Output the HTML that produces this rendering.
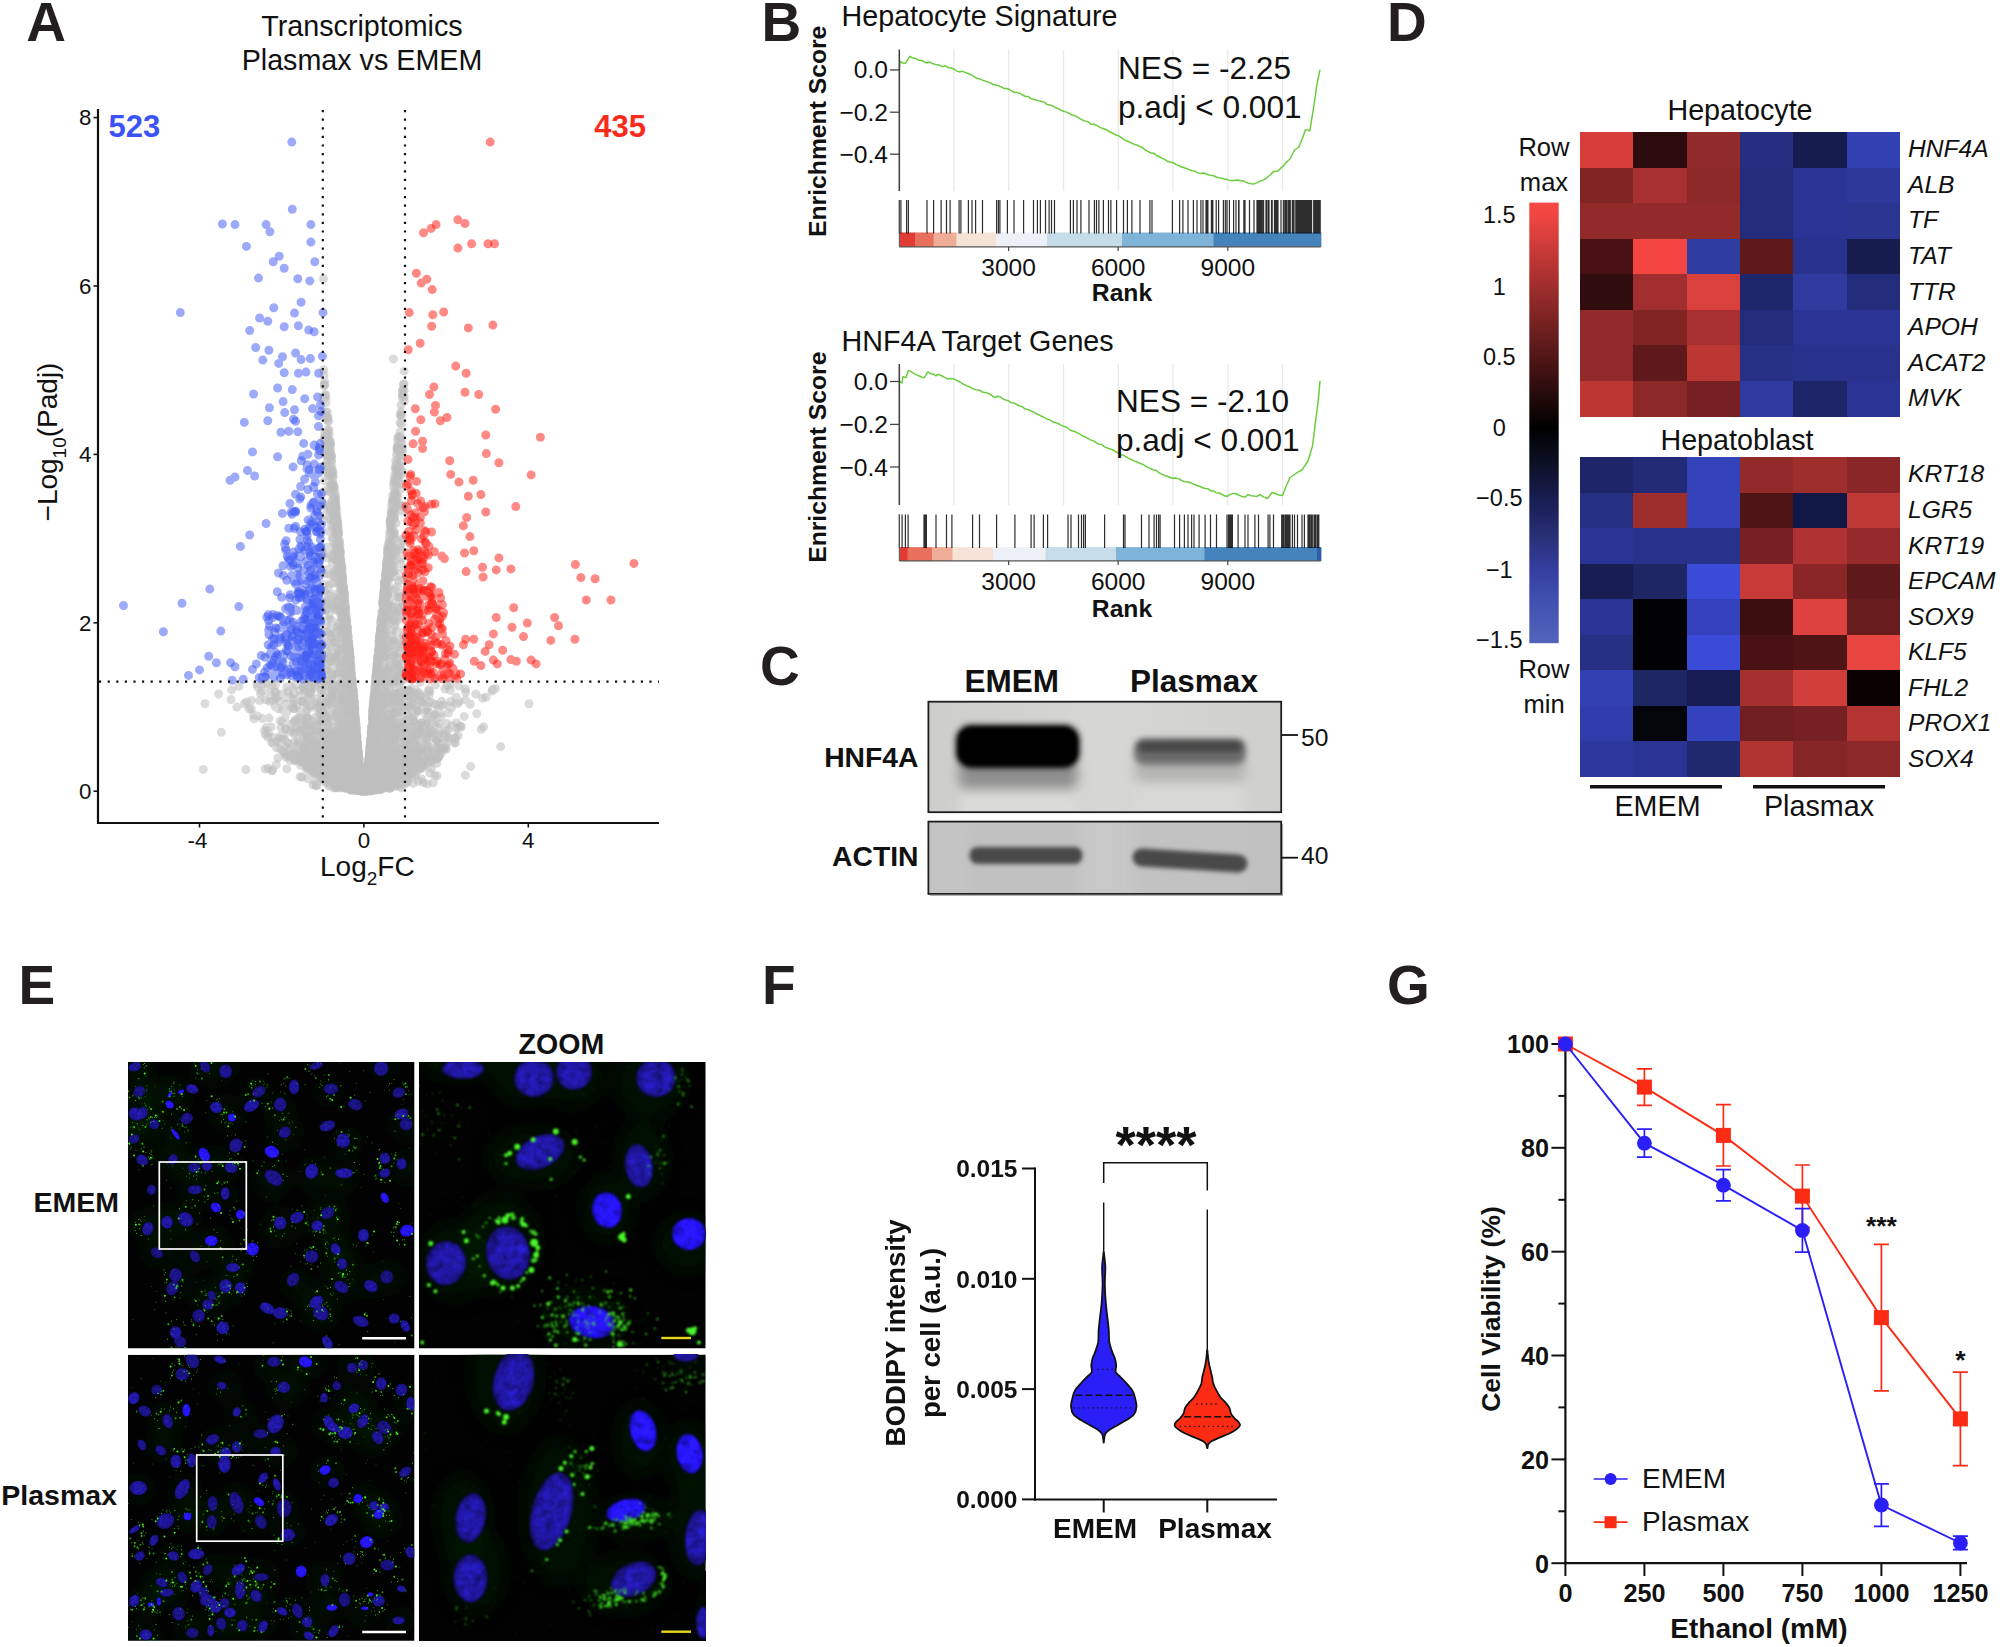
<!DOCTYPE html>
<html lang="en"><head><meta charset="utf-8"><title>Figure</title>
<style>
html,body{margin:0;padding:0;background:#fff;}
body{width:2000px;height:1647px;overflow:hidden;font-family:"Liberation Sans",sans-serif;}
svg{display:block;font-family:"Liberation Sans",sans-serif;}
</style></head><body>
<svg width="2000" height="1647" viewBox="0 0 2000 1647">
<rect width="2000" height="1647" fill="#fff"/>
<text x="26.3" y="41" font-size="55" text-anchor="start" font-weight="bold" font-style="normal" fill="#231f20" >A</text>
<text x="362" y="36" font-size="28.7" text-anchor="middle" font-weight="normal" font-style="normal" fill="#111" >Transcriptomics</text>
<text x="362" y="70" font-size="28.7" text-anchor="middle" font-weight="normal" font-style="normal" fill="#111" >Plasmax vs EMEM</text>
<path d="M361.7 789h0M314.5 731.9h0M362.8 787.9h0M315.9 708h0M342.7 699.3h0M402.6 451.6h0M381.2 785.2h0M330.7 629.9h0M333.7 601.2h0M340.6 779h0M396.9 733.2h0M384.6 781.9h0M431.8 722h0M290.8 731.1h0M348.6 648.6h0M338.9 738.4h0M398.7 580.4h0M394.3 778.3h0M329.8 443.6h0M358.2 751.8h0M417.5 710.7h0M363.7 791.1h0M359.8 788.4h0M392.9 517.7h0M345.7 755.8h0M341.1 783.3h0M329.6 441.9h0M370.4 782.5h0M381.3 625.7h0M347.2 782.9h0M384.1 785h0M332.6 782.4h0M384.5 760.5h0M348.4 785.8h0M353.4 786.5h0M361.4 781.8h0M369.3 788.3h0M333.9 690.4h0M387.8 713.5h0M392.3 753.4h0M357 747.5h0M347.9 772.5h0M361.9 790.8h0M360.1 772.9h0M375.4 683.2h0M349.9 721.5h0M383.1 766.9h0M347.9 654h0M441.6 701.3h0M334.1 696.1h0M323.1 774.2h0M360.4 782.7h0M359.6 788.9h0M361.6 788.6h0M362.3 789h0M359 787.5h0M385 644.2h0M366.3 783h0M349.4 782.9h0M382.7 778.1h0M417.6 698.2h0M337.9 534.7h0M322.7 767.8h0M371.4 758.9h0M315.2 744.4h0M374.2 783h0M333.8 652.9h0M352.1 749.7h0M331.3 620.3h0M337.1 774.9h0M402.7 398.6h0M423.1 695.2h0M382.4 722.8h0M357.6 749.1h0M369.5 788.5h0M312 743.3h0M365.5 786.1h0M336.1 518.5h0M325.5 775.5h0M394.8 779.2h0M340.7 783.9h0M342.4 619.9h0M382.7 604.4h0M324.7 381.9h0M371.8 786.7h0M391.3 645.7h0M353.4 694.5h0M367.3 776.1h0M357.7 769.6h0M381 783.9h0M347.4 760.1h0M364.6 788.1h0M349.3 708.8h0M385.1 751.3h0M231.6 689.9h0M380.1 789.2h0M362.6 786.5h0M332.4 706.6h0M346.4 657.9h0M331.4 460.9h0M367.4 789.1h0M331.2 700.2h0M345.9 631.3h0M342.8 783.9h0M352.2 777.9h0M343.8 787.7h0M360.4 786.1h0M339.8 783.2h0M369.4 788.3h0M330.9 740.4h0M358.9 777.5h0M350.9 779.1h0M351.6 754.8h0M369.6 782.3h0M350.5 779.4h0M346.2 615.2h0M365.4 789.6h0M363 787.1h0M341.1 569.3h0M342.8 784.8h0M341.3 769.9h0M375.7 765.6h0M352.5 688h0M401.7 748.6h0M374.7 699h0M387 764.3h0M362.4 789.8h0M325.2 685.6h0M359.2 790.4h0M364.4 789.3h0M310.3 756.7h0M458.8 685.8h0M369.8 788.5h0M329.1 761.6h0M363.9 789.1h0M348.3 782.4h0M354.1 789.5h0M377.2 667.5h0M364.8 786.4h0M371.9 726.7h0M354.1 701.2h0M366.2 788.9h0M366.1 787.1h0M339.6 554.5h0M374.5 732h0M378.3 781.6h0M358.1 788.4h0M370.8 789.1h0M431.6 702.3h0M367.8 788.4h0M368.1 770.9h0M362.8 788.8h0M379.7 651.7h0M338 782.4h0M315.9 731.9h0M455.5 737.4h0M382.1 624.5h0M305.2 748h0M367.7 789.3h0M350 658.7h0M347.8 650.9h0M386.2 591.6h0M361.8 789.6h0M345.9 619.3h0M394.3 767.8h0M392 536.1h0M369.2 789.4h0M398.8 735.3h0M341.3 782.3h0M352.6 687h0M381.4 783.9h0M360.1 788.3h0M351.9 786.4h0M371.9 754.3h0M384.8 706.4h0M349.4 787.9h0M266.5 727.6h0M360.3 789.4h0M379.3 651.2h0M390.6 778.7h0M398.3 759.3h0M409.3 765.5h0M370.6 783.3h0M359.9 788.7h0M324.9 714.1h0M366.8 780.1h0M365.9 782.5h0M370 754.1h0M356.1 788.9h0M337.9 563.6h0M393.4 359h0M391.4 546h0M354 788.9h0M350.9 773.6h0M438 711h0M387.9 773h0M268.2 768.2h0M364.4 791h0M351.8 788.7h0M303.2 735.3h0M376.2 684h0M365.4 786.2h0M379.8 657.2h0M372.7 788.2h0M318.5 731.1h0M378.4 783h0M377.7 682.1h0M402.2 749.4h0M330 471.4h0M374.3 765.6h0M354 781.2h0M383.4 780h0M361.7 789.6h0M323.5 750.3h0M359.2 758.8h0M363.9 790.3h0M383.7 766.4h0M371.3 788.8h0M393.9 753.2h0M359.3 766.3h0M296.9 754.4h0M368.4 770.3h0M376.2 779.5h0M338.2 782h0M366.4 787.7h0M353.8 702.8h0M336.6 530.6h0M351.7 754.1h0M357.1 788h0M392.7 778.6h0M353.7 786.1h0M335.7 781.1h0M387.3 580.4h0M361.7 790h0M333.5 622.3h0M377.2 663.9h0M357.5 743.9h0M363.5 789.9h0M364.7 789.3h0M386.5 602.3h0M377.7 671.7h0M331.5 780.3h0M355.3 769.7h0M366.7 789h0M279.6 736.5h0M345.3 612.7h0M362 786.2h0M354.5 782.4h0M429.4 725.3h0M353.6 786.1h0M368.3 769.4h0M358.4 790.2h0M326.1 609.6h0M381.9 772h0M357.8 746.1h0M351.3 787.9h0M396.4 662.2h0M331.7 461.4h0M314.4 771.7h0M362.1 785.2h0M421.1 702.1h0M440.1 713h0M386.8 758.6h0M380.4 686.9h0M369.8 789.2h0M361.6 780.4h0M368.7 789.1h0M366.8 788.9h0M430.3 761.1h0M372.6 789.2h0M365.7 789.6h0M384.9 774.8h0M340.7 594.3h0M336.6 782.8h0M369.6 786.6h0M339.2 609.6h0M343.9 687.7h0M357 787.8h0M368.1 767.1h0M358.1 787.9h0M360.4 789.9h0M363.9 789.4h0M359.5 766.2h0M412.2 693.6h0M353 761h0M419.2 692.7h0M398.8 658.2h0M372.9 709h0M349.7 756.9h0M356.2 728h0M372.2 786.6h0M382.7 786.1h0M372.4 717.4h0M371.6 786.4h0M323.9 659h0M354.9 788.9h0M330.1 440.6h0M384.1 595.6h0M358.3 759.4h0M368.6 789.2h0M348 768.5h0M369 784.2h0M356.2 788.4h0M383.5 780.8h0M350 769.6h0M355.4 762.4h0M362.8 788.3h0M398.6 668.1h0M382.8 730.3h0M362.6 788.2h0M377.8 670.8h0M362 789.1h0M338.5 781h0M365.8 789.4h0M348.5 786.8h0M371.6 785.3h0M391.5 773.3h0M361.4 783.1h0M320.3 732.3h0M440.6 748.6h0M366.4 789.3h0M299.9 696.1h0M355.3 758.8h0M356.5 781.5h0M356.4 780.4h0M307.2 765.3h0M356 788h0M436.3 704.5h0M394.5 616.4h0M400.7 780.4h0M326.7 768h0M347.9 709.6h0M399.4 597.6h0M351.2 674h0M373.8 789h0M373.3 789.5h0M362.3 788.9h0M316.3 756.4h0M381.1 754h0M363.9 790.7h0M271.1 726.9h0M337.6 686.7h0M329.9 760.7h0M377.4 663.7h0M337.2 777h0M349.6 778.2h0M363 786.4h0M344 596.1h0M373.5 788.2h0M404.5 748.8h0M386.6 779.3h0M340.6 735.3h0M387.6 593h0M354.2 785.2h0M372.2 784.1h0M390.4 524h0M381.5 688.4h0M361 789h0M350.3 718.8h0M394.5 477h0M318.9 753.5h0M351.9 782.1h0M395.7 779.6h0M342.8 784.4h0M387.2 722.7h0M374.9 783.7h0M372.7 788.5h0M379.1 786.1h0M374.8 785.2h0M354.5 707.2h0M359.2 786.5h0M404.4 401h0M389.5 578.1h0M343.9 739.2h0M328.3 718.9h0M374.2 778h0M397.6 737.1h0M381.9 734.7h0M341.2 778.1h0M353.1 786.7h0M363.7 790.5h0M351.3 770.7h0M358.3 753.2h0M350.6 787.3h0M368.5 786.7h0M369.9 769.5h0M349.3 651.9h0M354.2 781.4h0M380.4 775.9h0M365.9 791h0M337.8 783.2h0M345.8 786.2h0M388.2 675.7h0M322.3 750.5h0M354.5 786.8h0M360 788.9h0M371 739.6h0M338.8 777.8h0M387.8 763.9h0M368 787.9h0M340 683.5h0M361.6 781.8h0M338.8 783h0M389.6 695.7h0M374 786.9h0M384.3 589.7h0M377.2 784.2h0M375.2 787.8h0M327.5 417.7h0M408.3 768.8h0M375 782.2h0M358.8 782.1h0M371.9 725.9h0M371.2 786.6h0M397.1 778.3h0M348.4 759.8h0M340.5 777.9h0M435.5 684.7h0M318.7 772.6h0M236.9 707.1h0M356.8 736.1h0M374.3 779.1h0M328.8 769.5h0M378.3 677.7h0M422.1 722.6h0M365.5 788.1h0M368.9 764.3h0M373.1 787.3h0M383.6 609.2h0M367.1 785h0M381.5 787.6h0M330.3 465.2h0M374.9 765.4h0M370.5 744.4h0M451.5 707.7h0M360.8 786.4h0M353.4 698.7h0M393.2 713.4h0M374.6 694.1h0M420.4 768.7h0M363.4 790.3h0M359.9 790.4h0M341.9 605.3h0M336.1 787.8h0M357.2 784.7h0M351.8 776.3h0M350.6 754.8h0M329.9 632.8h0M379.5 636.8h0M390.7 518.3h0M361 787.4h0M352.9 688.8h0M378.6 657.1h0M344.6 613.3h0M371.9 786.5h0M392.8 780.5h0M368.6 764.2h0M369.5 785.3h0M336.4 535.3h0M343 741.4h0M419.6 748.6h0M355.8 780.6h0M387.4 569.4h0M355.8 726.9h0M386.1 765.2h0M358.1 772.6h0M364 789.6h0M376.3 787.8h0M360.3 772.1h0M356.4 789.3h0M375.5 739.8h0M380.4 787.4h0M370.1 788.8h0M371.1 747.8h0M353.6 700.1h0M321.9 778h0M348.6 770.6h0M366.1 789.9h0M326.4 606.8h0M340.5 775h0M358.6 764.2h0M362.7 787.2h0M389.1 623h0M385.3 778.9h0M356.9 743.7h0M361.3 787.4h0M391.5 552.1h0M316 757.2h0M330.2 455.8h0M327.3 776.9h0M418.7 735.6h0M335.8 529.9h0M334.8 771h0M369 759.7h0M316.6 768.3h0M325.7 394.7h0M350.8 664.8h0M367.4 790.6h0M358.9 788.2h0M348.4 663.4h0M317.9 767.9h0M399.6 728.2h0M377.9 777.8h0M325.3 778.9h0M339.1 542.8h0M393.4 561.2h0M352.1 776.6h0M351 782.8h0M348.3 663h0M344.6 784.6h0M347.2 784.9h0M334.6 778.2h0M358 751.6h0M361.1 787.2h0M398.2 436.7h0M373.9 783.5h0M347.6 775.4h0M354.3 782.3h0M422.6 752h0M333.6 694h0M368.9 788.8h0M341.6 781.8h0M427.1 745.6h0M383.8 785.8h0M350 781h0M328.8 779.2h0M425.2 695.9h0M375.7 766.4h0M354.8 787.9h0M386.1 671.5h0M369.9 750.7h0M397.4 697.1h0M307.7 727.9h0M385.9 608h0M394.4 738h0M372.5 724.4h0M400 563.8h0M323.6 554.8h0M399.6 779.6h0M320.8 776.6h0M365 788.8h0M363.9 787.9h0M368.6 781.6h0M378.1 738.3h0M331.4 624.6h0M412.5 716.9h0M330.6 661.8h0M387.4 775.5h0M376 784.3h0M301.4 761.8h0M384.8 753.8h0M335.6 778.8h0M395.5 693.6h0M307.1 683.5h0M361.8 786.4h0M353.4 789.1h0M387.1 646.9h0M361.1 778.5h0M368.1 788.6h0M372.9 715.2h0M344.1 777.7h0M380.3 674.7h0M387.3 671.7h0M407.7 762.4h0M352.7 692.5h0M293.5 698.3h0M337.8 552.7h0M379.2 784.5h0M347.8 634.5h0M370.9 775.6h0M362.9 790.4h0M350.6 785.7h0M423.4 760.7h0M320.2 775.6h0M393.5 517.6h0M341.3 780.1h0M358.6 789.9h0M368.9 762.1h0M367.2 775.8h0M355.9 725.6h0M338.6 533.8h0M387 784.2h0M326.2 740.1h0M373.4 778.6h0M336.1 777.6h0M349.2 785.1h0M368.1 786.5h0M376.4 671.7h0M346.8 748.5h0M388.1 780.8h0M381.3 782.8h0M421.9 738.7h0M374.3 708.6h0M330.6 717.7h0M385 758.1h0M352.3 766.3h0M420.2 748.1h0M403.6 748.8h0M381.6 711.8h0M375.9 712.6h0M374.3 786.4h0M358.1 756.7h0M349.8 763h0M361.9 789h0M385.8 691h0M416.6 741h0M362.2 790.5h0M322.1 707.6h0M390 771.5h0M363.4 789.4h0M335.8 755.9h0M358 780.2h0M387.2 780.6h0M355.9 751.6h0M357.9 788.9h0M381.7 786.4h0M328.7 449h0M376 780.2h0M333.6 507.2h0M393.5 501.3h0M361.2 790h0M357.9 759.4h0M391.2 570.9h0M366.8 789.3h0M367.9 769.7h0M431.4 768.5h0M345.2 784.9h0M327.4 489.8h0M339 552.8h0M382.5 625.5h0M273.2 743.5h0M362.1 787.9h0M414.6 767.4h0M411.5 692h0M362.8 789.8h0M305.9 744.1h0M346.8 784.3h0M381.5 715.4h0M352.6 754.4h0M365.8 785.9h0M305.5 727.5h0M389.9 770.8h0M360 789.3h0M343.5 588h0M351.5 787.3h0M347.5 779.8h0M353 697.8h0M367 788.5h0M348.5 769.5h0M357.7 789.8h0M350 658.2h0M362.1 788.5h0M387.6 768.9h0M394.1 770.4h0M269.6 701.3h0M394.3 773.6h0M368.2 767.4h0M355.5 788.9h0M371.2 745h0M358 760.8h0M374.4 696.3h0M401.7 606.6h0M326 658.4h0M379.6 763.6h0M369.8 786.4h0M323.7 412.1h0M345.2 779.5h0M366.4 789.6h0M349.4 738.4h0M349 783.9h0M356.4 759.1h0M382.3 785.1h0M377 779.6h0M366.2 790.9h0M358.9 765.3h0M394.5 476.5h0M362.2 785.3h0M333.2 714h0M362 788.7h0M351.9 782.6h0M374 695.8h0M347 636.4h0M390.3 757.5h0M365.5 789.8h0M380.5 631.7h0M347.9 704.3h0M354.2 763.8h0M288.2 756.2h0M379 787.2h0M382.6 783.7h0M359.9 771.5h0M303.5 751.8h0M365.1 790.6h0M331.7 779.6h0M370.1 784.7h0M376 788.9h0M358.8 788.3h0M334 753.4h0M383.5 609.6h0M346.4 784.7h0M342.1 774.9h0M386.8 641.2h0M383 708.8h0M361 776.3h0M373.6 787.6h0M343.7 725.5h0M348.9 737.3h0M382.8 771h0M381 758.1h0M374.3 770.8h0M335.3 533.4h0M290.6 748.2h0M269 718.1h0M373.5 789.9h0M388.5 776h0M380.2 782.5h0M486.1 697.3h0M383.9 773.6h0M386.3 582.2h0M339.2 765.5h0M415.5 765.7h0M353.6 702.5h0M331.9 648.5h0M352.9 733.3h0M399.8 448.6h0M372.8 714.1h0M351.7 681.7h0M383.5 786.1h0M370.4 742.7h0M364.2 790.2h0M362.1 785.4h0M394.8 480.2h0M371.7 741.7h0M376 781.5h0M360.4 788.2h0M378.9 649.6h0M364.1 789.2h0M370.2 763h0M350 785.7h0M343.2 593.7h0M339.7 548.6h0M395.7 768.9h0M362.9 790.7h0M347 628.2h0M348.4 712.5h0M361.6 788.6h0M361 789.7h0M332.4 472.8h0M389.9 775h0M404 383.7h0M350 705.2h0M370.6 745.2h0M344.5 783.7h0M342.8 580h0M365.7 784.9h0M358.5 787.2h0M367.3 787.9h0M340.6 637.5h0M398.9 464.7h0M355 788.8h0M335.9 511.9h0M378.6 781.1h0M338.1 598.9h0M408.6 763.5h0M395.8 759.5h0M351.1 788.8h0M376.7 692.2h0M333.1 776.5h0M294.5 742.2h0M331 458.9h0M368.1 768h0M387.4 557.4h0M359.9 768.8h0M352.3 784.3h0M338.3 755.8h0M352.6 774.7h0M377.9 655.2h0M362.9 788.2h0M364.7 789.1h0M256.9 684.1h0M377.8 678.3h0M362.4 789h0M339.7 667.2h0M361.1 788.9h0M388.9 768.7h0M346 676.1h0M368.5 784.3h0M365.6 790h0M460.7 726.1h0M423.8 741.8h0M367.7 773h0M356.5 786h0M382.8 767.6h0M368.9 788h0M349.7 732.3h0M389.3 547.7h0M358.4 788.7h0M369.5 786.7h0M395 493.6h0M385.1 611.9h0M369.7 789.7h0M378.7 650.9h0M426.9 701h0M350.2 787.9h0M362.5 790.4h0M331.8 773.7h0M373.7 704.4h0M366.5 790.7h0M370.4 744.3h0M327.6 599.9h0M346.5 767.6h0M331.9 779.6h0M356.2 738.1h0M311.5 731.1h0M356.9 787.2h0M368.4 770.3h0M325.4 774.9h0M356 786.8h0M376 710.4h0M379.2 787.1h0M355.3 788.7h0M355.2 767.7h0M366.2 782.2h0M368 768.5h0M349.1 788h0M392.5 545.8h0M353.1 741h0M390.4 545.1h0M340.4 729.6h0M354.7 723.9h0M284.1 735.5h0M395 473.7h0M387.5 693.6h0M390.8 781.2h0M365.8 787.8h0M369.4 788.4h0M292.6 750.7h0M379.4 746.6h0M355.9 785h0M369.9 784.9h0M355 785.6h0M362.7 789.5h0M350.8 666.8h0M380.7 780.2h0M306.3 717.4h0M384.7 586.5h0M326.7 656.1h0M401.3 415.9h0M356.5 788.1h0M351.3 684.5h0M341.3 667.3h0M356.8 788.9h0M340.1 590.5h0M378.9 762.3h0M337.3 542.3h0M388.4 573.5h0M448.6 705.9h0M354.8 707.8h0M334.3 571.6h0M336.2 507.2h0M392.2 736.5h0M366.4 778.3h0M400.4 778.2h0M384.7 785.5h0M398.4 657.8h0M366.2 790.1h0M344.7 781.7h0M354.5 779h0M368.1 768.4h0M396 523.2h0M362.6 790.6h0M348.4 733.1h0M343.8 599.9h0M276.6 747.7h0M361.2 787.9h0M345.5 611.2h0M373.9 741.9h0M383.3 596.4h0M365.6 790.1h0M351 765.3h0M383.7 783.1h0M363 790h0M380.9 780.9h0M321.4 721.4h0M378.4 788h0M346.3 784.5h0M343.2 756.3h0M404.4 762.2h0M332.6 528h0M337.1 530.9h0M377.2 783.8h0M434.5 714.7h0M371.8 728.8h0M361.6 789.2h0M372.6 785.5h0M370.8 787.9h0M355.2 786.8h0M398.6 502.8h0M344.2 763.8h0M388 605.4h0M340.5 781.9h0M354.6 778.4h0M381.1 671h0M455.5 742.7h0M353 783.4h0M366.3 790.3h0M348.9 700.2h0M361.2 788.9h0M369 758.3h0M394.1 511h0M381 621.2h0M409.4 750.7h0M356.5 788.2h0M373.5 711.1h0M352.4 787.2h0M398.4 581.1h0M343.7 774.3h0M316.3 764.6h0M351.7 783.9h0M399.2 672.6h0M346 627.1h0M375.8 776.6h0M354.8 714.8h0M378.2 784.8h0M352.1 701.7h0M364.2 789.2h0M337.7 545.4h0M432.2 702.9h0M356 786.7h0M334.6 719.9h0M349.7 765.8h0M428.7 751.5h0M356 787.5h0M371.4 745.7h0M411.2 773h0M329 773h0M379.2 785.6h0M408.8 740.2h0M372.1 786.7h0M402.7 390.1h0M398.1 609.8h0M374.6 787.4h0M383.9 753.4h0M379 650.9h0M366 782.3h0M378.8 651.5h0M357.9 781.7h0M333.9 774h0M353.2 692.2h0M342.5 780.7h0M352.4 788.3h0M346.4 674.8h0M398.8 696.6h0M348.6 783.8h0M370.3 787.3h0M417.3 754.2h0M366.3 782.6h0M328 429.7h0M341.1 627.2h0M356 787.2h0M366.8 774.7h0M394.5 510.7h0M341.3 738.3h0M331.4 778.4h0M350.3 659.8h0M384.9 586.8h0M356.3 781.6h0M358.8 762.3h0M368.5 762.7h0M393.5 748.3h0M328.4 745.4h0M334.9 504.4h0M435.9 740.2h0M429.1 691h0M387.3 782.6h0M353.6 731.9h0M327.7 778h0M329.3 434.8h0M352.7 692.6h0M330 757.5h0M377.3 695h0M386.2 745.3h0M428 757.8h0M372 766.4h0M385.8 700.4h0M362.4 789.7h0M357.3 788.9h0M346.4 616.8h0M351 676.1h0M358 750.9h0M378.5 722h0M385.8 729.9h0M340.8 581.8h0M332.3 780.1h0M378.1 755.4h0M353.7 778.1h0M396.7 781.4h0M326.2 776.4h0M354.8 786.2h0M327.3 412h0M393.3 640.5h0M362.7 790.4h0M391.7 776.8h0M368.7 759.9h0M359.6 770.4h0M358.1 785.6h0M304.2 694.5h0M374.3 696.5h0M363 788.2h0M397.2 752.9h0M366.7 788.6h0M377.2 764.6h0M350.2 657h0M389.5 566.5h0M349.5 658.4h0M363.9 788.7h0M377.3 787.4h0M308.1 767.3h0M310.5 741.4h0M394.2 726.5h0M351.3 755.5h0M370.5 788.5h0M396.1 468.6h0M373.5 712.3h0M353.7 757.2h0M360.6 778.8h0M317.5 738.9h0M381.5 747.6h0M353.3 773.8h0M333.9 642.5h0M370 765.9h0M331.2 487.7h0M319.7 758.9h0M327.1 671.1h0M376.5 783.1h0M414.1 752.2h0M364.5 789.7h0M397.7 477.1h0M390.3 701.3h0M359.9 788.4h0M348.4 765.4h0M317.7 769.9h0M324.6 433.2h0M392.1 777.9h0M365.5 786.8h0M366.2 785.4h0M365.6 785.2h0M348.8 655.7h0M402.4 395.6h0M392.4 780.6h0M400.3 483.7h0M377.8 768h0M304.9 689.2h0M357.8 789h0M432 755h0M344 783.9h0M358.2 784.6h0M383.2 655.4h0M293.5 708.5h0M350 778.9h0M377 771.4h0M357.4 743.5h0M364.9 788.4h0M384 772.5h0M354.3 769.9h0M338.9 543.1h0M356.6 787.3h0M372.4 789.5h0M418.3 728.6h0M361.5 789.9h0M385.9 595.5h0M371.8 788.6h0M380.8 729.6h0M390.2 526.1h0M350.3 663.7h0M358.5 762.7h0M346.7 754h0M361.7 790.4h0M422.9 762.2h0M395.7 772h0M366.1 789.5h0M394.5 740.8h0M367.4 774.3h0M335.5 693.4h0M350 660.1h0M384.9 767h0M317.6 773.1h0M318.6 773h0M355.8 740.2h0M348.7 771.3h0M342.1 776.9h0M345.1 625.8h0M369.1 785.9h0M382.8 766.5h0M367.4 786.9h0M370.8 777h0M359.8 770.9h0M313.8 763.4h0M400 751.3h0M382.3 689.6h0M399.2 759.6h0M364.3 791h0M369.7 788.1h0M387.9 697.3h0M354.7 789.3h0M368.4 779.8h0M364.9 788.8h0M337.9 776.7h0M354.8 771.5h0M356.9 751.1h0M314.9 769.5h0M376.9 701.6h0M376.8 786.2h0M351.7 784.3h0M373.6 712.9h0M369.7 789.6h0M368.7 787.8h0M331.6 678.8h0M326 445.5h0M360.8 776.3h0M377.5 750.7h0M354.6 707.4h0M340.1 740.6h0M383.5 716.5h0M398.8 775.4h0M386.1 573.6h0M347 626.9h0M347.6 636.4h0M402.3 750.1h0M370.2 789.5h0M342.8 780.8h0M382.3 624.1h0M367.2 788.9h0M388 785.3h0M366 783.8h0M389.9 775.8h0M361.4 784.8h0M341 776.5h0M333.5 522.1h0M319.8 769.3h0M364 789.5h0M356.4 786.9h0M352.1 720.7h0M318.5 764.1h0M343.8 618.5h0M323.3 468.7h0M386 784.9h0M425.3 745.7h0M344 703.2h0M351 763.3h0M365.2 786h0M336.9 522h0M375.7 789.1h0M352.6 774.9h0M380.3 635.9h0M354.3 786.6h0M431.4 720.1h0M384.1 781.9h0M367.7 769.4h0M348.8 646h0M324 375.2h0M357.7 782.5h0M359.4 785.1h0M402.2 769h0M394.6 675.8h0M346.9 785.8h0M441.8 748.7h0M359.1 760.1h0M362.3 789.7h0M368.3 790.2h0M340.4 785h0M395.1 771.5h0M391.5 514.2h0M373.9 699.5h0M400.3 770.4h0M342.6 576.3h0M347.4 752h0M352.6 753.1h0M355.4 789.2h0M373.6 757h0M427.2 783.9h0M279.2 701.2h0M357.2 780.2h0M371.5 786.7h0M344.2 594.9h0M385.8 724.7h0M262.6 684.2h0M378.7 788.4h0M339.7 555.5h0M334.3 498h0M345.9 770.1h0M379.8 772.9h0M339.1 671.7h0M358.9 773.5h0M357.6 786.6h0M262.5 718.6h0M361.6 781.4h0M356.5 771.3h0M356.7 788.1h0M343.1 773.1h0M334.9 760.6h0M367.7 784.5h0M341.6 634.5h0M355.7 789.2h0M305.9 737.6h0M353.6 786.7h0M365.7 790.3h0M334.3 715.1h0M340.1 780h0M385.9 681.8h0M385.4 592.4h0M383.5 772.6h0M330.2 509.8h0M383.4 747.4h0M375.5 771.2h0M369.6 760h0M378.8 787.9h0M372 789.6h0M416.4 735.9h0M370.6 787.3h0M346.6 620.4h0M321.5 690.2h0M351.5 781.3h0M274.8 692.7h0M341.7 730.6h0M349.8 762.3h0M357.3 780.4h0M324.2 733h0M405.4 777.5h0M343.9 638.2h0M343.9 600.4h0M387.7 778.7h0M336.7 518.2h0M371.2 777.4h0M350.2 782.4h0M333.3 692.7h0M383.6 596.1h0M347.9 775.1h0M375.5 785.6h0M388.3 783.8h0M370.5 785h0M318.8 763.5h0M410.9 765h0M367.2 789.8h0M361.8 788.2h0M397.3 768.4h0M371.4 734.3h0M379 754.8h0M368.3 788.5h0M371.6 790.1h0M383.8 771.7h0M310.2 688h0M366.5 784.8h0M363.6 789.2h0M338.2 753.4h0M335 779.8h0M343 782.3h0M328 436.3h0M360.8 789.4h0M335.8 744h0M325.8 455.3h0M355.8 787.7h0M367.4 773.5h0M354.5 733.3h0M400.5 563h0M367.2 789.1h0M434 755.8h0M435.2 753.4h0" fill="none" stroke="#bebebe" stroke-width="9.0" stroke-linecap="round" stroke-opacity="0.55"/>
<path d="M360 784.7h0M354 789.6h0M372.8 783.6h0M371.8 785.7h0M354.4 761.5h0M340.9 784.9h0M396 778.2h0M390.1 728.4h0M334.3 503.1h0M382.6 648.1h0M376.8 769.7h0M308.4 694.3h0M419.9 730.6h0M346.6 787.1h0M257.5 687.1h0M353.9 699.9h0M389.8 560.9h0M378.4 717.9h0M401.4 711.2h0M387.4 765.2h0M366.8 778.8h0M395 468h0M361.8 785h0M357 787.8h0M367.6 785.7h0M379.5 784.1h0M380.8 783.8h0M385.8 619.5h0M347.9 785h0M399.6 619.1h0M370.8 785.2h0M360.2 783h0M391.8 556h0M361 788.3h0M339.3 767.5h0M393.9 513.5h0M399.9 757.2h0M380.9 785.2h0M368.9 763.8h0M384.2 586h0M371.7 726.5h0M329.2 547.2h0M338 785h0M353.7 789.5h0M364 789.5h0M366.8 776.4h0M322.2 730.4h0M374.7 789.6h0M348.8 779h0M385.5 721.5h0M354 704h0M372.7 720.4h0M343.7 603.6h0M338.7 762.1h0M313.1 747.3h0M356.4 774.1h0M301.4 761.6h0M330.7 690.3h0M323.7 439.6h0M373 769h0M391.7 512.7h0M316.5 770h0M335.6 750.2h0M346.7 643.6h0M332 754.9h0M353 739.3h0M405.3 733.6h0M383 730.8h0M379.2 776.2h0M382 784h0M332.8 745.3h0M354.3 785.1h0M360.8 784.9h0M346.1 785.8h0M384.9 582.5h0M366.6 782.9h0M429.3 712.8h0M356.6 766.3h0M381.4 783.5h0M300.1 724.5h0M365 786.7h0M369.1 789.4h0M370.5 752.6h0M374.9 782.5h0M405.8 776.1h0M350.1 788.1h0M345.7 606.7h0M349.9 786.9h0M360.4 771h0M337.5 774.5h0M359.7 788.3h0M394.8 746.6h0M330.6 451h0M351.7 685.3h0M350.3 783h0M409.9 778h0M450.3 690.3h0M371.5 730.3h0M395.8 460.2h0M367.1 778.2h0M375 690.7h0M394.2 484h0M344 592.4h0M341.1 567.8h0M345.5 713.1h0M391.1 525.7h0M358.3 789.3h0M296.5 755.3h0M362.6 790h0M363.4 790.5h0M341.1 669.2h0M388.2 780.9h0M380.9 785.3h0M348.1 787.7h0M352.2 784.7h0M375 767.3h0M359.1 787.1h0M359.7 780.3h0M378.2 779.9h0M334.3 497h0M388.2 739.8h0M432.9 750.3h0M391.1 672h0M359.3 783.2h0M349.4 781.3h0M379.4 747.2h0M385.8 760h0M239 686.3h0M388.6 771.6h0M325.1 717.4h0M370.6 738.8h0M377.9 784.8h0M355 716.1h0M364.6 788.2h0M367.2 790h0M380 633.5h0M375.4 685.5h0M360 790.6h0M303.3 729.6h0M365.5 785.1h0M343.2 783.6h0M380.7 786.9h0M367.1 787.4h0M375.5 787.1h0M388.6 778.1h0M367.6 789.4h0M316 730.2h0M333.5 765.8h0M355.2 786.1h0M351.3 752h0M371.4 751.6h0M446.1 749.4h0M345 767.2h0M383.9 782h0M340.4 576.2h0M361.4 780h0M364.9 789.1h0M362 784.8h0M374.7 689.4h0M316.7 739.2h0M383.6 624.2h0M390.6 781.5h0M388.7 779.7h0M387.3 785.1h0M301.7 718.1h0M371.4 781.6h0M360 782h0M386.5 754.1h0M451.4 726.1h0M327.6 684.3h0M359.5 771.9h0M342.8 739.8h0M363.5 789.1h0M368.7 767.5h0M387.1 560.5h0M372.3 785.7h0M364.2 791h0M378.5 782.6h0M351.6 729.8h0M339.6 560.8h0M333.2 473h0M365.2 789.3h0M354.4 702h0M345.5 640.6h0M356.9 788.1h0M378.3 788.5h0M357.5 776.5h0M330.2 485h0M311.3 754.9h0M376.1 782.8h0M351.6 779.9h0M366.6 789.7h0M397.3 473.4h0M364.7 787.9h0M316.9 725.3h0M380 782.9h0M352 770.1h0M333.8 776h0M380.4 770.9h0M344 762.6h0M368.4 789.5h0M328.2 740.2h0M398.2 643.7h0M373.3 710.3h0M330.5 778.7h0M356.5 785.2h0M392.8 728.9h0M358.3 788.6h0M338.4 548.2h0M361.5 780.5h0M355.6 723.2h0M387.7 558.2h0M384 601.2h0M386.7 718.4h0M378.1 785.8h0M391.2 619.4h0M355 712.3h0M351.2 768.6h0M330.2 445.3h0M353.7 717.1h0M377.7 764.3h0M351.8 788.8h0M360.4 781.6h0M354.3 782.5h0M357 775h0M382 789.1h0M349.7 778.9h0M400.6 615.9h0M386.7 786.7h0M355.8 789.1h0M364.1 790.6h0M353.9 786.6h0M333.6 608.5h0M396.4 462.4h0M362.5 785.1h0M349.9 685.2h0M364.5 789.2h0M328.1 684.6h0M357.4 788h0M323.4 771.4h0M357.2 742.9h0M332 773.8h0M364.4 788.8h0M309.4 700.4h0M355.4 728.8h0M380.2 777.7h0M369.8 788.4h0M385.6 579.9h0M380.4 783.4h0M370.6 777.3h0M374.6 699.5h0M355.7 721.5h0M481.2 729.3h0M364 790.8h0M346.5 624.7h0M361.4 782.2h0M315.7 751.3h0M400.3 546.9h0M364.2 790.8h0M400.2 778.9h0M383.7 592.7h0M368.3 765h0M403.5 384.4h0M375.1 787.4h0M376.9 678.6h0M338.9 735.4h0M365.4 785.4h0M374.8 782.7h0M376.4 783.5h0M394.7 518.1h0M307.1 740h0M376.8 763.2h0M334.7 780.8h0M405.3 770.9h0M372 789.6h0M378.9 644.8h0M417.3 735.6h0M353.3 701.6h0M357.5 745.5h0M349.7 786.3h0M364.4 789.4h0M383.1 677.6h0M407.2 763h0M375.9 759.5h0M352.2 689.7h0M352 678.6h0M348.7 649.3h0M368.3 787.4h0M366.7 777.6h0M272 770.7h0M366.2 790.5h0M381.4 759.6h0M337.7 780.9h0M353.9 701.2h0M403 741.2h0M410.9 693.1h0M337.3 753.8h0M357.1 744.2h0M387.3 647.9h0M361.7 789.2h0M320.4 774.1h0M381.5 784.3h0M333.4 488h0M383.9 783h0M396.4 779.7h0M384.1 701.4h0M383.7 780.3h0M348 785.5h0M364.3 789.9h0M345.1 602.9h0M366.1 788.3h0M394.5 533.5h0M327.1 547.5h0M387.7 770.6h0M369.4 788.1h0M346.7 776.6h0M348.3 635.6h0M356.9 743.7h0M349 773.1h0M392.9 776.7h0M354.4 732.8h0M452.7 726.1h0M390.4 642.3h0M327.5 765.7h0M331.7 762.4h0M368.3 788.6h0M376 677.5h0M415.1 759h0M347 641.4h0M345.1 607.3h0M348.8 647.4h0M355.7 789.2h0M404.1 371.1h0M400.6 771.3h0M370 754.7h0M394.7 776.8h0M402.4 394h0M390.6 544.7h0M414.1 698.7h0M363.3 788.5h0M359.5 775.7h0M359.8 788.3h0M366.2 783.1h0M375.7 777.1h0M428.8 712.5h0M415.1 772.7h0M365.4 785.7h0M288.2 692h0M332.5 674.6h0M428.6 761.8h0M294.2 759.5h0M348.8 787.3h0M375.8 786.7h0M367.9 773.9h0M379.8 650.8h0M358.4 790h0M373.1 787.4h0M344.1 779.2h0M359.2 783.2h0M357.4 779.8h0M398.8 703.3h0M346.8 769h0M361.8 788.8h0M391.9 530.8h0M349.8 664.1h0M366.9 774.6h0M435.8 747.6h0M386.2 581.1h0M364.1 790.6h0M335.8 752.6h0M362.9 788.6h0M358.3 788.1h0M346.8 759.1h0M336.8 774.9h0M373.5 704.9h0M370.7 744.2h0M384.2 782.3h0M396.3 694.3h0M361 786.3h0M376.8 784.2h0M342.7 687.7h0M344.9 785.5h0M359.3 787.1h0M390.1 787.9h0M373.1 787.4h0M387 756.5h0M358 786.2h0M375.3 773.9h0M364.1 788.9h0M326.9 718.8h0M355.2 722.9h0M364 789.2h0M342.8 784.3h0M328.1 458h0M329.2 743.5h0M285.1 754.1h0M384.1 781h0M401.8 671.8h0M338.8 769.4h0M371.1 739.6h0M393.5 783.5h0M387.5 765.4h0M353.3 787h0M335.7 786.6h0M361.4 789.5h0M332.5 766.4h0M340 737.4h0M400.1 759.9h0M382.5 781.1h0M345.8 779.7h0M429.2 694.7h0M348.3 725.8h0M379.1 641.3h0M338.4 552.7h0M376.3 789h0M356.9 739.7h0M355.6 786h0M334.7 756.8h0M375.4 786.3h0M398.9 439.1h0M335.6 765.9h0M345.7 786h0M329.7 697.8h0M384.9 612.3h0M397.9 496h0M356.2 789.4h0M373.5 788.8h0M436.6 750.5h0M369.2 790.4h0M381.6 779.2h0M374.3 749.3h0M371.6 788.4h0M379 785h0M334.6 780.5h0M379.8 768.2h0M365.3 787.4h0M358.4 759.6h0M338 550.6h0M352.4 774.5h0M349.4 655.5h0M374.3 705.4h0M347.5 768.9h0M336.3 717.2h0M365.3 789.1h0M359.2 787.7h0M352.2 770.4h0M347.9 786.6h0M381.5 748.5h0M384.6 585.5h0M385.6 617.6h0M321.9 779.8h0M349.4 786h0M370.8 743.6h0M336.3 528.5h0M366.9 788.3h0M359 760.1h0M338.1 773.4h0M420.8 767.7h0M368.1 789.7h0M419 765.7h0M360.2 790.9h0M373.4 752h0M341.4 571.2h0M392.5 782.7h0M344.1 761.8h0M346.1 624h0M377.1 778h0M348.7 784.8h0M369.9 748.7h0M276.2 692.3h0M379.2 783.6h0M337.9 781.3h0M385.9 576.6h0M365.6 783.3h0M403.5 763.8h0M403.8 579.7h0M358.4 786.1h0M338.9 695.1h0M392.6 499.7h0M348.9 737.6h0M347.2 637.4h0M393.7 765.8h0M330.7 575.2h0M385.5 686h0M365.1 790.1h0M391.2 776.8h0M347.5 630.2h0M359.7 788h0M395.5 741.7h0M413.3 734.1h0M361.8 781.5h0M279 738.6h0M399.8 490.4h0M344.7 785.8h0M356.2 781h0M366.2 784.3h0M331.1 769.7h0M369.2 789.7h0M370.8 783.3h0M378.6 649.4h0M369.3 787.5h0M348.1 752.9h0M394 570h0M369.6 767.6h0M364.7 789.3h0M346.9 777.6h0M366.7 777.1h0M358 789.8h0M374.3 786.8h0M374.4 695h0M401.1 771.8h0M394 562.6h0M391.8 778.6h0M221.3 732.2h0M286.7 712.1h0M380.7 752.9h0M378.9 782h0M341 785.2h0M345.6 722.5h0M354.3 751.6h0M374.1 782.3h0M400.9 559.1h0M380.9 777.4h0M343.6 784.6h0M399 773.5h0M396.3 778.9h0M441.1 753.7h0M379.3 715.5h0M323.6 761.1h0M358.4 788.6h0M367.7 790.4h0M386.2 588.7h0M335.3 528.7h0M357.2 789.7h0M331.1 684.2h0M394.8 777.2h0M372.9 783.8h0M366.1 781.8h0M347.3 756.7h0M342.1 742.2h0M357.8 787.8h0M358.6 758.4h0M340.9 779.1h0M350.8 786.4h0M378.4 762.7h0M405.5 776.4h0M359.5 785.9h0M340.6 741.9h0M364.7 790.9h0M376.4 780.5h0M362.8 787.7h0M373.6 763.9h0M327 417h0M362.6 785.8h0M319.9 728h0M360.8 776.6h0M340.4 698.3h0M332.5 778.4h0M358.2 790.5h0M367.6 772.1h0M387.8 552.8h0M334.3 558.4h0M369.8 760.3h0M353.6 698.1h0M367.6 788.3h0M409.4 765.5h0M375.9 787.4h0M280.3 749h0M372.7 789h0M416.8 746.1h0M307.2 761.6h0M342.5 786.1h0M321.7 756.6h0M374.6 785h0M337.9 783h0M359 763.4h0M370.6 741h0M295.6 759h0M333.5 735h0M363.3 790.3h0M374.1 737.6h0M371.9 775.4h0M396.9 773.9h0M410.2 759.6h0M384.2 747.5h0M386.3 604.3h0M354 787.1h0M380.3 749.2h0M342.2 782h0M435.4 714.4h0M365.4 789.1h0M329.8 765.9h0M361.4 786.4h0M378 774.6h0M399.9 723.4h0M361 788.6h0M373 787.4h0M353.2 782.4h0M349.8 656.2h0M361 788.2h0M371.7 784.8h0M320.6 746.9h0M349.2 778.6h0M400.9 414.1h0M343.2 697.9h0M366.7 790.9h0M416.3 765.1h0M360.5 789.6h0M381 641.8h0M385.3 785.5h0M348 636.9h0M286 704.3h0M378.5 784.6h0M411.8 688.4h0M349.7 739.3h0M364.3 788.8h0M357.3 784.6h0M382.1 781.6h0M398.5 663.7h0M345.4 786.5h0M350 787.6h0M381.7 771.5h0M357.2 779.3h0M376.3 782.5h0M350.8 788h0M381.4 785h0M337.7 778.1h0M359.9 790.5h0M384.2 592.5h0M326.3 763.7h0M276.2 764.7h0M362.5 789.2h0M364.9 789.3h0M348.2 780.1h0M397.2 658.1h0M363.3 790.2h0M329.9 451.7h0M369 761.6h0M346.9 641h0M450.5 701.6h0M352.9 783.9h0M361.2 781.5h0M355.2 786.4h0M358.7 774h0M376.1 774.8h0M378.6 742.4h0M365.5 786.7h0M359.2 769.1h0M329.6 454.1h0M386.9 645.2h0M359.9 786.4h0M326.2 768.2h0M337.4 654.9h0M405.6 720.6h0M401 440.8h0M361.9 789.7h0M387.1 617.5h0M355.7 779.8h0M385.4 574.7h0M337.8 551.7h0M361.8 790.6h0M353.8 785h0M382.4 729.3h0M370.3 786.4h0M383.9 783.9h0M344 782.9h0M382.6 787.1h0M409.2 748.4h0M337.2 777.9h0M364.5 789.2h0M357.2 753.7h0M356.7 788.3h0M417.6 751.8h0M338.5 745.6h0M365.9 788.8h0M365.7 783.2h0M332.2 548.4h0M355.4 719.1h0M444.7 731h0M364.7 789.2h0M439.6 705.6h0M393.8 740.7h0M362.1 784.6h0M358.9 786.7h0M357.5 746.2h0M351.3 774.1h0M419.4 762.4h0M372.3 772.7h0M356.3 785.9h0M373.6 785.3h0M338.3 784.4h0M360.9 789.5h0M394.4 651.3h0M367.3 787.8h0M399.7 694.9h0M326.8 685.8h0M341.7 784.1h0M403.6 776.8h0M369.5 785.4h0M376.7 786.5h0M346 784.6h0M396.9 768.1h0M380 778.6h0M365.8 790h0M389.6 778.5h0M342.2 782.9h0M364.5 789.1h0M370.2 788.7h0M400.5 775.5h0M377.8 786.5h0M328 778.4h0M351.4 699.8h0M355.5 787.3h0M355.1 719.1h0M374 788.3h0M356.1 788h0M364 789.9h0M384.7 774.4h0M402.4 672.1h0M344 777.8h0M372.8 711.8h0M375 725h0M293.8 722.2h0M362.3 789.5h0M395.3 751.9h0M376.7 788.5h0M359.9 770.7h0M456.3 728.6h0M366 789.1h0M470.6 766.4h0M412.1 706.1h0M361.9 783.8h0M350 747.7h0M402.7 777.4h0M369.8 789.4h0M331.1 777.9h0M321.7 722.4h0M324.3 384.7h0M372.8 785.1h0M369.5 760.9h0M413.7 773h0M367.1 788.6h0M394.9 760.8h0M379.7 665.6h0M376.6 674.7h0M375.6 708.8h0M359.8 768.6h0M346.2 637.6h0M380 695h0M385.5 782h0M352.8 742.9h0M370.5 786.5h0M331.4 688.4h0M407 690.9h0M368.2 787.8h0M328.3 746.8h0M356.9 777.8h0M354.5 784.4h0M351.1 784.9h0M437.4 746.8h0M293.8 734h0M348.3 781.7h0M382.8 785.7h0M353.6 778.5h0M352.8 788.7h0M333.6 775.8h0M345.8 785.8h0M335 751.1h0M298.7 719.2h0M343.8 615.5h0M358.2 784.5h0M338.3 548.2h0M335.7 767h0M354.8 756.5h0M354.6 786.8h0M359.5 789.6h0M341.3 564.8h0M352.1 786.3h0M375.8 765.7h0M368 785.6h0M401.8 774.5h0M339.8 550.5h0M407.5 695.9h0M348.7 641.4h0M342.2 778.5h0M373.2 712.7h0M374.7 786.9h0M439.1 723.6h0M339.3 582.5h0M336.5 712.7h0M358.1 789.7h0M345.9 780.6h0M360.4 790.5h0M393.7 740.3h0M357.5 790h0M365.6 784.3h0M369.9 781.2h0M332.7 781.6h0M282.4 709.5h0M370.9 748.3h0M361.6 786.8h0M383.2 612h0M339.5 787.4h0M352.1 785.1h0M362.4 787.7h0M352.5 768.1h0M308.9 757.8h0M373.4 712.6h0M330.2 745.8h0M305.8 763.3h0M388.4 780.4h0M337.1 782.6h0M358.4 789.4h0M326.8 764.6h0M385 767.4h0M379.4 645.1h0M383.4 596.9h0M373 786h0M319.3 682h0M345.7 786.4h0M380.3 785.4h0M342.9 610.1h0M327.9 466.2h0M316.3 785.8h0M351.9 769.3h0M382.8 603h0M346.4 671.2h0M376.6 787.2h0M384 717.1h0M394.5 620.1h0M331.8 779.5h0M394.7 730.5h0M372.8 775.6h0M339.1 743.2h0M361 789.4h0M341.2 638.7h0M371.4 789h0M348 782.8h0M342.8 759.5h0M395.2 765.5h0M354.4 773.2h0M384.4 780.7h0M397.1 778.2h0M354.4 785.5h0M327.9 505.5h0M373.2 786.3h0M355.5 720.3h0M326.7 778.7h0M327.4 732.1h0M323.8 452.6h0M368.8 790.1h0M389.7 771.1h0M314 687.7h0M402 471.4h0M314.4 773.2h0M349.2 777.3h0M376.1 784.4h0M380.9 634.9h0M360.7 773.9h0M368.3 766h0M349.9 786.2h0M378.6 781.4h0M336.3 529.7h0M344.7 784.9h0M355.8 786h0M393.8 483.5h0M370.9 738.1h0M352.9 691.1h0M374.3 751.5h0M374.8 695.6h0M348.8 771h0M421.1 751.5h0M347.2 702.5h0M358.7 790h0M365.8 788.6h0M350.4 787.3h0M363.5 787.3h0M265.6 699.7h0M373.9 704.2h0M349.2 650.8h0M317.5 683.1h0M353.6 788.8h0M377.1 784.4h0M358.3 780.8h0M305.1 746.9h0M350.9 789.1h0M382.7 695.8h0M369.4 754.7h0M407.3 721.1h0M284.8 717.4h0M351.8 781.8h0M408.9 775.6h0M386.6 575.2h0M352.5 702.9h0M272.5 737.5h0M363 786.5h0M376.3 681.2h0M340.1 752.4h0M392.4 700.7h0M384.3 635.4h0M318.3 738.9h0M418.7 765.3h0M374.4 712.9h0M346.5 755.1h0M370.8 789.1h0M368.4 784.3h0M372.4 784.6h0M429.9 758.2h0M328.8 553.7h0M383.7 600.8h0M361.8 783.5h0M389.9 780.4h0M373.8 715.9h0M350.4 751.7h0M361.4 790.5h0M344.1 771.3h0M341.9 783.7h0M345.7 763.4h0M360.6 790.3h0M377.4 663.4h0M332 762.4h0M346.1 658.1h0M299.3 758.8h0M349.9 679.7h0M287.9 743.3h0M424.1 765.7h0M385.8 581.4h0M381.5 619.4h0M391.6 573.4h0M368.9 786h0M342.6 747.5h0M332.4 547.4h0M348.1 784h0M365.6 790.5h0M348.7 785.3h0M367 789.8h0M383.6 759.6h0M359.5 789.5h0M346.6 775.5h0M323.9 781.1h0M397.8 440.6h0M376.9 675.8h0M367.3 774.7h0M383.3 607.6h0M380.5 786h0M350.5 666.6h0M374.4 786.9h0M385.4 769.9h0M342.3 610.3h0M387 586.7h0M354.6 711.4h0M386.8 724.6h0M369.3 790h0M365.7 788.2h0M329.5 757.5h0M397.2 765.6h0M351.9 683h0M386.4 575.4h0M350.3 775.1h0M322.2 734.9h0M354 788.3h0M303.1 687.5h0M349.2 656h0M341.2 722.8h0M362.9 788.8h0M353.7 787.2h0M376 685.3h0M354.1 717.8h0M376.1 781h0M377.1 768.8h0M373.1 788.2h0M339.7 773.2h0M365.6 788.4h0M327.2 742.6h0M358.4 757.9h0M378.5 658.3h0M343.6 781.2h0M376.2 680.9h0M360.5 778.5h0M392.1 769.4h0M332.6 505.7h0M482.6 698.3h0M280.1 720.9h0M376.9 669.2h0M371.5 733.2h0M383.1 717.6h0M375.7 681.5h0M372.8 783.8h0M386.4 781.2h0M328.2 779.1h0M417.8 710.3h0M394.9 712.9h0M384.7 592.5h0M387.9 612h0M358.3 778.4h0M344.9 767.6h0M333.5 780.5h0M348.5 727.5h0M379.7 638.3h0M370.7 789.6h0M368.1 787.9h0M393.6 783.9h0M385 771.1h0M382.1 644.4h0M358.5 759.6h0M361.9 789.3h0M320.7 769.8h0M340.6 738.5h0M349.8 678.3h0M350.2 663.3h0M312.6 771.2h0M411.9 777.1h0M363.5 790.2h0M352.4 786.9h0M391.7 766.1h0M388.3 548.6h0M340 777.2h0M358.2 751.9h0M360.3 788.5h0M346.5 638.2h0M361.6 788.8h0M367.7 789.3h0M373.8 781.8h0M366 787.3h0M401.5 787.9h0M305.6 745.7h0M332.2 771.6h0M387.9 782.8h0M372.6 728.1h0M391.4 524.3h0M367.8 787.5h0M398 697h0M350.7 668.5h0M352.7 735.4h0M376.7 707.8h0M333.2 476.5h0M368.7 779h0M368.9 759.1h0M352.5 688.7h0M362.3 786.3h0M339.1 781.6h0M363.6 788.6h0M347.5 784.5h0M342 771.7h0M338.5 566.4h0M438.5 738.9h0M356.7 746h0M376.6 672.1h0M324.9 591h0M399.2 675.4h0M342.4 646.3h0M378.8 659.2h0M341.4 719h0M423.4 782.6h0M348.6 743.6h0M376.4 787.8h0M427.5 718.7h0M366.4 790.5h0M253.5 715.1h0M397.7 452.5h0M406.5 767.3h0M356.3 746.4h0M304.2 747.8h0M335.4 552.6h0M353.8 698.1h0M334.1 555.2h0M378.5 671.6h0M352.2 742h0M328.7 750.6h0M341.7 606.4h0M389.8 760.7h0M421.5 701.7h0M381 765.9h0M384.2 597h0M352.5 770.1h0M360.3 789.5h0M359.4 766.4h0M376.4 786.1h0M415.7 689.8h0M366.5 782.5h0M366.8 788.2h0M363.6 789.4h0M359.8 767.9h0M341.9 755.1h0M385.6 575.4h0M377.9 786.3h0M375.5 688.6h0M331.6 735.5h0M429.9 735.1h0M392.3 526.5h0M361.5 789.8h0M325.8 770.5h0M311.9 730.6h0M359 774.5h0M380.5 772.3h0M305.5 736.1h0M364.6 790.9h0M340.7 724.9h0M398.9 447h0M363.5 790.7h0M328.7 772.9h0M396.6 614.4h0M352.5 750.4h0M355.1 788.3h0M395.4 490.2h0M401.4 596.4h0M384.5 774.1h0M383.9 769.6h0M319.9 766.4h0M390.5 771.3h0M356.7 787.5h0M400.7 414.6h0M385.6 786.2h0M386 570.1h0M394.5 697.1h0M378.5 757.7h0M387.9 698.6h0M378.3 784.6h0M395.9 602.4h0M357.9 785.9h0M404.9 775.2h0M401.3 441.1h0M346.4 670.1h0M375.4 781.3h0M372.9 710.2h0M361.2 781.5h0M351.3 788.7h0M396.5 454.6h0M360.9 779.4h0M351.7 727.7h0M400.3 775h0M353.2 699.3h0M369.2 788.2h0M358.8 788.7h0M381.1 725.4h0M368.7 768.7h0M346.2 748.8h0M365.7 788.3h0M356.5 734.1h0M387.8 547.8h0M354 771.3h0M382.5 631.3h0M359.2 777.5h0M332.7 470.7h0M365.6 784.8h0M332.5 770.5h0M338.8 782.4h0M334.9 696.5h0M418.2 763.3h0M349.5 658.3h0M364.8 789.7h0M394.4 775h0M374.8 725.8h0M251.6 700.4h0M376.2 674.3h0M323.4 659.4h0M385.5 583.5h0M371.2 739.6h0M378.7 784.1h0M409.5 760.2h0M365.9 790.5h0M350.1 673.8h0M376.1 788.2h0M376.4 784.9h0M356.3 788.8h0M382 668.3h0M351.8 780h0M351.4 689.8h0M396.5 733.1h0M407.5 745.3h0M356.4 751.6h0M339.9 554.6h0M373.9 787.7h0M363.3 789.2h0M288.6 691.8h0M331.1 583.8h0M356.2 779.9h0M356.8 748.2h0M438.9 735.7h0M385.6 667.4h0M386.3 563.7h0M400.8 773.5h0M335.3 498.5h0M392.1 771.4h0M360 789.6h0M332.7 771.6h0M375.1 783.4h0M362.6 789.1h0M364.8 789h0M382.2 759.3h0M354.8 788.5h0M364.8 789.6h0M343.8 781.6h0M342.3 783.6h0M292.9 704.5h0M406.3 769.2h0M311.8 769.2h0M343.1 623.4h0M386.1 778h0M335.1 506.3h0M436.8 759h0M337 686.3h0M342.4 675.2h0M377.8 675.5h0M357.5 746.2h0M337.4 786.1h0M351.4 683.1h0M361.3 790.7h0M367.8 788.4h0M257.3 715.9h0M354.7 778.4h0M309.4 761h0M341.2 769.3h0M380.4 787.9h0M376.9 786.3h0M405.7 776h0M357.3 790.1h0M350.7 782.1h0M372.5 716.1h0M345.6 786.7h0M395.8 461.7h0M367.1 788.9h0M356.7 735.1h0M403.6 773.9h0M384.8 782.7h0M374.9 732.9h0M355.5 785.5h0M354.8 722.4h0M401.2 769.2h0M395.4 680.4h0M354 738.5h0M337.6 767.1h0M369.1 789.2h0M369.7 790.2h0M371.4 788.2h0M393.1 718.6h0M377.6 785.4h0M386.5 697.8h0M368.9 762.7h0M382.8 679.8h0M360.5 774.7h0M363.7 790.9h0M374.7 787.9h0M344 785.7h0M384.2 755.7h0M363.4 790.4h0M386.7 776.5h0M357.1 786h0M374.2 786.3h0M354.9 737.6h0M369.9 788.6h0M366.6 789.8h0M355.2 763.4h0M337.2 627h0M340.6 564.2h0M382.5 781.8h0M413.6 721.3h0M380.1 784.3h0M336.8 579.8h0M380.1 785.7h0M371.5 731.1h0M328.5 774.8h0M358.3 789.1h0M368.9 789.8h0M362.9 788.5h0M331.1 778.9h0M391.6 770.2h0M418.6 767.6h0" fill="none" stroke="#bebebe" stroke-width="9.0" stroke-linecap="round" stroke-opacity="0.55"/>
<path d="M353.7 764.1h0M359.7 789.8h0M342.3 781h0M353.2 788.8h0M375 686.4h0M367.3 790.1h0M365.9 789.9h0M407.7 765.7h0M371.9 790.1h0M352.4 766.1h0M362.5 790.1h0M349.3 764h0M329.2 786.1h0M366.7 788.5h0M345.1 777.7h0M356.3 787.3h0M356.8 776.9h0M370.4 755.4h0M371.8 772.1h0M387.4 775.1h0M387.1 582.7h0M354.4 719.6h0M343.9 713.7h0M329.1 773.9h0M372.6 732.7h0M330.5 774.2h0M390.1 774.5h0M399.5 727.1h0M325.2 674.8h0M383.1 764h0M340 781.5h0M353.4 785.8h0M265.7 733.9h0M359.7 788.7h0M378.1 678.5h0M344.5 782.7h0M364.1 790.1h0M352.6 694.9h0M386 783.3h0M326.2 610h0M359.6 772.2h0M397.9 458.1h0M400.8 692.4h0M377.7 657.5h0M391.6 608h0M341 786.4h0M387.8 758.4h0M389.6 531.7h0M357.8 789h0M389.9 780.3h0M369.3 787.1h0M352 773.5h0M332.2 687.7h0M348.9 645.7h0M395.6 622.3h0M344.5 778.6h0M340.1 575.3h0M364.7 789.2h0M344.5 771.8h0M387.8 657.5h0M356.1 787.1h0M330.8 656.8h0M369.2 775.6h0M325.5 441.6h0M385.2 760.9h0M427.7 733.2h0M388.7 773.3h0M387.6 553.1h0M376.8 786.8h0M353.4 785h0M347.3 633.1h0M293.9 753.1h0M379.5 731.6h0M306.5 749.3h0M378.8 779.1h0M282.3 739.1h0M390.3 556.4h0M369.7 786.3h0M375.9 731.1h0M389.3 564.2h0M339.9 611.8h0M324.7 436.7h0M397.3 764.9h0M369.3 787.2h0M286.8 768.9h0M313.8 758.3h0M352.9 777.4h0M377.3 663.7h0M365.7 790.1h0M349.2 776.8h0M401.4 715.7h0M300.1 711.4h0M399.5 544h0M307.3 737.1h0M414.3 715.6h0M351.4 782.1h0M345 762h0M309.6 765h0M369.2 763.5h0M370.4 777.9h0M344.3 782.4h0M367.8 789.2h0M362 790.4h0M375.2 692.9h0M365.4 789.4h0M344.7 780.4h0M355 783.3h0M349.2 665.4h0M364.7 788h0M388 735.6h0M341.7 565.9h0M353.8 786.3h0M358.2 753h0M313.3 730.5h0M370.1 746.7h0M352.1 680.6h0M351.5 769.8h0M386.2 777.2h0M384.9 760.6h0M374.3 786h0M363 789.7h0M391.9 762.6h0M402 750.8h0M377.9 783.8h0M363.5 788.9h0M376.7 787.3h0M331.3 484.6h0M385.9 752.4h0M353.7 788.2h0M370.6 788.7h0M323.6 396.8h0M370.7 740h0M364.9 790.1h0M441.2 717h0M380.3 785.4h0M397.8 698.3h0M395.1 777h0M393.7 774.1h0M361.8 787.8h0M367.5 788.6h0M368.6 789.7h0M421.4 764.1h0M368 790.1h0M345.8 781.9h0M392.9 753.1h0M367.6 789.7h0M358.1 785.4h0M344.2 607.7h0M346.3 657.7h0M380.4 785.1h0M384.4 760.7h0M401.4 777.9h0M371.8 727.9h0M366.3 781.3h0M338.7 780.7h0M356.2 787.4h0M370.1 789.5h0M387.8 696.7h0M364.8 786.2h0M367.5 781.9h0M380.8 775.3h0M350.2 730.9h0M388.1 744.9h0M302.7 702.1h0M375.2 770.4h0M383 615.5h0M344.6 625.4h0M366 785.3h0M366.4 784.8h0M378.5 774.8h0M331.2 768h0M342.3 783.5h0M372.3 784.2h0M374.3 748.3h0M366.8 788.4h0M367.9 785.9h0M344 622.5h0M366.1 787.1h0M329.8 779.3h0M326.5 668.6h0M369.5 757.3h0M401.4 767.6h0M332.5 741.4h0M330.7 765.5h0M354.2 702.4h0M386.4 778.7h0M377.5 658.3h0M327.6 507.6h0M317.3 751.6h0M363.2 789h0M373.6 703.7h0M363.5 790.8h0M364.8 789.3h0M353.2 772.4h0M360.3 785.5h0M259.6 700.6h0M249 708.9h0M340.6 552.8h0M370.2 780.5h0M363.4 790.6h0M422.8 767.5h0M331.1 775.3h0M353.8 787.3h0M373.8 785.2h0M357.6 788.6h0M392.7 572.6h0M381.1 731.8h0M366.2 790h0M352 781.4h0M368.3 790h0M396.1 780.9h0M284.8 745.6h0M352.7 786.5h0M369.3 781.6h0M380.3 777.2h0M388.2 562.3h0M367.6 790.1h0M380.9 622.7h0M332.4 780.9h0M380.8 783.7h0M381.4 653.8h0M381.5 618.7h0M373.1 728.9h0M393.6 711h0M352.5 781.3h0M399.5 776.9h0M377 785.7h0M372.1 780.4h0M393.5 781.4h0M371.2 784h0M330.5 693.4h0M305.1 751.5h0M375.7 788.3h0M364.1 789.2h0M389.7 735.2h0M335.2 509.5h0M360.7 776.2h0M383.6 748.4h0M371.4 767h0M356.2 748.3h0M402.9 605.4h0M394.9 712.6h0M380 786.4h0M383.5 598.4h0M331.8 466.6h0M417 765.1h0M343.2 585.3h0M336.9 525.6h0M353 750.9h0M341.4 765.9h0M347.8 778.8h0M348 659.4h0M340 550.8h0M332.8 782.1h0M349.7 658.1h0M369.2 788.9h0M335.4 515.5h0M375.8 790.3h0M371 789.7h0M381.4 785.7h0M352.3 773.8h0M333.2 598.4h0M344.2 593.6h0M397.4 449.8h0M367.8 789.7h0M361.9 790.5h0M341.7 777.5h0M369 765.2h0M391 658.5h0M393.5 548.6h0M338.2 571h0M421.6 749h0M391.6 777.8h0M403.1 773h0M339.1 541.4h0M353.5 710.7h0M378.1 659.4h0M332.7 476.4h0M373.8 709.7h0M381.7 754.2h0M357.8 789.8h0M349.4 737.6h0M338.2 751.5h0M372.7 787.8h0M375.7 786.2h0M351.2 783.1h0M360.6 789.6h0M349.1 660.9h0M400.6 437.1h0M373.2 721.6h0M349.1 652.3h0M383 614.9h0M370.2 744.1h0M363.5 790.1h0M464.2 716.4h0M363.7 789.9h0M346.3 778.7h0M337.5 521.7h0M373 746h0M354.5 706.6h0M346.7 657.6h0M375.7 762.6h0M356.2 789.4h0M356.9 789.7h0M376.8 729.2h0M353.6 701.5h0M367.4 786.7h0M336.2 526.5h0M353.8 787.2h0M371.4 782.5h0M389.5 788.1h0M427.4 708.1h0M375.3 786.1h0M358.6 764.7h0M360.5 790.4h0M351.1 783.7h0M304.7 758.4h0M379.8 750.5h0M397 779.4h0M328.1 703.3h0M345.6 612.5h0M317.1 698.8h0M320.7 731.8h0M398.5 505.8h0M369.3 787.6h0M434.3 715.3h0M412 702.1h0M379.1 760.7h0M343.3 710.9h0M397.7 511.6h0M366.6 789.6h0M320.8 752.9h0M355.5 721.8h0M358.5 756h0M411.1 762.2h0M389.5 707.6h0M377.3 787.8h0M391.1 720.7h0M355.7 736.5h0M347.6 780.7h0M353 783.1h0M339.3 718.5h0M366.4 790.2h0M396.2 545.7h0M333.7 769.6h0M414.5 762.3h0M321 706h0M373.3 745.4h0M357.3 750.3h0M357.9 788.2h0M410.6 715.2h0M404.3 396.7h0M357.8 789.6h0M437.9 748.5h0M388.1 547.6h0M337.5 548.1h0M340.6 635h0M400.4 692.8h0M371.5 788.1h0M387.9 780.2h0M369.6 770.8h0M327.3 569.4h0M351.4 787.4h0M386 584.3h0M370.6 788.9h0M362.2 784.5h0M351.1 778.7h0M345.5 764.9h0M329.2 666.9h0M355.4 732.6h0M330.2 492.2h0M355.5 788.4h0M310.4 757.4h0M352.2 765.8h0M350 767.8h0M409.9 690.9h0M327.3 767.5h0M371.2 766.3h0M401.9 690.7h0M345.7 787h0M310.1 757.8h0M417.6 738.4h0M350.4 784h0M389.7 747.1h0M391.9 756.6h0M363.9 789.5h0M377.1 665.6h0M368.4 764.4h0M369.5 786.5h0M367 776.9h0M326.3 744.5h0M328.4 773.3h0M336.6 648.4h0M355.8 789.6h0M294.9 760.9h0M401.3 696.1h0M377.3 787.9h0M360.4 773.2h0M366.8 779.1h0M397.1 708h0M330 506.6h0M350.1 717.1h0M343 607.6h0M391.2 767.3h0M385.5 769.6h0M361.6 780.6h0M345.1 619.6h0M343.3 655.1h0M328.4 727.4h0M387.1 565.3h0M377 671.3h0M355.1 787.7h0M357.6 784.1h0M413.3 770.3h0M402.1 771.3h0M363.8 789.2h0M365.4 787.9h0M344 784.4h0M362.6 789.1h0M368.1 789.3h0M352.2 782.5h0M378.9 786.8h0M306.8 767.7h0M383.9 779.3h0M403.6 754.8h0M354.2 788.1h0M364.9 789.7h0M429.8 747.3h0M368.4 766.2h0M383.7 783.7h0M364.5 789.4h0M332.7 778.3h0M350.7 781.6h0M387 781.5h0M381.8 786.5h0M360.9 788h0M361.2 787.3h0M354.4 790h0M382.5 696.3h0M363.7 790.7h0M370 790.7h0M339.1 770h0M373.9 788.9h0M360.6 790.4h0M382.4 785.7h0M358.7 789.3h0M401.7 470.8h0M351.8 784.9h0M366.8 787.7h0M311.7 739.9h0M406.1 727.8h0M382.6 772.7h0M361.7 789.1h0M422.7 742.6h0M379.8 638.8h0M360.5 789.7h0M335.1 775.9h0M337.7 772.9h0M346.3 783.2h0M362.3 785.8h0M345 698.5h0M357.5 788.9h0M356.2 787.5h0M358.8 788.5h0M389.1 614.8h0M383.1 775.2h0M351.2 699.1h0M399.5 771.1h0M400.3 774.4h0M406.7 763.8h0M291.4 756.7h0M327.1 470.1h0M336.1 733.8h0M403.2 646.3h0M298.5 744.2h0M333 765.3h0M363.8 789.6h0M347.8 702.8h0M397.1 447.9h0M275.1 706.5h0M388.7 783.9h0M356.1 787.5h0M400.2 415.2h0M360.4 783.6h0M360.3 790.7h0M326.1 741.9h0M349.7 775.4h0M345.3 619.2h0M378.5 673.3h0M356 784.7h0M359.5 786.5h0M396 759.6h0M382.7 782.9h0M378.8 779h0M306.1 724.2h0M391.5 534.7h0M332.9 481.1h0M365.6 790h0M413.8 692.9h0M380 776.4h0M394.8 775h0M323.7 515.6h0M343.3 596.9h0M320.2 753.5h0M448.5 738.1h0M418.8 765.3h0M350.9 786.6h0M358.9 787.1h0M346.3 738.8h0M372.3 786.5h0M352.4 788.1h0M424.1 734.8h0M386.3 769.2h0M328.5 761h0M304.6 761.8h0M327.2 717.3h0M352.4 780.1h0M406 757.3h0M372.8 788.6h0M392.3 774.5h0M351.1 695.8h0M338.5 782.4h0M377.8 783.5h0M355.9 788.6h0M379.2 641.9h0M323.5 631.9h0M377.1 788.1h0M391.3 780.7h0M387.8 549.1h0M344.9 770.2h0M373.8 784.6h0M379.8 785.6h0M367.6 776.2h0M359.4 781.5h0M381.9 781.6h0M365.7 788h0M342.2 700.6h0M349.7 687.7h0M363.4 789.4h0M349.1 648.4h0M360.5 775.2h0M382.9 782.3h0M363.1 790.5h0M337.4 772.4h0M350.4 682h0M363.3 791.1h0M409.5 757h0M367.6 778.2h0M353.4 776h0M338.1 763h0M331.2 758.3h0M349.8 779.3h0M389.3 772.6h0M358.9 765.1h0M368.5 763.9h0M373.1 749h0M334.8 738.8h0M401.6 728.9h0M298 739.6h0M398.6 705.6h0M385.9 598.1h0M313 760.5h0M344 779.4h0M359.6 782.8h0M327.9 473.4h0M339.3 753.8h0M335.3 663.9h0M290.2 686.7h0M346.5 620.6h0M358.4 759.3h0M369.1 790.3h0M356.2 728.1h0M333.1 760.6h0M378.8 784.6h0M401 404.9h0M401.1 543.2h0M421.8 760.3h0M384.3 590.8h0M385.4 652.9h0M363.6 791.1h0M345.1 782.4h0M355.1 723.6h0M366.1 789.5h0M345.5 782.7h0M356.9 783.1h0M500.7 746.6h0M361 789.6h0M379.5 636.5h0M335.3 502.1h0M343.6 779.7h0M382.5 737.6h0M365.7 786.9h0M341.1 767.6h0M355.7 786.8h0M406.3 760.9h0M293.1 693.8h0M336.1 517.9h0M337.1 548.8h0M344.8 750.1h0M346.6 786.2h0M354.5 706.2h0M372.2 725.7h0M354.9 788.2h0M360.5 773.9h0M333.7 779.6h0M395.7 775.7h0M373.9 771.1h0M311 757.9h0M394.1 655.3h0M347.5 785.1h0M410.1 751.4h0M345.7 786.6h0M353.2 788.2h0M371.9 789.3h0M278.3 708.8h0M358.9 759.5h0M372.4 725.3h0M349.7 676.6h0M402.5 773.7h0M351.6 780.1h0M370.7 741h0M376.5 677.5h0M385.9 754.7h0M332.3 785h0M344.7 637.5h0M390.9 780.9h0M373.4 787.5h0M346.2 786.6h0M378.7 783h0M492 691h0M386.4 569.2h0M406.6 708.6h0M349.2 756.2h0M388.4 782.4h0M349.9 785.4h0M322.9 718.4h0M371.8 781.2h0M382.3 726.3h0M328.9 756.9h0M356.9 771.1h0M381.9 617.8h0M322.9 753.6h0M334.3 780.9h0M360.6 789.5h0M355.2 784.8h0M371.9 739.4h0M350.5 780.2h0M401.4 474.2h0M413.9 759.8h0M376.2 789.6h0M362.3 784.2h0M399.3 774.5h0M353.9 707.8h0M353.5 702.5h0M380 636.7h0M366.7 787.5h0M400.3 645.9h0M375.4 744.5h0M358.2 758.6h0M373.6 704.6h0M357.6 788.8h0M347.1 741h0M373.2 715h0M348.9 767.6h0M365.7 788.9h0M356.1 786.3h0M369 785.6h0M391.3 761.1h0M357.5 789.9h0M372 786.7h0M377.8 679.8h0M353.1 690h0M357.8 789.5h0M355.5 788.2h0M329.6 647.6h0M359.1 789h0M379.8 765.9h0M333.4 773.4h0M320.5 709.7h0M357 788.1h0M358.9 763.9h0M353 789.2h0M388.8 778.4h0M348 771.2h0M306.7 709.2h0M368.6 762.7h0M357 787h0M389.8 777h0M391.2 776.5h0M341.4 659.7h0M343.5 786.1h0M349 788.8h0M381.6 779h0M311.1 770.3h0M396.2 758.3h0M360.9 777.7h0M386.4 583.3h0M367.2 780.7h0M381 786.1h0M371 789.3h0M338.9 775.5h0M340.9 584.8h0M368.8 782.1h0M392.9 630.4h0M363.3 788.6h0M465.4 775.2h0M364.2 788.8h0M352.6 757.9h0M390.9 783.9h0M335.9 768.6h0M294 693.4h0M299.7 751.6h0M330 634.9h0M403.2 511.5h0M377.6 707.8h0M364.1 790.5h0M381.7 781.4h0M379.7 638.2h0M408.6 766.1h0M400.9 775.2h0M360.4 787.1h0M320.8 775.9h0M382.8 780h0M368.3 769.5h0M372.9 786.8h0M368.6 777.9h0M391 656.2h0M366.9 789.2h0M376.1 682h0M358.3 755.3h0M369.3 785.1h0M352.1 786h0M379.3 788.6h0M360.5 790.1h0M337.1 762.8h0M357.8 790.3h0M370.9 776.1h0M369.2 775.4h0M356.5 787.7h0M495.4 688.7h0M332.6 768.9h0M338.1 779.4h0M380.9 782.9h0M349.1 660.8h0M363.5 790.9h0M367.8 771h0M351.3 707.8h0M370.1 789h0M371.6 789.9h0M358.9 789.8h0M349.7 778.8h0M371.2 786.1h0M352.3 786.1h0M284.1 752.1h0M375.9 771.1h0M389.5 781.5h0M380.5 770.9h0M381.2 783.2h0M384.2 591.9h0M339 756h0M357.3 742.4h0M363.3 786.9h0M409 716.4h0M376.6 788.9h0M331.3 731.6h0M351.3 784.3h0M363.1 789.5h0M393.2 781.5h0M359.7 790h0M361.2 784.1h0M367.5 773.1h0M356.9 736.3h0M350.8 784.8h0M404.2 776.1h0M365.3 789.7h0M376.2 778h0M354 753.6h0M372.3 787.2h0M358.5 789.1h0M352.6 776.9h0M357.8 748.1h0M443.2 705.1h0M328 417.1h0M363.4 788.3h0M378.8 784.5h0M330 773.7h0M348.4 749.5h0M365 788.5h0M373.4 709.2h0M380.6 765.7h0M394.5 748.8h0M348 704.5h0M371 771.5h0M347.5 663.7h0M348.5 751.6h0M336.2 608.8h0M408.5 774.4h0M394.7 710.1h0M378.3 788.1h0M343.6 587.5h0M372.1 784.1h0M377.7 784.8h0M387.6 782.1h0M361 776.7h0M455.8 703.2h0M354.5 785.4h0M350 657.9h0M389.1 586.3h0M363.2 789.9h0M362.9 789.2h0M323.7 369.7h0M358.1 789.5h0M340.2 555.2h0M384.8 785.7h0M377.8 737.2h0M371.5 786.9h0M356.1 731.6h0M378.7 787.3h0M370.9 781.8h0M353.1 789.2h0M412.1 765.4h0M364.9 788.2h0M360.7 789h0M342 738.7h0M377.1 779.5h0M361.9 788.3h0M385.7 659.7h0M308.5 760.1h0M390 784h0M342.6 607.6h0M364.9 790.7h0M378 784h0M335.6 507.5h0M370.3 746.7h0M408.8 736.9h0M348.3 644.6h0M409.6 768.8h0M319.6 773.1h0M361.2 788h0M372.7 777.7h0M344.1 746.1h0M373.8 781.4h0M410.7 726.7h0M386.3 769.3h0M401.5 444h0M356.1 778h0M362.8 788.1h0M366.3 780.6h0M286.8 687h0M316.3 745.4h0M351 786.8h0M365.5 790.7h0M347 636.8h0M373.8 777.7h0M291.7 687.5h0M404.1 390.4h0M336.6 519.9h0M343.8 782.8h0M342.7 593.9h0M340.5 768.4h0M321.9 771.8h0M384.8 581.5h0M324.3 774.8h0M382.7 773.1h0M382.3 734.3h0M383.2 782.9h0M366.7 778h0M410 766.4h0M322.9 712.1h0M356.3 774.5h0M352.2 788.5h0M363.6 790.8h0M369.2 790.4h0M361.8 786.7h0M379.3 645.9h0M372.3 788.7h0M375.4 786.7h0M363.9 789.2h0M379.8 641h0M345.7 780.7h0M337.1 774.9h0M355 721.7h0M364.3 790.7h0M360.9 779.2h0M359 786.5h0M379.8 783.3h0M308.4 727.5h0M389.1 546.3h0M300.8 758.4h0M363.3 789.9h0M391 740h0M319.4 777.6h0M404.2 783.7h0M387.9 595.3h0M378.5 784.9h0M362.2 787.4h0M369.8 753h0M286 729h0M375.9 686.6h0M327.8 594.4h0M334.7 779.8h0M387.7 672.8h0M380.6 755.4h0M372 789.7h0M361.5 788.1h0M351.2 787h0M360.6 773.4h0M393.4 782.5h0M387.4 784.9h0M375.4 782.7h0M369.3 757.1h0M338.6 595.3h0M361.2 791h0M354.6 788h0M410 753h0M345.5 618.8h0M366.7 777.4h0M346.6 677.6h0M382.4 787.7h0M329 430.1h0M341.7 768.5h0M360 780.2h0M356 776.4h0M349 769.4h0M388.8 753.3h0M345.2 783.1h0M378 663.5h0M378.2 683.1h0M371.4 789.6h0M386.8 783.1h0M371.1 786.2h0M380.5 706.7h0M384.4 601h0M329.5 468.2h0M354.4 723.6h0M340.1 747.7h0M414 750.2h0M391.7 781h0M378.7 657.4h0M377.3 721.3h0M380.4 644.5h0M384.8 781.1h0M425.8 725h0M335.8 501.9h0M384.5 780.9h0M383 776.3h0M329.8 759.3h0M361.5 790.9h0M348.1 733h0M391.4 753h0M390.1 606h0M231 699.6h0M357.2 757h0M374.7 706h0M355.9 787.2h0M397.9 784.6h0M318.4 722.1h0M376.5 787h0M383.2 783.5h0M364.5 789.4h0M342.1 683.5h0M475.8 694h0M381.4 622.9h0M386.6 630.7h0M337.7 546.2h0M336.1 779.7h0M426.5 736.6h0M352.9 690.1h0M398.3 712.9h0M362 784.2h0M366.9 777.8h0M347.6 781h0M346.5 653.8h0M357.6 789.5h0M372.8 785.8h0M349.2 751h0M365.2 788.4h0M360.3 786.7h0M412.1 694.2h0M385 786.8h0M394.6 773.4h0M353.3 787.5h0M361.4 788.7h0M375 769h0M389.2 537.8h0M423.8 760.2h0M369.7 781.3h0M401.2 755.4h0M401 703.5h0M276.1 698.4h0M359.4 776.9h0M394.4 740.7h0M409 696.7h0M375.4 699.6h0M364.5 789.6h0M371.2 787.8h0M371.6 783.5h0M345.3 620h0M333.2 759h0M403.2 774.6h0M408.6 743.3h0M327.1 739.1h0M371.4 788.3h0M368.6 788h0M391 782.2h0M367 789.2h0M332.7 775.6h0M369.9 788.6h0M353.2 747.7h0M374.6 697.4h0M348.3 734.3h0M359.7 784h0M343 779.5h0M356.8 737.8h0M376.4 704.6h0M335.9 502.7h0M405.3 771.3h0M365.1 788.1h0M314.6 765.6h0M312.3 720.9h0M364.5 790.1h0M321.8 760.7h0M385.7 694.6h0M351.5 776.9h0M388.5 553h0M354.2 701.9h0M371.4 754.6h0M394.7 607h0M354.8 766.9h0M341.9 780.3h0M321.7 759.2h0M310 693.4h0M363.7 789.4h0M339.4 591.7h0M397.3 507.5h0M355.1 783h0M348.6 787.4h0M360.7 776.3h0M354.7 720.6h0M355.9 789.7h0M395.8 554.7h0M366.2 790h0M360.6 789.5h0M334.6 753.1h0M378.5 784.6h0M395.6 774.7h0M396.8 775.3h0M367.3 788.4h0M375.9 694.2h0M369.2 789.9h0M393.6 514.2h0M362 786.1h0M349.2 652.5h0M349.9 786h0M324.3 584.2h0M341.7 617.8h0M329.7 664.9h0M383.5 617.4h0M369.2 756.9h0M376.4 675.7h0M346.5 748.3h0M365 788.5h0M380.6 789.3h0M413.1 715.7h0M371.8 788.9h0M364.3 789.2h0M331.1 751.4h0M359.3 788.3h0M347.6 645.1h0M370.1 746h0M354.7 720h0M323.2 717.9h0M377.6 775.1h0M394.1 726.8h0M408.4 758.5h0M349.9 661.1h0M404 777.7h0M372.7 783.4h0M372.6 783h0M353 781.1h0M387.2 751h0M427.2 707.3h0M351.8 788.3h0M343.9 695.8h0M400.3 451.5h0M348.6 744.7h0M354.8 774.5h0M322.3 721.5h0M374.5 785.3h0M339.8 781.1h0M354.1 701.1h0M348.4 776.4h0M374.4 780.6h0M347.3 651.1h0M339.9 779.5h0M332.8 778.7h0M365.8 789.4h0M388.1 784h0M368.8 789.9h0M377.4 784.6h0M378.9 787.3h0M364.1 789.2h0M377.5 660h0M386.4 567.5h0M356.2 753.9h0M365.1 789.1h0M374.9 778.8h0M356.4 779.4h0M369.9 764h0M325.2 775.1h0M327 508.8h0M370.9 788.3h0M365.8 788.7h0M402.8 767.3h0M365 789.9h0M359 784.6h0M369.6 790.3h0M347.1 779.2h0M383.6 779.6h0M390.2 524.1h0M368.4 771.8h0M366.9 776.5h0M326.5 773.2h0M342.7 579.5h0M370.5 779.4h0M310.7 692.5h0M345.8 637.2h0M384 778.4h0M373.4 785.3h0M359.9 788.7h0M372.6 790.1h0M370.8 781.1h0M358.7 780.8h0M351.3 676.3h0M338.5 532.6h0M374.6 781.3h0M400.3 456.1h0M423.4 732.8h0M372.8 788.7h0M372.8 713h0M366 790.1h0M383.1 601.1h0M364.8 788.8h0M356.8 788.3h0M349.1 657.2h0M329.6 515h0M405.7 771.8h0M389.8 774.3h0M357.2 787.7h0M386.5 632.9h0M345.4 782.9h0M360.4 789.6h0M340.3 732.4h0M355.1 719.3h0M363.7 789.4h0M370.5 744.6h0M375.1 783.9h0M414.4 706.7h0M295 732.8h0M361.1 780.9h0M359.1 789h0M389.5 579h0M352.7 689.8h0M265.3 734.6h0M422.5 725.6h0M373.5 788.9h0M291.6 707.2h0M392.6 682.5h0M327.8 416.7h0M360.5 790.1h0M343.9 627.5h0M364.8 790.5h0M371.5 788.9h0M385.8 582h0M393.3 780.8h0M354.2 739.1h0M363.5 789.9h0M332.1 637.6h0M415.8 706.7h0M372.7 742.1h0M324.2 691.6h0M391.7 752h0M360.2 787.2h0M371.3 787h0M379.6 677.2h0M404.2 770h0M360.4 787.4h0M395.2 757h0M375.4 695.9h0M359 789.5h0M347.8 636.7h0M357.8 753.7h0M278 757.9h0M346.2 771.1h0M355.6 750.5h0M359.5 766.7h0M355.3 760.8h0M393.4 682.5h0M331.5 456.1h0M375.8 688.6h0M403.8 607.3h0M358.6 788.4h0M354.3 782.2h0M359.3 787h0M401.6 648.9h0M371.2 786.9h0M341.4 579.3h0M342.4 785.5h0M346 786.3h0M392.9 777.8h0M386 778.5h0M378.3 698.1h0M358.8 787.8h0M338.2 767.7h0M394.4 776.5h0M372.9 719.4h0M402.6 734.9h0M351.5 786.5h0M392.9 747.9h0M358.4 788.9h0M349.3 788.3h0M371.4 777.3h0M389.3 759.8h0M343.8 777.2h0M335.5 760.8h0M381.1 621.7h0M391.8 779.6h0M384.9 783.6h0M308.5 761.5h0M333.4 511.3h0M349.3 675h0M275.3 685.3h0M404.5 767h0M358.1 787.8h0M324.6 397.6h0M368.3 766.4h0M359.5 779.3h0M327.6 437.1h0M383 600.3h0M370.2 767.4h0M387.4 578.3h0M384.4 763.2h0M401.1 539.5h0M368.8 788.5h0M369.1 766h0M338.8 766.2h0M331.2 596.3h0M357.1 768h0M399 753.6h0M400.5 707h0M338.7 552.6h0M341.4 574.9h0M326.9 573.6h0M350.3 720.2h0M413.8 722.5h0M361.3 780.2h0M353.5 702.1h0M365.5 790.3h0M333.1 761.5h0M457.7 703.5h0M380.5 630h0M371.9 771.4h0M345 740h0M376.2 675.7h0M397.9 596.9h0M323.5 278.7h0M399.7 696.8h0M352.2 681.6h0" fill="none" stroke="#bebebe" stroke-width="9.0" stroke-linecap="round" stroke-opacity="0.55"/>
<path d="M338.4 625.2h0M373 762.5h0M359.8 790.5h0M320.5 683h0M246.5 701.9h0M383.5 704.4h0M333.1 782.3h0M297 727.6h0M376.2 685.7h0M335 704.7h0M356.4 788.3h0M349.5 653.2h0M344.1 782.8h0M353.9 787.7h0M359.3 786.7h0M366.6 787.2h0M333.8 697.5h0M398.6 773.1h0M384.8 632.4h0M370.2 785.9h0M331.2 524.6h0M308.8 765.1h0M426.4 732h0M343.7 766.2h0M387.3 578.5h0M378.9 702.9h0M359.1 779.8h0M349.9 786.3h0M369.8 788.7h0M334.2 776.6h0M381.7 729.1h0M346.1 783.2h0M364.4 788.4h0M341.7 590.9h0M334.1 781.5h0M377 671.6h0M361.2 788.7h0M374.8 709h0M380.2 771.5h0M399.2 728.4h0M355.7 779.5h0M342.1 577.5h0M380.5 782h0M342.6 576.6h0M391.1 775h0M343.4 785h0M363.1 788.8h0M390.4 784.1h0M374.5 783.4h0M266.7 683.7h0M394.7 770.4h0M366.4 782h0M361.5 785.9h0M381.7 632.2h0M353.3 728.4h0M334.7 732.2h0M322.8 682.4h0M374.3 695.7h0M403.4 570.4h0M359 789.4h0M365.8 790.2h0M355.2 736.6h0M371.7 756.6h0M374.9 774.4h0M389.1 784h0M337.2 559.1h0M347.4 774.9h0M378.3 733.7h0M362.2 788.5h0M354.5 785.3h0M361.4 785.7h0M342.7 576.4h0M339.3 552.6h0M380.8 627.4h0M356.6 786.5h0M372.4 760.2h0M357.3 743.7h0M366.4 783.4h0M349.3 786.8h0M364.5 789.7h0M350.7 756.6h0M336.3 525.1h0M400.8 549.5h0M381.1 696.6h0M392.4 501.6h0M365.2 789.9h0M379.8 777.4h0M348 638.3h0M382.9 599.4h0M332.9 779.6h0M362.9 789.1h0M371.6 784.5h0M376.2 786.7h0M342.9 784.8h0M382.3 718h0M378.1 657.3h0M367.3 785.7h0M368.3 788.2h0M388.6 620h0M323.6 573.3h0M400.3 770.1h0M369.7 755.7h0M349 782.4h0M391 513.6h0M350.4 686.5h0M347.3 626.6h0M414.9 758.1h0M347.5 650.8h0M391.2 777.9h0M379.1 785h0M338.7 779.8h0M341.7 780.2h0M360.8 788.8h0M356.7 790h0M372.1 784.4h0M352.1 688.1h0M360.2 789.1h0M352.4 787.3h0M390.6 520.2h0M373.6 709.4h0M358.7 785.6h0M344.1 786.3h0M342.4 784.4h0M364.3 789.3h0M400.1 432h0M367.3 776.3h0M357.6 787.5h0M363.1 790.1h0M408.1 776.6h0M350 780.6h0M382.1 784.6h0M367.9 790.4h0M355 768.6h0M355.6 783h0M378.8 676.7h0M388.8 775.5h0M365.5 790.7h0M379.9 633.4h0M377.4 783.7h0M377.2 665.6h0M381 718h0M362 789.8h0M347 726.2h0M322.6 705.6h0M370.8 778h0M367.4 786.4h0M360.3 790.5h0M350.7 786.9h0M392.3 782.8h0M387.8 750.5h0M327.4 747h0M372.6 717.7h0M347.5 785.5h0M330.9 473.7h0M341.8 571.1h0M375.8 682h0M371.1 783.6h0M310.7 754.6h0M403.3 754.4h0M396.2 669h0M358.5 789.7h0M401 664h0M343.9 774.6h0M375.5 789.4h0M327.4 780.3h0M310.4 686.6h0M404.8 770.9h0M357 787.9h0M384.7 765.5h0M352.4 785.8h0M306.2 761.6h0M394.8 778h0M377.4 788.2h0M358.4 787.5h0M368.1 789.1h0M345.8 646.9h0M336.7 515.7h0M360.9 785h0M386.1 573.4h0M428 753.4h0M352.4 787.5h0M367.9 787h0M361.7 790.6h0M396.4 463.7h0M349.1 787h0M401.7 607.1h0M362.6 790.3h0M368.2 787.5h0M333.7 658.6h0M374.4 789h0M374.6 785.5h0M361.9 789.6h0M356.9 746.7h0M382.2 761.9h0M315.1 770.4h0M381.1 783.3h0M374.1 700.5h0M362.2 790h0M309.1 737.2h0M369.1 781.9h0M355.1 784.4h0M396.8 677.9h0M377.8 784.8h0M356 788.1h0M370.7 762.2h0M345 779.9h0M359.7 789.3h0M367 788.2h0M323.8 519.9h0M383.1 600.9h0M371.6 774.7h0M377.4 690h0M389 775.7h0M333.2 782.5h0M402.8 395.2h0M397.5 471.4h0M363.5 790.5h0M379.7 768h0M390.7 714.3h0M392.8 507.7h0M339.2 575.5h0M370.3 786h0M363.9 790.1h0M384.8 582.3h0M361.4 780.3h0M378.3 659.7h0M317 772.7h0M387.4 733.8h0M328.3 739.4h0M371.3 733.2h0M382.5 632h0M384.1 764.4h0M361.4 781.7h0M367.4 786.2h0M388.7 544h0M438.8 757.3h0M431 732.3h0M335.4 570.5h0M375.5 785.8h0M349.6 669.8h0M338.6 534.5h0M359.4 789.6h0M367.2 789.5h0M347 784.7h0M365.7 790.9h0M334 491.5h0M362 787.7h0M338.6 766.1h0M405.1 732.9h0M355.5 785.4h0M364.6 790.4h0M350.9 787.8h0M362 789.2h0M387.4 774.7h0M356.7 782.9h0M372.5 766.5h0M341.2 565.9h0M309.1 748.7h0M329.4 777h0M362 784.4h0M379.8 772.2h0M374.4 785.3h0M399.6 780.1h0M374.2 713.7h0M436.8 763.2h0M336.7 762.7h0M470.3 704.3h0M409.6 764.3h0M390.4 620.3h0M378 786.6h0M389.7 786.3h0M375.5 788.8h0M357.1 787.1h0M341.6 585.2h0M380.4 690.3h0M337.8 780.2h0M349 762.9h0M381.1 788.9h0M332.1 773.4h0M372.9 788.7h0M366.1 787h0M402.4 669.1h0M367.6 789.8h0M371.4 788.4h0M339.8 726.2h0M360 788.8h0M359.3 764.8h0M354.8 789.5h0M373.7 699.9h0M363.7 789.9h0M364.5 785.3h0M387.4 552.6h0M436.5 739.8h0M350.9 766.8h0M435.6 704.6h0M394.7 678.5h0M373.3 787.6h0M350.6 731.2h0M369.6 786h0M340.9 694.7h0M341.3 757.8h0M335.8 782.7h0M369.4 760h0M382.5 775.4h0M368.5 788h0M371.5 787.7h0M400 422.8h0M328.8 723.6h0M335.2 499h0M387.4 566.4h0M369 785.6h0M369.8 777.6h0M434.5 733.6h0M375.8 765.6h0M376.1 770.2h0M351.7 787.7h0M342.5 717.1h0M396.5 473.1h0M429.8 756.9h0M381.3 775.5h0M343.3 772.9h0M340.7 620.6h0M324.1 750.4h0M358.6 790.1h0M391.2 530.1h0M385.8 735.8h0M340.9 576.4h0M368.8 759.7h0M353.9 778.2h0M360.9 790.5h0M365.5 790.3h0M390.4 723.5h0M403.6 671.5h0M358.2 782.9h0M366.2 781.5h0M356.5 744.9h0M352.2 776.7h0M385.8 786.2h0M361.6 790.4h0M328.3 783.3h0M334.8 712.7h0M395.9 763.8h0M387.2 568.6h0M357.3 743.5h0M351.7 689.6h0M357.3 788.2h0M326.7 765.8h0M353 775.8h0M369.2 757.4h0M341.1 784h0M370.9 761.8h0M385.6 656.9h0M401.6 666.7h0M358.3 787.5h0M349.6 654.6h0M384.4 774.4h0M356.3 789.2h0M365.9 788.5h0M390.4 726h0M363.3 789.7h0M372.7 720.1h0M328.1 456.5h0M367.1 777.9h0M398.3 772.8h0M360.1 772.2h0M365.8 790h0M345.7 783.1h0M328.5 475.8h0M365.9 788.1h0M367.3 777.6h0M389.4 775.2h0M345.6 783.9h0M375.1 784.7h0M335.2 495.4h0M380.7 627.9h0M340 738.9h0M384 746.8h0M357 790h0M345.5 784.9h0M401.1 437.7h0M348.4 786.3h0M385.6 762.3h0M370.1 752h0M330.3 443h0M376.8 668.6h0M399.4 481.6h0M350.1 665.9h0M379.5 783.2h0M315.5 768.8h0M346.9 786.4h0M397.3 611.7h0M358.5 756.4h0M336.4 775.5h0M389.5 605.1h0M370 786.1h0M287.4 742.5h0M341.3 568.5h0M390.9 682h0M326.6 764.9h0M354.2 784.3h0M334 780h0M395.2 786h0M341 767.5h0M380.9 780.2h0M378.2 777.6h0M395 610.9h0M342.1 626.3h0M360.8 785.5h0M343.2 783.5h0M367.6 790.6h0M315.5 744.8h0M331.5 761.2h0M338.6 717.4h0M360.7 775.8h0M358 752.8h0M374 778.7h0M353.2 708.1h0M361.5 789.6h0M371.7 731.3h0M376.2 786.8h0M382.6 786.1h0M444.9 689h0M383.9 784.9h0M325.5 715h0M392.5 509.1h0M368.9 790.4h0M339.6 776.4h0M353.7 696.3h0M356.6 740.1h0M365.3 786.2h0M321.3 753.9h0M377.7 785.1h0M365.4 786h0M354.6 787.8h0M284.8 739.8h0M353.2 786.7h0M401.1 748.5h0M332.4 740.7h0M368.1 787.6h0M339.9 745h0M374.3 786.6h0M389.9 702.2h0M413.8 734.4h0M318.1 772h0M347.6 782h0M343.1 591.2h0M380.9 654.9h0M369.5 776.8h0M383.5 599.2h0M286.1 757.3h0M285.4 729.1h0M367.1 787.6h0M344.3 629.3h0M331 777.9h0M347.4 640.3h0M341.7 748.5h0M418.2 747.7h0M254.1 718.7h0M371.7 789.4h0M330 453.9h0M348.5 782.2h0M368.9 766.1h0M368 768.3h0M348.9 662.2h0M389.8 666.8h0M383.2 777.3h0M357.2 789.8h0M363.7 791.1h0M376.6 755.3h0M329.9 447.6h0M334.5 777h0M340.3 781h0M396 465.6h0M423 703.4h0M330.2 774.2h0M338.1 696.9h0M356.7 783.5h0M350.9 712.8h0M397.3 749.6h0M348.1 775.6h0M341.8 713.3h0M379 783.3h0M380.6 765.5h0M421.5 778.9h0M339.9 775.7h0M368 786.6h0M438.3 735.3h0M443.8 748.3h0M314.3 768.7h0M319.3 754.6h0M367.2 779h0M399.8 776h0M383.1 615.5h0M371.9 779h0M359.5 789.8h0M363 790.2h0M277 742.1h0M335.5 506.6h0M333.4 782.6h0M393 735.6h0M334.2 487.6h0M341.1 582.2h0M370.1 775.6h0M350.2 663.6h0M345.9 787.2h0M362.7 790.8h0M379 753.8h0M333.5 774.6h0M372.8 728.8h0M339.4 698.1h0M381.2 620.2h0M315.7 752.5h0M387.3 595.5h0M360.2 789.7h0M310.7 744.6h0M343.9 779.4h0M387.8 700.3h0M328.5 778.1h0M341 777.3h0M386 781h0M368 770.4h0M347.2 756h0M337.8 765.1h0M327.6 759.9h0M375.4 787.2h0M383.8 635.1h0M370.2 766.3h0M374.8 692.3h0M335.5 529h0M387.2 778.2h0M338.3 653h0M384.8 765.6h0M378.6 755.7h0M267.7 737h0M326.7 701h0M379.6 740h0M293.2 754h0M372.4 785h0M374.5 693.7h0M343 683.5h0M337.4 693.2h0M340.4 780.3h0M361.8 790.2h0M349.7 652.6h0M333.7 772.5h0M402.6 771.7h0M350 687.1h0M345.3 608.1h0M352.1 787h0M369.8 750.4h0M366.5 784.9h0M362.7 787.1h0M388 689.4h0M353.4 765.7h0M392.3 539.8h0M383.6 785.2h0M374.6 695.7h0M339.2 548.8h0M353.2 785.7h0M374.5 780.8h0M409.9 764.8h0M343.3 616.7h0M450.5 684.4h0M340.9 663.2h0M373.7 787.6h0M357.9 788.8h0M338.9 778h0M381.9 620.5h0M399.9 774.3h0M384 596.8h0M356.8 787.8h0M365.9 784.5h0M363.8 790.6h0M351.2 787.2h0M385.3 682.8h0M372.9 787.8h0M333.3 484.8h0M397.5 448.3h0M384.9 676.2h0M372.5 786.9h0M317.5 769.3h0M383.5 787.2h0M378.3 781.1h0M369.1 786.5h0M383.6 747.9h0M402.6 727.2h0M353.9 696.2h0M376 762.5h0M373.8 777.8h0M465.3 688.9h0M353.3 697h0M390.7 678.3h0M382 705h0M335.4 780.7h0M371.3 788h0M437.1 775.7h0M465.5 699.9h0M316 756.3h0M218.6 694h0M382.9 777.9h0M337.6 785.7h0M321 772h0M372.8 721.4h0M383.9 780.9h0M351.5 673.2h0M343 786.5h0M354.7 782.4h0M380.9 745.5h0M353.1 784.9h0M366.9 789.3h0M371.9 789.8h0M380.5 683.9h0M350.9 781.6h0M371.5 778.5h0M379.3 641.3h0M328.3 774h0M345.4 785.1h0M366.9 775.6h0M364.1 789.3h0M383.5 606.9h0M362.4 790.7h0M341.8 735.7h0M301.1 759.5h0M318.3 757.1h0M384.1 784.2h0M384.2 779.5h0M372.9 718.1h0M369.1 786.4h0M375.4 788.6h0M379 786.5h0M355.5 774.3h0M350.2 671h0M334.5 656.9h0M358.1 788.5h0M384.4 783.2h0M333.2 773.5h0M349.1 787.2h0M350.6 787.1h0M380.9 722.3h0M349.8 677h0M338.6 547.5h0M387.3 574.7h0M364.8 789.6h0M336.5 515.8h0M367.7 790.5h0M295.1 685.2h0M389.5 725.1h0M382.7 783.1h0M378.5 785.9h0M364.3 790.1h0M371.6 735.2h0M358.4 758.1h0M335.8 715.6h0M352.1 755.4h0M380.2 762.4h0M438.7 727.9h0M397.2 760.6h0M363.5 790.8h0M383.4 784.2h0M360.3 789.8h0M383 601.1h0M347.6 632.6h0M388.3 573.9h0M347.7 784.3h0M348.6 777.4h0M355.3 717.2h0M403.4 635.9h0M366.5 782.9h0M375.9 788.6h0M375.5 785.9h0M368.1 790.7h0M391.3 511.9h0M381.5 786h0M391.6 775.1h0M373 710.5h0M380.3 785.4h0M359 764.8h0M352.8 709.6h0M402.9 707.3h0M360.4 777h0M346.5 661.6h0M350.2 735.8h0M389.2 777.9h0M361.5 781h0M376.2 712.5h0M345.3 734.2h0M380.4 784.3h0M375.5 715.3h0M406.8 782.9h0M365.1 790.5h0M362.4 786h0M349.3 779.3h0M402.8 680.1h0M377.8 744.1h0M412.1 751.8h0M380.4 784.5h0M389.5 702.7h0M398.8 778.4h0M386 736.7h0M363.2 789.5h0M377.8 780.6h0M340.1 781.5h0M380.2 760.1h0M374.3 784.6h0M384.6 770.4h0M367.7 771h0M338.4 780.1h0M337.6 724.9h0M348.7 786.3h0M396.9 779.3h0M367.7 776.9h0M350.9 741.1h0M367.8 787.6h0M374.3 783.5h0M371 784h0M368.6 771.2h0M361 787.8h0M374.3 787.2h0M282.4 722.1h0M315.1 764.7h0M359.7 768.4h0M355.6 749.3h0M333.2 777.1h0M377.5 670.5h0M410.6 726.8h0M349.9 774.3h0M373.6 774.2h0M315.1 765.1h0M348.8 787.2h0M340.1 644.6h0M379.4 651.8h0M356.7 759.2h0M409.2 729.3h0M341.4 565.2h0M386.4 754.7h0M400.5 699.1h0M348.2 776.3h0M368 789.3h0M324.3 386h0M350.1 780.1h0M394.1 690.2h0M396.3 493.8h0M335.2 517.5h0M329.2 733.7h0M409.9 740.9h0M362.4 789.2h0M338.2 775.7h0M377.5 782.1h0M392.3 566.7h0M353.7 722.4h0M323.7 491.8h0M366 784.3h0M297.8 684.4h0M400.3 770.3h0M330.5 476.4h0M380.9 775.5h0M381.1 724h0M350.6 666.9h0M410.3 707.9h0M402.7 736.5h0M377.5 787.7h0M370 747.3h0M390.1 520.6h0M377.4 701.1h0M356.4 785h0M350.2 788.4h0M376.1 781.9h0M361.4 788.5h0M397.6 610.8h0M365.9 790.2h0M332.1 538.5h0M379.1 739.7h0M380.4 781.2h0M352 694h0M304.6 732.1h0M300.6 765.2h0M364.3 789.5h0M372.3 788.2h0M334.4 553.9h0M388.7 748.5h0M338.3 529h0M388.4 741.7h0M353 781.6h0M405.1 776h0M390.2 774.6h0M336.8 781.3h0M375.2 787.6h0M355.8 780.5h0M388.6 556h0M406.8 755.3h0M370.9 738.3h0M375.5 685.9h0M365.4 786h0M375 695h0M378 659.1h0M327 763.2h0M342.8 610.9h0M356.8 754.6h0M366.8 779.6h0M375.6 789.5h0M396.4 767.6h0M360.3 771.8h0M310.3 742.8h0M392.3 773.7h0M368.4 789.4h0M329.3 775.6h0M346.6 749.2h0M338 752.1h0M339.1 730.4h0M373.5 788.1h0M319.6 714h0M324.1 777.7h0M411.4 768.1h0M337.9 678.6h0M392.3 509.1h0M347.4 782.7h0M404.9 757.3h0M403.8 637.7h0M347.1 653.8h0M351.3 680.4h0M426.2 710.6h0M361.1 782.1h0M384 773.5h0M364.3 788.8h0M382.1 786.5h0M362 787.8h0M313 784.7h0M328.3 421.6h0M361.8 787.4h0M356.5 787.2h0M332.3 558.3h0M390.9 553.1h0M384.5 773.7h0M354.9 790h0M333.6 698.3h0M371.5 739.7h0M402.7 762.6h0M331 781.2h0M376.9 668.8h0M373.1 708h0M337 519.2h0M382.5 767.3h0M373.1 783h0M374 697.6h0M394.2 479.7h0M352.1 779.2h0M351.4 679.3h0M327.1 448.5h0M294.2 708.5h0M386.3 564.5h0M362.3 785.9h0M365.1 788.6h0M371.6 785.3h0M363.2 790h0M339.9 776h0M411.8 767h0M363.3 790.5h0M371 783.3h0M337.6 681.3h0M377.4 766.8h0M425.3 749.4h0M374.2 739h0M337.5 536.4h0M334.5 716h0M358.2 789h0M330.4 511.9h0M370.4 786.2h0M326.5 756.5h0M330.9 639.1h0M358.4 753.2h0M370.9 740.9h0M374.4 787.7h0M359.6 783.4h0M418.2 728.1h0M370.2 783h0M360.5 788.9h0M386.6 648.6h0M357.1 786.5h0M366.2 784.1h0M365.3 790.6h0M203.3 769.4h0M367.9 789.4h0M381.9 779.8h0M339.8 780.2h0M360.1 769.6h0M393.4 665.9h0M392.5 720.6h0M294.9 757.1h0M400.5 777.6h0M347.7 758.4h0M355.3 786.3h0M318.2 704h0M422.7 764.1h0M360.1 770h0M367.3 788.5h0M330.4 750.3h0M326.9 453h0M377.5 767h0M371.9 726.4h0M346.6 775.8h0M367.4 789.4h0M338.5 769.1h0M346.8 625.7h0M364.5 789h0M420.4 696.7h0M376.1 769.4h0M365.2 786.6h0M349.5 754.8h0M385.5 701.3h0M405.6 705.9h0M358.5 787.2h0M348.5 644.6h0M378.4 650.7h0M396.4 467.9h0M420.3 682.2h0M361.5 787.9h0M375.2 784.8h0M419.3 767.4h0M347.4 688h0M355.2 766.3h0M328.9 531.3h0M335.2 533.1h0M339.9 734.1h0M311.1 692.4h0M349 756.9h0M393.3 778.1h0M362.5 790.3h0M392.8 495.4h0M367.5 790.2h0M365.8 789.3h0M360.3 787.8h0M357.2 760.8h0M364.8 790.7h0M360.8 788.5h0M366.9 783h0M361.5 790.6h0M352.1 713.2h0M358.7 787.3h0M384.4 586.1h0M355.3 718.6h0M382.5 764.7h0M367.1 787.8h0M359.7 785.9h0M357 786.8h0M386.1 577h0M336.3 678.5h0M350.5 743.9h0M304.3 752.8h0M356.1 761h0M371.6 788.8h0M377.4 672.2h0M339.7 788.1h0M389.2 780.1h0M434.4 731.3h0M353.5 697.4h0M379.1 783.3h0M379.9 641.1h0M373.2 787.7h0M339.7 777h0M384.1 599.9h0M353.3 774.9h0M375.4 787.6h0M376.1 773.7h0M332.8 485.3h0M395.4 538.7h0M358.3 757h0M381.5 769.2h0M362.4 788.2h0M364.5 787.6h0M368.7 762.6h0M383.7 596.6h0M362 788h0M370.3 789.6h0M341.8 786.2h0M336 784.2h0M354 787.8h0M360.9 783.4h0M338.2 783h0M317 771.4h0M329.2 449.9h0M332.2 774.7h0M376 787.2h0M351.5 790.2h0M362.6 785.8h0M357.1 784.7h0M392.7 655.9h0M379.5 648.7h0M378.2 785.1h0M374.2 747.2h0M369.9 750.5h0M344.1 783.5h0M370.4 780.6h0M342.5 774.7h0M382.6 749h0M366.8 785.8h0M348.3 785.3h0M387.1 560.4h0M385 591.7h0M383.9 786h0M369.2 760.1h0M337.2 778h0M381.3 752.6h0M373.5 708.3h0M363.1 787.8h0M377 667.1h0M376.6 787.9h0M380.5 753.7h0M320.2 771.8h0M420.7 732.6h0M382 786h0M383.4 782.9h0M334.8 769.2h0M375.6 685h0M384.9 783.9h0M339 761.9h0M397 450.1h0M351 783.4h0M358.5 789.1h0M369.7 788.5h0M461.3 727h0M317.6 753.2h0M371.6 752.8h0M361 789.9h0M353.6 783.3h0M383.9 770h0M389.1 694.5h0M363.3 790.5h0M354.8 708.8h0M355.3 789.7h0M332.9 767.4h0M382.2 745.6h0M357.1 743.2h0M354.7 711.3h0M360.7 789.6h0M384.4 771h0M331.6 492.6h0M357.9 779.1h0M383.2 599.5h0M374.7 692.3h0M316.1 704.8h0M364.3 789h0M374.8 704.1h0M345.1 777.7h0M377.8 722.5h0M373.1 779.9h0M369.4 764.4h0M361.7 788.8h0M341.7 705.8h0M369.5 752.4h0M350.3 785.9h0M378.7 784.9h0M318.5 760.1h0M360 773h0M399.8 466.1h0M388.1 551.1h0M331.3 459.7h0M327.4 744h0M410 738.5h0M366.8 777.2h0M326.4 761.8h0M370.7 786.3h0M343.2 785.4h0M377 785.6h0M367.2 787.7h0M369.4 763.7h0M333.4 787.9h0M335.8 778.9h0M343.9 783.8h0M352 686.9h0M352 700.7h0M349.4 653.8h0M362.4 788.6h0M409.1 691.3h0M330.2 785.1h0M351.6 786.7h0M384.1 785.1h0M393.2 495.2h0M350.4 664.8h0M373.3 761h0M332 605.1h0M376 784.8h0M385.4 577.3h0M372.7 790.4h0M372.7 788.7h0M351.6 786.3h0M389.5 777.3h0M395.4 681.4h0M368.7 778.6h0M397.6 785.2h0M332.8 521.9h0M329.2 475.7h0M373 786.8h0M341.2 564.8h0M397 734.4h0M354.9 774.8h0M419.3 724.9h0M355.9 772.6h0M338.9 784.1h0M397.8 446.9h0M367 774h0M385.1 786.2h0M373.5 787.1h0M385.5 775.1h0M354.6 711.1h0M337.6 767.6h0M348.3 787.3h0M365.6 787.3h0M373 774.1h0M361.8 789h0M354.9 783.3h0M355.2 790h0M373.3 706h0M419.9 765.8h0M365.3 790.7h0M401.9 782.4h0M334 641.6h0M378.1 788.1h0M400.3 450.7h0M371 787.6h0M356.3 786h0M352.4 683.3h0M365.3 785.6h0M379.5 772.3h0M343.6 773.9h0M375.4 699.1h0M367.4 783.1h0M340.4 775.7h0M357.1 747.8h0M388.2 769.9h0M354.5 790.6h0M386.9 762.7h0M383.2 787.7h0M385.2 724.2h0M395 625.6h0M384.2 745.4h0M349.5 749.2h0M367.7 782.7h0M370.5 785.4h0M354.5 785.5h0M382.5 781.5h0M334.1 759.9h0M355.9 730.6h0M439.5 753.9h0M364 791.1h0M375.2 691.5h0M334 780.3h0M353.5 695h0M340.9 759.3h0M345.7 694.3h0M376 694.4h0M388.2 762.8h0M349 787.1h0M365.7 790.2h0M413.8 758.3h0M431.6 759h0M343.1 757.5h0M356.5 788.1h0M401.7 766.5h0M454.4 742.8h0M337.1 541.8h0M347.5 771.1h0M376.8 787.8h0M330.5 445h0M382 784.3h0M390.7 606.7h0M388.3 558.3h0M361.8 790.6h0M379.8 774.5h0M369.7 763.3h0M333.7 542.9h0M371 786.5h0M302.1 777.3h0M370.4 787.4h0M332.1 500.1h0M372.7 786.1h0M345.9 621.5h0M458.2 735.7h0M377.8 665.2h0M334.2 756.4h0M351.7 785.8h0M379.2 660.3h0M309.3 766.4h0M367.3 790.1h0M367 790.8h0M393.6 706.3h0M371.6 788.4h0M327.6 776.6h0M409.6 766.4h0M373.9 705.5h0M356.9 784.5h0M358 750.4h0M340.5 559.4h0M352.3 682.3h0M362.5 788.5h0M367.9 788.9h0M334.4 497.3h0M369 787.6h0M394.9 762.7h0M382.8 601h0M375.8 676.4h0M383.6 774.5h0M351.1 761.4h0M324.7 775.7h0M348.1 784.2h0M356.6 736.1h0M385.1 766.7h0M325.9 772.8h0M394 500.8h0M376 756.9h0M386.7 627.4h0M316.8 762.6h0M386.9 600.8h0M390.8 683.6h0M407.8 698h0M358.6 790h0M373 780.2h0M370.6 789.8h0M379.5 641.2h0M357.8 760.5h0M305.8 744.5h0M373.1 711.7h0M358.3 758.9h0M325.6 775.2h0M394.2 553.1h0M367 786.3h0M366.1 787.3h0M345 748.9h0M376.9 771.9h0M363.9 789.1h0M342.2 750.2h0M356.5 781.6h0M372.5 760.9h0M362.1 785.9h0M333.4 520h0M339.1 761.8h0M339.4 720.8h0M341.3 575.7h0M382.5 712.4h0M349.3 786.3h0M370.9 770.8h0M375.3 690.4h0M381.3 771.8h0M405.2 744.9h0M354.1 779.8h0M418.4 753.2h0M354.2 716.2h0M344.9 787.4h0M289.2 749.6h0M402.1 751.9h0M364.5 789.5h0M361.9 790.9h0M358.4 755.5h0M370.5 787.7h0M341.9 568.2h0M297.3 761.2h0M339.9 759.4h0M476.8 713.7h0M367.9 768.6h0M327.7 680.4h0M398.2 677.4h0M391.8 505.1h0M365.4 789.6h0M369.9 785.7h0M298.8 742.1h0M396.3 502.1h0M372.6 780.4h0M397.7 483.1h0M354.8 722.6h0" fill="none" stroke="#bebebe" stroke-width="9.0" stroke-linecap="round" stroke-opacity="0.55"/>
<path d="M367.5 790.6h0M336 560.7h0M356 788.7h0M299.9 690.5h0M337.5 780.3h0M354.7 751.4h0M379.9 653.2h0M385.3 755.8h0M379.2 758.9h0M357.1 766.4h0M412.3 766.9h0M349.2 785.1h0M373.9 702h0M353 765.8h0M356.3 789.5h0M370.8 790.8h0M382.2 642.5h0M374.8 785.5h0M334.5 505.4h0M384.8 777.5h0M396 774.1h0M389.4 775.4h0M280.9 727.8h0M355.8 787h0M343.3 775.6h0M335.2 610h0M323.4 758.4h0M371.6 776.3h0M373.5 707.6h0M328.4 701.9h0M378.6 761.4h0M305.8 753.3h0M361.3 780.2h0M384.6 742.4h0M343.6 666.4h0M320.2 725.3h0M367.9 790.8h0M351.8 776.1h0M394.3 531.7h0M378.6 788.2h0M358.4 784.9h0M374.7 788.3h0M378.4 747h0M365 787.8h0M405 772.9h0M350.2 785h0M396.7 486.3h0M405.3 773.7h0M335.3 766.7h0M385.2 786h0M366.7 783.2h0M337.5 781.9h0M389 567.6h0M437.1 758.2h0M370.7 787.8h0M397.9 767.9h0M368.5 786.3h0M414.6 766h0M357.8 758.4h0M376.8 755.7h0M357.2 788.3h0M399 748.5h0M358.9 760.6h0M324.5 384.4h0M358.5 787.8h0M369.7 789.2h0M382.6 616.4h0M340.7 560.6h0M401.3 462.7h0M368.7 768h0M365.9 789h0M339 782.1h0M387.9 563.4h0M373.7 762.6h0M374.6 700.7h0M307.8 763.5h0M363.6 790.8h0M351.1 673.6h0M366.5 784.3h0M413 773h0M345.5 620.4h0M340.7 668.8h0M361.2 787.6h0M380.4 629.3h0M367.7 774.1h0M382.1 617.6h0M315.9 685.5h0M408.4 715.8h0M340.1 747.9h0M380.8 779.1h0M349.4 784.1h0M382 705.2h0M352.9 701h0M370.7 787.7h0M334.3 782.1h0M362.1 789.9h0M371.9 772.4h0M350.3 740.9h0M402.8 648.6h0M401.4 671h0M366.1 790h0M374.2 722.5h0M382 649.8h0M388.4 734.8h0M342.5 757.6h0M336.5 778.2h0M329.5 771.2h0M435 722.7h0M403.7 693.6h0M377.4 720.4h0M377.9 681.8h0M366.6 790.8h0M348.7 643.3h0M350.9 678.5h0M320.1 771h0M353.3 754.7h0M438.8 756.4h0M352.4 682.2h0M371.9 787.4h0M353.1 776.5h0M391.2 528.4h0M376.5 676.4h0M366.5 779.1h0M427.1 762.6h0M352.5 787.8h0M369.8 789.8h0M385.7 583.7h0M356.2 788.3h0M357.2 789.6h0M384.5 673.1h0M346.8 625.1h0M336.2 597.9h0M339.3 540.6h0M351 719.4h0M383 769.2h0M356.4 732.5h0M357.2 778.2h0M335 763h0M350 770.3h0M335.9 779h0M359 787.8h0M378 786.8h0M360.2 782.5h0M377.2 785.3h0M302.9 700.9h0M371.2 744h0M366.3 788.1h0M360.3 773.7h0M394.7 750.4h0M394.2 499.1h0M384.2 589.8h0M358.2 788h0M340.4 774.2h0M412.5 718.9h0M401.2 748.1h0M349.9 786.5h0M393.6 619.9h0M334.1 672.3h0M322.9 779.3h0M376.7 670.2h0M337.4 533.9h0M365.3 790.7h0M366.1 787.9h0M353.1 788.4h0M369.2 756.4h0M272.4 770h0M357 786.7h0M373.6 723.7h0M341.8 782h0M376.7 784.5h0M343.1 672.3h0M367.2 781.4h0M358 788.2h0M378 788h0M338.8 778.6h0M347.8 689h0M369.3 757.2h0M399.7 775.5h0M353.9 789.4h0M403.7 506.1h0M372.6 786.5h0M374.4 717.8h0M335 731.5h0M327.9 781.9h0M385.6 751.8h0M369.1 789h0M355.7 769.4h0M378.5 669.2h0M382.9 775h0M356 786.4h0M348.5 774.2h0M378.8 772.9h0M346.7 750.7h0M372.3 786.7h0M347.3 777.9h0M376 685h0M381.3 638.5h0M443.1 748.6h0M344 745.6h0M369.8 788.2h0M380.2 782.7h0M407 781.4h0M355.4 788.9h0M354.6 788.7h0M353.3 785.5h0M385.9 770.1h0M356.1 788.5h0M303.6 686.5h0M379.6 745h0M320.7 714.1h0M396.6 777.6h0M360.5 776.3h0M457.6 700h0M399.1 775.1h0M366.3 788.4h0M368.5 787h0M366.8 777.5h0M327.4 724h0M370.7 779.8h0M391.2 782h0M347.1 782.1h0M444.2 749.1h0M448.4 729.8h0M380.2 759.8h0M377.9 787.9h0M365.5 791h0M362.9 787.5h0M371.5 734.9h0M370.3 745.3h0M340.5 614.4h0M339.5 732.1h0M381.4 693.8h0M341.5 784.3h0M351.1 728h0M335.8 548.8h0M389.6 778.8h0M378.4 711.9h0M371.3 789.7h0M313.3 764.1h0M245.9 769.6h0M402.6 448.3h0M428.6 689.8h0M413.9 744.1h0M377.8 668.9h0M385.2 775.6h0M334.5 770h0M321.1 692.3h0M384.4 783.5h0M371.7 742.6h0M328.9 457.4h0M331.4 774.7h0M345.1 766.4h0M394.9 509.5h0M355.6 773.8h0M380.1 787.2h0M383.9 694.1h0M387.5 558.4h0M353.1 743.8h0M387.9 606.6h0M336 787.6h0M347.2 785.6h0M373.9 789h0M367 789.1h0M346.9 776.4h0M372.7 788h0M397.3 586.5h0M347.7 786.7h0M382.5 621.4h0M388 784.6h0M387.3 768.5h0M331.2 473.4h0M353.4 765.3h0M402.9 758.6h0M416.8 770.2h0M325.6 734.9h0M425 764.9h0M366.8 789.3h0M313 750.2h0M324 758.6h0M282.8 751.1h0M337.4 671.7h0M380.1 641h0M369.7 789h0M339 746.8h0M350 660.3h0M347.8 675.3h0M381.2 780h0M346.1 630.4h0M345.8 618h0M387.2 766h0M384.2 596h0M371.4 789.8h0M373.4 717h0M343.6 589.1h0M351.8 756.4h0M378.8 781.4h0M348.3 748h0M357.4 784.1h0M328.6 778.4h0M375.5 779.9h0M367.1 789.7h0M349.7 784.5h0M345.1 754.4h0M363.9 789.9h0M364 790h0M374.3 773.5h0M360.4 787.9h0M381.9 706.5h0M345 753h0M372.9 717.5h0M372.2 775h0M360.2 790h0M424.9 712.6h0M372.3 786.8h0M406.5 724.3h0M364.6 790h0M373 759.4h0M301.6 744.7h0M309.8 706.3h0M381.5 629.7h0M401.1 459.8h0M361.6 787.4h0M351.2 786.2h0M379.7 755.7h0M353.1 781.9h0M371.4 781.7h0M355.4 786.8h0M345.2 683.9h0M347.1 775.6h0M361.5 787.9h0M317.3 771.8h0M365.3 786h0M374.3 784.3h0M375.3 785.4h0M346.4 770.5h0M342.8 776.4h0M374.6 789.4h0M383.6 784.2h0M429.6 691.2h0M436 755.4h0M374.5 698.2h0M364.1 789.1h0M367.8 768.2h0M362.6 788h0M379.6 784.9h0M344.4 787.9h0M344.8 781.6h0M350.8 784.7h0M385.2 784.8h0M400.5 448.5h0M342.3 581.3h0M454.7 738.2h0M418.4 711.1h0M385.3 771.9h0M386 778.5h0M368.9 789.8h0M364.3 790h0M363.4 788.6h0M358 776.1h0M333.2 778.9h0M391.9 762.2h0M358.1 789.6h0M307.5 765.4h0M426.6 723.4h0M358.2 787.4h0M381.2 698.5h0M341.6 574.4h0M367.4 787.1h0M353.6 697.1h0M366.5 790.2h0M362.4 784.9h0M382.4 771.1h0M385.2 779.9h0M368.2 786.3h0M357.7 787.7h0M380.6 787.1h0M377.3 783.1h0M379.8 642.6h0M394 517.9h0M359.5 765.3h0M341.8 782.9h0M376.4 753.8h0M407.5 762.3h0M347.2 771.3h0M397.9 751.3h0M387.8 747.3h0M379 786.4h0M324.8 701.9h0M374.4 715.9h0M400.6 679h0M358.5 787.7h0M351.5 676.9h0M349.3 787.1h0M343.2 612.1h0M399 701.3h0M340.4 660.1h0M384.8 583.3h0M377.6 682h0M328.8 731.1h0M354.2 741.5h0M373.2 761.5h0M358.6 784.4h0M321.1 756.2h0M364.2 789.6h0M311.8 776.2h0M398.1 611.3h0M387.5 777.9h0M361.8 790.1h0M379.7 643.2h0M367.2 789.5h0M412.3 748.9h0M380.7 669.7h0M356.5 750.1h0M395.1 699.4h0M367.6 781.8h0M379.2 786h0M364.3 790.1h0M340.5 767.1h0M370.8 776.6h0M403.4 773.6h0M408.2 721.4h0M367.2 789.5h0M370.1 764.5h0M397 674.8h0M384.8 780.1h0M353.5 703.6h0M374.9 691.4h0M398 782.7h0M350.8 743.4h0M361.6 789.8h0M416 722.7h0M390.4 779.8h0M326.9 462.7h0M379.7 781.2h0M374.4 784.7h0M372.7 781.6h0M366.5 785.5h0M352.4 788.1h0M366.7 787.5h0M367.3 789.1h0M370.1 755.3h0M356.3 784.2h0M321.9 740.7h0M374.3 702.4h0M390.2 783.5h0M330.5 473.4h0M371.8 733.5h0M328 727.9h0M310.3 767.8h0M386.6 771.5h0M364.4 789.4h0M393.6 509.1h0M418.2 769.7h0M337.3 557.2h0M364.5 790.2h0M368.9 787.7h0M338 783.8h0M346.6 638.2h0M338.1 778.6h0M313.3 780.2h0M340.7 780.8h0M364.3 788h0M342.3 785h0M370 785.1h0M368.4 777.6h0M405.9 763.8h0M359.9 789.9h0M370.2 746.7h0M319.7 767.4h0M370.6 786.1h0M446.5 743.1h0M375.2 787.2h0M378.6 725.2h0M397.5 471.5h0M337.8 770.6h0M340.4 753h0M365.9 790.4h0M375.3 768.2h0M378 783.9h0M372.1 787.9h0M404.3 776.2h0M334.4 503.6h0M360 789.5h0M367.1 773.8h0M388 774.1h0M377.3 783.3h0M342.8 590.8h0M357.4 749.3h0M347 721.6h0M363.2 789.1h0M353.9 785.9h0M353.8 788.4h0M327.4 418.5h0M366.5 780.2h0M344 768.8h0M359.5 765.2h0M345.8 740.5h0M384 597.6h0M397.2 448.1h0M343.2 588.6h0M397.6 774h0M370.1 789h0M344.2 599.9h0M379.7 636.5h0M378.9 784.1h0M352.7 736h0M332.1 748.1h0M379.7 641.9h0M353.7 760.9h0M374.3 782.5h0M272 684.7h0M406.9 709h0M356.4 789.1h0M327.5 758.6h0M366.4 779.7h0M310.5 724.5h0M378.2 787.9h0M368.4 764.9h0M332 780.5h0M349.9 742.3h0M326.7 709.4h0M377 779.3h0M383.6 670.2h0M375.8 682.1h0M375.8 784.8h0M372.6 787.9h0M341.5 579h0M376.5 679.2h0M376.1 679.8h0M335.8 785.9h0M381.1 780.7h0M378 784.4h0M303.4 724.9h0M373.7 783.8h0M348.5 642.1h0M354.6 730.8h0M394.2 750.2h0M373.3 702.6h0M379.5 640.3h0M385.2 770.6h0M365 790.2h0M387.6 561.2h0M390.5 783.8h0M339 605.8h0M371.3 788.5h0M376.2 786.8h0M456.5 722.8h0M339.3 630.8h0M350.1 789.4h0M360.3 787.8h0M380.2 784.8h0M375.7 788.8h0M369.4 755.9h0M398.8 765.2h0M365.6 790.8h0M385.5 757.4h0M338.8 546.1h0M349.2 743.2h0M390.7 618h0M349 648.3h0M341.7 725.6h0M385 594.5h0M426.7 739.1h0M349 766h0M396.7 551.2h0M354.6 781.6h0M361 778.8h0M430.9 762.8h0M357.7 788.4h0M400.3 616.9h0M375.5 751.6h0M387 576.4h0M398.4 693.7h0M392.7 776.3h0M361.7 783.4h0M366.2 781.5h0M418.5 755.8h0M367.6 782.6h0M376.6 777.7h0M328.7 585.8h0M352 701.4h0M347.9 785.8h0M337.9 525.8h0M440.8 743.8h0M341 567.4h0M334.9 496.9h0M420.6 759.2h0M363.7 789.1h0M385.1 784h0M364.1 789.9h0M343.5 781h0M338.5 705.2h0M362.4 789.7h0M336.4 523.1h0M322.1 775.3h0M307.8 717.8h0M316 745.1h0M345.1 752.4h0M353.3 777.2h0M387.8 783.3h0M339 772.9h0M379.2 648.7h0M381 773.7h0M341.5 751.4h0M368.6 788.7h0M345.1 755.7h0M367.3 790.1h0M399.5 754.1h0M370.3 751.7h0M357.1 744.2h0M357.8 746.9h0M369 789.3h0M395.9 765.3h0M323.3 724.2h0M356.6 744.1h0M348.6 644.8h0M359.3 785.5h0M361.6 780.2h0M373.7 715.6h0M403 776.3h0M357 744.1h0M377.2 692.9h0M383.4 598.7h0M394.7 769.3h0M338.2 770.2h0M448.7 737.9h0M389.8 688.6h0M357.1 789.8h0M315.3 705.4h0M393.9 497.3h0M351.2 772h0M383.7 753.8h0M346.8 783.7h0M351.4 760.7h0M419.7 727.9h0M397.3 723.4h0M353.5 788.9h0M349.1 786.9h0M366.7 781.2h0M379.9 786.8h0M418.1 751.4h0M353.5 697.5h0M344.4 783.3h0M398.1 773.3h0M375.8 695.7h0M334.4 582.8h0M350.8 676.4h0M335.9 771.8h0M361.8 783.7h0M370.8 784.2h0M373.6 789.2h0M365.6 787.8h0M368 787.2h0M390.7 773.7h0M358.9 790h0M422.9 762.8h0M384.9 788.1h0M392.1 503.2h0M378.1 783.7h0M359.4 763.7h0M375.3 787.8h0M374 754.6h0M391.8 774h0M360.1 788.3h0M337 533.7h0M339.2 544.2h0M371.3 787.1h0M379.7 770.4h0M379.3 756.8h0M371.6 786.6h0M355.5 748.2h0M402.3 781.9h0M380.2 784h0M390.1 764.3h0M364.1 790.3h0M361.3 788.5h0M357.6 787.9h0M374.8 772.3h0M387.8 550.2h0M382.6 616.4h0M336.8 773h0M351.6 691.8h0M459.2 701.5h0M346.5 765.1h0M345.6 783.4h0M395.5 779.7h0M395.2 763.3h0M386.8 768.1h0M362.6 787.5h0M394.8 571.2h0M335.8 656.4h0M343.6 699.1h0M359.5 765.5h0M363.7 789.4h0M363.4 790.8h0M331.2 697.5h0M400.6 776h0M352.8 741.9h0M354.6 788.2h0M357.2 758.6h0M354.8 727.9h0M385.4 680.2h0M386.5 562.7h0M386.8 580.5h0M362.3 788.3h0M364.3 790.2h0M382.2 776.6h0M350.2 759.5h0M342 783.8h0M377.9 781.6h0M378.5 786.4h0M370.4 787.5h0M320.8 686.3h0M362.9 789h0M409.7 749.1h0M359.2 790.4h0M369.5 789.4h0M371.1 786.2h0M365.3 789.8h0M364.1 790.5h0M344.6 785.5h0M391 527.1h0M343.9 779.4h0M330.2 780.7h0M381.9 619.9h0M328.7 471.6h0M348 786.8h0M363.8 789.3h0M327.2 669.7h0M355 786.2h0M402.5 779.1h0M363.6 788.7h0M393.3 776.6h0M360.4 787.4h0M324 764.8h0M384.9 747.3h0M355.4 760.4h0M370.4 779.4h0M325.7 776.2h0M417.4 729.3h0M351.8 679.5h0M345.8 784.7h0M361.2 788.2h0M425.5 714.1h0M370.9 787.8h0M357.4 789.2h0M389.6 783.9h0M323.9 643.1h0M358.1 790.1h0M340.9 757.7h0M377.4 679.2h0M355 724.9h0M359.2 784.3h0M344.7 782h0M381.9 699h0M351.4 693.8h0M405.7 762.7h0M379.2 641.7h0M344.6 617.7h0M332.3 562.9h0M361.1 777.2h0M365.1 788h0M389.4 597.5h0M375.3 782.7h0M356.3 729h0M440.4 745.9h0M327.5 435.7h0M347.4 649h0M367.3 789.3h0M338.9 762h0M359.6 767.6h0M363.1 790.1h0M372.9 760h0M348.5 666.7h0M339.5 688.6h0M398.1 774h0M376.8 785.2h0M378.5 655.5h0M392.4 758.2h0M357.9 756.5h0M366.2 789.1h0M353.9 783.5h0M391 776.7h0M371.7 785.8h0M380.5 699.6h0M384.6 776.8h0M363.3 790.4h0M361 788.5h0M260.5 693.3h0M369.7 786.9h0M383 777.3h0M381 787h0M374.5 777.3h0M347.1 643.8h0M358.5 789.7h0M419.2 725.2h0M354.5 786.7h0M373 721.2h0M375.1 748.1h0M387.6 780.8h0M400.5 756.6h0M374.9 782.3h0M313.9 767.7h0M348.5 775.2h0M374.4 767.5h0M376.3 772.5h0M309.4 763.9h0M374.9 785.7h0M377.9 669.6h0M390 742.7h0M418.6 781.2h0M348.9 771.3h0M356 723.9h0M397.9 464.3h0M355.9 735.3h0M360.3 780h0M397.3 471.5h0M334.6 752.5h0M377.2 778.1h0M395.3 778.9h0M373.1 787.4h0M368 789.1h0M358.9 786.6h0M382.2 679.1h0M391.3 779.7h0M444.9 734.6h0M369.5 787.3h0M342.2 784.5h0M372.1 737.8h0M382.7 783.6h0M346.8 650.3h0M377.1 768h0M364 791h0M367.5 774.7h0M361.8 790.6h0M402.7 725.1h0M372.7 783.6h0M343.2 783.4h0M361.3 780.5h0M387.5 784.5h0M354.5 784.8h0M361.4 790.4h0M331.9 780.3h0M373.4 777.2h0M409 705.3h0M335 773.5h0M337.5 778.6h0M356.2 780.6h0M421.5 760.7h0M342.1 648.8h0M351.8 678.6h0M350.1 776.9h0M380.5 780.2h0M384.4 775.8h0M349.9 670.2h0M383.7 685.9h0M316.1 767.7h0M361.5 789.3h0M388.7 774.7h0M347.5 745.1h0M355.3 718.9h0M360.7 785.7h0M365.5 785.2h0M344.7 732.1h0M456 697.3h0M358.7 785.5h0M344.2 592h0M338.3 760.7h0M364.1 788.5h0M358.9 760.8h0M354.6 785.2h0M316.9 785.6h0M370.2 788.4h0M369.1 790.1h0M364.8 787.9h0M367.3 789.9h0M398.1 472.8h0M353.3 786.6h0M340.8 781.9h0M347.5 643.6h0M358.5 756.8h0M388.4 683.6h0M385 588.4h0M334.3 489.8h0M362 783.7h0M325.9 752.9h0M393.7 668.4h0M356 788.3h0M339.9 669.8h0M386.3 775.9h0M399.9 756.3h0M345.1 693.6h0M344.1 606.4h0M424 757.5h0M381.9 783.5h0M407.2 727.4h0M367.4 774.2h0M376 676.6h0M355.6 788.2h0M362.2 785.5h0M348.6 779.8h0M380.4 708.6h0M384.9 596.9h0M355.9 785.9h0M382.1 611.8h0M334.2 576.1h0M420.8 695.8h0M393.5 639.9h0M392.7 516.5h0M431.5 731.1h0M371.3 763.1h0M373.3 704.4h0M370.3 746.4h0M380.3 645.6h0M433.2 782.7h0M251.2 709h0M365.4 790h0M448.3 713h0M366.9 790.4h0M384.2 620h0M365.8 790.3h0M356.8 737.4h0M375.7 770.2h0M355.5 784.4h0M377.2 670.5h0M372.1 780.1h0M377.4 785.1h0M365.5 784.9h0M364.7 786.6h0M326.1 778.5h0M351.4 756.9h0M366.8 777.5h0M411.9 729.6h0M353.9 788.9h0M340.2 756.6h0M358.1 779.9h0M379.6 776.3h0M379.6 769.3h0M384.1 720.2h0M333.3 633.9h0M346.1 781.2h0M332.5 484.2h0M338.8 737.6h0M351.7 679.2h0M390.8 521.6h0M398.9 761.5h0M334.7 744.5h0M375.7 695.1h0M372.9 719.8h0M349 693.3h0M355.1 767.2h0M378 788.6h0M345.8 786.6h0M376.5 674.9h0M368 771.9h0M378.4 781.5h0M385.5 655.5h0M370.9 788h0M386.1 771h0M369 762.8h0M356.9 788.1h0M360.5 790.2h0M353.1 691.2h0M374.9 783.7h0M434.7 776.1h0M326.9 602h0M354 782.2h0M363.5 789.7h0M333.2 778.2h0M268.8 733.6h0M393 590.3h0M379.3 789.5h0M380.8 626.8h0M349.7 674.2h0M371.5 730.8h0M373.1 787h0M375.6 784.4h0M360.8 790.9h0M343 783.2h0M385.6 598.1h0M375.2 786.3h0M368.2 788.2h0M346.1 754.4h0M390.9 787.7h0M359.9 787.5h0M373.1 734.5h0M350.6 787.6h0M371.2 732.8h0M335.1 493.7h0M382.7 758h0M356.7 784h0M341.4 778h0M388.4 783.1h0M363.7 789.6h0M352.8 784.5h0M346.3 648.5h0M364.1 789.6h0M350.3 781.8h0M389 776.2h0M388 602.6h0M421.1 754.4h0M356.3 731.3h0M360 769.1h0M353.6 789.2h0M328.7 753.9h0M393.8 762.4h0M391.5 635.3h0M340 553.9h0M350.1 657.1h0M372.7 732h0M334.6 761.3h0M374.7 692.8h0M388 782.5h0M344.4 779.8h0M368.3 788.2h0M383.5 754.6h0M292.9 754.4h0M398.5 780.2h0M389.2 682.6h0M344.7 598h0M376.1 755.3h0M365.5 784.6h0M353.3 698.1h0M391.5 783.3h0M385.8 575h0M400.3 759.6h0M351.7 686.6h0M386.2 776.7h0M381.6 786.8h0M404.2 757.8h0M366.6 787.6h0M367.8 787.4h0M362.5 791.1h0M367.6 770.9h0M330.6 454.4h0M383.8 782.8h0M392.8 681.4h0M373.6 704.2h0M340.2 562.3h0M363.4 790.7h0M335.7 506.1h0M350.8 789.9h0M297 705.6h0M346.1 771.9h0M371.2 790.1h0M377.5 787.7h0M358.2 779.8h0M406.4 768.9h0M399.6 683.1h0M342.1 761.1h0M354.2 709.5h0M358.2 789.2h0M364.5 789.4h0M369.4 790.3h0M306 743.4h0M442.3 743.2h0M373.4 785.7h0M355.4 787.9h0M360.3 776.7h0M338.5 781.6h0M360.5 776.6h0M368.4 783.8h0M378.5 786.4h0M358.3 755.8h0M395.8 778.7h0M403.9 776.5h0M327.2 698.1h0M362.7 787.4h0M272.5 700.2h0M380.1 784.8h0M380.5 783.9h0M372.6 787.7h0M368.6 789.7h0M360.5 789.4h0M357.3 751.1h0M356.4 789.7h0M267.4 730.7h0M361.6 790.2h0M389.5 774.6h0M355.1 765.3h0M382.9 634.6h0M364.5 787.8h0M341.2 781.8h0M362 784.5h0M359.1 785.9h0M356.9 789.8h0M374.1 776.3h0M378.8 784.7h0M338.6 773.3h0M306.5 769.5h0M328.3 420.6h0M330.6 456.2h0M338.6 782.6h0M411.6 769.6h0M375.5 698.3h0M383.6 667.9h0M362 787.3h0M375.8 677.1h0M298.4 717.8h0M401.8 680.4h0M357.2 779.5h0M342.6 618.9h0M363.3 788.5h0M398.2 768.8h0M418.2 694.8h0M315.7 756.9h0M300.1 729.3h0M383.6 603.6h0M352.9 768.3h0M343.5 589.3h0M355.1 776.8h0M364.4 789.5h0M358.7 777.6h0M367.2 789.6h0M346.5 750.4h0M359.7 785.2h0M401.1 758.9h0M375.1 770.5h0M386.4 570.1h0M336.2 514.1h0M347.5 743.1h0M353.6 772.6h0M358.7 789.1h0M371.3 742.1h0M370.3 789.9h0M346.2 726.5h0M364.2 790.8h0M339.8 783.9h0M296.4 745.2h0M340.3 782.3h0M360.4 787.9h0M368.9 763.2h0M379.6 686.9h0M353.8 723.4h0M326.5 624.1h0M377.8 787.8h0M364.2 788.7h0M348.6 710.7h0M334.8 727.7h0M353.4 698.4h0M345.4 745.1h0M382.1 619.4h0M339.7 561.5h0M383 774.6h0M361.1 790.9h0M351.9 787.2h0M364.9 788.5h0M394.5 735.7h0M373.8 782.6h0M332 773.3h0M345.1 780.5h0M373.2 771.2h0M330 519.2h0M397.2 711.9h0M346 776.1h0M369.1 787.6h0M372.6 789.8h0M403.5 779.5h0M331.1 758.4h0M307.4 778.5h0M351.9 775.5h0M343.3 614.6h0M349.6 672.2h0M359.1 789h0M363 789.2h0M383.9 777.2h0M330.8 593.2h0M357.1 742.1h0M399.2 652.8h0M369.5 788.4h0M365.2 791.1h0M375.7 771.6h0M376.2 786.1h0M386.7 592h0M397.4 505.3h0M375.1 732.6h0M394.5 782h0M384.4 594.8h0M393.4 782.2h0M405.1 741.5h0M340.2 730.4h0M392.8 773.2h0M343.4 783.7h0M349.7 746.2h0M400.4 763.7h0M342.5 579h0M380.1 765.5h0M337.8 522.9h0M375.2 785.1h0M366.5 790.3h0M354.9 788.5h0M362.1 788.1h0M390.3 740.2h0M380.2 743.4h0M359.3 789.5h0M372.7 737.8h0M384.9 787.6h0M360.9 777.6h0M385.8 731.5h0M344.3 727.7h0M364.2 790.5h0M388.7 782.2h0M329.4 619h0M374.4 714.7h0M393.3 769.8h0M408.7 772.4h0M361.6 783.4h0M378 787.6h0M337.4 608.3h0M378 784.2h0M376.3 789.1h0M372.1 787.6h0M396.1 478h0M346 785.9h0M347.9 749.7h0M385.4 761.7h0M361.2 786.5h0M328.3 772.3h0M361.3 787.2h0M396.6 496.3h0M390.4 520h0M290.1 760.5h0M390.4 541.1h0M373.3 755.6h0M378.2 760.8h0M373 751.7h0M368.2 767.4h0M311.3 699.6h0M323.4 733.3h0M369.5 781.2h0M350 667.1h0M358 787.9h0M330.2 729.6h0M382.4 640h0M370.8 785.5h0M334.5 753.8h0M360.6 780.7h0M350.4 788.6h0M372 731.2h0M393.9 593.2h0M362.4 790h0M403.5 540.4h0M373 710.2h0M384.6 598.4h0M373.8 713.9h0M295.2 720h0M363.6 789.4h0M369.4 755.3h0M332.8 782.9h0M338.6 544.3h0M378.2 786.6h0M333.4 732.7h0M352.9 787.8h0M392.1 731.2h0M353.7 787.7h0M344.3 781.8h0M333.2 782.4h0M366.2 790.4h0M382.2 780.2h0M360.9 785.2h0M317.9 769.8h0M409.4 721h0M325.4 770.9h0M392.3 521.1h0M345 683.8h0M361.5 789.6h0M371.6 785.6h0M434.3 752.1h0" fill="none" stroke="#bebebe" stroke-width="9.0" stroke-linecap="round" stroke-opacity="0.55"/>
<path d="M326.9 781.8h0M355.4 787.5h0M381.1 633.4h0M346.5 772.8h0M338.9 584.3h0M353.4 698.1h0M364.9 790.7h0M357.1 765.2h0M282.8 694.1h0M265 769.1h0M365.2 786.2h0M359.6 768.3h0M331.6 474.7h0M358.6 789.1h0M351.7 678.7h0M368.1 769.5h0M383.1 782.5h0M300.5 751.2h0M349 781h0M394 486.4h0M321.3 700.2h0M373.7 786.8h0M387.5 776.6h0M384.3 618.1h0M337.9 525.3h0M370.5 742.9h0M324.2 465.6h0M301 761.6h0M329.1 615.1h0M338.5 781.1h0M377.3 780.1h0M356.4 755.2h0M369.6 785.2h0M333.3 538.5h0M359.7 789.5h0M343.9 775.2h0M385.7 735.7h0M353.7 788.8h0M361 789h0M376.5 739.3h0M376.8 717.3h0M391.7 509.4h0M367.7 789.2h0M356.4 785.1h0M383.8 784h0M392.7 781h0M368.4 767.4h0M344.1 593.9h0M386.1 576.1h0M331.5 779.4h0M342.4 783.9h0M380.2 749.8h0M369.9 786.2h0M319.8 772.7h0M371.8 790.4h0M349.8 782.6h0M358.5 787h0M361.4 789.9h0M377.2 788.6h0M374 787.6h0M351.8 787.7h0M345.7 786.6h0M301.4 701.7h0M343.3 740.7h0M364.7 788.5h0M337.1 519.3h0M379.7 662.4h0M348.1 786.9h0M379.5 785.7h0M354 785.7h0M307.4 707.8h0M343.1 584.3h0M364 790.5h0M367.5 790.2h0M427.5 744h0M289.7 697h0M357.9 750.9h0M325.9 412.3h0M374.5 775h0M351.5 780.4h0M353.5 738.1h0M393.7 484.8h0M357.5 788h0M483.6 726.8h0M444.4 742.5h0M332.9 765.1h0M387.5 748.9h0M387.2 669.4h0M366.9 789.9h0M358.4 755.9h0M380.3 771.7h0M392.1 610.1h0M347.1 629.5h0M340.1 774.1h0M362.8 790.9h0M399.2 684.8h0M365.2 790.7h0M337 768.8h0M275.4 742h0M329.1 771.8h0M331.9 771.8h0M364.8 788.3h0M352.3 777.8h0M357 785.4h0M354.7 716.5h0M354.5 789.3h0M366.8 779.1h0M367.3 775h0M428.9 702.2h0M322.6 744.8h0M352.9 689.3h0M345.4 767.6h0M409.2 773.4h0M365 790.1h0M402.9 396.5h0M351.8 764.1h0M365.6 790.2h0M389.4 788.2h0M389.5 754.1h0M336.7 771.4h0M349 767h0M381.6 780h0M368.9 790h0M342 569.4h0M373.2 787.6h0M351.2 670h0M312.2 725.3h0M353.5 745.4h0M346.3 785.3h0M374.6 699.8h0M373.7 786.5h0M377.2 759.4h0M366 788.9h0M354.8 788.4h0M372 732.2h0M361.5 790.1h0M333.5 746.9h0M324.3 745.3h0M351.8 775.9h0M351.6 682.2h0M398.6 761.6h0M368.7 787.8h0M360.2 790.7h0M340.1 705h0M434 738h0M370.4 787.4h0M392.5 736h0M429.3 729.7h0M395.3 589.7h0M366.2 786h0M364.5 787.8h0M324.6 737.7h0M371 749.4h0M354.1 786.8h0M383.6 653.3h0M392.3 777.8h0M387.9 727.1h0M332.5 737.2h0M339.9 550.1h0M380 755h0M392.4 575.9h0M386.8 577.4h0M377.1 679.4h0M337.3 737.9h0M341 560.7h0M344.4 705.1h0M391 771.7h0M353.5 777.6h0M366.8 789.6h0M373.4 785h0M354.4 728.5h0M374.3 697.7h0M351 691.4h0M378.6 785.7h0M380.5 781.3h0M380.9 741.9h0M342.5 737.2h0M351.6 783.6h0M352.3 786.1h0M388.8 547.3h0M386.5 765.5h0M342.7 751.5h0M347 786.4h0M338.9 730.1h0M336.1 779.1h0M345.1 778.5h0M343.2 714.6h0M401.6 765.5h0M383 772.1h0M264.5 730.7h0M352.5 788.5h0M324.4 504.6h0M343.4 588.2h0M382.9 705.4h0M382.3 763.5h0M371.6 734.1h0M413.2 703.2h0M346.9 766.5h0M354 758.2h0M354.2 785.8h0M368.7 769.3h0M402 756.1h0M383.9 642.6h0M353.5 758.1h0M386.9 576.3h0M400 455.2h0M372.5 785.9h0M310.4 736.4h0M361 790h0M340.8 559.2h0M341.2 726.2h0M355.7 728.9h0M352.4 787.4h0M404 742.8h0M340.7 777.6h0M405.7 753.4h0M371.2 734.4h0M384 592.7h0M345 780.3h0M375 693.8h0M373.5 702.7h0M377.2 787.4h0M360.3 790.4h0M354.6 788.8h0M341.6 567.6h0M378 783.9h0M387 775.3h0M372.8 785.9h0M320.1 758.3h0M344.1 613.3h0M352 788.3h0M324.5 480.9h0M356.4 786.8h0M316.9 749h0M367.7 769.7h0M363.1 790.1h0M388.2 774.1h0M349.6 784.6h0M286.6 697.6h0M367.3 787.6h0M344.6 675.1h0M365.4 789.4h0M357.4 743.5h0M327.5 653.9h0M344.7 715.8h0M340.4 781.1h0M358.9 789.4h0M355.5 722.2h0M348.2 770.3h0M361.6 782.3h0M367.5 785.5h0M317.8 772.6h0M312.4 769.3h0M383.4 711.3h0M369.8 789.2h0M360.3 788.9h0M386.3 755.7h0M340.1 778.3h0M358.5 761h0M332 761.1h0M326.9 737.4h0M390.8 547.2h0M365.6 786.5h0M358.9 789.7h0M299.4 731.7h0M380.9 770.5h0M345.5 609.8h0M391.2 775.5h0M385.8 572.2h0M338.3 704.2h0M349.9 787.4h0M389.6 779.4h0M365.5 785.9h0M351.6 787.3h0M369.4 754.4h0M335 642h0M364.5 788.7h0M388.2 775h0M327.6 662h0M372.9 716.7h0M379 649.2h0M369.5 769.8h0M377.1 716.3h0M334.3 746.2h0M330.9 503.1h0M300.1 776.7h0M365.8 785h0M373.9 701.7h0M394.4 772.7h0M387.4 779.1h0M374.4 783.8h0M204.9 703.8h0M359.3 765.4h0M372.3 772.2h0M389.2 783.1h0M369.9 748.7h0M367.9 771.3h0M379.1 695.8h0M332 690.4h0M420 761.1h0M358.6 787.1h0M403.3 696.8h0M364.8 789.5h0M335.1 576.6h0M350.7 677.7h0M335.5 504.5h0M361.5 782.1h0M366.7 778.6h0M356.5 785.2h0M339.7 784.8h0M351 782h0M384.2 784.7h0M335.1 751.1h0M349.9 789.7h0M416.4 757.2h0M373.2 716.5h0M336.3 632.6h0M365.7 785.5h0M327.2 604h0M360.5 786.9h0M372.7 714h0M362.5 787.3h0M335.1 507.8h0M366.7 786.7h0M353.3 691.9h0M363.9 789.4h0M362.5 788.4h0M313.5 739.7h0M355.6 778.8h0M351.2 786.4h0M351.5 747.4h0M389.9 755.6h0M326.7 778.3h0M341.6 582.5h0M374 786.5h0M354.2 772.4h0M397.9 506h0M345 608.8h0M381.4 616.7h0M345.9 705.2h0M326.1 607.8h0M356.8 753.3h0M373 715.4h0M376.2 677.2h0M404.9 770.2h0M308 736.8h0M362.4 789.9h0M392 770.6h0M378 781.4h0M405.5 766.8h0M395 495.6h0M381.9 776.5h0M361.7 784.5h0M352.6 688.8h0M341.6 580.6h0M359.6 790h0M529 703.8h0M350.5 767.8h0M373.6 704.2h0M351.9 707.3h0M357.2 754.3h0M306.8 717.2h0M363.1 789h0M361.3 779.4h0M344.7 646.5h0M362.3 790.6h0M394.1 750.6h0M327.8 762.3h0M395.5 779.1h0M378.1 778.6h0M339.9 649.7h0M310.8 721h0M308 718.3h0M402.7 773.4h0M367.2 789.6h0M358.4 781.2h0M391.9 705h0M359.7 771.9h0M372.8 712.5h0M355.9 725.2h0M336.9 518.8h0M355.5 778.5h0M388.6 645.3h0M366.2 786.7h0M400.6 691.7h0M329.2 770.8h0M373.3 782.8h0M378.6 649.3h0M346.8 623.7h0M391.1 539.1h0M357.9 753.2h0M374.6 789.3h0M373 710.5h0M383.1 748.3h0M377 737.7h0M380.5 643.6h0M365.3 790.5h0M379.2 652.7h0M341.5 777.5h0M362 787.5h0M376.3 739h0M389.1 639.6h0M336.8 783.4h0M395.3 779.7h0M375.2 686.2h0M352.5 773.4h0M330.4 443.1h0M390.9 665.3h0M339.4 775.8h0M373.8 787.3h0M398.1 478.3h0M374.6 696.7h0M357.1 787.2h0M364.8 789.3h0M333.6 774h0M331.5 455.8h0M335.4 730.6h0M358 752.4h0M377.6 658.6h0M337.4 545h0M326.4 778.8h0M380.5 784.1h0M369.3 790.3h0M377 786.4h0M369.8 763.2h0M345.3 783.4h0M345.6 780.5h0M398.5 717.1h0M360 782.4h0M357.6 781.5h0M339.9 545.6h0M354.1 706.3h0M352.6 788.5h0M343 701.5h0M354.1 766.9h0M336.3 528h0M360 769.8h0M344.4 771.6h0M318.4 768.6h0M369.3 761.3h0M359 789.6h0M346.3 632.8h0M349.4 779.6h0M320.8 766.6h0M359.9 790h0M345.7 775.8h0M354.1 768.4h0M329.2 774h0M375.3 777.1h0M334.2 515.9h0M397.3 700.3h0M334.4 535.4h0M408.4 690h0M356.7 744.7h0M365.6 790.3h0M363.9 789.3h0M395.5 641h0M342.1 699.7h0M349.8 780h0M351.9 776.9h0M362.2 786.9h0M325.3 395h0M395.5 482.5h0M378.9 778h0M398 768.5h0M447 685.7h0M352.7 746.1h0M329.9 733.2h0M331.8 471.1h0M373.4 784.1h0M393 510.4h0M370.4 789h0M343.1 768.9h0M344.9 786h0M390.5 562.5h0M305.7 765.1h0M427.9 750.5h0M392.5 695.1h0M401 411.8h0M344.7 601.2h0M356.5 785.6h0M325.9 402.8h0M359.7 769.9h0M317.4 732.9h0M362.9 790.2h0M394.8 714.2h0M356.2 752.7h0M354.7 788.7h0M389.5 569.2h0M342.3 783.8h0M358 788.9h0M356.8 778.3h0M366.7 788.8h0M394.2 501.1h0M384.5 748.8h0M327.4 446.6h0M360.2 790.4h0M346.5 779.3h0M336.1 559.9h0M379.4 769.6h0M359.1 773.6h0M355.1 756.7h0M357.2 789.4h0M378.5 764h0M376.4 779h0M365.2 790.2h0M320.6 770.8h0M368.9 789.1h0M281.1 694.8h0M331.4 758.9h0M384.2 780.1h0M385.5 745.1h0M331.5 774.4h0M349.9 770h0M329.9 682.1h0M340.8 782.1h0M413.4 758.5h0M320.6 772.3h0M367.3 788.8h0M377.6 780.1h0M349.8 750.8h0M387.2 747.8h0M368.5 789h0M329.4 758.2h0M327.5 631.8h0M363.2 788.5h0M393.5 537.8h0M380.3 785.7h0M370.2 780.9h0M366.7 778.8h0M442.3 745.9h0M377.8 787.1h0M344.1 594.5h0M355.5 740.4h0M330.3 765.3h0M348.1 695h0M374.1 698.3h0M367.2 785.1h0M365.9 781.1h0M374.1 789.5h0M343.3 785.6h0M380.7 787.4h0M399.5 771.7h0M352.7 779.1h0M365.5 790.2h0M328.7 661.9h0M367.1 776.3h0M393.7 745.8h0M383 770.2h0M365.4 790h0M360.7 785.2h0M382.7 612.3h0M376.5 722.6h0M381.8 786h0M349.4 756.5h0M377.2 788.2h0M354.4 713.5h0M370.8 787.8h0M344.9 605h0M383.5 772.8h0M364.9 787.7h0M346.4 743.4h0M368.1 789.2h0M371.1 778h0M365.3 787h0M356.9 740.6h0M377 667.2h0M347.4 782.1h0M341.6 604.3h0M362.9 790.2h0M329.6 441.1h0M338.7 747.7h0M380.6 633.8h0M356.4 735.6h0M428.3 756.3h0M382.6 624.7h0M358.5 755.8h0M401.6 424.1h0M378.3 710.4h0M290.9 724.2h0M396.3 632.2h0M321.9 758.3h0M371.5 762.1h0M335.6 500.2h0M374.2 756h0M244.5 703.8h0M372.7 760.4h0M349.5 728.3h0M357.1 743.6h0M348.5 668h0M395.8 769.8h0M373.8 723.2h0M364.3 789.4h0M347.8 636.9h0M354.7 787.8h0M372 727.2h0M447 723.5h0M376.4 677.9h0M360.6 790.6h0M368.3 770.7h0M362.6 789.6h0M375.6 786.4h0M334.3 772.4h0M370 760.8h0M380.5 781.7h0M346.9 667h0M435 732.4h0M399.8 785.7h0M391.7 762.5h0M333.5 757.1h0M269.2 692h0M358.3 785.3h0M348.2 657.3h0M349.8 657.5h0M349.6 663.4h0M373.9 786.6h0M352.8 696.2h0M352.5 787.6h0M393.9 508.2h0M380.6 628.9h0M368.2 778.2h0M366 779.7h0M363.9 790.3h0M340.7 740.5h0M311.3 684h0M314.6 765.6h0M363.3 790.3h0M349.1 783.7h0M357.2 786.5h0M400.6 774.5h0M355.4 786h0M349.5 786.6h0M343.6 773.9h0M367.4 778.7h0M346 780.9h0M360.6 789.4h0M344.8 774.8h0M356.7 735.9h0M372 788.7h0M378 783.5h0M375.7 681.6h0M361 786h0M414.3 743.8h0M378.8 673.1h0M371.3 785.6h0M363.5 788.6h0M369 787h0M338.3 737.3h0M364.6 788.2h0M367.9 775.3h0M388.9 713.8h0M334.7 509.9h0M361.8 790h0M347.5 652.6h0M331.5 555.4h0M465.6 692.3h0M359.1 787.7h0M381 783.5h0M356.5 734.2h0M375.5 685.3h0M344.2 781.1h0M394.7 645.5h0M335.7 538.4h0M335 761.3h0M376.1 786.9h0M392.1 750.7h0M350.1 668h0M366.3 790h0M385.8 782.7h0M370.2 747.7h0M376.9 785.6h0M337.4 527.2h0M385.8 776.6h0M373.4 780.8h0M403.7 706.1h0M363.6 789.3h0M385.1 768.5h0M337.5 713.4h0M369.2 768.7h0M381 621.9h0M362.1 787.3h0M382.5 632.7h0M381.3 733.3h0M345.4 624.5h0M385.1 658h0M359.5 783.9h0M358.4 789.3h0M345.1 615.2h0M319.3 707.1h0M379.2 784.2h0M368.1 779.4h0M372.8 718.7h0M375.5 685.5h0M374 716.7h0M344.2 748.3h0M360.2 778.3h0M304.7 720h0M406.5 763.8h0M375.7 698.2h0M359.4 789.1h0M375 721.8h0M341.2 785.1h0M385 783.7h0M363.9 790.6h0M354.5 788.4h0M329 771.1h0M337.9 777.1h0M324.5 401.7h0M347.9 777.2h0M342.5 696.1h0M385.1 580.3h0M338.6 532.8h0M346.1 702.4h0M340.7 728.9h0M366.8 782h0M357.2 744.7h0M368.2 785.7h0M354.2 788.3h0M390.2 533.9h0M387.7 778.5h0M409.6 755.2h0M372.5 782.5h0M362 790.3h0M359.4 780.7h0M391.5 753.4h0M348 781.3h0M386 702.9h0M369.4 789.8h0M345.6 738.8h0M355.2 787.4h0M345.2 605.8h0M340.5 599.1h0M357 789.1h0M364.1 789.4h0M377.6 783.8h0M348.4 653.6h0M391.8 776.2h0M361.3 781h0M339.9 763.3h0M383.3 784.6h0M376 782.6h0M377 788h0M342.4 728.5h0M413.1 783.4h0M367.1 787.3h0M362.8 786.9h0M361.7 782.2h0M398.7 774.9h0M383.4 655.4h0M365.9 784h0M374.6 698.1h0M368.3 789.8h0M318.4 719.8h0M371.2 785.1h0M358.4 788.2h0M355.4 789.4h0M359.8 789.7h0M362.3 783.4h0M371.1 775.1h0M376.1 682.9h0M393.9 654.5h0M365.5 789.4h0M380.9 784.9h0M382.8 781.1h0M341.4 784.7h0M446 747.2h0M352.1 696.4h0M354.4 704.1h0M380.9 787.1h0M364.3 791.1h0M356.1 727.8h0M363.8 790.6h0M373.7 719.3h0M336 784.4h0M410 770.3h0M400.7 639.6h0M376.2 677.2h0M360.2 789h0M359.2 787.6h0M364.1 789.9h0M357.5 773.9h0M397.9 786.1h0M326 782.5h0M366.9 788.8h0M373.8 764h0M377.2 663.8h0M372 780.4h0M349.9 662.5h0M343.3 783.5h0M350.8 785.4h0M344.9 782h0M362.1 790.4h0M333.3 699.8h0M345 773.1h0M357.9 789.8h0M367.2 788.8h0M378.9 765.3h0M363.2 790.3h0M367.9 788.8h0M394.3 782.2h0M356.8 787.1h0M431.6 759h0M492.6 689.5h0M327.6 456.6h0M384.2 583h0M348.1 783.2h0M354.4 764.2h0M361.2 789.2h0M373.7 764.1h0M413.6 749.3h0M353.8 788.6h0M379.2 777h0M369.1 775.4h0M350.4 784.4h0M368.1 772.4h0M374.5 774.6h0M359.3 790.2h0M338.6 768.8h0M385.3 584.6h0M376.9 672.5h0M382.2 768h0M403.5 729.5h0M377.4 771.3h0M356.6 788.5h0M349.5 653.9h0M421.9 763.6h0M367.5 788.9h0M342.4 769.8h0M355.9 765.2h0M427.3 732.7h0M308.4 737.2h0M373.9 704.1h0M345.9 641.1h0M358.3 786.9h0M370.8 786.3h0M341.3 612.5h0M322.4 761.4h0M367.3 788.5h0M350 669.1h0M353.8 780.9h0M307 710.4h0M384.4 602h0M379.9 787.6h0M362.1 787.3h0M344.6 598.1h0M343.1 782.6h0M336.8 784.1h0M375.2 754h0M336.5 542.8h0M375 697.9h0M363.8 789.9h0M379.8 729.4h0M360.6 783.1h0M367 786.5h0M327.1 432.8h0M355.6 729.7h0M320 720.8h0M350.3 788.8h0M353.2 787.1h0M380.9 694.2h0M356.3 780.6h0M364.3 788.9h0M360.5 790.1h0M331.7 746h0M356.6 786.7h0M326.1 753.2h0M374.7 785.5h0M343.1 785.7h0M368.2 780h0M346 785.8h0M361.2 788.9h0M357 786h0M365.7 784.6h0M372.4 777.2h0M378.8 648.9h0M351.2 779.9h0M382.1 611.7h0M373.2 706.5h0M393.7 508.2h0M402.5 390h0M337.2 521h0M378.9 785.7h0M379.8 639.3h0M376.6 763.1h0M368.3 788.6h0M361.4 786.8h0M345.3 788.4h0M393.6 697.9h0M364.2 791h0M366.5 781.8h0M376.5 682.3h0M362.2 790.1h0M344.4 720.3h0M380.1 671.4h0M375 686.8h0M396.6 576.7h0M345.1 786.5h0M326.9 557.8h0M361.8 783.1h0M350.8 665.4h0M333.7 512.5h0M397.6 446.1h0M291.4 727.1h0M385.9 783.4h0M365.8 783.7h0M346.7 620.9h0M367.5 787.1h0M366.7 779.7h0M361.5 784.7h0M334.6 772.9h0M390.9 767h0M361.1 790.3h0M355.3 777.6h0M350.4 670.6h0M379.6 786.9h0M384.3 766.6h0M381.9 772.5h0M401.6 744.8h0M369.9 787.9h0M326.4 641.6h0M364.3 789.8h0M368.4 788.5h0M383.9 604.6h0M357.9 755.3h0M348.2 779.7h0M388.3 780.5h0M367.3 783.1h0M354.8 754.6h0M357.5 789.7h0M401.5 593.5h0M367.7 786.4h0M365.3 789.9h0M398.2 438h0M330 752.9h0M347.2 734.4h0M332.1 763.5h0M399.4 779.7h0M374.6 753.5h0M348.8 784.7h0M356.9 737.3h0M351.8 777.2h0M329.9 444.5h0M353.5 696.8h0M304.3 690.2h0M403.3 768.3h0M401.6 424.6h0M381.4 784.5h0M346.7 661.1h0M326 398.4h0M354.3 788.2h0M368.8 788.3h0M376.4 787.7h0M334.1 485.7h0M362.9 787.8h0M363.7 790.3h0M368.4 790.5h0M324.3 643.8h0M363 789.6h0M377.7 747.3h0M358.8 773h0M347.5 627.7h0M330.8 732.8h0M429.7 773h0M350.1 671.8h0M369.6 789.2h0M340.2 552.3h0M384.3 770h0M341.8 783.8h0M395.1 493h0M344.3 754.9h0M362.5 787.3h0M402.5 640.9h0M344.6 609.9h0M345.9 743.4h0M359.2 786.7h0M354.1 751.7h0M351.8 786.6h0M339.5 758.3h0M378.3 784.8h0M364.5 788.3h0M402.4 760.3h0M384.1 746.2h0M392.8 532.7h0M379.2 652.2h0M339.3 598.7h0M371.3 737.6h0M349.2 771.7h0M399.9 742h0M275.9 696.9h0M341.8 572.8h0M361.8 783.8h0M397.5 782h0M363.8 788.4h0M403.6 766.2h0M398.1 631.2h0M379.7 777.3h0M369 789.1h0M388.8 783.1h0M376.7 783.4h0M380.9 623.6h0M357.2 790.2h0M368.9 761.2h0M389 720.1h0M349.1 648.4h0M322.1 758.8h0M375.2 788h0M380 765.7h0M369.6 776.2h0M328.7 777.1h0M329 762.1h0M387.1 778.4h0M348.4 750.6h0M367.2 790.9h0M344.1 672.4h0M299.4 758.7h0M394.7 726.1h0M398.3 646.3h0M397.5 467.7h0M348.8 762.2h0M359.9 788.1h0M354.8 761.4h0M344.5 594.8h0M358 787.4h0M349.6 652.1h0M365.3 790.4h0M362.9 790h0M351.5 766.3h0M386.4 775.9h0M391.8 556.1h0M382.2 639.3h0M335.9 661.7h0M393.7 487.4h0M386.3 783.2h0M383.7 673.6h0M354.9 762.7h0M371.9 781h0M388.9 542.3h0M336.5 521.4h0M375.7 680.2h0M363.3 789h0M368.9 789.1h0M316 716.9h0M339.8 738.6h0M330.3 759h0M374.1 785.3h0M347.9 643.9h0M358.6 773.8h0M373.6 712.6h0M367.6 790.6h0M354.4 754.1h0M399.6 679.5h0M366.3 789.9h0M376 729.1h0M379.1 744.9h0M372.9 766.9h0M406.8 746.4h0M349.4 787.7h0M406.7 764.9h0M382.7 657.7h0M371.7 789.9h0M352 746.5h0M346 747.5h0M396.1 786.1h0M349.3 786.5h0M355.8 789.3h0M342.1 769.8h0M364.5 788.1h0M352.8 788.1h0M325.2 645.9h0M334.6 605.4h0M359.9 780.6h0M379.7 656.4h0M361.8 789.5h0M347.9 779.2h0M342.8 620.5h0M355.7 741.8h0M356.1 760.8h0M331.8 775.3h0M305.3 759.5h0M384.6 765.8h0M363.8 790.7h0M397 729h0M321.9 756.2h0M446.3 736.1h0M385 778h0M391 772.4h0M369.5 787.1h0M369.3 789.1h0M354.4 707.4h0M362.1 789.7h0M359.6 781.2h0M378.4 761h0M392.8 771.7h0M374.1 700.6h0M367.7 789.8h0M339.3 727.8h0M357.1 788.8h0M438.5 743.3h0M358.9 789.4h0M415.5 775.7h0M353.6 763.7h0M362.1 784.3h0M327.7 705.2h0M373.1 766.7h0M388.8 659.3h0M348.6 788.4h0M365.4 785h0M437.3 757.9h0M390.2 521.7h0M365.7 790.2h0M345.6 759h0M381.7 614.2h0M315.2 758.9h0M360.5 786.4h0M358.8 758h0M388.1 765.2h0M358.8 758.5h0M382.9 783.1h0M392.6 762.8h0M357.8 786.6h0M372.4 789h0M403.3 674.6h0M388.4 703.2h0M364.1 789.9h0M378.1 701.9h0M341.4 707.1h0M375.4 747.6h0M316.1 732.3h0M334 522.6h0M367.7 788.5h0M357.8 788.9h0M353.9 695.2h0M296.4 720.2h0M346.2 641.7h0M366.2 783.9h0M388.8 787.8h0M387.1 677.2h0M336.4 510.5h0M376.8 784.7h0M366 778.9h0M382.6 739.1h0M338.2 777.5h0M387 565.8h0M402.3 506.2h0M361.3 788.2h0M366 789.5h0M397.4 770.9h0M359.8 789.8h0M361.5 781.7h0M384.5 631.1h0M366.1 783.5h0M354.9 785.1h0M332.3 698.6h0M363 789.6h0M349.7 661.5h0M362.7 787.2h0M335.7 657.7h0M361.5 790h0M361.3 789.6h0M382.9 602.8h0M329.8 765.4h0M348.4 757.1h0M372.8 773.7h0M310.2 752.7h0M341.6 784.4h0M367.5 788.8h0M365.4 786.7h0M378.5 656.1h0M356.6 734h0M364.6 789.3h0M320.7 709.4h0M366.4 789.6h0M372.1 787.1h0M384.5 771.3h0M395 765.7h0M323.1 751.7h0M262.1 691.5h0M408.7 759.4h0M329.6 772.1h0M370.5 790.3h0M357.7 787.6h0M365.4 787.4h0M324.4 653h0M365.5 788.1h0M348.7 642.2h0M374.5 728.5h0M413.2 737.1h0M324.1 753.4h0M372.7 714.8h0M381.9 626.7h0M388.5 778.5h0M392.4 546.4h0M396 664.2h0M365.1 789.5h0M364.5 789.8h0M357.5 750.2h0M353.9 788.4h0M374.6 777.1h0M457.7 727.4h0M398.2 754.1h0M358.6 757.6h0M384.8 784.4h0M322 720.9h0M337.7 774.8h0M384.4 701.8h0M366.1 789.1h0M345.7 610.3h0M293.2 699.9h0M383.6 770.6h0M308.5 708.6h0M335.1 674.3h0M271.7 742.4h0M387.6 746.1h0M345.3 685.6h0M354.3 706.6h0M408.5 748h0M333.5 762.7h0M390.6 776.6h0M350.9 688.4h0M350 763.2h0M348.3 785.7h0M345 786h0M370 788h0M369.4 785.4h0M360.6 774.5h0M383.7 712.7h0M340.5 783.1h0M358.4 788.8h0M363.9 790.6h0M361.6 790.2h0M392.2 773.5h0M331.2 475.8h0M388.8 769.7h0M379.5 638.2h0M305 752.1h0M344.6 785.6h0M382.5 627.4h0M368.9 778.7h0M363.9 788.6h0M303.4 749.4h0M392 768.7h0M388.5 783h0M388.7 550.8h0M400.8 774.8h0M377.3 771.9h0M360 785.7h0M331.6 703.3h0M369.5 787.5h0M323.8 766.2h0M394.4 492h0M360.4 789h0M443.8 734.4h0M372.9 787.1h0M339.7 569.1h0M342.2 761.7h0M348.9 782.3h0M373.6 788.6h0M370.8 787.4h0M363.8 790.8h0M392.3 648.6h0M378.1 655.2h0M391.4 564.4h0M335.3 571.9h0M421.5 723h0M398.6 476.3h0M338 531h0M363.3 787.6h0M402.6 722h0" fill="none" stroke="#bebebe" stroke-width="9.0" stroke-linecap="round" stroke-opacity="0.55"/>
<path d="M306 372.1h0M320.2 547.7h0M309.8 675.3h0M317.1 644.5h0M320.6 659.7h0M276.2 666.7h0M307.3 540.2h0M297.6 642.9h0M306.4 655.1h0M300.6 486.5h0M310.4 636.6h0M216.4 662.8h0M310.7 638h0M230.6 662.8h0M316.7 510.5h0M288.1 669.3h0M319.6 588.3h0M314.8 526.8h0M317.4 655.4h0M318.1 665.9h0M312.5 408.6h0M315.4 482h0M269.4 626h0M272.4 639h0M313.2 635.5h0M314.3 503.3h0M182 603.3h0M314.5 476.4h0M307 602.1h0M299.2 597.7h0M294.2 511.4h0M321.1 611.3h0M269.9 664.9h0M320.5 404.8h0M305.2 607.1h0M268.2 644.7h0M313.6 562.2h0M278.8 662.4h0M298.6 643.5h0M311.7 650.5h0M277.6 388h0M297.7 556h0M319.7 469.7h0M318.5 552.5h0M163.4 631.7h0M296.7 631.5h0M313 646.1h0M283.6 655.5h0M309.7 593.1h0M280.4 637.5h0M321 549.3h0M312 645h0M320.1 591.6h0M317.8 661h0M308 632.5h0M298.6 587.5h0M277.5 615.6h0M285.1 668.9h0M282.2 659.5h0M309.1 472.8h0M265.1 657.3h0M301.4 634.2h0M304.4 659.1h0M318.3 651.2h0M291.8 673.9h0M278.4 642.4h0M320 655.2h0M317.4 494h0M318.3 494.8h0M282.4 674.6h0M266.8 617.1h0M296.4 662.1h0M298.8 647h0M307.1 464.8h0M320.6 531.9h0M312.3 587.9h0M297.8 278.7h0M321 504.5h0M285.7 669.1h0M247.5 470.5h0M295.7 584h0M220.8 631.1h0M262.1 677.6h0M312.1 646.3h0M303.6 591h0M302.9 658.5h0M297.9 568h0M320.6 644h0M309.7 552.5h0M264.8 676.7h0M310.1 603.2h0M256.3 663.9h0M282.3 654.2h0M298.4 373.2h0M314.2 331.7h0M320.4 669.9h0M283.1 401.6h0M300.9 669.9h0M292.1 636.7h0M283.2 624.9h0M278.4 628.4h0M307.1 604.7h0M321.9 676.2h0M317 652.4h0M246.4 246.4h0M313.9 667.6h0M249.7 330.6h0M319.1 667.8h0M309.3 519.9h0M188.5 675.4h0M309.8 280.9h0M277.6 456.8h0M310.2 627.5h0M314.1 670.1h0M306.1 638.1h0M318.5 415.7h0M312 547.3h0M301.4 663.6h0M308.1 520h0M320.2 661.3h0M315.6 628h0M304.5 619h0M309.1 527.2h0M290 560.1h0M310.4 577.2h0M282.5 356.8h0M312.9 606.6h0M298.9 677.5h0M278.7 363.4h0M303.5 619.2h0M316.2 633.7h0M295.7 677.1h0M321.3 554.7h0M301.1 556.6h0M313.4 502.7h0M308.9 471h0M300.6 531.8h0M321.6 501.4h0M319.5 631.9h0M308.2 565.2h0M307 468.7h0M267.8 420.8h0M318.5 473h0M293 622.3h0M275.6 656.7h0M307.8 635.7h0M291.2 675.5h0M303.5 668.7h0M317.9 615.1h0M284.2 268.3h0" fill="none" stroke="#3a56f4" stroke-width="9.0" stroke-linecap="round" stroke-opacity="0.5"/>
<path d="M320.7 619.7h0M314.9 644.2h0M320.1 443.6h0M320.6 669.7h0M317.2 563.1h0M285.9 550.1h0M298.9 638.5h0M291.6 641.3h0M310.9 505.1h0M313.6 579.3h0M312.5 630.2h0M309.9 659.6h0M298.4 325.7h0M273.8 307.7h0M316 641.8h0M296.5 671.2h0M303.1 662.1h0M273 614.6h0M297.1 594.2h0M314.7 622.2h0M318 562.8h0M301.3 460.8h0M238.8 606.6h0M315 632.4h0M313 603.6h0M295.5 526.2h0M313 599.6h0M300.6 546h0M317.6 679.1h0M319 576.8h0M307.2 535.4h0M301.3 621.4h0M321.3 634.3h0M306.3 662.2h0M293.3 577h0M307.6 619.6h0M280.4 617h0M264.5 672.1h0M274 677h0M272.3 675.4h0M283.9 621.7h0M317.5 669.3h0M274.1 660.2h0M287.1 674.8h0M321.3 493.7h0M317 531.4h0M297.5 574.7h0M296.3 671.2h0M222.4 224h0M293.8 644.5h0M320.5 533.7h0M284.8 637.3h0M300.8 628.7h0M296.5 629.7h0M313.7 550.1h0M320.8 411.4h0M301.6 593.4h0M310.4 358.5h0M313.7 502h0M291 656h0M314 676.1h0M311.2 671.3h0M308 663.2h0M284.9 670h0M319.8 666.3h0M318.2 665.8h0M318.3 605.7h0M318.5 661.2h0M318.6 455h0M320.7 546.4h0M307.3 650.7h0M290.2 594.8h0M304.7 529.3h0M298.7 655.6h0M311 568.7h0M271.7 665.9h0M281.9 671.9h0M311.1 677.5h0M255.7 347.5h0M317.9 521.5h0M321.5 677.4h0M304.7 398.8h0M306 584h0M280.5 667.3h0M320.9 589.5h0M301.1 359.6h0M280.9 432.2h0M318.4 632.3h0M315.8 613.2h0M287.4 620.2h0M316.3 639.8h0M314.8 589.6h0M314.9 549.9h0M294.1 581.3h0M307.1 644.5h0M306.1 612.2h0M303.6 628.7h0M298.2 581.2h0M208.7 656.3h0M301.5 661.4h0M321.3 571.1h0M267.8 321.3h0M318.5 594.8h0M308.8 573.9h0M291.8 575.4h0M302.1 671.1h0M309.6 577.1h0M240.4 546.4h0M320.9 672.7h0M274.2 639.2h0M286.1 540.8h0M295.6 353h0M304 658.2h0M293.1 466.9h0M309 652.9h0M319.3 447.9h0M318.6 564h0M300.8 496.9h0M300.8 597.3h0M311.9 638.9h0M296.1 648.2h0M275.6 669.4h0M319.1 637.1h0M304.8 675.7h0M268.6 620.6h0M312.5 617.5h0M312.2 676.4h0M299 548.9h0M287.1 634.5h0M317.4 662.7h0M235 666.7h0M306.3 546.4h0M311 522.3h0M297.8 431.7h0M290.7 566.5h0M319.9 505.9h0M281.6 597.3h0M306.2 611.3h0M288.1 645.7h0M320.2 530.7h0M301.4 652.3h0M252.5 669.4h0M180.3 312.6h0M259.6 318h0M315.5 643.7h0M309 650.4h0M317.2 600.8h0M309.2 622.7h0M232.2 680.3h0M279.2 667.3h0" fill="none" stroke="#3a56f4" stroke-width="9.0" stroke-linecap="round" stroke-opacity="0.5"/>
<path d="M267.2 668h0M318.9 515.9h0M318.8 610.9h0M312.3 623.2h0M315.8 674.4h0M321.5 524.7h0M316.9 605.4h0M313.1 654h0M268.7 630.2h0M309.4 558.7h0M313.4 603.1h0M315.8 676.1h0M317 654.9h0M311 672.6h0M307.9 489.5h0M313.6 677.8h0M317.2 613.1h0M288.8 646.3h0M269.4 407.7h0M310.6 609.9h0M294.5 313.1h0M318.4 650.5h0M320.4 467.4h0M268.4 614.7h0M308 580.9h0M288.8 431.3h0M317.4 671.7h0M293.7 657h0M303.9 570.2h0M300.7 625.9h0M292.3 389.6h0M311.9 647.3h0M319.9 559h0M291.8 562.3h0M315.1 627h0M321.1 674h0M292.7 611.2h0M308.6 542.8h0M311.4 641.4h0M316.5 647.2h0M310.1 667.2h0M298.6 593.5h0M305.6 641.7h0M319.6 447.9h0M289.7 619.8h0M293.6 554.8h0M318.6 373.2h0M315.1 575.3h0M275.9 627.9h0M292.1 514.3h0M292.3 209.3h0M273.8 645h0M294.7 625.8h0M294.5 409.8h0M302 628.5h0M312.1 638.4h0M288.4 621.2h0M305 615.4h0M310.8 508.1h0M317.1 621.2h0M314.6 515.4h0M323 312.6h0M318 623.3h0M296.6 675.6h0M293.3 552h0M301.1 302.2h0M314 677h0M252.5 451.9h0M301.7 579.8h0M302.8 456.2h0M272.3 662.9h0M317.6 623.3h0M316 595.3h0M254.6 476h0M313.7 653.2h0M258.5 278.1h0M307.9 454.2h0M291.8 142.1h0M289.7 597.7h0M305.7 660.3h0M287.9 651.1h0M318.4 603.6h0M304.7 550h0M285.9 640h0M278.5 573h0M319.9 557.9h0M290.6 672.5h0M279.2 256.3h0M297.2 610.4h0M316.6 651.1h0M305.8 561.6h0M318.3 615.8h0M320.8 601.8h0M319.7 557.4h0M317.7 616.8h0M306.2 531.7h0M316.4 531.8h0M319.7 450.7h0M293.5 419.2h0M304.7 641.2h0M291.1 635.7h0M262.8 360.1h0M266.1 523.5h0M305.7 630.5h0M306.6 638.7h0M313.4 560.2h0M288.3 558.8h0M305.2 594h0M286.8 580.3h0M321.9 645h0M298.5 676.5h0M295.4 512.2h0M290.1 628.6h0M298.3 657.7h0M310.4 623.6h0M314.3 624.8h0M320.4 539.3h0M299.9 576h0M123.5 605.5h0M284.2 326.8h0M318.7 597.2h0M320.6 602.6h0M317.6 397h0M294.2 528.5h0M304.6 479.2h0M299.9 539.5h0M294.5 609.1h0M311.1 666.4h0M304.9 655.9h0M280.1 616.7h0M302.3 645.4h0M309.7 630.3h0M277.5 654.9h0M288.4 607h0M249.7 535h0M315.4 671.2h0M286 632.9h0M320.7 622h0M319.5 665.5h0M297.9 563.7h0M318.7 469.5h0M316.8 589.9h0M269 634.7h0M292.4 635.1h0M312.7 664.7h0M309.5 552.1h0M277.3 591.8h0M305.1 624.1h0M309.3 469.6h0" fill="none" stroke="#3a56f4" stroke-width="9.0" stroke-linecap="round" stroke-opacity="0.5"/>
<path d="M299.7 499.1h0M314.2 643.2h0M293 664h0M320.9 659.4h0M307.3 599.7h0M314.2 598.3h0M298.3 633.2h0M312 573.5h0M244.3 422.4h0M298.5 591.6h0M283.5 575.4h0M291.3 629.6h0M265.3 677.1h0M291.2 512.1h0M307 531.4h0M298.2 639.9h0M311.1 620.6h0M230.1 480.3h0M280.3 678.3h0M315.7 557.3h0M290.1 611.9h0M310.9 654.8h0M307.2 636.7h0M320.6 664.5h0M285.6 608.7h0M243.2 679.2h0M301.4 547.5h0M313.9 524.3h0M235 477h0M311.3 669.9h0M304 669.2h0M315.6 585.2h0M283 662h0M312 624.2h0M312.8 676.2h0M273.1 617.5h0M268.9 350.3h0M310.9 224.6h0M313.8 487.6h0M199.5 669.9h0M274.5 631.9h0M307.2 611.9h0M314.3 605.2h0M307.6 609.5h0M288.8 528.3h0M314.3 464.1h0M286.2 650.8h0M309.5 664.8h0M296.6 675.3h0M314.4 608.9h0M308.7 628.5h0M306.2 619.2h0M269.9 654.1h0M315.5 578.6h0M235 224.6h0M318.4 568.8h0M308.7 330.1h0M281.2 667.5h0M321.1 646h0M283 565.8h0M310.9 242.1h0M308.3 614.5h0M318.9 673.5h0M302.9 679.1h0M209.8 589.1h0M319.6 547.4h0M319.2 653.4h0M261.2 679h0M319 634.3h0M314.1 445.1h0M312.1 606.3h0M299.2 674.9h0M315 600.2h0M301 635.1h0M285.4 547.7h0M261.2 655.5h0M318.7 602.3h0M322.4 356.3h0M312 524.6h0M301.1 635h0M307 652.3h0M295.6 421.3h0M321.8 655.5h0M310.4 555.7h0M302.7 671.5h0M294.3 670.6h0M289.9 503.5h0M284.2 372.7h0M313.4 601.1h0M303.7 443.4h0M310 675h0M306.8 658.2h0M315.4 446.1h0M259.2 677.5h0M320.7 677.8h0M319.3 606.9h0M300.1 671.7h0M309 636.4h0M295.7 511.2h0M273.2 261.7h0M295.5 494.2h0M315.2 634.1h0M284.7 412.6h0M308.6 632.2h0M320 589.2h0M253.6 394h0M318.7 674.5h0M317.1 512.5h0M287.2 556.2h0M311.7 673.9h0M314.3 628.9h0M290.4 607.8h0M311.6 570h0M306.3 633.3h0M318.6 621.1h0M316.4 677.6h0M315 677.1h0M313.8 662.3h0M312.7 658.2h0M275.9 652.7h0M313 672.5h0M314.5 615.2h0M287 643.8h0M271 647.4h0M319.5 561.7h0M266.1 224.6h0M284.6 544.1h0M320.4 568.8h0M308 653h0M295.8 600h0M317.5 615.9h0M293.1 564.8h0M317.7 584.1h0M304 595.5h0M312.1 621.4h0M313 643.9h0M272 651.8h0M269.9 231.7h0M313.6 486.6h0M293.2 556.8h0M314.8 261.7h0M309.5 644.8h0M299.6 666.3h0M318.5 426.5h0M317.3 528h0M282.4 513.4h0M279.9 639h0M309.6 589.8h0M321.7 654h0" fill="none" stroke="#3a56f4" stroke-width="9.0" stroke-linecap="round" stroke-opacity="0.5"/>
<path d="M411.6 589.3h0M412.6 650.5h0M421.4 611.4h0M436 636.9h0M420 640.1h0M523.5 636.6h0M442.4 678.8h0M417 614.9h0M478.7 394.5h0M423.3 507.8h0M442.4 628.7h0M468.3 327.9h0M416.6 519.9h0M447 417.5h0M413.7 554.7h0M420.7 501h0M414.6 623.5h0M410.7 565.1h0M409.9 673.9h0M434 654.9h0M410.8 629.5h0M412.7 617.3h0M422.1 615.6h0M422.4 672.1h0M422.6 569.9h0M410.3 657h0M436.1 224.6h0M422.7 650.3h0M408.9 644.5h0M443.3 678.8h0M473.2 480.3h0M408.5 667h0M413.5 550.2h0M439.9 664.7h0M411.5 589.2h0M412.3 656.6h0M466.1 373.2h0M431.4 640.7h0M416.7 569.4h0M420.4 522.9h0M421.7 653.6h0M411.7 616.3h0M419.4 677.9h0M444.7 659.2h0M442.3 604.8h0M423.1 673.1h0M531.1 474.9h0M432.2 289.6h0M407.4 589.1h0M417.5 558.4h0M415.6 431.3h0M441.7 645.1h0M424.7 658.7h0M510.9 659.6h0M418.9 658.4h0M417.7 603.8h0M416.3 556.3h0M433.9 386.9h0M409.2 678h0M425.7 553.7h0M424.8 610.3h0M422.8 580.8h0M410 540.6h0M496.2 569.9h0M410.1 476.3h0M480.9 494.5h0M408.1 648.1h0M406 656.8h0M574.9 639.3h0M449.7 460.7h0M408.9 676.9h0M406.9 553.1h0M414.6 661.2h0M413.5 678h0M436.7 613h0M416.2 493.4h0M411.5 647h0M439.9 618.9h0M412.2 608.8h0M408.9 671.9h0M406.3 658.1h0M516.4 661.2h0M412.4 671.6h0M412.2 495.4h0M409.9 635.6h0M413.5 525.4h0M448.1 649.7h0M429.5 394.5h0M411.7 643.1h0M413.1 443.7h0M412 636h0M420 678h0M449.6 662.7h0M414.5 645h0M416.5 640.7h0M436.7 616.1h0M421.3 558.7h0M411.7 621.9h0M430.7 673.8h0M418.2 666h0M411.1 515h0M418.9 584.1h0M432 604.7h0M416.7 637.3h0M432 598.6h0M493.4 660.1h0M413.1 609h0M406.9 675.5h0M427.8 632h0M410 536.5h0M471.6 243.7h0M410.4 670.8h0M438.9 605.1h0M418.8 590.9h0M407.8 605h0M465.6 639.3h0M414.4 669.1h0M408 459.4h0M442.5 633.9h0M420.5 649.3h0M409.4 600.3h0M460.6 673.9h0M414.7 517.8h0" fill="none" stroke="#ff1409" stroke-width="9.0" stroke-linecap="round" stroke-opacity="0.5"/>
<path d="M409.5 646.1h0M407.1 592.4h0M407.5 509.4h0M425.8 531.8h0M412.4 622.7h0M422.5 673.3h0M431.8 660.9h0M498.9 462.8h0M423.8 629.9h0M411 640.3h0M423.8 590.2h0M427.8 673.5h0M493.4 633.9h0M421.3 283.1h0M411.9 633.6h0M482.5 567.2h0M418.1 670.1h0M425.1 596h0M437.5 643.5h0M420.9 562.4h0M409 652.6h0M428.3 610.8h0M410.1 543.3h0M450.7 474.4h0M434.4 551.7h0M412.4 494h0M431.9 587.5h0M413.6 591.4h0M408.2 569.5h0M408.2 349.7h0M466.1 571.6h0M416.9 645.1h0M513.7 607.7h0M407 641.1h0M424 535.7h0M468.3 496.2h0M408.8 573.8h0M430.5 596h0M443.6 612.8h0M418 553.4h0M434.9 678.3h0M407.9 649.6h0M412.5 648.6h0M406.6 613.8h0M444 674.9h0M439.6 623.8h0M425.1 664.6h0M510.9 568.9h0M420.8 419.7h0M465 223.5h0M457.9 219.7h0M409.3 312.6h0M483.1 577h0M424.6 646.5h0M412.9 517.6h0M408.6 621.5h0M407.5 646.1h0M414.5 553.1h0M406.2 676h0M426.7 668.4h0M419.2 613.5h0M406 637h0M447.7 673.7h0M441.3 664.2h0M422.5 563.8h0M422.3 671.9h0M431.5 645.4h0M414 617.1h0M413.6 658.5h0M412.2 538.1h0M426.1 543h0M410.9 662.2h0M429.2 657.8h0M416.1 599.1h0M409.3 616.8h0M410.1 638.3h0M411.4 627.8h0M431.1 228.4h0M489.1 644.8h0M422.7 556h0M412.3 586.2h0M431.4 504.2h0M407.7 583.9h0M423.3 559.1h0M420.9 669h0M428.3 567.8h0M407.8 591.9h0M463.4 525.7h0M410.6 596.1h0M407.3 586.4h0M459 482h0M422.9 666.1h0M423.5 633.1h0M420.1 653.1h0M421.5 678.1h0M413.7 535.5h0M415.1 655.7h0M418.5 623.7h0M406.6 642.5h0M438.8 610h0M413.1 589.4h0M490.2 142.1h0M406.1 506.4h0M413.9 669.8h0M431.2 634.3h0M406.6 485.4h0M406.5 620.4h0M485.8 435h0M427.2 629.9h0M440.4 420.8h0M412.8 606h0M419 599.7h0M464.5 553h0M498.9 557.9h0M412.4 679h0M426.8 279.2h0M406.4 595.9h0M463.4 644.8h0M411.3 566.1h0M409.9 675.1h0M406.3 599.8h0M466.7 517.5h0" fill="none" stroke="#ff1409" stroke-width="9.0" stroke-linecap="round" stroke-opacity="0.5"/>
<path d="M416.5 610.1h0M422.6 652h0M425 542.5h0M420.1 567.5h0M428 660.6h0M407.7 521.2h0M424.4 511.9h0M448.2 653.1h0M422.6 441.2h0M427.4 650.2h0M411.5 561h0M433.9 674.9h0M406 535.2h0M422.2 562.5h0M424 530.5h0M426.9 647.7h0M431.7 326.2h0M412.2 677.7h0M423.5 232.8h0M424.6 643.3h0M422.6 568.8h0M410.7 595.1h0M434.7 619.1h0M406.2 656.4h0M416.6 598.7h0M457.9 248.1h0M418.2 549.7h0M531.1 660.1h0M422.5 620.6h0M425.2 664.3h0M431.2 651.6h0M441.8 673h0M422.7 632.7h0M408 592h0M452.8 668.3h0M474.3 661.2h0M410.6 653.1h0M409.1 647.3h0M421.2 661h0M540.4 437.2h0M408.7 668.5h0M416.4 651.1h0M424.9 571.8h0M420.5 517.1h0M409.8 671.1h0M580.9 577.6h0M414.4 559.6h0M431.8 661.9h0M455.7 366.1h0M439.6 676.6h0M425.3 673.6h0M455.7 673.3h0M407.1 610h0M414.7 598.9h0M554.6 617.5h0M409.7 610.4h0M420.2 343.2h0M411.1 649.5h0M429.6 679h0M416.3 529.6h0M423.2 590.7h0M455 675.6h0M426.8 648.7h0M435 503.7h0M450 646.3h0M431.4 594.7h0M434 674.5h0M586.3 600h0M410.2 636.5h0M415.5 599.3h0M439 592.5h0M410.9 613.6h0M437.7 623.2h0M410.8 474.4h0M496.2 617.5h0M432.1 627.3h0M430.2 608.2h0M412.6 575.4h0M417.5 640.1h0M420.3 506.5h0M422.6 448.6h0M595.1 578.7h0M420 603.6h0M429 546.4h0M431.3 603.8h0M437.2 661.2h0M633.9 563.4h0M409.1 648.5h0M425.8 647.5h0M433.1 672.3h0M410.5 613.4h0M420.3 644.3h0M423.7 664.1h0M426.2 544.9h0M416.2 624.7h0M408.1 483.8h0M429.1 675.1h0M408.3 664.1h0M430.6 586.8h0M417.7 503.4h0M430.8 650.2h0M411.9 641.5h0M575.4 564.5h0M413.7 676.5h0M448.7 664.5h0M410.2 667.4h0M527.3 623h0M432.2 604.1h0M422.7 658.8h0M550.8 640.4h0M424 671.5h0M413.8 588.7h0M494.5 243.7h0M422.9 567.9h0M407.8 627.9h0M424.2 650h0M412.3 676.7h0M430.5 674.3h0M425.3 506.6h0M411.6 597.2h0M415 560.7h0M407.9 610h0" fill="none" stroke="#ff1409" stroke-width="9.0" stroke-linecap="round" stroke-opacity="0.5"/>
<path d="M414.8 654.7h0M415.9 644h0M488 243.7h0M415.5 590.3h0M409 626.1h0M419.7 551.8h0M406.6 610.5h0M431.5 532h0M426.5 631.2h0M408.6 634.9h0M495.6 409.3h0M416.1 640.9h0M447.1 666.4h0M473.8 639.3h0M441.1 629.1h0M502.7 650.3h0M430.4 659.8h0M411.3 491.1h0M411.8 642.1h0M421.6 538.7h0M409.7 673.1h0M409.7 538.4h0M426.7 590.4h0M436.2 663.5h0M413.3 637.8h0M413.3 578.9h0M428.9 604.5h0M406.2 575.4h0M480.9 665.6h0M442.4 616.4h0M420 588.5h0M443.7 312h0M428.8 661h0M515.8 506.6h0M415.3 408.7h0M415.2 632.9h0M417.5 649.7h0M446.1 640.8h0M485.2 651.4h0M418.1 572.7h0M410.8 564.8h0M411.7 584.9h0M410.9 648.5h0M418.1 589.8h0M431.6 652.1h0M469.9 536.6h0M442.9 644.1h0M412.1 567h0M465 392.3h0M407.7 579.4h0M486.3 453.6h0M456.6 678.3h0M423 658.8h0M406.1 674.4h0M436.1 608.6h0M432.8 314.8h0M416 593.4h0M411.6 657.9h0M411.6 522.1h0M412.9 669.6h0M410.3 668.9h0M429 658.4h0M411.4 500.8h0M441.9 556.1h0M408.5 556.3h0M408.6 531.4h0M492.9 325.1h0M412.3 556.8h0M428.7 623.6h0M435.5 405.5h0M410 645.1h0M448.8 677.5h0M485.8 512h0M412.2 564.5h0M418.3 614h0M416.6 481.4h0M411.8 678.9h0M435.3 641.8h0M415.8 591h0M408.5 573.9h0M428.8 592.7h0M407 629.8h0M414.7 636.7h0M417.8 560.1h0M409.9 652h0M416.4 273.2h0M424.9 551h0M418.4 610.8h0M409.9 624.8h0M406.6 655.8h0M449.9 673.4h0M432.1 602.9h0M536.1 663.9h0M428.3 555h0M424.3 647.8h0M558.5 625.7h0M610.9 600h0M412.7 638.1h0M434.4 412h0M417.8 630.3h0M415.3 513h0M473.8 550.8h0M407.8 628.5h0M410.9 662.3h0M406.3 672h0M444.4 558.6h0M423.7 653.9h0M414 590.3h0M454.5 654.2h0M408.2 567.7h0M409.4 667.4h0M415.2 522.5h0M421.1 661.5h0M416.7 671.5h0M440.7 598h0M512 627.3h0M407.5 646.2h0M417.7 632.7h0M445.5 653.5h0M429.7 669.7h0M407.9 660.4h0M497.3 663.9h0" fill="none" stroke="#ff1409" stroke-width="9.0" stroke-linecap="round" stroke-opacity="0.5"/>
<line x1="322.8" y1="110" x2="322.8" y2="823" stroke="#111" stroke-width="2.2" stroke-dasharray="2.2 6.4"/>
<line x1="405" y1="110" x2="405" y2="823" stroke="#111" stroke-width="2.2" stroke-dasharray="2.2 6.4"/>
<line x1="99" y1="681.7" x2="659" y2="681.7" stroke="#111" stroke-width="2.2" stroke-dasharray="2.2 6.4"/>
<line x1="98" y1="109" x2="98" y2="824" stroke="#111" stroke-width="2.2" />
<line x1="97" y1="823" x2="659" y2="823" stroke="#111" stroke-width="2.2" />
<line x1="93.5" y1="791.2" x2="98" y2="791.2" stroke="#111" stroke-width="1.6" />
<text x="91.5" y="799" font-size="22.3" text-anchor="end" font-weight="normal" font-style="normal" fill="#111" >0</text>
<line x1="93.5" y1="622.8" x2="98" y2="622.8" stroke="#111" stroke-width="1.6" />
<text x="91.5" y="630.6" font-size="22.3" text-anchor="end" font-weight="normal" font-style="normal" fill="#111" >2</text>
<line x1="93.5" y1="454.4" x2="98" y2="454.4" stroke="#111" stroke-width="1.6" />
<text x="91.5" y="462.2" font-size="22.3" text-anchor="end" font-weight="normal" font-style="normal" fill="#111" >4</text>
<line x1="93.5" y1="286" x2="98" y2="286" stroke="#111" stroke-width="1.6" />
<text x="91.5" y="293.8" font-size="22.3" text-anchor="end" font-weight="normal" font-style="normal" fill="#111" >6</text>
<line x1="93.5" y1="117.6" x2="98" y2="117.6" stroke="#111" stroke-width="1.6" />
<text x="91.5" y="125.4" font-size="22.3" text-anchor="end" font-weight="normal" font-style="normal" fill="#111" >8</text>
<line x1="199.5" y1="823" x2="199.5" y2="827.5" stroke="#111" stroke-width="1.6" />
<text x="197.5" y="847.8" font-size="22.3" text-anchor="middle" font-weight="normal" font-style="normal" fill="#111" >-4</text>
<line x1="363.9" y1="823" x2="363.9" y2="827.5" stroke="#111" stroke-width="1.6" />
<text x="363.9" y="847.8" font-size="22.3" text-anchor="middle" font-weight="normal" font-style="normal" fill="#111" >0</text>
<line x1="528.3" y1="823" x2="528.3" y2="827.5" stroke="#111" stroke-width="1.6" />
<text x="528.3" y="847.8" font-size="22.3" text-anchor="middle" font-weight="normal" font-style="normal" fill="#111" >4</text>
<text x="320" y="876" font-size="28" fill="#111">Log<tspan font-size="19" dy="8.5">2</tspan><tspan dy="-8.5">FC</tspan></text>
<text transform="translate(57 442) rotate(-90)" font-size="28" text-anchor="middle" fill="#111">−Log<tspan font-size="19" dy="8.5">10</tspan><tspan dy="-8.5">(Padj)</tspan></text>
<text x="108.5" y="136.5" font-size="31" text-anchor="start" font-weight="bold" font-style="normal" fill="#3b52f6" >523</text>
<text x="646" y="136.5" font-size="31" text-anchor="end" font-weight="bold" font-style="normal" fill="#fb2a1c" >435</text>
<text x="761.5" y="40.8" font-size="55" text-anchor="start" font-weight="bold" font-style="normal" fill="#231f20" >B</text>
<text x="841.5" y="25.7" font-size="28.7" text-anchor="start" font-weight="normal" font-style="normal" fill="#111" >Hepatocyte Signature</text>
<line x1="954" y1="49.5" x2="954" y2="191.1" stroke="#e9e9e9" stroke-width="1.3" />
<line x1="1008.8" y1="49.5" x2="1008.8" y2="191.1" stroke="#e9e9e9" stroke-width="1.3" />
<line x1="1063.5" y1="49.5" x2="1063.5" y2="191.1" stroke="#e9e9e9" stroke-width="1.3" />
<line x1="1118.3" y1="49.5" x2="1118.3" y2="191.1" stroke="#e9e9e9" stroke-width="1.3" />
<line x1="1173" y1="49.5" x2="1173" y2="191.1" stroke="#e9e9e9" stroke-width="1.3" />
<line x1="1227.8" y1="49.5" x2="1227.8" y2="191.1" stroke="#e9e9e9" stroke-width="1.3" />
<line x1="1282.5" y1="49.5" x2="1282.5" y2="191.1" stroke="#e9e9e9" stroke-width="1.3" />
<polyline points="899.4,69.9 900,61.5 902.7,63 905.4,63.3 909.9,56.4 912.8,57.9 915.6,58.3 918.5,60.2 921.3,60.4 924.2,61.8 927,63 929.1,61.8 932.3,63.5 935.6,64.4 938.8,64.9 942,66.6 945,65.7 948,67.6 951,67.8 954,69.2 957,71.1 960,72 961.8,71.1 964.5,72.1 967.2,73.3 969.9,74.3 972.6,75.6 975.3,77.5 978,78.6 981,79.3 984,80.8 987,81.6 990,82.7 993,84.5 996,84.9 998.7,85.9 1001.4,87 1004.1,88.4 1006.8,88.5 1009.5,89.5 1012.2,91.5 1014.9,92.4 1017.6,92.6 1020.3,93.5 1023,95.3 1025.7,96.5 1028.4,96.6 1031.1,98.6 1033.8,99.5 1036.5,100.1 1039.2,100.9 1041.9,101.5 1044.6,102.4 1047.3,104.6 1050,105 1052.7,105.9 1055.5,107.7 1058.2,108.4 1060.9,110.3 1063.6,111.3 1066.4,112.1 1069.1,113.2 1071.8,115.1 1074.5,115.5 1077.3,116.9 1080,118.6 1082.7,120.2 1085.5,121.1 1088.2,121.9 1090.9,124 1093.6,124.2 1096.4,125.2 1099.1,126.8 1101.8,128.2 1104.5,129 1107.3,130.3 1110,132 1112.7,133.2 1115.5,134.8 1118.2,135.6 1120.9,137.3 1123.6,139.3 1126.4,140.8 1129.1,141.8 1131.8,143.2 1134.5,144.4 1137.3,145.2 1140,146.4 1142.7,147.7 1145.5,150.3 1148.2,151.4 1150.9,153.1 1153.6,153.2 1156.4,155.4 1159.1,156.5 1161.8,158.2 1164.5,159 1167.3,161.3 1170,162 1172.7,162.5 1175.5,164.1 1178.2,165.4 1180.9,166.7 1183.6,167.5 1186.4,168.5 1189.1,169.6 1191.8,170.8 1194.5,171.1 1197.3,172.6 1200,173.4 1204.5,173.1 1207.3,174.5 1210.2,175.3 1213,175.5 1215.8,176.8 1218.7,177.7 1221.5,178.2 1224.3,179.1 1227.2,179.6 1230,180.6 1233.8,180.4 1237.5,180 1240.3,180.8 1243,180.7 1245.8,182.1 1248.5,183.3 1251.3,183.8 1254,183.9 1257,182.9 1260,181.1 1263,180.2 1266,178.5 1269.8,175.2 1273.5,171.6 1278,171 1281,167.9 1284,165.4 1287,161.5 1290,159 1294.5,150 1299,147 1302.3,138.6 1305.6,129.6 1309.8,130.8 1314,105 1317,84 1320,69.6" fill="none" stroke="#6bcc3d" stroke-width="1.5" stroke-linejoin="round"/>
<line x1="899.3" y1="49.5" x2="899.3" y2="191.1" stroke="#444" stroke-width="1.6" />
<line x1="890" y1="69.9" x2="899.3" y2="69.9" stroke="#444" stroke-width="1.3" />
<text x="888" y="78.4" font-size="24.6" text-anchor="end" font-weight="normal" font-style="normal" fill="#111" >0.0</text>
<line x1="890" y1="112.2" x2="899.3" y2="112.2" stroke="#444" stroke-width="1.3" />
<text x="888" y="120.7" font-size="24.6" text-anchor="end" font-weight="normal" font-style="normal" fill="#111" >−0.2</text>
<line x1="890" y1="154.2" x2="899.3" y2="154.2" stroke="#444" stroke-width="1.3" />
<text x="888" y="162.7" font-size="24.6" text-anchor="end" font-weight="normal" font-style="normal" fill="#111" >−0.4</text>
<rect x="899.4" y="232.5" width="16.1" height="14.4" fill="#de3c35"/>
<rect x="915" y="232.5" width="19.1" height="14.4" fill="#e8705c"/>
<rect x="933.6" y="232.5" width="23.3" height="14.4" fill="#efad97"/>
<rect x="956.4" y="232.5" width="40.1" height="14.4" fill="#f6e3d8"/>
<rect x="996" y="232.5" width="51.5" height="14.4" fill="#eef0f7"/>
<rect x="1047" y="232.5" width="75.5" height="14.4" fill="#c6dde9"/>
<rect x="1122" y="232.5" width="92" height="14.4" fill="#7db4d8"/>
<rect x="1213.5" y="232.5" width="107.9" height="14.4" fill="#4583bd"/>
<path d="M899.4 200.1V233.5M900.9 200.1V233.5M906.6 200.1V233.5M908.4 200.1V233.5M927 200.1V233.5M933.6 200.1V233.5M941.1 200.1V233.5M946.5 200.1V233.5M950.1 200.1V233.5M959.1 200.1V233.5M960.9 200.1V233.5M968.4 200.1V233.5M972 200.1V233.5M975.6 200.1V233.5M982.5 200.1V233.5M996.6 200.1V233.5M998.4 200.1V233.5M999.9 200.1V233.5M1007.4 200.1V233.5M1014 200.1V233.5M1023.6 200.1V233.5M1033.5 200.1V233.5M1037.4 200.1V233.5M1040.4 200.1V233.5M1045.5 200.1V233.5M1049.1 200.1V233.5M1051.5 200.1V233.5M1054.5 200.1V233.5M1070.4 200.1V233.5M1073.4 200.1V233.5M1077 200.1V233.5M1080.9 200.1V233.5M1089 200.1V233.5M1094.4 200.1V233.5M1096.5 200.1V233.5M1098.9 200.1V233.5M1103.4 200.1V233.5M1108.5 200.1V233.5M1110.9 200.1V233.5M1116.6 200.1V233.5M1123.5 200.1V233.5M1127.4 200.1V233.5M1131.9 200.1V233.5M1140 200.1V233.5M1149.9 200.1V233.5M1152 200.1V233.5M1172.4 200.1V233.5M1179.6 200.1V233.5M1182.9 200.1V233.5M1188 200.1V233.5M1193.4 200.1V233.5M1197 200.1V233.5M1200.9 200.1V233.5M1203 200.1V233.5M1206 200.1V233.5M1212 200.1V233.5M1218.6 200.1V233.5M1223.4 200.1V233.5M1227 200.1V233.5M1229.4 200.1V233.5M1233.6 200.1V233.5M1236 200.1V233.5M1239 200.1V233.5M1245 200.1V233.5M1249.5 200.1V233.5M1254 200.1V233.5M1257 200.1V233.5M1260 200.1V233.5M1263.6 200.1V233.5M1266 200.1V233.5M1268.4 200.1V233.5M1272 200.1V233.5M1275.6 200.1V233.5M1278 200.1V233.5M1281 200.1V233.5M1283.4 200.1V233.5M1287 200.1V233.5M1290 200.1V233.5M1293 200.1V233.5M1296 200.1V233.5M1299.6 200.1V233.5M1302 200.1V233.5M1304.4 200.1V233.5M1306.5 200.1V233.5M1309.5 200.1V233.5M1311.6 200.1V233.5M1314 200.1V233.5M1315.5 200.1V233.5M1317 200.1V233.5M1318.5 200.1V233.5M1320 200.1V233.5M1285.5 200.1V233.5M1292.3 200.1V233.5M1315.2 200.1V233.5M1286.3 200.1V233.5M1289 200.1V233.5M1294 200.1V233.5M1268.6 200.1V233.5M1289.3 200.1V233.5M1296.7 200.1V233.5M1307 200.1V233.5M1262.9 200.1V233.5M1276.1 200.1V233.5M1262.7 200.1V233.5M1308 200.1V233.5M1300.7 200.1V233.5M1259.6 200.1V233.5M1318.9 200.1V233.5M1317.8 200.1V233.5M1298.2 200.1V233.5M1295.8 200.1V233.5M1266.9 200.1V233.5M1258 200.1V233.5M1290.3 200.1V233.5M1260.8 200.1V233.5M1269 200.1V233.5M1272.2 200.1V233.5M1258.9 200.1V233.5M1286.2 200.1V233.5M1284.8 200.1V233.5M1310.1 200.1V233.5M1289.7 200.1V233.5M1297.3 200.1V233.5M1288.5 200.1V233.5M1298.7 200.1V233.5M1285.8 200.1V233.5M1274.5 200.1V233.5M1319.9 200.1V233.5M1319.7 200.1V233.5M1309.9 200.1V233.5M1301.6 200.1V233.5M1276.9 200.1V233.5M1271.5 200.1V233.5M1275.2 200.1V233.5M1261.4 200.1V233.5M1305.3 200.1V233.5M1309.5 200.1V233.5M1317.8 200.1V233.5M1309.2 200.1V233.5M1319.8 200.1V233.5M1317.8 200.1V233.5M1302 200.1V233.5M1305.9 200.1V233.5M1318.9 200.1V233.5M1310.7 200.1V233.5M1320.2 200.1V233.5M1309.4 200.1V233.5M1303.4 200.1V233.5M1313.7 200.1V233.5M1316.5 200.1V233.5M1307 200.1V233.5M1303.6 200.1V233.5M1308.2 200.1V233.5M1319.9 200.1V233.5M1316.1 200.1V233.5M1304.2 200.1V233.5M1306.6 200.1V233.5M1303.9 200.1V233.5M1303.1 200.1V233.5M1316.8 200.1V233.5M1305.3 200.1V233.5M1233.6 200.1V233.5M1226.9 200.1V233.5M1211.4 200.1V233.5M1243.9 200.1V233.5M1207.9 200.1V233.5M1238.6 200.1V233.5M1207 200.1V233.5M1225.3 200.1V233.5M1212.8 200.1V233.5M1216.2 200.1V233.5" stroke="#000" stroke-opacity="0.82" stroke-width="1.2" fill="none"/>
<line x1="899.3" y1="246.9" x2="1320.9" y2="246.9" stroke="#555" stroke-width="1.2" />
<line x1="899.3" y1="200.1" x2="899.3" y2="246.9" stroke="#555" stroke-width="1.0" />
<line x1="1008.6" y1="246.9" x2="1008.6" y2="250.9" stroke="#444" stroke-width="1.2" />
<text x="1008.6" y="275.6" font-size="24.5" text-anchor="middle" font-weight="normal" font-style="normal" fill="#111" >3000</text>
<line x1="1118.2" y1="246.9" x2="1118.2" y2="250.9" stroke="#444" stroke-width="1.2" />
<text x="1118.2" y="275.6" font-size="24.5" text-anchor="middle" font-weight="normal" font-style="normal" fill="#111" >6000</text>
<line x1="1227.8" y1="246.9" x2="1227.8" y2="250.9" stroke="#444" stroke-width="1.2" />
<text x="1227.8" y="275.6" font-size="24.5" text-anchor="middle" font-weight="normal" font-style="normal" fill="#111" >9000</text>
<text x="1122" y="301.4" font-size="24.7" text-anchor="middle" font-weight="bold" font-style="normal" fill="#111" >Rank</text>
<text transform="translate(826 131.3) rotate(-90)" font-size="24.7" text-anchor="middle" font-weight="bold" fill="#111">Enrichment Score</text>
<text x="1118" y="78.7" font-size="31.6" text-anchor="start" font-weight="normal" font-style="normal" fill="#111" >NES = -2.25</text>
<text x="1118" y="117.9" font-size="31.6" text-anchor="start" font-weight="normal" font-style="normal" fill="#111" >p.adj &lt; 0.001</text>
<text x="841.5" y="351.2" font-size="28.7" text-anchor="start" font-weight="normal" font-style="normal" fill="#111" >HNF4A Target Genes</text>
<line x1="954" y1="364.1" x2="954" y2="505.1" stroke="#e9e9e9" stroke-width="1.3" />
<line x1="1008.8" y1="364.1" x2="1008.8" y2="505.1" stroke="#e9e9e9" stroke-width="1.3" />
<line x1="1063.5" y1="364.1" x2="1063.5" y2="505.1" stroke="#e9e9e9" stroke-width="1.3" />
<line x1="1118.3" y1="364.1" x2="1118.3" y2="505.1" stroke="#e9e9e9" stroke-width="1.3" />
<line x1="1173" y1="364.1" x2="1173" y2="505.1" stroke="#e9e9e9" stroke-width="1.3" />
<line x1="1227.8" y1="364.1" x2="1227.8" y2="505.1" stroke="#e9e9e9" stroke-width="1.3" />
<line x1="1282.5" y1="364.1" x2="1282.5" y2="505.1" stroke="#e9e9e9" stroke-width="1.3" />
<polyline points="899.4,381.5 902.1,383 903,376.4 906,377.6 908.4,370.4 911.5,371.9 914.6,373.8 917.8,375.4 920.9,376.7 924,377.9 927.9,371.9 930.6,373.8 933.3,374.2 936,375.8 937.8,374.3 941.2,375.5 944.6,377.4 948,379.1 952.5,378.5 955.3,379.6 958.1,381 960.9,382.6 963.6,384.3 966.4,385.6 969.2,386.7 972,388.4 975.8,389.7 979.5,390.2 982.3,392 985,392.5 987.8,393.2 990.5,394.4 993.3,396.7 996,397.4 997.5,396.2 1000.3,396.8 1003,399 1005.8,400 1008.6,400.9 1011.3,402.8 1014.1,403.1 1016.8,404.5 1019.6,406.1 1022.4,406.8 1025.1,409.1 1027.9,409.6 1030.7,410.7 1033.4,411.8 1036.2,413.8 1039,414.8 1041.7,416.3 1044.5,417.6 1047.2,419.1 1050,419.9 1052.7,421.8 1055.5,422.8 1058.2,423.5 1060.9,425.2 1063.6,426.1 1066.4,427.2 1069.1,429.1 1071.8,430.8 1074.5,431.4 1077.3,432.8 1080,434.2 1082.7,436 1085.5,437.1 1088.2,438.6 1090.9,440.1 1093.6,440.9 1096.4,442.8 1099.1,444.2 1101.8,444.5 1104.5,446.9 1107.3,448 1110,449 1112.7,449.8 1115.5,451.5 1118.2,453.1 1120.9,454.7 1123.6,455.3 1126.4,456.9 1129.1,458.6 1131.8,459.8 1134.5,461.2 1137.3,461.9 1140,463.5 1142.7,464.2 1145.5,466.1 1148.2,467.6 1150.9,468.6 1153.6,470 1156.4,470.6 1159.1,472.8 1161.8,474.2 1164.5,475.5 1167.3,476.3 1170,477.5 1173,478.2 1176,478.1 1179,478.9 1182,480.7 1185,481.7 1188,482.1 1191,482.8 1194,484.3 1197,485.5 1200,486.5 1202.7,487.8 1205.4,488.5 1208.1,488.8 1210.8,490.9 1213.5,490.9 1216.2,492.8 1218.9,493 1221.6,494.2 1224.3,495.8 1227,496.4 1230,494.4 1233,493.4 1236,493.8 1239,495.2 1242,496.4 1245,497 1248,494.6 1251,495.7 1254,496.1 1257,496.4 1260,494.6 1263.8,497.1 1267.5,498.5 1272,492.5 1275.5,493.5 1279,495.1 1282.5,495.5 1286.3,486 1290,477.5 1294.5,474.5 1298.3,471.9 1302,470 1305,465.5 1308,461 1312.5,446 1315.5,422 1318.5,398 1320,380.9" fill="none" stroke="#6bcc3d" stroke-width="1.5" stroke-linejoin="round"/>
<line x1="899.3" y1="364.1" x2="899.3" y2="505.1" stroke="#444" stroke-width="1.6" />
<line x1="890" y1="381.5" x2="899.3" y2="381.5" stroke="#444" stroke-width="1.3" />
<text x="888" y="390" font-size="24.6" text-anchor="end" font-weight="normal" font-style="normal" fill="#111" >0.0</text>
<line x1="890" y1="424.4" x2="899.3" y2="424.4" stroke="#444" stroke-width="1.3" />
<text x="888" y="432.9" font-size="24.6" text-anchor="end" font-weight="normal" font-style="normal" fill="#111" >−0.2</text>
<line x1="890" y1="467" x2="899.3" y2="467" stroke="#444" stroke-width="1.3" />
<text x="888" y="475.5" font-size="24.6" text-anchor="end" font-weight="normal" font-style="normal" fill="#111" >−0.4</text>
<rect x="899.4" y="547.1" width="8.6" height="13.8" fill="#e03a32"/>
<rect x="907.5" y="547.1" width="25.1" height="13.8" fill="#e8705c"/>
<rect x="932.1" y="547.1" width="20.9" height="13.8" fill="#efad97"/>
<rect x="952.5" y="547.1" width="41" height="13.8" fill="#f6e3d8"/>
<rect x="993" y="547.1" width="53" height="13.8" fill="#eef0f7"/>
<rect x="1045.5" y="547.1" width="71" height="13.8" fill="#c6dde9"/>
<rect x="1116" y="547.1" width="89" height="13.8" fill="#7db4d8"/>
<rect x="1204.5" y="547.1" width="113" height="13.8" fill="#4583bd"/>
<rect x="1317" y="547.1" width="4.4" height="13.8" fill="#2f5ea8"/>
<path d="M899.4 514.4V548.1M902.1 514.4V548.1M905.4 514.4V548.1M908.1 514.4V548.1M924 514.4V548.1M925.2 514.4V548.1M926.4 514.4V548.1M936 514.4V548.1M946.5 514.4V548.1M951.9 514.4V548.1M972.6 514.4V548.1M979.5 514.4V548.1M996.6 514.4V548.1M1014.9 514.4V548.1M1031.1 514.4V548.1M1034.1 514.4V548.1M1043.4 514.4V548.1M1047.6 514.4V548.1M1068 514.4V548.1M1071 514.4V548.1M1078.5 514.4V548.1M1081.5 514.4V548.1M1083.6 514.4V548.1M1085.4 514.4V548.1M1104.6 514.4V548.1M1123.5 514.4V548.1M1125 514.4V548.1M1141.5 514.4V548.1M1149 514.4V548.1M1154.1 514.4V548.1M1156.5 514.4V548.1M1158.6 514.4V548.1M1160.1 514.4V548.1M1174.5 514.4V548.1M1179.6 514.4V548.1M1184.4 514.4V548.1M1188 514.4V548.1M1191.6 514.4V548.1M1194 514.4V548.1M1199.1 514.4V548.1M1205.1 514.4V548.1M1210.5 514.4V548.1M1216.5 514.4V548.1M1227 514.4V548.1M1228.5 514.4V548.1M1230 514.4V548.1M1232.1 514.4V548.1M1238.1 514.4V548.1M1245 514.4V548.1M1248 514.4V548.1M1254.9 514.4V548.1M1258.5 514.4V548.1M1268.1 514.4V548.1M1269.9 514.4V548.1M1273.5 514.4V548.1M1282.5 514.4V548.1M1284 514.4V548.1M1285.5 514.4V548.1M1287 514.4V548.1M1288.5 514.4V548.1M1290 514.4V548.1M1292.4 514.4V548.1M1294.5 514.4V548.1M1297.5 514.4V548.1M1302 514.4V548.1M1304.4 514.4V548.1M1308 514.4V548.1M1309.5 514.4V548.1M1311 514.4V548.1M1314 514.4V548.1M1315.5 514.4V548.1M1317 514.4V548.1M1318.5 514.4V548.1M1281.9 514.4V548.1M1286.7 514.4V548.1M1285.6 514.4V548.1M1283.5 514.4V548.1M1287.5 514.4V548.1M1285.8 514.4V548.1M1286.8 514.4V548.1M1289.3 514.4V548.1M1283.8 514.4V548.1M1281.7 514.4V548.1M1284.1 514.4V548.1M1287.3 514.4V548.1M1283.3 514.4V548.1M1283 514.4V548.1M1232.4 514.4V548.1M1231 514.4V548.1M1229.7 514.4V548.1M1232.4 514.4V548.1M1229 514.4V548.1M1315.5 514.4V548.1M1309.2 514.4V548.1M1312.3 514.4V548.1M1317.4 514.4V548.1M1318.8 514.4V548.1M1318.4 514.4V548.1M1311.7 514.4V548.1M1314.4 514.4V548.1M1310.8 514.4V548.1M1308.3 514.4V548.1" stroke="#000" stroke-opacity="0.82" stroke-width="1.2" fill="none"/>
<line x1="899.3" y1="560.9" x2="1320.9" y2="560.9" stroke="#555" stroke-width="1.2" />
<line x1="899.3" y1="514.4" x2="899.3" y2="560.9" stroke="#555" stroke-width="1.0" />
<line x1="1008.6" y1="560.9" x2="1008.6" y2="564.9" stroke="#444" stroke-width="1.2" />
<text x="1008.6" y="589.6" font-size="24.5" text-anchor="middle" font-weight="normal" font-style="normal" fill="#111" >3000</text>
<line x1="1118.2" y1="560.9" x2="1118.2" y2="564.9" stroke="#444" stroke-width="1.2" />
<text x="1118.2" y="589.6" font-size="24.5" text-anchor="middle" font-weight="normal" font-style="normal" fill="#111" >6000</text>
<line x1="1227.8" y1="560.9" x2="1227.8" y2="564.9" stroke="#444" stroke-width="1.2" />
<text x="1227.8" y="589.6" font-size="24.5" text-anchor="middle" font-weight="normal" font-style="normal" fill="#111" >9000</text>
<text x="1122" y="616.9" font-size="24.7" text-anchor="middle" font-weight="bold" font-style="normal" fill="#111" >Rank</text>
<text transform="translate(826 457.2) rotate(-90)" font-size="24.7" text-anchor="middle" font-weight="bold" fill="#111">Enrichment Score</text>
<text x="1116" y="411.6" font-size="31.6" text-anchor="start" font-weight="normal" font-style="normal" fill="#111" >NES = -2.10</text>
<text x="1116" y="450.8" font-size="31.6" text-anchor="start" font-weight="normal" font-style="normal" fill="#111" >p.adj &lt; 0.001</text>
<text x="760" y="684.8" font-size="55" text-anchor="start" font-weight="bold" font-style="normal" fill="#231f20" >C</text>
<text x="1011.8" y="691.6" font-size="31.5" text-anchor="middle" font-weight="bold" font-style="normal" fill="#111" >EMEM</text>
<text x="1194" y="691.6" font-size="31.5" text-anchor="middle" font-weight="bold" font-style="normal" fill="#111" >Plasmax</text>
<text x="918.5" y="766.5" font-size="28.3" text-anchor="end" font-weight="bold" font-style="normal" fill="#111" >HNF4A</text>
<text x="918.5" y="865.8" font-size="28.3" text-anchor="end" font-weight="bold" font-style="normal" fill="#111" >ACTIN</text>
<defs>
<filter id="bl2" x="-20%" y="-40%" width="140%" height="180%"><feGaussianBlur stdDeviation="2.2"/></filter>
<filter id="bl3" x="-20%" y="-60%" width="140%" height="220%"><feGaussianBlur stdDeviation="3.4"/></filter>
<filter id="bl6" x="-30%" y="-60%" width="160%" height="220%"><feGaussianBlur stdDeviation="6"/></filter>
<linearGradient id="bg1" x1="0" x2="1" y1="0" y2="0"><stop offset="0" stop-color="#cdcdcb"/><stop offset="0.5" stop-color="#d6d6d4"/><stop offset="1" stop-color="#cfcfcd"/></linearGradient>
<linearGradient id="bg2" x1="0" x2="1" y1="0" y2="0"><stop offset="0" stop-color="#c3c3c3"/><stop offset="0.5" stop-color="#c8c8c8"/><stop offset="1" stop-color="#bfbfbf"/></linearGradient>
<clipPath id="cb1"><rect x="928.4" y="701.7" width="352.8" height="110.5"/></clipPath>
<clipPath id="cb2"><rect x="928.4" y="821.6" width="352.8" height="72.3"/></clipPath>
</defs>
<g clip-path="url(#cb1)">
<rect x="928" y="701" width="354" height="112" fill="url(#bg1)"/>
<rect x="960" y="775" width="116" height="45" fill="#dadad8" filter="url(#bl6)"/>
<rect x="1136" y="775" width="108" height="45" fill="#d8d8d6" filter="url(#bl6)"/>
<rect x="958" y="762" width="120" height="27" rx="8" fill="#8f8f8f" filter="url(#bl6)"/>
<rect x="1134" y="760" width="112" height="22" rx="8" fill="#b4b4b2" filter="url(#bl6)"/>
<rect x="956" y="725" width="123.5" height="43" rx="15" fill="#000" filter="url(#bl3)"/>
<rect x="959" y="728" width="117.5" height="37" rx="13" fill="#000" filter="url(#bl2)"/>
<rect x="1134" y="739" width="112" height="26" rx="10" fill="#6e6e6e" filter="url(#bl3)"/>
<rect x="1138" y="741" width="104" height="11" rx="5" fill="#3c3c3c" opacity="0.85" filter="url(#bl3)"/>
</g>
<rect x="928.4" y="701.7" width="352.8" height="110.5" fill="none" stroke="#1e1e1e" stroke-width="1.8"/>
<g clip-path="url(#cb2)">
<rect x="928" y="821" width="354" height="74" fill="url(#bg2)"/>
<rect x="968" y="815" width="112" height="90" fill="#c1c1c1" filter="url(#bl6)"/>
<rect x="1134" y="815" width="112" height="90" fill="#c2c2c2" filter="url(#bl6)"/>
<rect x="969.5" y="847" width="113" height="17" rx="8" fill="#4a4a4a" filter="url(#bl2)"/>
<g transform="rotate(3.6 1190 860.5)"><rect x="1132.5" y="851.5" width="115" height="18" rx="9" fill="#484848" filter="url(#bl2)"/></g>
</g>
<rect x="928.4" y="821.6" width="352.8" height="72.3" fill="none" stroke="#1e1e1e" stroke-width="1.8"/>
<line x1="1282.6" y1="824" x2="1282.6" y2="895" stroke="#9a9a9a" stroke-width="1" />
<line x1="930" y1="895.3" x2="1283" y2="895.3" stroke="#9a9a9a" stroke-width="1" />
<line x1="1282" y1="735" x2="1298" y2="735" stroke="#111" stroke-width="1.8" />
<text x="1301" y="746.4" font-size="24.6" text-anchor="start" font-weight="normal" font-style="normal" fill="#111" >50</text>
<line x1="1282" y1="857.7" x2="1298" y2="857.7" stroke="#111" stroke-width="1.8" />
<text x="1301" y="864.3" font-size="24.6" text-anchor="start" font-weight="normal" font-style="normal" fill="#111" >40</text>
<text x="1387" y="41" font-size="55" text-anchor="start" font-weight="bold" font-style="normal" fill="#231f20" >D</text>
<text x="1740" y="120" font-size="28.7" text-anchor="middle" font-weight="normal" font-style="normal" fill="#111" >Hepatocyte</text>
<text x="1737" y="449.5" font-size="28.7" text-anchor="middle" font-weight="normal" font-style="normal" fill="#111" >Hepatoblast</text>
<g shape-rendering="crispEdges">
<rect x="1580" y="132" width="53.7" height="35.9" fill="rgb(215,62,58)"/>
<rect x="1633.3" y="132" width="53.7" height="35.9" fill="rgb(45,12,14)"/>
<rect x="1686.7" y="132" width="53.7" height="35.9" fill="rgb(145,42,42)"/>
<rect x="1740" y="132" width="53.7" height="35.9" fill="rgb(37,46,128)"/>
<rect x="1793.3" y="132" width="53.7" height="35.9" fill="rgb(22,28,78)"/>
<rect x="1846.7" y="132" width="53.7" height="35.9" fill="rgb(51,64,178)"/>
<rect x="1580" y="167.5" width="53.7" height="35.9" fill="rgb(128,36,36)"/>
<rect x="1633.3" y="167.5" width="53.7" height="35.9" fill="rgb(168,48,48)"/>
<rect x="1686.7" y="167.5" width="53.7" height="35.9" fill="rgb(140,40,40)"/>
<rect x="1740" y="167.5" width="53.7" height="35.9" fill="rgb(35,44,122)"/>
<rect x="1793.3" y="167.5" width="53.7" height="35.9" fill="rgb(42,52,148)"/>
<rect x="1846.7" y="167.5" width="53.7" height="35.9" fill="rgb(45,56,155)"/>
<rect x="1580" y="203.1" width="53.7" height="35.9" fill="rgb(146,42,42)"/>
<rect x="1633.3" y="203.1" width="53.7" height="35.9" fill="rgb(146,42,42)"/>
<rect x="1686.7" y="203.1" width="53.7" height="35.9" fill="rgb(146,42,42)"/>
<rect x="1740" y="203.1" width="53.7" height="35.9" fill="rgb(35,44,122)"/>
<rect x="1793.3" y="203.1" width="53.7" height="35.9" fill="rgb(42,52,148)"/>
<rect x="1846.7" y="203.1" width="53.7" height="35.9" fill="rgb(42,52,145)"/>
<rect x="1580" y="238.6" width="53.7" height="35.9" fill="rgb(72,18,20)"/>
<rect x="1633.3" y="238.6" width="53.7" height="35.9" fill="rgb(243,70,66)"/>
<rect x="1686.7" y="238.6" width="53.7" height="35.9" fill="rgb(47,60,160)"/>
<rect x="1740" y="238.6" width="53.7" height="35.9" fill="rgb(95,25,27)"/>
<rect x="1793.3" y="238.6" width="53.7" height="35.9" fill="rgb(40,50,140)"/>
<rect x="1846.7" y="238.6" width="53.7" height="35.9" fill="rgb(22,28,78)"/>
<rect x="1580" y="274.1" width="53.7" height="35.9" fill="rgb(48,12,14)"/>
<rect x="1633.3" y="274.1" width="53.7" height="35.9" fill="rgb(160,46,46)"/>
<rect x="1686.7" y="274.1" width="53.7" height="35.9" fill="rgb(218,64,60)"/>
<rect x="1740" y="274.1" width="53.7" height="35.9" fill="rgb(30,38,108)"/>
<rect x="1793.3" y="274.1" width="53.7" height="35.9" fill="rgb(46,58,158)"/>
<rect x="1846.7" y="274.1" width="53.7" height="35.9" fill="rgb(35,44,122)"/>
<rect x="1580" y="309.7" width="53.7" height="35.9" fill="rgb(146,42,42)"/>
<rect x="1633.3" y="309.7" width="53.7" height="35.9" fill="rgb(128,36,36)"/>
<rect x="1686.7" y="309.7" width="53.7" height="35.9" fill="rgb(168,48,48)"/>
<rect x="1740" y="309.7" width="53.7" height="35.9" fill="rgb(35,44,122)"/>
<rect x="1793.3" y="309.7" width="53.7" height="35.9" fill="rgb(42,52,148)"/>
<rect x="1846.7" y="309.7" width="53.7" height="35.9" fill="rgb(42,52,148)"/>
<rect x="1580" y="345.2" width="53.7" height="35.9" fill="rgb(146,42,42)"/>
<rect x="1633.3" y="345.2" width="53.7" height="35.9" fill="rgb(95,25,27)"/>
<rect x="1686.7" y="345.2" width="53.7" height="35.9" fill="rgb(188,54,52)"/>
<rect x="1740" y="345.2" width="53.7" height="35.9" fill="rgb(38,48,132)"/>
<rect x="1793.3" y="345.2" width="53.7" height="35.9" fill="rgb(40,50,140)"/>
<rect x="1846.7" y="345.2" width="53.7" height="35.9" fill="rgb(40,50,140)"/>
<rect x="1580" y="380.8" width="53.7" height="35.9" fill="rgb(188,54,52)"/>
<rect x="1633.3" y="380.8" width="53.7" height="35.9" fill="rgb(140,40,40)"/>
<rect x="1686.7" y="380.8" width="53.7" height="35.9" fill="rgb(118,32,36)"/>
<rect x="1740" y="380.8" width="53.7" height="35.9" fill="rgb(46,58,158)"/>
<rect x="1793.3" y="380.8" width="53.7" height="35.9" fill="rgb(30,38,105)"/>
<rect x="1846.7" y="380.8" width="53.7" height="35.9" fill="rgb(42,52,148)"/>
</g>
<text x="1908" y="157.4" font-size="24.6" text-anchor="start" font-weight="normal" font-style="italic" fill="#111" >HNF4A</text>
<text x="1908" y="192.9" font-size="24.6" text-anchor="start" font-weight="normal" font-style="italic" fill="#111" >ALB</text>
<text x="1908" y="228.4" font-size="24.6" text-anchor="start" font-weight="normal" font-style="italic" fill="#111" >TF</text>
<text x="1908" y="264" font-size="24.6" text-anchor="start" font-weight="normal" font-style="italic" fill="#111" >TAT</text>
<text x="1908" y="299.5" font-size="24.6" text-anchor="start" font-weight="normal" font-style="italic" fill="#111" >TTR</text>
<text x="1908" y="335.1" font-size="24.6" text-anchor="start" font-weight="normal" font-style="italic" fill="#111" >APOH</text>
<text x="1908" y="370.6" font-size="24.6" text-anchor="start" font-weight="normal" font-style="italic" fill="#111" >ACAT2</text>
<text x="1908" y="406.1" font-size="24.6" text-anchor="start" font-weight="normal" font-style="italic" fill="#111" >MVK</text>
<g shape-rendering="crispEdges">
<rect x="1580" y="457" width="53.7" height="36" fill="rgb(30,38,105)"/>
<rect x="1633.3" y="457" width="53.7" height="36" fill="rgb(35,42,118)"/>
<rect x="1686.7" y="457" width="53.7" height="36" fill="rgb(52,66,185)"/>
<rect x="1740" y="457" width="53.7" height="36" fill="rgb(146,42,42)"/>
<rect x="1793.3" y="457" width="53.7" height="36" fill="rgb(158,46,44)"/>
<rect x="1846.7" y="457" width="53.7" height="36" fill="rgb(138,38,40)"/>
<rect x="1580" y="492.6" width="53.7" height="36" fill="rgb(38,48,130)"/>
<rect x="1633.3" y="492.6" width="53.7" height="36" fill="rgb(158,46,44)"/>
<rect x="1686.7" y="492.6" width="53.7" height="36" fill="rgb(52,66,185)"/>
<rect x="1740" y="492.6" width="53.7" height="36" fill="rgb(78,20,22)"/>
<rect x="1793.3" y="492.6" width="53.7" height="36" fill="rgb(18,24,70)"/>
<rect x="1846.7" y="492.6" width="53.7" height="36" fill="rgb(190,56,54)"/>
<rect x="1580" y="528.1" width="53.7" height="36" fill="rgb(42,52,148)"/>
<rect x="1633.3" y="528.1" width="53.7" height="36" fill="rgb(40,50,138)"/>
<rect x="1686.7" y="528.1" width="53.7" height="36" fill="rgb(40,50,138)"/>
<rect x="1740" y="528.1" width="53.7" height="36" fill="rgb(118,32,36)"/>
<rect x="1793.3" y="528.1" width="53.7" height="36" fill="rgb(175,50,50)"/>
<rect x="1846.7" y="528.1" width="53.7" height="36" fill="rgb(150,42,42)"/>
<rect x="1580" y="563.7" width="53.7" height="36" fill="rgb(24,30,82)"/>
<rect x="1633.3" y="563.7" width="53.7" height="36" fill="rgb(30,38,100)"/>
<rect x="1686.7" y="563.7" width="53.7" height="36" fill="rgb(58,76,215)"/>
<rect x="1740" y="563.7" width="53.7" height="36" fill="rgb(200,58,56)"/>
<rect x="1793.3" y="563.7" width="53.7" height="36" fill="rgb(138,38,40)"/>
<rect x="1846.7" y="563.7" width="53.7" height="36" fill="rgb(95,25,27)"/>
<rect x="1580" y="599.2" width="53.7" height="36" fill="rgb(42,52,150)"/>
<rect x="1633.3" y="599.2" width="53.7" height="36" fill="rgb(2,2,4)"/>
<rect x="1686.7" y="599.2" width="53.7" height="36" fill="rgb(52,66,190)"/>
<rect x="1740" y="599.2" width="53.7" height="36" fill="rgb(60,14,16)"/>
<rect x="1793.3" y="599.2" width="53.7" height="36" fill="rgb(222,66,62)"/>
<rect x="1846.7" y="599.2" width="53.7" height="36" fill="rgb(105,28,30)"/>
<rect x="1580" y="634.8" width="53.7" height="36" fill="rgb(38,48,130)"/>
<rect x="1633.3" y="634.8" width="53.7" height="36" fill="rgb(2,2,4)"/>
<rect x="1686.7" y="634.8" width="53.7" height="36" fill="rgb(58,76,215)"/>
<rect x="1740" y="634.8" width="53.7" height="36" fill="rgb(72,18,20)"/>
<rect x="1793.3" y="634.8" width="53.7" height="36" fill="rgb(78,20,22)"/>
<rect x="1846.7" y="634.8" width="53.7" height="36" fill="rgb(232,68,64)"/>
<rect x="1580" y="670.3" width="53.7" height="36" fill="rgb(50,64,178)"/>
<rect x="1633.3" y="670.3" width="53.7" height="36" fill="rgb(30,38,100)"/>
<rect x="1686.7" y="670.3" width="53.7" height="36" fill="rgb(24,30,85)"/>
<rect x="1740" y="670.3" width="53.7" height="36" fill="rgb(165,48,48)"/>
<rect x="1793.3" y="670.3" width="53.7" height="36" fill="rgb(210,62,58)"/>
<rect x="1846.7" y="670.3" width="53.7" height="36" fill="rgb(10,2,2)"/>
<rect x="1580" y="705.9" width="53.7" height="36" fill="rgb(48,60,170)"/>
<rect x="1633.3" y="705.9" width="53.7" height="36" fill="rgb(4,5,10)"/>
<rect x="1686.7" y="705.9" width="53.7" height="36" fill="rgb(52,66,190)"/>
<rect x="1740" y="705.9" width="53.7" height="36" fill="rgb(112,30,32)"/>
<rect x="1793.3" y="705.9" width="53.7" height="36" fill="rgb(118,32,36)"/>
<rect x="1846.7" y="705.9" width="53.7" height="36" fill="rgb(180,52,50)"/>
<rect x="1580" y="741.4" width="53.7" height="36" fill="rgb(45,56,158)"/>
<rect x="1633.3" y="741.4" width="53.7" height="36" fill="rgb(42,52,148)"/>
<rect x="1686.7" y="741.4" width="53.7" height="36" fill="rgb(32,40,110)"/>
<rect x="1740" y="741.4" width="53.7" height="36" fill="rgb(178,52,50)"/>
<rect x="1793.3" y="741.4" width="53.7" height="36" fill="rgb(135,38,38)"/>
<rect x="1846.7" y="741.4" width="53.7" height="36" fill="rgb(140,40,40)"/>
</g>
<text x="1908" y="482.4" font-size="24.6" text-anchor="start" font-weight="normal" font-style="italic" fill="#111" >KRT18</text>
<text x="1908" y="517.9" font-size="24.6" text-anchor="start" font-weight="normal" font-style="italic" fill="#111" >LGR5</text>
<text x="1908" y="553.5" font-size="24.6" text-anchor="start" font-weight="normal" font-style="italic" fill="#111" >KRT19</text>
<text x="1908" y="589" font-size="24.6" text-anchor="start" font-weight="normal" font-style="italic" fill="#111" >EPCAM</text>
<text x="1908" y="624.6" font-size="24.6" text-anchor="start" font-weight="normal" font-style="italic" fill="#111" >SOX9</text>
<text x="1908" y="660.2" font-size="24.6" text-anchor="start" font-weight="normal" font-style="italic" fill="#111" >KLF5</text>
<text x="1908" y="695.7" font-size="24.6" text-anchor="start" font-weight="normal" font-style="italic" fill="#111" >FHL2</text>
<text x="1908" y="731.3" font-size="24.6" text-anchor="start" font-weight="normal" font-style="italic" fill="#111" >PROX1</text>
<text x="1908" y="766.8" font-size="24.6" text-anchor="start" font-weight="normal" font-style="italic" fill="#111" >SOX4</text>
<defs><linearGradient id="cbar" x1="0" x2="0" y1="0" y2="1">
<stop offset="0" stop-color="rgb(243,72,68)"/>
<stop offset="0.029" stop-color="rgb(240,70,66)"/>
<stop offset="0.19" stop-color="rgb(160,46,44)"/>
<stop offset="0.35" stop-color="rgb(82,22,23)"/>
<stop offset="0.511" stop-color="rgb(0,0,0)"/>
<stop offset="0.59" stop-color="rgb(12,16,36)"/>
<stop offset="0.672" stop-color="rgb(24,29,82)"/>
<stop offset="0.752" stop-color="rgb(40,46,115)"/>
<stop offset="0.833" stop-color="rgb(52,63,160)"/>
<stop offset="0.91" stop-color="rgb(66,82,176)"/>
<stop offset="1" stop-color="rgb(82,100,186)"/>
</linearGradient></defs>
<rect x="1529.3" y="202.6" width="29.4" height="440.6" fill="url(#cbar)"/>
<text x="1544" y="155.6" font-size="25.6" text-anchor="middle" font-weight="normal" font-style="normal" fill="#111" >Row</text>
<text x="1544" y="190.8" font-size="25.6" text-anchor="middle" font-weight="normal" font-style="normal" fill="#111" >max</text>
<text x="1544" y="677.7" font-size="25.6" text-anchor="middle" font-weight="normal" font-style="normal" fill="#111" >Row</text>
<text x="1544" y="712.8" font-size="25.6" text-anchor="middle" font-weight="normal" font-style="normal" fill="#111" >min</text>
<text x="1499.3" y="223.3" font-size="23.5" text-anchor="middle" font-weight="normal" font-style="normal" fill="#111" >1.5</text>
<text x="1499.3" y="294.5" font-size="23.5" text-anchor="middle" font-weight="normal" font-style="normal" fill="#111" >1</text>
<text x="1499.3" y="365.2" font-size="23.5" text-anchor="middle" font-weight="normal" font-style="normal" fill="#111" >0.5</text>
<text x="1499.3" y="435.7" font-size="23.5" text-anchor="middle" font-weight="normal" font-style="normal" fill="#111" >0</text>
<text x="1499.3" y="506.2" font-size="23.5" text-anchor="middle" font-weight="normal" font-style="normal" fill="#111" >−0.5</text>
<text x="1499.3" y="577.6" font-size="23.5" text-anchor="middle" font-weight="normal" font-style="normal" fill="#111" >−1</text>
<text x="1499.3" y="647.5" font-size="23.5" text-anchor="middle" font-weight="normal" font-style="normal" fill="#111" >−1.5</text>
<line x1="1590" y1="786.8" x2="1722" y2="786.8" stroke="#111" stroke-width="3.4" />
<line x1="1753" y1="786.8" x2="1885" y2="786.8" stroke="#111" stroke-width="3.4" />
<text x="1657.5" y="815.5" font-size="28.7" text-anchor="middle" font-weight="normal" font-style="normal" fill="#111" >EMEM</text>
<text x="1819" y="815.5" font-size="28.7" text-anchor="middle" font-weight="normal" font-style="normal" fill="#111" >Plasmax</text>
<text x="18.5" y="1004.2" font-size="55" text-anchor="start" font-weight="bold" font-style="normal" fill="#231f20" >E</text>
<text x="561.5" y="1053.5" font-size="28.6" text-anchor="middle" font-weight="bold" font-style="normal" fill="#111" >ZOOM</text>
<text x="119" y="1212.3" font-size="28.5" text-anchor="end" font-weight="bold" font-style="normal" fill="#111" >EMEM</text>
<text x="117" y="1505" font-size="28.5" text-anchor="end" font-weight="bold" font-style="normal" fill="#111" >Plasmax</text>
<defs>
<filter id="eb1" x="-5%" y="-5%" width="110%" height="110%" color-interpolation-filters="sRGB"><feGaussianBlur stdDeviation="0.7" result="b"/><feTurbulence type="fractalNoise" baseFrequency="0.35" numOctaves="2" seed="4" result="n0"/><feColorMatrix in="n0" type="matrix" values="0.5 0.5 0 0 0  0.5 0.5 0 0 0  0.5 0.5 0 0 0  0 0 0 0 1" result="n"/><feComposite in="b" in2="n" operator="arithmetic" k1="1.1" k2="0.45" k3="0" k4="0"/></filter>
<filter id="eb2" x="-5%" y="-5%" width="110%" height="110%" color-interpolation-filters="sRGB"><feGaussianBlur stdDeviation="1.3" result="b"/><feTurbulence type="fractalNoise" baseFrequency="0.11" numOctaves="3" seed="9" result="n0"/><feColorMatrix in="n0" type="matrix" values="0.5 0.5 0 0 0  0.5 0.5 0 0 0  0.5 0.5 0 0 0  0 0 0 0 1" result="n"/><feComposite in="b" in2="n" operator="arithmetic" k1="1.2" k2="0.4" k3="0" k4="0"/></filter>
<filter id="eb3" x="-30%" y="-30%" width="160%" height="160%"><feGaussianBlur stdDeviation="0.9"/></filter>
<filter id="eb4" x="-30%" y="-30%" width="160%" height="160%"><feGaussianBlur stdDeviation="0.45"/></filter>
<filter id="ebh" x="-50%" y="-50%" width="200%" height="200%"><feGaussianBlur stdDeviation="9"/></filter>
<radialGradient id="nd"><stop offset="0" stop-color="#261cc0"/><stop offset="0.75" stop-color="#2319b4"/><stop offset="1" stop-color="#191282"/></radialGradient>
<radialGradient id="nb"><stop offset="0" stop-color="#2a18ff"/><stop offset="0.8" stop-color="#2412f5"/><stop offset="1" stop-color="#1c10c0"/></radialGradient>
<clipPath id="ce1"><rect x="128" y="1062" width="286.3" height="286.3"/></clipPath>
<clipPath id="ce2"><rect x="419" y="1062" width="286.5" height="286.3"/></clipPath>
<clipPath id="ce3"><rect x="128" y="1354.7" width="286.3" height="286"/></clipPath>
<clipPath id="ce4"><rect x="419" y="1354.7" width="286.5" height="286"/></clipPath>
</defs>
<g clip-path="url(#ce1)">
<rect x="128" y="1062" width="287" height="287" fill="#010201"/>
<g filter="url(#ebh)"><circle cx="136.7" cy="1068" r="11.9" fill="#0a2c0c" opacity="0.4"/><circle cx="208.1" cy="1069.7" r="12.1" fill="#0a2c0c" opacity="0.4"/><circle cx="222.9" cy="1066.3" r="11.2" fill="#0a2c0c" opacity="0.4"/><circle cx="384" cy="1065.8" r="10.4" fill="#0a2c0c" opacity="0.4"/><circle cx="144.4" cy="1094.1" r="14.3" fill="#0a2c0c" opacity="0.4"/><circle cx="257.2" cy="1091.6" r="9.7" fill="#0a2c0c" opacity="0.4"/><circle cx="327.7" cy="1092.1" r="9.7" fill="#0a2c0c" opacity="0.4"/><circle cx="170.5" cy="1092.9" r="11.9" fill="#0a2c0c" opacity="0.4"/><circle cx="176.5" cy="1095.3" r="10.4" fill="#0a2c0c" opacity="0.4"/><circle cx="140.4" cy="1117.8" r="13.5" fill="#0a2c0c" opacity="0.4"/><circle cx="279.9" cy="1107.9" r="10.2" fill="#0a2c0c" opacity="0.4"/><circle cx="152.9" cy="1123.6" r="11.3" fill="#0a2c0c" opacity="0.4"/><circle cx="227.3" cy="1113.5" r="13.3" fill="#0a2c0c" opacity="0.4"/><circle cx="284.7" cy="1132.9" r="13.5" fill="#0a2c0c" opacity="0.4"/><circle cx="407.2" cy="1124.6" r="12.7" fill="#0a2c0c" opacity="0.4"/><circle cx="130.6" cy="1137.4" r="14.6" fill="#0a2c0c" opacity="0.4"/><circle cx="176.5" cy="1132.3" r="9.6" fill="#0a2c0c" opacity="0.4"/><circle cx="346.3" cy="1143.5" r="11.2" fill="#0a2c0c" opacity="0.4"/><circle cx="406.4" cy="1168.5" r="12.5" fill="#0a2c0c" opacity="0.4"/><circle cx="171.5" cy="1156.7" r="14.3" fill="#0a2c0c" opacity="0.4"/><circle cx="189.8" cy="1170.6" r="13.6" fill="#0a2c0c" opacity="0.4"/><circle cx="210.4" cy="1161.3" r="10.5" fill="#0a2c0c" opacity="0.4"/><circle cx="230.3" cy="1164.3" r="9.4" fill="#0a2c0c" opacity="0.4"/><circle cx="315.7" cy="1176.1" r="13.5" fill="#0a2c0c" opacity="0.4"/><circle cx="341.6" cy="1177.7" r="12.2" fill="#0a2c0c" opacity="0.4"/><circle cx="270.8" cy="1181.2" r="13.8" fill="#0a2c0c" opacity="0.4"/><circle cx="195.8" cy="1193.3" r="10.8" fill="#0a2c0c" opacity="0.4"/><circle cx="222.9" cy="1196.2" r="9.1" fill="#0a2c0c" opacity="0.4"/><circle cx="328.3" cy="1214.4" r="14.1" fill="#0a2c0c" opacity="0.4"/><circle cx="279.2" cy="1227.7" r="14.4" fill="#0a2c0c" opacity="0.4"/><circle cx="313.2" cy="1221.9" r="9.2" fill="#0a2c0c" opacity="0.4"/><circle cx="182.1" cy="1223.1" r="12.9" fill="#0a2c0c" opacity="0.4"/><circle cx="167.6" cy="1220.5" r="12" fill="#0a2c0c" opacity="0.4"/><circle cx="144.4" cy="1225.5" r="11.3" fill="#0a2c0c" opacity="0.4"/><circle cx="213.4" cy="1244.5" r="13.6" fill="#0a2c0c" opacity="0.4"/><circle cx="335.4" cy="1244.7" r="13.6" fill="#0a2c0c" opacity="0.4"/><circle cx="159.2" cy="1250.3" r="13.2" fill="#0a2c0c" opacity="0.4"/><circle cx="190.4" cy="1255.4" r="10.9" fill="#0a2c0c" opacity="0.4"/><circle cx="342.3" cy="1264.4" r="14.7" fill="#0a2c0c" opacity="0.4"/><circle cx="234" cy="1267.7" r="13.4" fill="#0a2c0c" opacity="0.4"/><circle cx="388.7" cy="1277.1" r="12.4" fill="#0a2c0c" opacity="0.4"/><circle cx="296.3" cy="1284.4" r="11.1" fill="#0a2c0c" opacity="0.4"/><circle cx="177.7" cy="1284" r="9.5" fill="#0a2c0c" opacity="0.4"/><circle cx="228.7" cy="1288.7" r="11.7" fill="#0a2c0c" opacity="0.4"/><circle cx="342.7" cy="1286.5" r="12.1" fill="#0a2c0c" opacity="0.4"/><circle cx="369.9" cy="1283.4" r="9.3" fill="#0a2c0c" opacity="0.4"/><circle cx="209.1" cy="1297.4" r="13.9" fill="#0a2c0c" opacity="0.4"/><circle cx="313.7" cy="1300.7" r="11.9" fill="#0a2c0c" opacity="0.4"/><circle cx="320.7" cy="1312.9" r="13.3" fill="#0a2c0c" opacity="0.4"/></g>
<g filter="url(#eb1)"><ellipse cx="134.8" cy="1066.7" rx="6.5" ry="4.6" fill="url(#nd)" opacity="0.7954880504310351" transform="rotate(-20 134.8 1066.7)"/><ellipse cx="205.2" cy="1066.7" rx="6.5" ry="4.6" fill="url(#nd)" opacity="0.7177192758454061" transform="rotate(60 205.2 1066.7)"/><ellipse cx="225.6" cy="1071.3" rx="6.5" ry="7" fill="url(#nd)" opacity="0.7845889691704692"/><ellipse cx="316.3" cy="1065.7" rx="7.4" ry="3.7" fill="url(#nd)" opacity="0.7165052385204652" transform="rotate(-20 316.3 1065.7)"/><ellipse cx="381.1" cy="1068.5" rx="7.4" ry="7.4" fill="url(#nd)" opacity="0.7736350122871687"/><ellipse cx="139.4" cy="1091.7" rx="6.5" ry="5.6" fill="url(#nd)" opacity="0.6826988761065115" transform="rotate(-35 139.4 1091.7)"/><ellipse cx="192.2" cy="1088.9" rx="6.5" ry="4.6" fill="url(#nd)" opacity="0.8554003051858212" transform="rotate(20 192.2 1088.9)"/><ellipse cx="258.9" cy="1091.7" rx="5.2" ry="7.4" fill="url(#nd)" opacity="0.7141508890276167" transform="rotate(60 258.9 1091.7)"/><ellipse cx="294.1" cy="1087" rx="5.2" ry="7.4" fill="url(#nd)" opacity="0.8325740443785581"/><ellipse cx="331.1" cy="1088.9" rx="7.4" ry="5.6" fill="url(#nd)" opacity="0.7003969277976494"/><ellipse cx="398.7" cy="1092.6" rx="6.5" ry="5.2" fill="url(#nd)" opacity="0.6912135890026495" transform="rotate(-20 398.7 1092.6)"/><ellipse cx="170" cy="1094.4" rx="1.5" ry="3.7" fill="url(#nb)" opacity="1.0" transform="rotate(35 170 1094.4)"/><ellipse cx="181.1" cy="1091.7" rx="1.9" ry="3.3" fill="url(#nb)" opacity="1.0" transform="rotate(60 181.1 1091.7)"/><ellipse cx="169.6" cy="1104.6" rx="4.6" ry="3.7" fill="url(#nb)" opacity="1.0" transform="rotate(35 169.6 1104.6)"/><ellipse cx="135.7" cy="1113.9" rx="6.5" ry="7.4" fill="url(#nd)" opacity="0.8599420433019114" transform="rotate(-60 135.7 1113.9)"/><ellipse cx="142.2" cy="1113" rx="5.6" ry="6.5" fill="url(#nd)" opacity="0.7288638627616836" transform="rotate(35 142.2 1113)"/><ellipse cx="216.3" cy="1107.4" rx="6.5" ry="5.6" fill="url(#nd)" opacity="0.9096288202328486" transform="rotate(20 216.3 1107.4)"/><ellipse cx="251.5" cy="1105.6" rx="5.6" ry="8.3" fill="url(#nd)" opacity="0.8725687062075309" transform="rotate(60 251.5 1105.6)"/><ellipse cx="280.2" cy="1104.6" rx="6.5" ry="7" fill="url(#nd)" opacity="0.7565964755586432"/><ellipse cx="355.2" cy="1104.6" rx="7.4" ry="5.6" fill="url(#nd)" opacity="0.7224864224434124" transform="rotate(20 355.2 1104.6)"/><ellipse cx="401.5" cy="1113.9" rx="7.4" ry="5.2" fill="url(#nd)" opacity="0.816182777483546" transform="rotate(-20 401.5 1113.9)"/><ellipse cx="154.3" cy="1124.1" rx="5.2" ry="5.2" fill="url(#nd)" opacity="0.7475015285715908"/><ellipse cx="186.7" cy="1118.5" rx="6.5" ry="5.6" fill="url(#nd)" opacity="0.7321121650944795" transform="rotate(-35 186.7 1118.5)"/><ellipse cx="232" cy="1117.6" rx="4.1" ry="4.1" fill="url(#nb)" opacity="1.0"/><ellipse cx="327.4" cy="1125.9" rx="8.3" ry="5.2" fill="url(#nd)" opacity="0.804984073740914" transform="rotate(-20 327.4 1125.9)"/><ellipse cx="284.8" cy="1132.4" rx="6.5" ry="5.6" fill="url(#nd)" opacity="0.7518297195620146" transform="rotate(-35 284.8 1132.4)"/><ellipse cx="406.1" cy="1124.1" rx="6.5" ry="6.5" fill="url(#nd)" opacity="0.7224902005395833"/><ellipse cx="133.9" cy="1138.9" rx="5.6" ry="4.6" fill="url(#nd)" opacity="0.7142860604489212" transform="rotate(-20 133.9 1138.9)"/><ellipse cx="175.6" cy="1134.3" rx="2.2" ry="6.5" fill="url(#nb)" opacity="1.0" transform="rotate(-35 175.6 1134.3)"/><ellipse cx="343.1" cy="1140.7" rx="7" ry="7.4" fill="url(#nd)" opacity="0.8539108001341407"/><ellipse cx="235.7" cy="1145.4" rx="6.5" ry="7.4" fill="url(#nd)" opacity="0.7764893744373352" transform="rotate(35 235.7 1145.4)"/><ellipse cx="204.3" cy="1154.6" rx="7.4" ry="5.2" fill="url(#nb)" opacity="1.0" transform="rotate(60 204.3 1154.6)"/><ellipse cx="271.9" cy="1151.9" rx="7.4" ry="5.9" fill="url(#nb)" opacity="1.0" transform="rotate(20 271.9 1151.9)"/><ellipse cx="384.8" cy="1158.3" rx="5.6" ry="5.9" fill="url(#nd)" opacity="0.8051187721183956"/><ellipse cx="401.5" cy="1163.9" rx="5.2" ry="5.9" fill="url(#nd)" opacity="0.7904616607279283"/><ellipse cx="142.2" cy="1160.2" rx="6.5" ry="5.2" fill="url(#nd)" opacity="0.8072836374723134" transform="rotate(35 142.2 1160.2)"/><ellipse cx="172.8" cy="1159.3" rx="5.6" ry="4.6" fill="url(#nd)" opacity="0.7554994182084943" transform="rotate(-60 172.8 1159.3)"/><ellipse cx="194.1" cy="1167.6" rx="6.5" ry="5.2" fill="url(#nd)" opacity="0.71492211939378"/><ellipse cx="207" cy="1165.7" rx="5.2" ry="5.2" fill="url(#nd)" opacity="0.817176660950536"/><ellipse cx="231.1" cy="1167.6" rx="6.5" ry="5.6" fill="url(#nd)" opacity="0.8224698670719003" transform="rotate(20 231.1 1167.6)"/><ellipse cx="311.7" cy="1171.3" rx="6.5" ry="7.8" fill="url(#nd)" opacity="0.9026633698256847" transform="rotate(20 311.7 1171.3)"/><ellipse cx="344.1" cy="1173.1" rx="9.3" ry="5.2" fill="url(#nd)" opacity="0.8789305845190437"/><ellipse cx="384.8" cy="1173.1" rx="5.9" ry="4.6" fill="url(#nd)" opacity="0.810210431589243" transform="rotate(-20 384.8 1173.1)"/><ellipse cx="273.7" cy="1177.8" rx="10.2" ry="7" fill="url(#nd)" opacity="0.745743877423755" transform="rotate(35 273.7 1177.8)"/><ellipse cx="151.5" cy="1189.8" rx="4.6" ry="5.2" fill="url(#nd)" opacity="0.7437564333384711"/><ellipse cx="384.8" cy="1197.8" rx="5.6" ry="3.7" fill="url(#nb)" opacity="1.0" transform="rotate(60 384.8 1197.8)"/><ellipse cx="195" cy="1189.8" rx="7.4" ry="4.6" fill="url(#nd)" opacity="0.7728926862674459"/><ellipse cx="225.2" cy="1193.5" rx="4.6" ry="6.5" fill="url(#nd)" opacity="0.8205723537788157"/><ellipse cx="215.9" cy="1207.4" rx="4.6" ry="5.6" fill="url(#nb)" opacity="1.0" transform="rotate(-60 215.9 1207.4)"/><ellipse cx="240.4" cy="1214.4" rx="4.6" ry="4.6" fill="url(#nb)" opacity="1.0"/><ellipse cx="327.4" cy="1213" rx="7.4" ry="5.9" fill="url(#nd)" opacity="0.7043954984075128" transform="rotate(-35 327.4 1213)"/><ellipse cx="296.9" cy="1217.6" rx="7.4" ry="5.6" fill="url(#nd)" opacity="0.7957482075786013" transform="rotate(-20 296.9 1217.6)"/><ellipse cx="280.2" cy="1223.1" rx="6.5" ry="6.5" fill="url(#nd)" opacity="0.840946836217491"/><ellipse cx="317.2" cy="1225.9" rx="5.9" ry="5.6" fill="url(#nd)" opacity="0.8906399180730249"/><ellipse cx="185.7" cy="1219.4" rx="7" ry="8.3" fill="url(#nd)" opacity="0.8370855839213047" transform="rotate(-60 185.7 1219.4)"/><ellipse cx="167.2" cy="1222.2" rx="5.9" ry="6.5" fill="url(#nd)" opacity="0.8508603509228149"/><ellipse cx="147.8" cy="1228.7" rx="5.6" ry="7" fill="url(#nd)" opacity="0.8250593631352549" transform="rotate(20 147.8 1228.7)"/><ellipse cx="407" cy="1230.6" rx="7" ry="5.9" fill="url(#nb)" opacity="1.0" transform="rotate(-20 407 1230.6)"/><ellipse cx="363.5" cy="1235.2" rx="5.6" ry="6.5" fill="url(#nd)" opacity="0.878662268797914"/><ellipse cx="211.3" cy="1240.7" rx="6.5" ry="5.2" fill="url(#nb)" opacity="1.0"/><ellipse cx="252.4" cy="1249.1" rx="6.5" ry="6.5" fill="url(#nb)" opacity="1.0"/><ellipse cx="335.7" cy="1249.1" rx="6.5" ry="4.6" fill="url(#nd)" opacity="0.8927180027243766" transform="rotate(60 335.7 1249.1)"/><ellipse cx="157" cy="1252.8" rx="5.2" ry="6.5" fill="url(#nd)" opacity="0.6843440465839861" transform="rotate(-60 157 1252.8)"/><ellipse cx="195" cy="1256.5" rx="6.5" ry="4.6" fill="url(#nd)" opacity="0.719154748879027" transform="rotate(60 195 1256.5)"/><ellipse cx="311.7" cy="1256.5" rx="7" ry="6.5" fill="url(#nd)" opacity="0.7236308308956466"/><ellipse cx="342.2" cy="1263.9" rx="5.2" ry="5.9" fill="url(#nd)" opacity="0.7955710103369966"/><ellipse cx="233" cy="1267.6" rx="7" ry="4.6" fill="url(#nd)" opacity="0.8783791679936906"/><ellipse cx="175.6" cy="1275" rx="6.5" ry="7" fill="url(#nd)" opacity="0.732724307134884"/><ellipse cx="386.7" cy="1276.9" rx="6.5" ry="7" fill="url(#nd)" opacity="0.6953090666613643"/><ellipse cx="293.1" cy="1279.6" rx="5.9" ry="7.4" fill="url(#nd)" opacity="0.729040007257327" transform="rotate(35 293.1 1279.6)"/><ellipse cx="172.8" cy="1288" rx="7.8" ry="5.9" fill="url(#nd)" opacity="0.7417429751530566" transform="rotate(-60 172.8 1288)"/><ellipse cx="225.6" cy="1286.1" rx="6.5" ry="7" fill="url(#nd)" opacity="0.8620844445521434"/><ellipse cx="240.4" cy="1288" rx="5.6" ry="5.9" fill="url(#nd)" opacity="0.8833156311028388"/><ellipse cx="341.3" cy="1287" rx="7.8" ry="5.6" fill="url(#nd)" opacity="0.7328487361591864" transform="rotate(35 341.3 1287)"/><ellipse cx="370.9" cy="1286.1" rx="5.6" ry="7.4" fill="url(#nd)" opacity="0.8462719865768233" transform="rotate(-60 370.9 1286.1)"/><ellipse cx="211.7" cy="1295.4" rx="5.2" ry="4.1" fill="url(#nd)" opacity="0.7298241211993434" transform="rotate(60 211.7 1295.4)"/><ellipse cx="208" cy="1304.6" rx="5.9" ry="5.6" fill="url(#nd)" opacity="0.7808561775950054"/><ellipse cx="316.3" cy="1301.9" rx="7.8" ry="5.6" fill="url(#nd)" opacity="0.8857142292455767" transform="rotate(-35 316.3 1301.9)"/><ellipse cx="267.2" cy="1308.3" rx="5.2" ry="7.8" fill="url(#nd)" opacity="0.909345091261485" transform="rotate(-60 267.2 1308.3)"/><ellipse cx="280.2" cy="1313" rx="7.4" ry="5.9" fill="url(#nd)" opacity="0.8352643194678588"/><ellipse cx="320.9" cy="1313" rx="8.3" ry="7" fill="url(#nd)" opacity="0.7992634917476228" transform="rotate(35 320.9 1313)"/><ellipse cx="198.7" cy="1315.7" rx="6.5" ry="6.5" fill="url(#nd)" opacity="0.7325971451390496"/><ellipse cx="360.7" cy="1321.3" rx="8.3" ry="5.2" fill="url(#nd)" opacity="0.7892077426567738" transform="rotate(20 360.7 1321.3)"/><ellipse cx="394.1" cy="1318.5" rx="5.6" ry="5.2" fill="url(#nd)" opacity="0.7879799474516843"/><ellipse cx="405.2" cy="1325.9" rx="6.5" ry="4.1" fill="url(#nd)" opacity="0.8638519103680911" transform="rotate(60 405.2 1325.9)"/><ellipse cx="222.8" cy="1327.8" rx="6.5" ry="6.5" fill="url(#nd)" opacity="0.8978927114121338"/><ellipse cx="175.6" cy="1332.4" rx="5.9" ry="6.5" fill="url(#nd)" opacity="0.8606394443402939"/><ellipse cx="180.2" cy="1341.7" rx="6.5" ry="5.6" fill="url(#nd)" opacity="0.6943351465813387" transform="rotate(35 180.2 1341.7)"/><ellipse cx="327.4" cy="1342.6" rx="7.4" ry="4.6" fill="url(#nd)" opacity="0.8614157546530833" transform="rotate(60 327.4 1342.6)"/></g>
<g filter="url(#eb4)"><path d="M144.2 1067.9h0M143.3 1064.5h0M139 1062.1h0M197.6 1074.1h0M307.7 1064.7h0M309.9 1071.2h0M309 1065.1h0M320.2 1058.9h0M138.3 1097h0M146.8 1085.9h0M252.8 1080.8h0M249.4 1086.7h0M262 1103.4h0M255.3 1084.4h0M251.8 1085.3h0M305.1 1084.4h0M284 1079.1h0M320.3 1084h0M329.2 1075.4h0M319.7 1087.2h0M321 1081h0M322.1 1085.5h0M402.3 1083h0M393.8 1079.6h0M171.8 1086.6h0M174 1082.1h0M173.7 1083.4h0M169.5 1091.4h0M126.5 1112.4h0M142.7 1125.7h0M133.9 1128.1h0M149.7 1107.3h0M145.1 1126.8h0M146.4 1125h0M145.5 1105.2h0M218.4 1101.8h0M217 1099.7h0M253.6 1094h0M284.9 1093.1h0M282.1 1113.5h0M289 1113.2h0M162.3 1128.3h0M157.8 1116h0M187.9 1129.9h0M188.1 1131.1h0M230.9 1122.9h0M223.5 1119.4h0M222.7 1114.5h0M224.1 1113.4h0M292.6 1122.1h0M281.7 1119.8h0M397.2 1118.8h0M397.8 1114.4h0M129.5 1144.4h0M141.1 1148.8h0M125.7 1138.3h0M127.5 1133.1h0M171.3 1127.9h0M334.4 1138.6h0M354.1 1147.5h0M352.5 1150.9h0M356.6 1147.4h0M349.5 1134.8h0M347.9 1133.9h0M229.4 1153h0M245.8 1140.8h0M145.9 1152.5h0M153 1158.3h0M151.2 1150.7h0M136 1150.4h0M196.7 1179.1h0M196.8 1175.2h0M194.5 1169.5h0M198.6 1171.6h0M202.7 1158.7h0M213.1 1162.6h0M199.7 1168.6h0M199.9 1163.4h0M198.4 1168.9h0M227.4 1182.3h0M238.4 1165.8h0M232.7 1162.4h0M321.2 1172.2h0M305.1 1164.7h0M315.7 1163.9h0M353.2 1172.5h0M341.2 1184.9h0M381 1182.6h0M375.9 1177h0M283.3 1174.1h0M258.3 1170.9h0M272.6 1166.4h0M282.8 1174.5h0M287.1 1176.4h0M283.4 1180.3h0M205.8 1185.7h0M204.4 1196.9h0M204.8 1202h0M217.2 1192.9h0M208 1199.5h0M210.6 1218.2h0M231.1 1218.7h0M336.6 1217.5h0M320.9 1207.9h0M337 1208.3h0M297.8 1210.5h0M301.9 1206h0M295.6 1228.1h0M276.2 1235.9h0M313 1231.9h0M323.7 1233h0M325.1 1230.9h0M323.8 1228.7h0M197.2 1224.1h0M199.4 1213.2h0M192 1208.1h0M138.7 1219.3h0M141.5 1221.6h0M135.5 1222.6h0M148.3 1239h0M135.7 1230.5h0M393.4 1227.7h0M394.8 1226.9h0M402.5 1239.9h0M365.8 1246h0M353.2 1244.6h0M356.3 1245.9h0M217.1 1232.6h0M214.1 1229.4h0M220.7 1240.8h0M243.1 1249h0M256.7 1256.5h0M253 1241h0M253.7 1260.6h0M242.2 1247.7h0M240.4 1243.9h0M257.4 1242.6h0M338.4 1239.2h0M325.3 1243.5h0M327.3 1256.3h0M305.1 1264.1h0M307 1249.9h0M316.1 1249.4h0M307.5 1263.7h0M306.2 1252h0M334.9 1262.1h0M340 1272.6h0M232.7 1256.2h0M239.7 1267.2h0M166.6 1282.8h0M183 1282h0M164.2 1270h0M165.5 1272.5h0M180.8 1292.6h0M237 1292.3h0M246.4 1283.4h0M330.5 1287.5h0M342.5 1274h0M327.7 1288.1h0M337.6 1299h0M205.3 1305.8h0M211.8 1308.1h0M216.9 1299.6h0M205.1 1295.4h0M205.2 1291h0M194.6 1299.8h0M324.8 1304h0M323.5 1311.5h0M307.6 1306.5h0M286.8 1308.9h0M291.4 1313.7h0M287.8 1315.1h0M330.2 1309.2h0M309 1305h0M313.3 1320.5h0M322.6 1305.1h0M191.3 1319.9h0M199.4 1326.1h0M193.9 1323.1h0M191.8 1321.7h0M367.8 1331.6h0M365.6 1312.9h0M217.3 1318h0M218.5 1319.9h0M176.6 1319.6h0M176 1346.9h0M179.5 1349.4h0M171.9 1334.3h0M174.1 1329.2h0" stroke="#45f022" stroke-width="1" stroke-linecap="round" stroke-opacity="0.8" fill="none"/><path d="M146.1 1066h0M144.4 1063.5h0M197 1072.7h0M203.4 1058.5h0M311.9 1055.2h0M135.6 1100.6h0M133 1095.3h0M138.1 1078.6h0M250.6 1101.3h0M267.1 1085h0M255.6 1081.5h0M281.3 1084.9h0M285.2 1078.3h0M340.9 1085.6h0M328.4 1079.8h0M327.9 1095.8h0M326.7 1096.7h0M407.6 1086.9h0M403.8 1084.8h0M389.4 1083.6h0M173 1093.5h0M171.1 1091h0M173.9 1096.2h0M169.7 1088.5h0M174.8 1093.2h0M163.2 1112h0M181.4 1108.6h0M171.4 1114.2h0M147 1119.8h0M154.7 1117.4h0M148.8 1118.2h0M132.8 1122.4h0M137.1 1123.6h0M265.4 1106.8h0M272.8 1108.1h0M156.3 1117.4h0M153.4 1121.5h0M150.9 1122.3h0M177.6 1124h0M186.2 1127h0M225.2 1122.9h0M221.5 1122.1h0M221 1114.4h0M228.9 1123h0M289.2 1122.9h0M284.8 1117.5h0M295.9 1127.1h0M394.9 1131.3h0M186.2 1142.8h0M354.6 1138.4h0M353.9 1146.2h0M355.9 1138.2h0M348.9 1136h0M235.3 1134.8h0M227.5 1135.9h0M272.5 1142.3h0M274.5 1165.4h0M264 1162h0M381.2 1168.1h0M379.1 1149.8h0M379.7 1149.7h0M395.8 1152.8h0M149.9 1159.4h0M151.9 1164.5h0M149.3 1158.7h0M151.8 1151.9h0M144.1 1147.1h0M148.5 1157.1h0M189.7 1173.5h0M203.2 1161h0M193.6 1176h0M198.8 1162.3h0M197.9 1162.5h0M232.6 1164h0M221 1163.9h0M354.5 1162.5h0M330.2 1168.1h0M375.6 1175.2h0M384.9 1182.6h0M375.9 1179.2h0M261.8 1166.2h0M192.7 1199.8h0M198.7 1200.3h0M214.7 1193.3h0M227.1 1181.8h0M235 1209.2h0M230.1 1210.7h0M329.3 1206.2h0M307 1222.1h0M292.3 1222.4h0M271.7 1220.3h0M292 1226.1h0M273.4 1226.8h0M282.6 1236.1h0M314.4 1235.4h0M315.4 1231.9h0M316.8 1231.2h0M308.1 1225h0M179.4 1208.7h0M185.4 1229.6h0M136.7 1233.4h0M141.2 1235.5h0M139.3 1228.5h0M139 1219.8h0M404.2 1239.8h0M391.3 1232.2h0M399.6 1244.2h0M399.5 1222.5h0M398 1224.8h0M393.9 1232.4h0M393.4 1236.2h0M368.7 1243.4h0M253 1256.3h0M241.1 1250.8h0M333.2 1238.4h0M327 1242.1h0M338.8 1239.4h0M325.7 1244.4h0M317.9 1266.8h0M309.8 1247.4h0M320.7 1263h0M347.6 1274.4h0M338.2 1264.8h0M349.9 1271.5h0M338.4 1273.3h0M346.5 1270.2h0M233.9 1276.6h0M236.3 1259.6h0M178 1286.2h0M164.3 1274.7h0M181.7 1285.9h0M165.5 1301.4h0M236.7 1293.2h0M238.3 1292.5h0M244.6 1294.2h0M242.5 1292.6h0M247.4 1286.5h0M230.4 1288.3h0M227.9 1285.8h0M349.8 1283.8h0M330.8 1294h0M348.9 1286.6h0M344.9 1277.3h0M343.2 1275.8h0M219.1 1302.3h0M219.5 1296h0M206 1293.9h0M290.9 1310.9h0M326.7 1302.5h0M330.6 1316.5h0M327.8 1306.2h0M203.4 1309.2h0M400.3 1321.3h0M226.9 1333.8h0M222.8 1319.6h0M214.6 1325.1h0M171.4 1321.1h0M184.1 1325.1h0M183.6 1322.2h0M167.6 1339.2h0M178.3 1348h0" stroke="#45f022" stroke-width="1" stroke-linecap="round" stroke-opacity="1.0" fill="none"/><path d="M144.7 1073.5h0M195.7 1066h0M211.5 1063h0M251.1 1083.4h0M254.2 1100.4h0M332.2 1100h0M181.8 1094.1h0M211.7 1096.3h0M269.4 1108.8h0M341.2 1107.1h0M350.6 1097.7h0M159.5 1121h0M155.8 1115.5h0M184.1 1109.9h0M235.1 1116.5h0M228.2 1126.3h0M403.2 1116h0M131.8 1134.6h0M129.2 1143.5h0M377.5 1158.9h0M380.5 1166h0M143.2 1151.6h0M134.1 1155.6h0M151 1157.7h0M196.6 1172.1h0M222.8 1165.9h0M234.9 1163.1h0M238 1163.7h0M240 1168.7h0M379.3 1162.8h0M390 1180.7h0M381 1179.8h0M217.2 1183.2h0M221.1 1212.9h0M233 1221.9h0M337.7 1219.2h0M304.1 1212.1h0M271 1231.5h0M273.5 1216.7h0M321.1 1215.2h0M135.9 1224.7h0M397.1 1240.5h0M397.6 1222h0M412 1234.1h0M367.2 1243h0M374 1231.5h0M220.7 1248.5h0M313.3 1247h0M164.9 1295.8h0M343.3 1273.9h0M317.1 1291.2h0M287.1 1311.4h0M364.6 1314.4h0M416.1 1319.1h0M218.8 1318.5h0" stroke="#45f022" stroke-width="2" stroke-linecap="round" stroke-opacity="1.0" fill="none"/><path d="M139.7 1078.9h0M123.5 1071.1h0M198.9 1073.4h0M197.8 1069.1h0M198.7 1062.1h0M194.7 1064h0M314.4 1075.7h0M311.2 1073.9h0M308.4 1071.1h0M324.2 1075h0M132.8 1096.1h0M147 1089.3h0M146.4 1090.8h0M145.1 1096.7h0M141.4 1097.9h0M266.8 1087.7h0M263.8 1084.8h0M263.7 1081.3h0M272.8 1093.1h0M288.1 1078.6h0M285.6 1086h0M289.9 1078.3h0M283.8 1083.7h0M391.8 1083.4h0M408.8 1094.6h0M408.4 1090.6h0M389.5 1090.4h0M403.8 1099.7h0M171 1091.1h0M171.9 1091.9h0M169 1089.9h0M180.2 1084.9h0M182.6 1096.5h0M139.5 1129.4h0M137.3 1125h0M143.1 1125.5h0M148 1109.2h0M146.2 1106.5h0M206.8 1100.4h0M219.5 1098.5h0M256.1 1093.3h0M280.4 1091.8h0M269 1107.1h0M271.3 1101.7h0M354.9 1094.9h0M354.3 1095.2h0M344.1 1106.9h0M148 1123.2h0M152.5 1117.6h0M163 1120.5h0M149.8 1119.1h0M164.8 1124h0M182.6 1124h0M181.9 1124.3h0M187.6 1108.9h0M189.2 1110.7h0M184.3 1127.5h0M232.8 1111.7h0M279.4 1120.4h0M277.4 1130.4h0M285.6 1139.6h0M407.1 1117.3h0M395.4 1116.2h0M398.6 1118.9h0M130.3 1149.1h0M127.2 1145.2h0M131.6 1147.7h0M179.2 1129h0M184.9 1132.3h0M170.9 1130.3h0M337.5 1145.3h0M357.2 1138.5h0M349 1130.7h0M345.2 1154h0M242 1142.2h0M282.3 1154.4h0M383.6 1169.2h0M397.1 1159.9h0M393.4 1163.1h0M391.4 1154.1h0M152.7 1156h0M151.6 1154.3h0M149.6 1153.4h0M139.1 1169.7h0M205.6 1172.9h0M189.3 1178.1h0M186.7 1176.2h0M185.7 1162h0M195.5 1155.5h0M212.2 1171.4h0M201.5 1172.6h0M198.6 1159.7h0M207.8 1159.9h0M231.8 1158.4h0M218.6 1164h0M219.5 1164.2h0M234.7 1166h0M221.9 1164.7h0M229.8 1159.5h0M229.2 1162.4h0M312.2 1161.2h0M354.8 1172.6h0M356.8 1170.5h0M374.4 1176.2h0M382.9 1180h0M377 1175.1h0M378.5 1164h0M376.8 1178.2h0M186.4 1200.9h0M227.2 1181.7h0M222 1184.3h0M218.7 1205.8h0M229.1 1215.1h0M232.3 1219.6h0M333.5 1208.8h0M318.1 1217.8h0M337 1217h0M314.3 1210.5h0M320.6 1209.5h0M307.3 1218h0M292.6 1209.2h0M296.7 1210h0M307.1 1214.9h0M284.4 1233.6h0M270.6 1229.8h0M281.9 1217.3h0M274.7 1230.8h0M276 1217.5h0M313.7 1231.2h0M309.1 1230.1h0M184 1203.7h0M144.6 1216.6h0M138.6 1224.1h0M134.1 1227.5h0M140.7 1220.4h0M412.7 1222.8h0M410.1 1224h0M368.4 1243h0M358.1 1243h0M372.7 1235.1h0M208.8 1246.7h0M251.9 1241h0M241.8 1244h0M246.6 1254.2h0M243.7 1248.7h0M335 1237.7h0M327.1 1248.4h0M304.2 1257.6h0M300.7 1261.7h0M304.7 1250.4h0M304.2 1257.7h0M337.6 1257.2h0M226 1275.6h0M227.1 1275.4h0M242 1264.6h0M181.7 1278.8h0M164.8 1283h0M180.6 1281.2h0M179.8 1298.1h0M233.5 1290.7h0M231.6 1294.2h0M241.7 1296.2h0M348.1 1279.7h0M333.3 1293h0M325.8 1286.4h0M332 1295.5h0M328 1288.5h0M217.3 1305.5h0M219.1 1303.6h0M215.3 1287.4h0M216.1 1293.2h0M222 1292.4h0M213.4 1305h0M199.1 1299.7h0M213.8 1304.3h0M197.6 1305.1h0M215.2 1298.8h0M206.5 1295.4h0M216.4 1304.6h0M314.1 1315.9h0M315.6 1292.1h0M322.5 1306.4h0M305.6 1309.3h0M283.5 1321.7h0M268.3 1308.7h0M288.3 1309.9h0M330.9 1321.4h0M309.5 1306.7h0M331.8 1320.7h0M328.7 1318.4h0M193.6 1324.2h0M199.2 1326.1h0M411.5 1317.5h0M223 1339.7h0M212.8 1323.9h0M214.8 1317.7h0M218.6 1318.2h0M174.2 1090.1h0M411.2 1094.3h0M146.6 1065.6h0M229.5 1334h0M273 1342.8h0M409.8 1296.5h0M206.8 1261.5h0M325.9 1233.3h0M195.3 1077.8h0M209.8 1244h0M325.8 1124.6h0M310.9 1264.3h0M196.6 1334.4h0M135.7 1138.2h0M171 1138h0M215.8 1305.7h0M295.2 1253.5h0M166.9 1163.3h0M339.2 1344.8h0M296.9 1243.7h0M297.2 1083.4h0M359.2 1164.3h0M217.6 1340.3h0M266.5 1197h0M339.2 1135.8h0M209.4 1073.4h0M289.5 1315.6h0M201.2 1246.2h0M363.7 1070.6h0M356.3 1083.4h0M245.5 1121.9h0M371.9 1142.9h0M250.8 1250.8h0M144.7 1103.2h0M320.8 1063.5h0M172.7 1166.1h0M154.7 1309.6h0M217.6 1334.4h0M201.1 1068.9h0M326.6 1335.7h0M367.2 1136.9h0M153.4 1205.9h0M346.1 1169.4h0M170.7 1230.7h0M229.3 1170.9h0M286.2 1161.1h0M364.2 1174.5h0M135.4 1086.3h0M247.6 1229.6h0M166.4 1180.3h0M236.4 1201.4h0M349.5 1071.7h0M324.8 1157.1h0M185.8 1325.2h0M146 1076.2h0M132.8 1319.7h0M172.9 1299.8h0M370.1 1092.5h0M252.9 1161h0M268.1 1073.9h0M230.1 1158.7h0M156.2 1302.3h0M233 1325.9h0M232.1 1261.3h0M267.3 1137h0M365.7 1100.8h0M244.1 1212.7h0M290.8 1266.5h0M232.8 1124.2h0M205.7 1112.8h0" stroke="#45f022" stroke-width="1" stroke-linecap="round" stroke-opacity="0.6" fill="none"/><path d="M201.9 1078.5h0M313.8 1055.2h0M315.8 1078.1h0M129.3 1097.5h0M139.4 1098.3h0M128.4 1091.2h0M251.7 1087.8h0M259.9 1081.5h0M287.2 1077.1h0M333.8 1095.1h0M328.7 1074.9h0M405.9 1094.3h0M405.6 1087h0M177 1109h0M169.8 1096.4h0M162.7 1101.5h0M145.4 1127.3h0M224.4 1109.3h0M248.1 1093.9h0M274.8 1115.2h0M182.7 1125.9h0M410.5 1118h0M408.6 1116h0M355.1 1148h0M238.2 1153.7h0M278.5 1160.7h0M395.3 1155.2h0M391.7 1166.3h0M143 1165.7h0M218.5 1182.1h0M224.4 1182.7h0M239.5 1220.5h0M233.8 1207.6h0M334.4 1206.5h0M270.3 1228.6h0M273.5 1219.7h0M323.3 1230h0M323.8 1226h0M319.8 1232.2h0M195.1 1205.8h0M395.8 1227.3h0M246.2 1242.3h0M311.4 1248.3h0M311.4 1268.9h0M334.6 1258.4h0M352.9 1264.8h0M222.8 1257.3h0M243 1264.4h0M173.7 1284.7h0M174.7 1297.6h0M229.8 1285.8h0M237.3 1274.8h0M244.6 1287.5h0M342.6 1276.7h0M218.3 1296.4h0M222.2 1292.8h0M201.7 1291.7h0M317 1311.4h0M291.3 1315.9h0M330.2 1314.3h0M411.7 1335.6h0M171.4 1347.4h0" stroke="#45f022" stroke-width="2" stroke-linecap="round" stroke-opacity="0.6" fill="none"/><path d="M305.4 1069h0M330.3 1098.8h0M405.4 1083.5h0M162.7 1111.7h0M180 1107h0M134.1 1126.9h0M151.1 1109h0M245.8 1095h0M267.8 1103.8h0M150.7 1117.1h0M223.9 1112.6h0M226.4 1112.6h0M283.6 1119.6h0M395.2 1119.2h0M142.4 1143.7h0M125.1 1140h0M341.5 1132h0M349.2 1150.6h0M244.6 1147h0M394.3 1158.5h0M379.8 1168h0M195.6 1156.7h0M213.1 1161.8h0M201.1 1162.7h0M322.6 1174.5h0M257.2 1173.3h0M208.1 1196.1h0M204.5 1189.5h0M335.6 1210.3h0M305.7 1223.2h0M185.9 1206.8h0M178.7 1218.6h0M139.4 1224.5h0M404.7 1244.8h0M396.7 1223.9h0M220.4 1248h0M244.2 1239.8h0M326.3 1253.3h0M338 1254.3h0M304 1255.6h0M182.6 1280.1h0M166.9 1279.6h0M176.9 1286h0M176.3 1288h0M237.2 1291.8h0M229.3 1292.6h0M342.6 1274.4h0M331.9 1278.9h0M212.5 1304.9h0M195.9 1301.1h0M322.1 1309.9h0M286.8 1319.6h0M204.6 1310.4h0M208.1 1318.6h0M193.4 1325.2h0M366.9 1315.7h0M211.7 1321.2h0M221.8 1316h0M168.3 1324.3h0M185.2 1348.1h0" stroke="#45f022" stroke-width="2" stroke-linecap="round" stroke-opacity="0.8" fill="none"/><path d="M238.1 1292.5h0M170.4 1187.6h0M207.1 1312.4h0M373.3 1251.8h0M244.9 1094.6h0M336.4 1131.1h0M203.3 1280.2h0M325.6 1195.2h0M239.8 1118.2h0M234.3 1155.2h0M283.9 1107.3h0M182.9 1168.4h0M166.3 1312.8h0M138.7 1128h0M409.2 1147.7h0M317.6 1062.8h0M326.7 1346.9h0M385.5 1318.4h0M339.9 1063.1h0M353.3 1173h0M335 1240.6h0M328.3 1243.6h0M330.3 1086.7h0M304.8 1149.8h0M161.9 1348h0M287.7 1323.1h0M352.5 1279.9h0M277.6 1144.6h0M221.1 1322.3h0M241.4 1228.1h0M247.9 1270.8h0M274.8 1323.4h0M156.4 1291.5h0M382.9 1260.9h0M151.5 1286.6h0M299.9 1171.5h0M218.3 1193h0M399 1203.4h0M300.5 1321.2h0M329.8 1212.2h0M321 1232.4h0M403.9 1331.3h0M165.4 1313.1h0M306.4 1224.2h0M179.5 1118.9h0M199.5 1319.5h0M130.6 1127h0M227.4 1322.7h0M388.5 1086.1h0M196.5 1282.2h0M401.3 1104.7h0M400.7 1208.5h0M221.8 1080.4h0M383.5 1299.5h0M146 1126.4h0M132.6 1127.8h0M145 1220.1h0M366.1 1142h0M264.3 1082.9h0M314.2 1067.3h0M260.7 1224.4h0M155 1087.1h0M247.2 1175.2h0M384.6 1090h0M361 1187.4h0M170.9 1239.4h0M223.1 1287h0M394.8 1341.9h0M212.9 1201.3h0M293.5 1134.7h0" stroke="#45f022" stroke-width="1" stroke-linecap="round" stroke-opacity="0.4" fill="none"/></g>
</g>
<rect x="159.3" y="1162" width="87" height="87" fill="none" stroke="#fff" stroke-width="1.7"/>
<line x1="362.2" y1="1338.3" x2="406" y2="1338.3" stroke="#fff" stroke-width="2.6" />
<g clip-path="url(#ce3)">
<rect x="128" y="1354.7" width="287" height="287" fill="#010201"/>
<g filter="url(#ebh)"><circle cx="269.3" cy="1366.9" r="10.1" fill="#0a2c0c" opacity="0.4"/><circle cx="307.1" cy="1360.3" r="14.3" fill="#0a2c0c" opacity="0.4"/><circle cx="356.6" cy="1366.1" r="12.6" fill="#0a2c0c" opacity="0.4"/><circle cx="225.6" cy="1386.6" r="10.9" fill="#0a2c0c" opacity="0.4"/><circle cx="287.3" cy="1388" r="14.6" fill="#0a2c0c" opacity="0.4"/><circle cx="415.2" cy="1401.8" r="13.7" fill="#0a2c0c" opacity="0.4"/><circle cx="240.1" cy="1413.6" r="10.1" fill="#0a2c0c" opacity="0.4"/><circle cx="354.1" cy="1403.6" r="14.6" fill="#0a2c0c" opacity="0.4"/><circle cx="167.9" cy="1420.2" r="13" fill="#0a2c0c" opacity="0.4"/><circle cx="327.8" cy="1423.8" r="10.8" fill="#0a2c0c" opacity="0.4"/><circle cx="362.3" cy="1422.8" r="12.2" fill="#0a2c0c" opacity="0.4"/><circle cx="389" cy="1426.1" r="11.6" fill="#0a2c0c" opacity="0.4"/><circle cx="216.9" cy="1444" r="12.1" fill="#0a2c0c" opacity="0.4"/><circle cx="256.8" cy="1437.9" r="10" fill="#0a2c0c" opacity="0.4"/><circle cx="343.7" cy="1430.9" r="11.1" fill="#0a2c0c" opacity="0.4"/><circle cx="373" cy="1438" r="13.8" fill="#0a2c0c" opacity="0.4"/><circle cx="162.6" cy="1446" r="11.5" fill="#0a2c0c" opacity="0.4"/><circle cx="279" cy="1451.3" r="12.1" fill="#0a2c0c" opacity="0.4"/><circle cx="327.3" cy="1471.5" r="11.1" fill="#0a2c0c" opacity="0.4"/><circle cx="138.3" cy="1489.4" r="11" fill="#0a2c0c" opacity="0.4"/><circle cx="184.3" cy="1488.3" r="10.6" fill="#0a2c0c" opacity="0.4"/><circle cx="362.5" cy="1497.2" r="9.7" fill="#0a2c0c" opacity="0.4"/><circle cx="371.5" cy="1509.7" r="10.1" fill="#0a2c0c" opacity="0.4"/><circle cx="380" cy="1507" r="10.2" fill="#0a2c0c" opacity="0.4"/><circle cx="381.3" cy="1518.3" r="14" fill="#0a2c0c" opacity="0.4"/><circle cx="211.4" cy="1507.1" r="9.2" fill="#0a2c0c" opacity="0.4"/><circle cx="236.3" cy="1501.5" r="13.5" fill="#0a2c0c" opacity="0.4"/><circle cx="281.6" cy="1505.5" r="10.6" fill="#0a2c0c" opacity="0.4"/><circle cx="189.1" cy="1513" r="14.3" fill="#0a2c0c" opacity="0.4"/><circle cx="211.7" cy="1523" r="9.3" fill="#0a2c0c" opacity="0.4"/><circle cx="256.1" cy="1524.6" r="9" fill="#0a2c0c" opacity="0.4"/><circle cx="288.1" cy="1531.2" r="11.1" fill="#0a2c0c" opacity="0.4"/><circle cx="172.3" cy="1557.3" r="10.1" fill="#0a2c0c" opacity="0.4"/><circle cx="211.1" cy="1569.8" r="10.1" fill="#0a2c0c" opacity="0.4"/><circle cx="234.9" cy="1573" r="12.1" fill="#0a2c0c" opacity="0.4"/><circle cx="160.9" cy="1586.2" r="13.6" fill="#0a2c0c" opacity="0.4"/><circle cx="262.8" cy="1573.9" r="10" fill="#0a2c0c" opacity="0.4"/><circle cx="323.8" cy="1577.5" r="12.1" fill="#0a2c0c" opacity="0.4"/><circle cx="240.7" cy="1593.5" r="12.6" fill="#0a2c0c" opacity="0.4"/><circle cx="169.4" cy="1587.8" r="14.7" fill="#0a2c0c" opacity="0.4"/><circle cx="146.5" cy="1601.3" r="12" fill="#0a2c0c" opacity="0.4"/><circle cx="257.3" cy="1598.3" r="11" fill="#0a2c0c" opacity="0.4"/><circle cx="227.8" cy="1610.1" r="9.3" fill="#0a2c0c" opacity="0.4"/><circle cx="292.8" cy="1609.1" r="9.6" fill="#0a2c0c" opacity="0.4"/><circle cx="330.1" cy="1604.4" r="11.9" fill="#0a2c0c" opacity="0.4"/><circle cx="363.4" cy="1611.3" r="10.8" fill="#0a2c0c" opacity="0.4"/><circle cx="225" cy="1628.3" r="11.2" fill="#0a2c0c" opacity="0.4"/><circle cx="247" cy="1625.7" r="10.3" fill="#0a2c0c" opacity="0.4"/><circle cx="260.4" cy="1624.6" r="9.8" fill="#0a2c0c" opacity="0.4"/><circle cx="312" cy="1625.1" r="9.7" fill="#0a2c0c" opacity="0.4"/><circle cx="401.8" cy="1620.5" r="9.4" fill="#0a2c0c" opacity="0.4"/><circle cx="144.5" cy="1638.9" r="12.5" fill="#0a2c0c" opacity="0.4"/><circle cx="193.7" cy="1628.4" r="13.1" fill="#0a2c0c" opacity="0.4"/><circle cx="306.7" cy="1630.8" r="9.5" fill="#0a2c0c" opacity="0.4"/></g>
<g filter="url(#eb1)"><ellipse cx="219.9" cy="1359.7" rx="6.4" ry="3.7" fill="url(#nd)" opacity="0.8823855241297546" transform="rotate(20 219.9 1359.7)"/><ellipse cx="274" cy="1361.9" rx="7" ry="5.1" fill="url(#nd)" opacity="0.7321119461597163"/><ellipse cx="305.6" cy="1361.9" rx="7" ry="5.5" fill="url(#nb)" opacity="1.0" transform="rotate(20 305.6 1361.9)"/><ellipse cx="352" cy="1367.9" rx="5.5" ry="5.1" fill="url(#nd)" opacity="0.7031875519238431"/><ellipse cx="363" cy="1365.2" rx="5.5" ry="5.1" fill="url(#nd)" opacity="0.7252761234438607"/><ellipse cx="192.4" cy="1360.6" rx="8.3" ry="6.4" fill="url(#nd)" opacity="0.7209089359341312" transform="rotate(60 192.4 1360.6)"/><ellipse cx="182.4" cy="1374.3" rx="7" ry="6.4" fill="url(#nd)" opacity="0.7068369208832918"/><ellipse cx="156.7" cy="1389.9" rx="5.5" ry="5.1" fill="url(#nd)" opacity="0.6824518284830904"/><ellipse cx="221.8" cy="1385.7" rx="5.1" ry="4" fill="url(#nd)" opacity="0.7447055127316552" transform="rotate(20 221.8 1385.7)"/><ellipse cx="283.8" cy="1387.2" rx="6.4" ry="5.9" fill="url(#nd)" opacity="0.8030020125380763"/><ellipse cx="336.9" cy="1385.7" rx="4.6" ry="4.6" fill="url(#nd)" opacity="0.6897693837484373"/><ellipse cx="381.3" cy="1383.5" rx="5.5" ry="6.4" fill="url(#nd)" opacity="0.7967573505393051"/><ellipse cx="401.5" cy="1389.9" rx="5.9" ry="6.4" fill="url(#nd)" opacity="0.8009517401075558"/><ellipse cx="133.8" cy="1398.2" rx="6.4" ry="5.5" fill="url(#nd)" opacity="0.9165205776681362" transform="rotate(-60 133.8 1398.2)"/><ellipse cx="324.1" cy="1397.8" rx="4" ry="5.1" fill="url(#nd)" opacity="0.7871693468988206"/><ellipse cx="410.7" cy="1403.7" rx="4.6" ry="7.3" fill="url(#nd)" opacity="0.839341071202457"/><ellipse cx="144.8" cy="1411" rx="5.1" ry="7" fill="url(#nd)" opacity="0.7314748538561667" transform="rotate(-60 144.8 1411)"/><ellipse cx="186.4" cy="1410.1" rx="4" ry="6.4" fill="url(#nb)" opacity="1.0"/><ellipse cx="236.8" cy="1411.9" rx="5.1" ry="4" fill="url(#nd)" opacity="0.8719617095037953" transform="rotate(-60 236.8 1411.9)"/><ellipse cx="353.8" cy="1408.3" rx="4.6" ry="5.9" fill="url(#nd)" opacity="0.9184296136606119" transform="rotate(60 353.8 1408.3)"/><ellipse cx="167.7" cy="1421.1" rx="5.1" ry="7.3" fill="url(#nd)" opacity="0.7895218014512991" transform="rotate(-20 167.7 1421.1)"/><ellipse cx="275.5" cy="1423.9" rx="10.1" ry="7.7" fill="url(#nd)" opacity="0.8976408709029656" transform="rotate(-60 275.5 1423.9)"/><ellipse cx="329.1" cy="1422.9" rx="8.3" ry="5.1" fill="url(#nd)" opacity="0.850434665976089" transform="rotate(60 329.1 1422.9)"/><ellipse cx="333.6" cy="1427.5" rx="6.4" ry="4.6" fill="url(#nd)" opacity="0.8596672220009797" transform="rotate(20 333.6 1427.5)"/><ellipse cx="363" cy="1421.1" rx="5.1" ry="7.7" fill="url(#nd)" opacity="0.8170928882964011" transform="rotate(35 363 1421.1)"/><ellipse cx="384.1" cy="1427.5" rx="6.4" ry="7.7" fill="url(#nd)" opacity="0.700823228929218" transform="rotate(-60 384.1 1427.5)"/><ellipse cx="212.6" cy="1439.4" rx="7" ry="5.1" fill="url(#nd)" opacity="0.770313892131178" transform="rotate(-20 212.6 1439.4)"/><ellipse cx="260.8" cy="1433.9" rx="7.7" ry="4.6" fill="url(#nd)" opacity="0.68799939270684"/><ellipse cx="345.2" cy="1432.7" rx="7.7" ry="6.4" fill="url(#nd)" opacity="0.9000391667688374"/><ellipse cx="377.7" cy="1437.6" rx="5.5" ry="7" fill="url(#nd)" opacity="0.784138148877799" transform="rotate(-35 377.7 1437.6)"/><ellipse cx="142" cy="1444.9" rx="5.9" ry="4" fill="url(#nd)" opacity="0.7399355955922902" transform="rotate(60 142 1444.9)"/><ellipse cx="160.7" cy="1450.4" rx="5.9" ry="4.6" fill="url(#nd)" opacity="0.7437042473635083" transform="rotate(35 160.7 1450.4)"/><ellipse cx="236.8" cy="1446.8" rx="5.1" ry="5.9" fill="url(#nd)" opacity="0.7626969356306068"/><ellipse cx="225.4" cy="1453.2" rx="5.5" ry="6.4" fill="url(#nd)" opacity="0.8821346303089245" transform="rotate(20 225.4 1453.2)"/><ellipse cx="275.5" cy="1451.4" rx="5.5" ry="4.6" fill="url(#nd)" opacity="0.8460824554213401"/><ellipse cx="175.9" cy="1461.4" rx="5.5" ry="7" fill="url(#nd)" opacity="0.8796799094640353"/><ellipse cx="191.5" cy="1460.5" rx="4.6" ry="7" fill="url(#nd)" opacity="0.8456593746830273"/><ellipse cx="224.5" cy="1464.2" rx="6.4" ry="8.8" fill="url(#nd)" opacity="0.8891270837736459"/><ellipse cx="325" cy="1470.1" rx="5.9" ry="4.6" fill="url(#nb)" opacity="1.0" transform="rotate(-20 325 1470.1)"/><ellipse cx="405.2" cy="1471.9" rx="7" ry="4.6" fill="url(#nd)" opacity="0.7620894665949518" transform="rotate(-35 405.2 1471.9)"/><ellipse cx="263" cy="1478" rx="4" ry="6.4" fill="url(#nd)" opacity="0.8645788733333678" transform="rotate(35 263 1478)"/><ellipse cx="276.8" cy="1484.4" rx="3.7" ry="6.4" fill="url(#nd)" opacity="0.8923134392271852" transform="rotate(-20 276.8 1484.4)"/><ellipse cx="333.6" cy="1482.9" rx="5.5" ry="5.1" fill="url(#nd)" opacity="0.7632173520422967"/><ellipse cx="138.3" cy="1488" rx="8.8" ry="7.3" fill="url(#nd)" opacity="0.8939568624383021"/><ellipse cx="182.4" cy="1489" rx="11" ry="6.4" fill="url(#nd)" opacity="0.8334125984061129" transform="rotate(-60 182.4 1489)"/><ellipse cx="357.9" cy="1498.7" rx="4.6" ry="4.6" fill="url(#nb)" opacity="1.0"/><ellipse cx="374" cy="1506" rx="5.1" ry="5.1" fill="url(#nd)" opacity="0.8340138936841742"/><ellipse cx="384.1" cy="1507.3" rx="5.1" ry="4.6" fill="url(#nd)" opacity="0.9080992643209445"/><ellipse cx="378.9" cy="1514.1" rx="5.5" ry="4.6" fill="url(#nb)" opacity="1.0" transform="rotate(-35 378.9 1514.1)"/><ellipse cx="212.6" cy="1503.6" rx="5.1" ry="7.7" fill="url(#nd)" opacity="0.7202736719175066"/><ellipse cx="236.4" cy="1502.7" rx="6.4" ry="11.4" fill="url(#nd)" opacity="0.7576443489875848" transform="rotate(-20 236.4 1502.7)"/><ellipse cx="259" cy="1501.8" rx="5.9" ry="3.7" fill="url(#nb)" opacity="1.0" transform="rotate(35 259 1501.8)"/><ellipse cx="284.1" cy="1508.2" rx="7.7" ry="9.2" fill="url(#nd)" opacity="0.7033340338759636"/><ellipse cx="187.5" cy="1516.5" rx="4" ry="4" fill="url(#nb)" opacity="1.0"/><ellipse cx="165.5" cy="1521" rx="7.7" ry="9.2" fill="url(#nd)" opacity="0.8168060561247459" transform="rotate(60 165.5 1521)"/><ellipse cx="211.7" cy="1522" rx="5.1" ry="7" fill="url(#nd)" opacity="0.6875958870507287"/><ellipse cx="260.8" cy="1522" rx="7.3" ry="5.5" fill="url(#nd)" opacity="0.6929977783047517" transform="rotate(60 260.8 1522)"/><ellipse cx="331.3" cy="1520.1" rx="7.3" ry="5.5" fill="url(#nd)" opacity="0.9027635492297179" transform="rotate(-35 331.3 1520.1)"/><ellipse cx="134.7" cy="1529.3" rx="6.4" ry="2.8" fill="url(#nd)" opacity="0.869174247606597" transform="rotate(-35 134.7 1529.3)"/><ellipse cx="153.9" cy="1540.3" rx="6.4" ry="4" fill="url(#nd)" opacity="0.8157995936768233" transform="rotate(-60 153.9 1540.3)"/><ellipse cx="287.8" cy="1534.8" rx="7.3" ry="6.4" fill="url(#nd)" opacity="0.8677383266793033"/><ellipse cx="366.7" cy="1542.1" rx="7" ry="5.9" fill="url(#nb)" opacity="1.0" transform="rotate(-20 366.7 1542.1)"/><ellipse cx="139.8" cy="1555.9" rx="5.5" ry="4.6" fill="url(#nd)" opacity="0.7647350304955156" transform="rotate(-35 139.8 1555.9)"/><ellipse cx="173.5" cy="1555.9" rx="5.9" ry="4.6" fill="url(#nd)" opacity="0.8084002862908802" transform="rotate(20 173.5 1555.9)"/><ellipse cx="196.1" cy="1554.1" rx="8.3" ry="5.5" fill="url(#nd)" opacity="0.8860992163316596"/><ellipse cx="349.2" cy="1558.6" rx="6.4" ry="6.4" fill="url(#nd)" opacity="0.789122008028883"/><ellipse cx="410.7" cy="1552.2" rx="5.1" ry="6.4" fill="url(#nd)" opacity="0.7553350551808609" transform="rotate(-35 410.7 1552.2)"/><ellipse cx="207.7" cy="1569.6" rx="5.9" ry="4.6" fill="url(#nd)" opacity="0.6911827535109262" transform="rotate(-60 207.7 1569.6)"/><ellipse cx="238.3" cy="1569.6" rx="7.7" ry="5.1" fill="url(#nd)" opacity="0.9100531004011009" transform="rotate(-35 238.3 1569.6)"/><ellipse cx="301.2" cy="1571.5" rx="5.5" ry="5.9" fill="url(#nb)" opacity="1.0"/><ellipse cx="387.7" cy="1565.1" rx="7.3" ry="5.5" fill="url(#nd)" opacity="0.6891148470963309"/><ellipse cx="182.4" cy="1577.5" rx="6.4" ry="4.6" fill="url(#nd)" opacity="0.7256539658107828" transform="rotate(60 182.4 1577.5)"/><ellipse cx="161.8" cy="1582.5" rx="6.4" ry="4.6" fill="url(#nd)" opacity="0.7881957676350595" transform="rotate(20 161.8 1582.5)"/><ellipse cx="261.2" cy="1577" rx="7.7" ry="4" fill="url(#nd)" opacity="0.6908543174165978"/><ellipse cx="325" cy="1580.1" rx="4.6" ry="6.4" fill="url(#nd)" opacity="0.8049170649457988"/><ellipse cx="196.1" cy="1586.2" rx="7" ry="5.5" fill="url(#nd)" opacity="0.8684932688461894" transform="rotate(-60 196.1 1586.2)"/><ellipse cx="240.1" cy="1589.8" rx="5.5" ry="9.5" fill="url(#nd)" opacity="0.7765414630540459"/><ellipse cx="166.8" cy="1592.6" rx="7" ry="4" fill="url(#nd)" opacity="0.7965838350270986"/><ellipse cx="203.4" cy="1592.6" rx="6.4" ry="5.5" fill="url(#nd)" opacity="0.707064354033633" transform="rotate(60 203.4 1592.6)"/><ellipse cx="401.5" cy="1588.9" rx="4.6" ry="3.3" fill="url(#nd)" opacity="0.8586466440310734" transform="rotate(20 401.5 1588.9)"/><ellipse cx="134.3" cy="1600.8" rx="6.4" ry="5.1" fill="url(#nd)" opacity="0.8789664629389213" transform="rotate(-60 134.3 1600.8)"/><ellipse cx="150.8" cy="1604.5" rx="3.3" ry="2.2" fill="url(#nb)" opacity="1.0"/><ellipse cx="158.9" cy="1601.4" rx="2.2" ry="4" fill="url(#nb)" opacity="1.0"/><ellipse cx="208" cy="1600.8" rx="8.3" ry="5.9" fill="url(#nd)" opacity="0.8278590802795903"/><ellipse cx="256.1" cy="1595.9" rx="5.5" ry="6.4" fill="url(#nd)" opacity="0.7803928495535823" transform="rotate(-35 256.1 1595.9)"/><ellipse cx="344.6" cy="1599.9" rx="5.9" ry="7.3" fill="url(#nd)" opacity="0.6804344844820626"/><ellipse cx="370.3" cy="1594.4" rx="2.8" ry="2.2" fill="url(#nb)" opacity="1.0"/><ellipse cx="378.6" cy="1600.8" rx="6.4" ry="5.9" fill="url(#nd)" opacity="0.8251734859346764"/><ellipse cx="178.7" cy="1613.7" rx="6.4" ry="7" fill="url(#nd)" opacity="0.7392386816758334"/><ellipse cx="215.4" cy="1606.9" rx="6.4" ry="6.4" fill="url(#nd)" opacity="0.8135283614240687"/><ellipse cx="224.5" cy="1603.2" rx="5.1" ry="5.5" fill="url(#nd)" opacity="0.716804587665367"/><ellipse cx="230" cy="1612.7" rx="5.9" ry="5.1" fill="url(#nd)" opacity="0.912857353943523"/><ellipse cx="282.3" cy="1611.3" rx="3.7" ry="5.9" fill="url(#nd)" opacity="0.9052517668036363" transform="rotate(-60 282.3 1611.3)"/><ellipse cx="297.5" cy="1610.9" rx="5.1" ry="7.7" fill="url(#nd)" opacity="0.7231832328664756" transform="rotate(-20 297.5 1610.9)"/><ellipse cx="331.8" cy="1607.6" rx="5.5" ry="3.3" fill="url(#nb)" opacity="1.0"/><ellipse cx="364.8" cy="1608.2" rx="4" ry="1.8" fill="url(#nb)" opacity="1.0"/><ellipse cx="221.2" cy="1623.7" rx="5.1" ry="6.4" fill="url(#nd)" opacity="0.715036159538782" transform="rotate(-20 221.2 1623.7)"/><ellipse cx="242.5" cy="1625.6" rx="5.5" ry="5.9" fill="url(#nd)" opacity="0.7099070475254112"/><ellipse cx="263" cy="1626.5" rx="4.6" ry="6.4" fill="url(#nd)" opacity="0.8434394263003615" transform="rotate(20 263 1626.5)"/><ellipse cx="307.1" cy="1621.9" rx="5.5" ry="5.5" fill="url(#nd)" opacity="0.8383646279020779"/><ellipse cx="398.7" cy="1620.4" rx="6.4" ry="4" fill="url(#nd)" opacity="0.7942418973244838"/><ellipse cx="145.7" cy="1634.7" rx="6.4" ry="5.5" fill="url(#nd)" opacity="0.8784739060389761"/><ellipse cx="192.4" cy="1632.9" rx="6.4" ry="5.1" fill="url(#nd)" opacity="0.7004799116615185"/><ellipse cx="210.8" cy="1630.7" rx="3.7" ry="5.9" fill="url(#nd)" opacity="0.8057010678179071"/><ellipse cx="333.6" cy="1631.1" rx="4.6" ry="7" fill="url(#nd)" opacity="0.8237865895952328" transform="rotate(35 333.6 1631.1)"/><ellipse cx="308.9" cy="1635.7" rx="4" ry="5.5" fill="url(#nd)" opacity="0.8777232889735993" transform="rotate(-60 308.9 1635.7)"/></g>
<g filter="url(#eb4)"><path d="M282.6 1356.7h0M274.8 1348.6h0M297.2 1369.6h0M356.9 1372.5h0M361.2 1364.5h0M355.6 1358.4h0M372.1 1363.5h0M358.5 1368.8h0M184.4 1354.7h0M184.4 1371.6h0M196.2 1353.2h0M179.3 1361.1h0M174.8 1365.4h0M181.7 1380.6h0M189.7 1367.5h0M170.6 1378.3h0M188.8 1365.6h0M161.6 1394.8h0M216.8 1394.2h0M274.6 1389h0M276.2 1389.9h0M275.9 1393.7h0M334.5 1377.2h0M380.4 1395.5h0M378.1 1374.1h0M372.3 1392h0M379.2 1373.6h0M374.4 1379.9h0M423.8 1398.1h0M409.3 1409h0M403.5 1394.6h0M420.6 1402.4h0M240.2 1416.4h0M341.4 1403.5h0M359.1 1416.7h0M352.6 1417.8h0M357.9 1415.5h0M170.6 1407h0M161.2 1408.8h0M164.7 1408.9h0M169.3 1410.7h0M332.7 1437.7h0M334.4 1436.4h0M328.9 1414.9h0M338.9 1431.6h0M353.1 1415.7h0M356.2 1414.3h0M368.5 1428.4h0M366.4 1416.4h0M354.6 1434.4h0M392.8 1414.8h0M395.8 1434.3h0M391.3 1414.5h0M387.7 1435.9h0M394.4 1422.1h0M385.3 1437h0M222.9 1444h0M220.8 1443h0M210.9 1450.1h0M208.8 1449.7h0M221.2 1447.6h0M220.5 1450.1h0M342.9 1422h0M355.6 1432.7h0M376.1 1428.6h0M227.2 1448.6h0M238.6 1457.3h0M240.8 1455.6h0M235.4 1446.4h0M283.2 1455.6h0M283.3 1445.8h0M182.5 1451.8h0M181.9 1450h0M187.6 1454.2h0M203 1465.7h0M199 1446.9h0M326.5 1463.1h0M318.4 1471.3h0M412.5 1463.1h0M263.1 1485.2h0M269.5 1466.1h0M359.2 1503.8h0M362.4 1498.4h0M362.7 1502.3h0M380 1510.8h0M380.2 1511.4h0M381.2 1507.9h0M367.9 1505.4h0M374 1509.4h0M386.6 1515.4h0M389.3 1521.3h0M389.4 1515.3h0M385.7 1521.3h0M206.5 1490.5h0M200.7 1497h0M231.6 1518.7h0M221.3 1511.7h0M263.2 1512.1h0M251 1505.6h0M273.7 1500.8h0M272.1 1505.1h0M287.5 1496.9h0M178.9 1516.4h0M170.5 1512.8h0M152 1519.6h0M167 1510.2h0M162.9 1509.9h0M202.3 1521.6h0M222.7 1520.9h0M206.8 1530.2h0M213 1529.8h0M249.9 1522h0M337.5 1511.3h0M341.5 1518.8h0M341.3 1515.4h0M323.2 1518.5h0M326.4 1511.2h0M333 1509.4h0M135 1543.3h0M138.6 1522.4h0M124.8 1531.7h0M274.1 1535.1h0M277.1 1543.5h0M372 1542h0M355.8 1541.4h0M360.6 1556.9h0M132.2 1553.7h0M149.3 1554.7h0M177.9 1546.2h0M171.7 1548.8h0M165.6 1553.5h0M164.9 1553.6h0M180.9 1556.5h0M198.5 1546h0M201 1548.7h0M206.2 1559h0M357 1565.9h0M353.9 1551.9h0M420.5 1548.9h0M418 1561.2h0M211.3 1579.6h0M210.2 1581.6h0M250 1572.8h0M249.4 1574.2h0M237.1 1583.2h0M242.5 1581.1h0M243.7 1580.1h0M248.5 1567.3h0M381 1562h0M385.4 1558h0M380 1572.5h0M375.6 1571.2h0M393.1 1562.2h0M385.3 1558.3h0M390.5 1556.9h0M171.9 1579.8h0M172.9 1581.9h0M175 1584.7h0M173.5 1582.7h0M172.6 1586.5h0M160.1 1574.3h0M253.4 1579h0M261.1 1588.9h0M335.6 1580.3h0M324.8 1590.5h0M334.4 1580.9h0M330.9 1587.2h0M206.8 1590.5h0M234.8 1604.4h0M245.5 1603.5h0M249.7 1597.3h0M234.3 1577.2h0M229.3 1584.4h0M171.9 1582.3h0M397.4 1581.5h0M391.5 1582.2h0M130.6 1609.7h0M143.2 1610h0M149.1 1606.8h0M151.6 1604.8h0M157.5 1610.7h0M154.7 1611.8h0M218 1602.8h0M247.9 1599.3h0M353.8 1596h0M376.6 1596.1h0M369.9 1599.3h0M384.9 1609.4h0M379.6 1612.5h0M368.5 1602.8h0M379.2 1611.6h0M178.3 1624.2h0M186.9 1612.6h0M192.4 1616.1h0M212.3 1611.8h0M208.4 1605.7h0M208.2 1600.1h0M205.5 1609.6h0M280.2 1619.3h0M273.2 1608.7h0M289.4 1610.3h0M288.6 1618.2h0M287.4 1602.7h0M273.8 1603h0M290.1 1604.2h0M309.4 1607.4h0M295.5 1600.3h0M302 1597.7h0M359.3 1603.1h0M360.5 1603.9h0M231.9 1619.9h0M246.9 1617.7h0M252.2 1619.8h0M274.1 1621.2h0M261.5 1632.1h0M150.7 1642.5h0M150.7 1640.5h0M138.6 1625.8h0M339.7 1625.5h0M314.1 1632.9h0M309.9 1645h0M317.7 1637.3h0" stroke="#45f022" stroke-width="1" stroke-linecap="round" stroke-opacity="0.8" fill="none"/><path d="M283 1364.6h0M268.3 1349.4h0M298.1 1367.5h0M311 1357h0M306.7 1374h0M359.3 1370.2h0M170.7 1366.6h0M179.4 1363.7h0M373.1 1381.9h0M388.4 1386h0M410.1 1386.8h0M328.9 1390.9h0M423.9 1395.9h0M420.3 1393.3h0M178.5 1402.4h0M344.5 1400.1h0M160.7 1411.8h0M323.5 1429.2h0M341.5 1427.4h0M329.5 1434.2h0M359.6 1413.3h0M396.5 1432.4h0M394.4 1418.1h0M397.5 1434h0M222.4 1442.7h0M355.1 1433h0M390.4 1434.6h0M388.1 1431.5h0M239.9 1443.4h0M232.7 1456.4h0M219.8 1456.8h0M277.3 1442.4h0M177.4 1451.6h0M184.6 1457.2h0M260 1483.5h0M365 1497.3h0M372.8 1515.6h0M383.3 1502.7h0M384.7 1511.1h0M383.6 1509.5h0M383.2 1516h0M391.5 1521.1h0M164.4 1536.5h0M157.6 1518.6h0M174.7 1532.7h0M155.7 1521.3h0M259.7 1508.3h0M142.8 1524.4h0M278.6 1538.2h0M278.3 1539.8h0M166.3 1558.4h0M198.1 1547.9h0M420.6 1552h0M200.5 1576.6h0M246.2 1561.2h0M395.9 1566.6h0M374.4 1569.6h0M376.2 1570.9h0M172.7 1582.6h0M181 1586.8h0M257.3 1567.6h0M252.4 1572.9h0M274.2 1583.9h0M255.5 1581.5h0M258.2 1587.6h0M206.1 1586.6h0M203.5 1582.1h0M226.1 1586.2h0M233.1 1598.8h0M247.4 1581.1h0M166.4 1580.5h0M153 1609.8h0M219.3 1605h0M246.5 1587.5h0M376.9 1595.3h0M382.2 1608.1h0M212.4 1614.3h0M209.6 1608.4h0M275.7 1611h0M209.6 1619h0M145.2 1645.7h0M153.6 1638.6h0M139.9 1638.5h0M316.3 1637.4h0" stroke="#45f022" stroke-width="2" stroke-linecap="round" stroke-opacity="1.0" fill="none"/><path d="M262.5 1365.8h0M281.4 1360.6h0M268.9 1353.1h0M316.7 1364.1h0M357.4 1358h0M179.1 1359.6h0M189.2 1373.3h0M171.9 1375.6h0M163.3 1390.7h0M376 1390.8h0M407.5 1408.7h0M412 1413.5h0M330.5 1433.1h0M323 1430.2h0M320.7 1428.8h0M335 1432.7h0M335.3 1433.5h0M338.5 1419.5h0M386.7 1417.2h0M397.8 1421h0M215.2 1453.7h0M202.3 1444.6h0M203.6 1451h0M337.3 1441.7h0M218.5 1451.8h0M275.5 1441.8h0M395.3 1468.3h0M396.1 1472h0M275 1475.8h0M347.1 1501h0M352.8 1502.4h0M365.2 1497.4h0M350.4 1502.7h0M379 1499.6h0M383.2 1513.6h0M207.3 1510.9h0M228.5 1494.5h0M278.8 1495h0M202.4 1522.3h0M321.7 1516.8h0M340 1511.9h0M143.3 1526.6h0M141.5 1533.1h0M141.6 1536.1h0M370.6 1539.7h0M137.4 1547.6h0M181.8 1554.1h0M203.2 1564.5h0M234.7 1576.3h0M244.9 1557.9h0M394.3 1576.8h0M384.3 1554.7h0M182.3 1586.7h0M189.8 1572.4h0M255.8 1585.5h0M251.1 1571.2h0M321.5 1589.8h0M195.5 1581h0M185.3 1582.3h0M190.8 1578.3h0M141.6 1605h0M132.1 1609.8h0M126.4 1602.2h0M144 1609.3h0M154.2 1607h0M250.1 1584.8h0M332.4 1605h0M346.8 1590.3h0M367.7 1595.7h0M214.7 1597.2h0M356.1 1600.8h0M239.1 1630.2h0M254.3 1630.9h0M143.3 1643.7h0M155.2 1642.5h0M339.3 1627.3h0" stroke="#45f022" stroke-width="2" stroke-linecap="round" stroke-opacity="0.8" fill="none"/><path d="M274.6 1351h0M266.2 1353.3h0M264.2 1349.9h0M263.2 1355.1h0M268.1 1352.8h0M267 1353.5h0M298.1 1369.9h0M359.3 1363.4h0M190.9 1352.3h0M187 1371.2h0M200.3 1359.6h0M177.8 1358.9h0M179.2 1361.5h0M184.4 1354.6h0M191.5 1379.1h0M178.9 1360.9h0M172.4 1372.7h0M173.7 1370.3h0M185.5 1381.3h0M172.1 1363.9h0M161.3 1391.6h0M160.4 1394.6h0M158.3 1393.4h0M157.8 1393.3h0M155.4 1397.7h0M217.6 1388.7h0M220.6 1392.2h0M277.3 1390.3h0M276.6 1381.5h0M325.6 1388h0M336.6 1377.8h0M328.7 1386.3h0M382.8 1395.3h0M390.5 1383.9h0M398.5 1397.8h0M394.1 1395.5h0M392.8 1388.5h0M328.4 1389.7h0M415.9 1390.2h0M418.9 1396.9h0M422.7 1401.6h0M158.8 1414.7h0M136.9 1411.1h0M136.7 1412h0M246.1 1414h0M242.8 1405.9h0M176.4 1412.3h0M173.5 1408.9h0M154.3 1418.7h0M158.8 1428.4h0M267.4 1432.3h0M268.1 1419.3h0M292.8 1424.4h0M284.5 1414.5h0M287 1433.7h0M319.1 1428.9h0M340.9 1429.7h0M323.8 1419.5h0M340 1427h0M336.7 1419.3h0M360.6 1408.5h0M368.2 1423.6h0M370.4 1413.4h0M364.4 1409.8h0M388 1414.5h0M395.9 1422.7h0M393.2 1416.9h0M389.3 1416.1h0M201.7 1434.8h0M217.7 1452.5h0M339.1 1439.5h0M335 1433.3h0M333.3 1429.6h0M353.1 1429.5h0M371.1 1429.4h0M383.9 1449.8h0M387.7 1443.4h0M387.4 1429.5h0M236.4 1457.8h0M231.6 1458.5h0M228.3 1455.9h0M240.7 1443.2h0M218.6 1445.8h0M229.2 1445.3h0M174.4 1448.4h0M180.8 1471.2h0M183.6 1451.5h0M173.2 1450.2h0M185.3 1460.2h0M185.7 1462.9h0M202.6 1450.2h0M184.3 1449.8h0M200.4 1454.2h0M195.1 1447.1h0M185.7 1463.6h0M183.2 1451.5h0M317.7 1465.8h0M418.7 1474.2h0M408.5 1477.5h0M407.5 1478h0M266.3 1485.3h0M265.3 1487.2h0M348.3 1501.3h0M350.2 1498.4h0M352.3 1487.7h0M348.5 1502.5h0M379.7 1498h0M368.8 1507.6h0M383.1 1499.9h0M378.2 1511.2h0M379.3 1526.1h0M255.9 1512.7h0M264.8 1509h0M268.7 1501.6h0M281.4 1495.2h0M273 1503.6h0M273.7 1517.5h0M187.8 1509.9h0M185.9 1508.8h0M177.9 1519.7h0M161.4 1513.5h0M166.8 1511.8h0M174.2 1528.6h0M174.9 1510.5h0M178.8 1528.7h0M222 1516.8h0M214 1528.1h0M252.1 1528.5h0M320.6 1520.3h0M327.4 1512.8h0M335.8 1507.6h0M341.2 1522.5h0M328.6 1510.1h0M145.9 1533.1h0M131.8 1542.7h0M144.2 1535.8h0M143.6 1531.1h0M278.9 1539.4h0M281.9 1544.5h0M292 1542.3h0M287 1523.3h0M360.7 1551.4h0M362.5 1554.6h0M357.6 1554.5h0M138.7 1548.9h0M134.9 1545.3h0M143.1 1544h0M149 1547.4h0M142.4 1542.6h0M181.3 1549.6h0M169.6 1547.5h0M173 1547h0M207 1561.8h0M193.8 1567.3h0M183.6 1563.6h0M340.4 1556.3h0M345.4 1563.4h0M404.7 1548.2h0M202.7 1576.8h0M241.5 1583.7h0M244.9 1578.9h0M242 1579.6h0M251.9 1572.6h0M393.5 1559.3h0M174.4 1585.9h0M175 1577.6h0M172.5 1579.4h0M174 1582.3h0M274.8 1569.8h0M256.2 1583.1h0M258.6 1587.3h0M271.3 1582.1h0M326.1 1587.1h0M325 1590.3h0M337 1581.6h0M326.8 1590.2h0M326.5 1569.7h0M200.9 1578h0M208.5 1591.1h0M192.4 1595.7h0M228 1582.2h0M250 1580.6h0M405.8 1590.8h0M136.6 1608.7h0M127.9 1605.6h0M135.4 1606.6h0M144.3 1607.3h0M151.3 1604.1h0M143.9 1603.4h0M142.7 1597.9h0M160.1 1612.3h0M153.7 1609.2h0M153.5 1610.7h0M157 1613h0M154.1 1607.8h0M151.9 1600.9h0M200.2 1593h0M209.1 1615.2h0M243.8 1590.3h0M257 1584.4h0M246.6 1595.7h0M343 1590.9h0M339.7 1588.8h0M377.7 1590.5h0M383 1611.2h0M364.8 1601.2h0M379.2 1612.1h0M375.6 1614.9h0M169.3 1614.6h0M188 1625h0M180.3 1609.1h0M172.1 1622.6h0M206.8 1607h0M212.5 1614.8h0M224 1605.9h0M216.3 1607.4h0M222.5 1596.2h0M274.9 1602h0M309.4 1610.6h0M286.2 1606.1h0M305.7 1619.1h0M363.5 1601.7h0M371.5 1602h0M364.9 1599.3h0M362.1 1598.3h0M355.9 1607.5h0M359.5 1599.1h0M370.8 1600.6h0M232 1625h0M232.2 1625h0M146.5 1643.8h0M157.3 1635.3h0M150.5 1645.4h0M142.1 1641.7h0M147.8 1642.7h0M156 1624.6h0M327.2 1637.5h0M342.6 1626.8h0M318.4 1633h0M297.1 1631.7h0M314.6 1641.9h0" stroke="#45f022" stroke-width="1" stroke-linecap="round" stroke-opacity="1.0" fill="none"/><path d="M273.3 1350.1h0M301.8 1371.2h0M298.9 1351.7h0M363.1 1369.4h0M359.5 1365.1h0M360.4 1362.1h0M360.7 1374.4h0M362.2 1360.5h0M371.5 1366.8h0M196.4 1372h0M184.5 1356h0M197.8 1370h0M191.8 1353.4h0M183.4 1371.6h0M193.6 1375.6h0M179.7 1360.1h0M182.2 1365.6h0M181.4 1364.6h0M160.3 1381.2h0M165.3 1382.6h0M228 1388.8h0M275.3 1391.4h0M372.1 1388.8h0M373.3 1381.8h0M331.1 1391.3h0M320.1 1401.2h0M329.9 1398.3h0M317.6 1396.3h0M328 1391.2h0M418.3 1396h0M419.8 1397.8h0M420.6 1410.8h0M413 1409.8h0M424.7 1403.4h0M157.3 1420.6h0M179.4 1401.6h0M352.1 1414.3h0M159.9 1428.6h0M288 1416h0M342.9 1421.7h0M340.6 1426.4h0M330.2 1435.1h0M373 1425.5h0M350.3 1423.7h0M356.8 1412.1h0M353.2 1413.9h0M348.9 1427.3h0M371.3 1419h0M362.2 1411.4h0M335.8 1439.2h0M350.7 1435.3h0M335.9 1441.3h0M354.6 1429.1h0M385.3 1430h0M387.1 1443.5h0M388.8 1438.3h0M389.5 1437.8h0M388.5 1437h0M241 1456.1h0M241.3 1441.3h0M226.9 1449.2h0M223.6 1450.6h0M243.2 1444.6h0M242.4 1450h0M216.9 1446h0M235.8 1451.7h0M284.7 1455.3h0M265.3 1447.4h0M182 1448.4h0M177.6 1467.1h0M188.2 1459.8h0M187 1459.9h0M166.2 1458.9h0M412.2 1463.6h0M402.1 1478h0M406.5 1481.9h0M404.4 1480.6h0M413 1479.9h0M262 1485.6h0M372.5 1516.8h0M381.8 1509.1h0M378.4 1515.5h0M383.7 1514.5h0M377.3 1512.1h0M389.5 1510.8h0M216 1507.9h0M233.8 1521.1h0M250 1502.2h0M292.2 1502.7h0M272.4 1504.3h0M276.9 1497.9h0M184.5 1513.3h0M190 1509.9h0M169.4 1511.1h0M178 1526.5h0M157 1516.3h0M203.4 1514.3h0M249 1512.1h0M257.3 1512h0M326 1512.9h0M143.5 1526.8h0M138 1540.5h0M290.9 1525.7h0M357.8 1554.1h0M363.5 1555.7h0M352.1 1539.5h0M139.4 1563.4h0M152.1 1548.6h0M149.3 1551.3h0M134.4 1556.2h0M167.8 1554.9h0M170.7 1543.8h0M164.4 1554h0M181.4 1546.1h0M361.8 1563h0M360.2 1553.7h0M400.4 1552.5h0M199.7 1572.9h0M198.6 1573.7h0M243.4 1578.9h0M250.5 1567.9h0M399.8 1567.6h0M392.8 1561.4h0M176.8 1583.4h0M170.4 1582.8h0M156.7 1573.6h0M151.2 1585.8h0M257.4 1583.2h0M256.8 1568.3h0M318.6 1589.3h0M333.9 1571.3h0M186.7 1588.9h0M185.7 1584.6h0M183.7 1590.5h0M247.8 1595.9h0M228.1 1594.8h0M229 1579.1h0M251.1 1587.4h0M230 1583h0M226.4 1584.5h0M397.3 1578.7h0M398.7 1580.6h0M122.9 1603.9h0M140.3 1605.6h0M125.3 1598.4h0M124.1 1601.2h0M123.7 1592.7h0M155.3 1612.3h0M159.9 1612h0M219.7 1599.2h0M262.6 1587.2h0M251.1 1584.6h0M338.3 1590.1h0M376.4 1600.1h0M379 1594.6h0M377.4 1599.4h0M374.4 1598.4h0M380.4 1595.7h0M374.7 1610.6h0M369.3 1599.1h0M368.7 1603h0M371.5 1611.1h0M369.2 1599.3h0M366.9 1607.6h0M384.8 1609.7h0M187.9 1609.1h0M187.6 1620.9h0M189.2 1624.3h0M208.7 1610.6h0M206.9 1607.9h0M283.7 1619.4h0M289.4 1598.5h0M272.4 1612.2h0M274.4 1601.5h0M291.1 1616.9h0M291.2 1605h0M373.1 1607.5h0M366.2 1615.7h0M366.2 1598.4h0M210.7 1625.4h0M216 1631.3h0M222.8 1630.9h0M246.4 1616.9h0M234.1 1620.2h0M236.9 1628.5h0M255.2 1627.2h0M271.3 1620.6h0M257.5 1630.6h0M249.9 1626.4h0M154.1 1640.1h0M140.5 1629h0M154.4 1629.7h0M310.5 1626.8h0M312.1 1626.9h0M313.1 1636h0M276.2 1388.3h0M128.2 1503.5h0M191.1 1448.7h0M378.5 1548.6h0M304.8 1389.6h0M185.8 1426.7h0M280.9 1386.7h0M267.8 1478h0M272.4 1397.7h0M356.8 1393.1h0M263.9 1631.8h0M384.7 1408.9h0M242 1569h0M286.4 1560h0M324.1 1495.6h0M248 1508.8h0M145.6 1599.3h0M365.8 1463.1h0M156.3 1562.4h0M234.4 1514.1h0M390.6 1441.7h0M147 1558.6h0M280.3 1470.2h0M219.7 1473h0M224.9 1361.3h0M276.6 1388h0M146.3 1634.8h0M176 1470.6h0M387.3 1604.7h0M298.6 1524.2h0M337.7 1563.3h0M271.2 1381.4h0M253.3 1465.8h0M249.1 1598.6h0M405.9 1492.9h0M366.5 1375.2h0M185.4 1626.9h0M131.3 1519.5h0M229.7 1425.7h0M128.4 1627.6h0M265.5 1459.9h0M345 1504h0M144.1 1598.6h0M136.3 1629.8h0M176.3 1549.9h0M245.9 1581.2h0M273 1491.5h0M241.4 1575.1h0M181.9 1590.6h0M286.1 1598.5h0M151.7 1415.4h0M311.8 1508.9h0M354.8 1547.2h0M141.2 1378.7h0M364.9 1620.8h0M234.2 1565.1h0M272.8 1493.3h0" stroke="#45f022" stroke-width="1" stroke-linecap="round" stroke-opacity="0.6" fill="none"/><path d="M375.3 1377h0M381.3 1392h0M326.5 1389.7h0M424.3 1396.9h0M419.4 1395.7h0M180.1 1417.8h0M181.3 1400.5h0M241 1416.7h0M246 1409.7h0M175.5 1418.2h0M156.4 1413.8h0M281.9 1415.7h0M332.6 1433.7h0M339.7 1427.6h0M342.3 1428.8h0M368.9 1418.5h0M334.4 1441.6h0M350.1 1441.9h0M268.1 1458.7h0M174.1 1448.9h0M183.7 1451.5h0M336 1463.3h0M328 1460.4h0M401.4 1478.9h0M349.6 1493.6h0M381.1 1505.6h0M367.1 1512.9h0M382.9 1509.1h0M377.7 1504.9h0M223.9 1518.2h0M262.9 1512.6h0M276.8 1496.2h0M286.7 1497.1h0M281.3 1497.2h0M206.5 1526.7h0M252.5 1513.6h0M248.5 1520.8h0M337.5 1512.5h0M334.1 1509.1h0M344.5 1519.5h0M139.5 1525.2h0M134.9 1542.7h0M130.2 1538.5h0M362.4 1552.1h0M355.1 1535.9h0M374.8 1548.4h0M132.3 1555.9h0M153.6 1553.6h0M149.6 1553.2h0M134.4 1546.5h0M140.5 1544.7h0M207.4 1563h0M411.9 1545.1h0M196.5 1576h0M195.8 1571.8h0M254 1571.4h0M383.5 1554.8h0M379.9 1560.1h0M172 1572.1h0M270.9 1587.2h0M332.9 1578.6h0M228.3 1584.1h0M246.7 1602.7h0M161.5 1591.6h0M157.5 1591.3h0M163.4 1601.2h0M402.4 1579.4h0M123.3 1598.2h0M125.5 1594.1h0M141.1 1600.3h0M145.3 1598.2h0M152.3 1611.8h0M153.1 1605.7h0M263.5 1584.8h0M369.8 1600.7h0M382.5 1592.3h0M191.3 1619.7h0M213.6 1597.7h0M225.3 1593.6h0M286.8 1601h0M299.6 1622.1h0M261.5 1632.2h0M256.3 1619.8h0M254.7 1627.7h0M136.9 1636.2h0M319.4 1630.4h0M313.5 1629.1h0" stroke="#45f022" stroke-width="2" stroke-linecap="round" stroke-opacity="0.6" fill="none"/><path d="M232.7 1504.5h0M265.4 1411.7h0M376.6 1432.5h0M403.3 1474.7h0M366.4 1588.4h0M344.9 1591.9h0M218.9 1437.2h0M268.7 1486.8h0M341.1 1449.9h0M311.5 1592h0M388.2 1511.6h0M243.7 1530.8h0M210.2 1602.4h0M367.4 1460.2h0M237.8 1581.2h0M358.1 1443.5h0M330.7 1529.1h0M291.6 1402.3h0M315 1542.2h0M274.5 1550.4h0M369.9 1480.8h0M341.6 1494.1h0M364.5 1436.8h0M197.3 1404h0M257.3 1625.7h0M185.5 1407h0M200.3 1525.5h0M185.2 1561.5h0M192.4 1466.6h0M198.9 1393.3h0M328.5 1433.4h0M346.7 1541.7h0M308.3 1575h0M343.5 1544.3h0M169.9 1476.8h0M177.5 1399.7h0M258.2 1490.8h0M136.7 1635.5h0M174.6 1594.5h0M239.9 1364.4h0M193.3 1389h0M343.6 1404.5h0M387.3 1540.8h0M131.4 1387.6h0M216.3 1601.5h0M374.1 1573.5h0M319.3 1482.6h0M358.3 1420.7h0M160.6 1615.1h0M413.4 1453h0M153.5 1358.5h0M239.2 1446.7h0M305.3 1548.4h0M376 1464.7h0M189.4 1565.7h0M388.1 1628.2h0M132.8 1597.9h0M261.5 1509.1h0M375.9 1377.6h0M391.4 1529.9h0M348.1 1636.4h0M331.4 1499.3h0M133.5 1463.2h0M212.4 1581.7h0M169.4 1584.7h0M152.5 1464h0M191.2 1414.4h0M321 1499.6h0M137.3 1593.7h0M131.9 1621.7h0M287 1526.5h0M249.8 1452.8h0M305.7 1569.9h0M346.3 1474.6h0M345.3 1439.2h0M272 1624.1h0M378.3 1550.4h0M266.9 1602.8h0M202.6 1520.2h0M263.2 1360.2h0M137.8 1358.5h0M190.4 1513.6h0M252.7 1465h0" stroke="#45f022" stroke-width="1" stroke-linecap="round" stroke-opacity="0.4" fill="none"/></g>
</g>
<rect x="196.7" y="1455" width="86.1" height="86.2" fill="none" stroke="#fff" stroke-width="1.7"/>
<line x1="362.2" y1="1632" x2="406" y2="1632" stroke="#fff" stroke-width="2.6" />
<g clip-path="url(#ce2)">
<rect x="419" y="1062" width="287" height="287" fill="#010201"/>
<g filter="url(#ebh)"><ellipse cx="524.2" cy="1070.2" rx="36" ry="34.2" fill="#08260a" opacity="0.36"/><ellipse cx="571.9" cy="1075.7" rx="32.4" ry="32.4" fill="#08260a" opacity="0.36"/><ellipse cx="455.8" cy="1061.2" rx="37.8" ry="18" fill="#08260a" opacity="0.36"/><ellipse cx="650.6" cy="1083.2" rx="36" ry="34.2" fill="#08260a" opacity="0.36"/><ellipse cx="532.9" cy="1156.8" rx="46.8" ry="28.8" fill="#08260a" opacity="0.36"/><ellipse cx="642.2" cy="1158.7" rx="25.2" ry="39.6" fill="#08260a" opacity="0.36"/><ellipse cx="607.7" cy="1209" rx="27" ry="32.4" fill="#08260a" opacity="0.36"/><ellipse cx="687.3" cy="1243.9" rx="30.6" ry="28.8" fill="#08260a" opacity="0.36"/><ellipse cx="499.9" cy="1243.4" rx="39.6" ry="48.6" fill="#08260a" opacity="0.36"/><ellipse cx="454.8" cy="1261.1" rx="36" ry="39.6" fill="#08260a" opacity="0.36"/><ellipse cx="586" cy="1318.6" rx="41.4" ry="28.8" fill="#08260a" opacity="0.36"/></g>
<g filter="url(#eb2)"><ellipse cx="534" cy="1078" rx="20" ry="19" fill="url(#nd)" opacity="0.9"/><ellipse cx="574" cy="1072" rx="18" ry="18" fill="url(#nd)" opacity="0.9"/><ellipse cx="463" cy="1069" rx="21" ry="10" fill="url(#nd)" opacity="0.9"/><ellipse cx="656" cy="1078" rx="20" ry="19" fill="url(#nd)" opacity="0.9"/><ellipse cx="540" cy="1152" rx="26" ry="16" fill="url(#nd)" opacity="0.9" transform="rotate(-25 540 1152)"/><ellipse cx="639" cy="1166" rx="14" ry="22" fill="url(#nd)" opacity="0.9" transform="rotate(-8 639 1166)"/><ellipse cx="607" cy="1210" rx="15" ry="18" fill="url(#nb)" opacity="1.0" transform="rotate(-10 607 1210)"/><ellipse cx="689" cy="1234" rx="17" ry="16" fill="url(#nb)" opacity="1.0"/><ellipse cx="508" cy="1253" rx="22" ry="27" fill="url(#nd)" opacity="0.9" transform="rotate(-10 508 1253)"/><ellipse cx="446" cy="1263" rx="20" ry="22" fill="url(#nd)" opacity="0.9" transform="rotate(10 446 1263)"/><ellipse cx="592" cy="1322" rx="23" ry="16" fill="url(#nb)" opacity="1.0" transform="rotate(10 592 1322)"/></g>
<g filter="url(#eb3)"><path d="M536.1 1234.2h0M536 1259.9h0M537 1252.1h0M521 1222h0M498 1284.9h0M509.6 1214.5h0M524.2 1225.6h0M499.1 1217.8h0M496.1 1220.4h0M484.4 1275.8h0M477.3 1256.1h0M580.3 1157h0M584.1 1159.9h0M506 1163.6h0M551.1 1179.3h0M578.3 1303.8h0M608.7 1314.3h0M585.7 1345h0M582.7 1309.7h0M578.6 1333.5h0M630.7 1289.9h0M607.6 1291.7h0M565.5 1300.4h0M613.3 1312.9h0M590.3 1351.8h0M550.3 1340.1h0M558.3 1296.9h0M548.8 1334h0M542.4 1317.3h0M613.1 1334.5h0M618.9 1325.3h0M622.4 1329.7h0M624.2 1326.3h0" stroke="#49f52a" stroke-width="3" stroke-linecap="round" stroke-opacity="1.0" fill="none"/><path d="M526.7 1272.4h0M521 1281.3h0M496.2 1282.8h0M526.7 1226.1h0M530.7 1231h0M473.3 1258.7h0M593.1 1323.4h0M625.5 1329.1h0M554.6 1331.1h0M584.7 1338h0M609.4 1296.7h0M549.8 1277.7h0M617.5 1326.3h0M566 1351.3h0M601.3 1304.9h0M557.5 1288.6h0M556.5 1316h0M551.8 1315.1h0M618.5 1317.4h0M611.2 1290.9h0M608.9 1324h0M620.1 1308.1h0M622.8 1313.7h0M628.5 1323.5h0M621.4 1321.9h0" stroke="#49f52a" stroke-width="3" stroke-linecap="round" stroke-opacity="0.8" fill="none"/><path d="M521.7 1222.2h0M489.7 1218h0M486.4 1222.9h0M476.4 1235.3h0M478.6 1237.3h0M483.1 1226.8h0M646 1333.9h0M623.2 1341.5h0M564.5 1326.3h0M607 1317.4h0M601.1 1303.8h0M613.7 1346.7h0M573.5 1315.3h0M557.4 1331.3h0M620.7 1293.2h0M576.2 1333h0M551.7 1325.5h0M578.2 1340.3h0M624.2 1320h0M623.7 1345.8h0M574.3 1302.4h0M573.9 1291.4h0M630.2 1296.3h0M585.6 1368.3h0M657.3 1318.9h0M605.6 1303h0M613.6 1342.1h0M587.7 1324h0M534.4 1305.8h0M540.6 1305h0M566.6 1321.4h0M551.7 1323h0M567.3 1332.3h0M618.5 1321.4h0M665.1 1162.9h0M664.7 1163.5h0M648.6 1165.9h0M651 1157h0M663.5 1136.2h0M678.2 1104.2h0M675.4 1077.5h0M691.6 1106.8h0M418.1 1086.1h0M422.6 1134.8h0M457.4 1105h0" stroke="#49f52a" stroke-width="2" stroke-linecap="round" stroke-opacity="1.0" fill="none"/><path d="M525.1 1224.8h0M505.3 1218.1h0M518.1 1286h0M522.1 1218.9h0M523.6 1278.7h0M506 1155.2h0M550.2 1158.9h0M428.8 1285h0M435.4 1291.2h0M463.6 1232h0M422.2 1342.4h0M623.6 1233.8h0M548.2 1303.8h0M695.1 1328.3h0M698.9 1342.4h0" stroke="#49f52a" stroke-width="4" stroke-linecap="round" stroke-opacity="1.0" fill="none"/><path d="M512.4 1288.1h0M503 1288h0M492.5 1283h0M537.8 1247.8h0M522.9 1223.9h0M498.4 1222h0M533.2 1139.7h0M509.7 1153.3h0M430.7 1243.6h0M466.4 1240.8h0M624.2 1239.9h0M628.3 1196.6h0M574.7 1339.6h0M688.5 1330.2h0" stroke="#49f52a" stroke-width="5" stroke-linecap="round" stroke-opacity="1.0" fill="none"/><path d="M507.9 1215.4h0M512.5 1214.2h0M563 1316.3h0M555.9 1345.3h0M620 1323.6h0" stroke="#49f52a" stroke-width="4" stroke-linecap="round" stroke-opacity="0.8" fill="none"/><path d="M533.4 1260.5h0M493.4 1282h0M513.4 1217.7h0M507.6 1215.8h0M533.7 1232.6h0" stroke="#49f52a" stroke-width="5" stroke-linecap="round" stroke-opacity="0.8" fill="none"/><path d="M479.6 1266.3h0M610 1325.7h0M634.6 1298.1h0M597.8 1382.8h0M606.2 1271.4h0M582.3 1303.4h0M578.3 1320.8h0M592.8 1288.2h0M568.8 1314h0M572.7 1305.2h0M537.9 1326h0M566.7 1275.1h0M553 1314.8h0M619.5 1341.1h0M590 1297.1h0M567.4 1296.9h0M604.1 1290.5h0M632.4 1332h0M577.8 1297.2h0M588.6 1306h0M542.2 1291h0M500.4 1292h0M612.9 1315.9h0M608.6 1292.2h0M654.7 1328.7h0M577.1 1327.8h0M551 1301.9h0M553 1326.4h0M547.4 1324.9h0M569.9 1310.1h0M620.1 1329.1h0M605.5 1320.5h0M613.6 1326.8h0M613.9 1329.6h0M627.2 1324.1h0M615.1 1320.1h0M623.3 1316.7h0M614.2 1315.3h0M622 1329.6h0M663.7 1163.6h0M683.2 1092.8h0M683 1095.3h0M688.6 1081.2h0M679 1086.4h0M469.8 1107.6h0M458.7 1126.2h0M439.1 1130h0M454.8 1138h0M437.3 1109.6h0M438.7 1113.7h0" stroke="#49f52a" stroke-width="2" stroke-linecap="round" stroke-opacity="0.8" fill="none"/><path d="M534.2 1242.7h0M692.3 1331.2h0" stroke="#49f52a" stroke-width="8" stroke-linecap="round" stroke-opacity="1.0" fill="none"/><path d="M536.1 1254.9h0M531.4 1270h0M517.2 1146.7h0M555.8 1131.6h0M574.7 1142h0M619.8 1344.3h0" stroke="#49f52a" stroke-width="6" stroke-linecap="round" stroke-opacity="1.0" fill="none"/><path d="M505 1220.1h0M621.7 1237h0" stroke="#49f52a" stroke-width="7" stroke-linecap="round" stroke-opacity="1.0" fill="none"/><path d="M594.9 1324.8h0M582.1 1353.4h0M599.7 1312.5h0M617.4 1303.2h0M588.3 1327.9h0M609.1 1306.9h0M590.5 1276.5h0M586.1 1326.2h0M617 1328.1h0M647.9 1313.6h0M558.4 1282.5h0M589.7 1332.8h0M593.4 1316.5h0M625.8 1328.4h0M618.6 1303.4h0M623.1 1307.3h0M578.1 1301.4h0M584.1 1306.6h0M564.7 1327h0M633.4 1343.2h0M593.8 1363.9h0M582.3 1280.1h0M600 1310.4h0M609.2 1349.6h0M613.4 1338.6h0M559.8 1307.9h0M576.6 1314.9h0M554.5 1327.7h0M565.6 1306.6h0M547.6 1308.1h0M572.4 1311.4h0M618.3 1335.4h0M627.6 1326.2h0M612 1324.5h0M659.8 1150h0M657.8 1153.6h0M658 1155.3h0M679.6 1091.5h0M687.2 1079.4h0M681.8 1074.4h0M681.9 1069.9h0M433.6 1135.5h0M459.1 1159.3h0" stroke="#49f52a" stroke-width="2" stroke-linecap="round" stroke-opacity="0.6" fill="none"/><path d="M574.2 1310.9h0M619 1272.2h0M517.4 1321h0M578.8 1292.6h0M578.8 1316.8h0M626.2 1327.2h0M577.4 1322.7h0M620.5 1334.7h0M566.1 1318.9h0M656.1 1146.4h0M650.5 1174.9h0M663.9 1168.4h0M655.6 1152.3h0M659.7 1162.9h0M661.2 1173.5h0M662 1174.1h0M655.7 1161.8h0M664.9 1155h0M664 1155.3h0M660.3 1141.5h0M682.6 1079.3h0M679.2 1102.1h0M679.5 1080.7h0M442.5 1123h0M431.2 1121h0M451.1 1136.7h0M426.6 1095.3h0M460.9 1107.3h0M421.1 1114.4h0" stroke="#49f52a" stroke-width="1" stroke-linecap="round" stroke-opacity="0.6" fill="none"/><path d="M566 1285h0M546.4 1337.5h0M578 1323.3h0M589.8 1315.3h0M583 1341.6h0M588.8 1319.6h0M544.5 1313.8h0M560.5 1321.9h0M662.2 1183.6h0M659.5 1168.3h0M667.6 1162.8h0M648.8 1172.2h0M669.9 1089.9h0M685.9 1076.8h0M689.6 1085.7h0M452.2 1115.3h0M432.5 1093.8h0M444.2 1115.1h0M442.6 1100.6h0M420.5 1143.5h0M450.7 1145.1h0M439.8 1092.5h0" stroke="#49f52a" stroke-width="1" stroke-linecap="round" stroke-opacity="1.0" fill="none"/><path d="M578.4 1330.7h0M612.4 1303.4h0M604.4 1306.2h0M613.9 1283.2h0M594.4 1321.5h0M576.5 1279.5h0M561.5 1321.1h0M565.1 1344h0M511.8 1296.9h0M615 1328.4h0M545.9 1349.6h0M547.4 1316.6h0M635.4 1300.2h0M594.8 1297.5h0M660.7 1168.5h0M661 1150.2h0M655.2 1163.1h0M663.1 1155.4h0M659.6 1151.4h0M660.1 1163.1h0M677.8 1086.6h0M676.1 1079.6h0M674.1 1081h0M683.9 1072.1h0M682.8 1068.4h0M437.6 1113.2h0M432.1 1123h0M421.7 1110.8h0M460.2 1121.9h0M427.6 1129.9h0M425.9 1116.4h0" stroke="#49f52a" stroke-width="1" stroke-linecap="round" stroke-opacity="0.8" fill="none"/><path d="M544.8 1326.1h0M625.9 1343.7h0M629.8 1321.4h0M585.6 1321.6h0M590 1339.6h0M569.5 1304.4h0M558.1 1332.5h0M552.5 1336.3h0M556.4 1325.3h0M566.5 1324.8h0M555.8 1321.9h0M555.4 1309.1h0M547.8 1325.1h0M610.9 1313.3h0M620.1 1320.7h0M616.5 1316.7h0" stroke="#49f52a" stroke-width="3" stroke-linecap="round" stroke-opacity="0.6" fill="none"/><path d="M612.2 1333.1h0M614.2 1320.9h0" stroke="#49f52a" stroke-width="4" stroke-linecap="round" stroke-opacity="0.6" fill="none"/><path d="M631.2 1144h0M627.1 1066.9h0M430.8 1332.3h0M469.3 1277h0M669 1126.2h0M600.3 1074.9h0M528.7 1071.4h0M492.1 1264.2h0M471.8 1078.9h0M602.2 1143.2h0M644.3 1318.2h0M483.3 1280h0M669 1161.9h0M588.7 1189.9h0M551.7 1187.6h0M489.4 1134h0M517.4 1155.9h0M467.6 1125.6h0M506.3 1223.3h0M509.7 1208.3h0M463.9 1206.9h0M502.6 1208.2h0M435.5 1153.2h0M576 1131h0M445.6 1193.7h0M668.5 1064.9h0M661.8 1139h0M592.8 1316.6h0M427.6 1265.9h0M544.3 1335.8h0M558.5 1248.2h0M564.4 1140.4h0M538.3 1215.7h0M680.7 1128.1h0M574.5 1282.6h0M419.4 1185.4h0M439.3 1149.6h0M436 1064.4h0M592.6 1332h0M430.6 1214.7h0M455 1262.8h0M664.2 1247.5h0M552.7 1139.9h0M642 1320.4h0M575.2 1172.3h0M596.9 1126.7h0M438.3 1137.4h0M610 1166.7h0M433.4 1133.4h0M490.6 1163.5h0M424.7 1322.1h0M537.3 1251.6h0M460.5 1075.7h0M583.5 1094.9h0M687.4 1152h0M475.6 1205.2h0M462.5 1197h0M483.3 1241.9h0M571.7 1309.2h0M555.8 1196.4h0" stroke="#49f52a" stroke-width="1" stroke-linecap="round" stroke-opacity="0.5" fill="none"/></g>
</g>
<line x1="661.3" y1="1338" x2="691" y2="1338" stroke="#e6d820" stroke-width="2.4" />
<g clip-path="url(#ce4)">
<rect x="419" y="1354.7" width="287" height="287" fill="#010201"/>
<g filter="url(#ebh)"><ellipse cx="505" cy="1375" rx="36" ry="55.8" fill="#08260a" opacity="0.36"/><ellipse cx="639.1" cy="1438.7" rx="23.4" ry="37.8" fill="#08260a" opacity="0.36"/><ellipse cx="689.5" cy="1457.9" rx="23.4" ry="36" fill="#08260a" opacity="0.36"/><ellipse cx="462.6" cy="1517.9" rx="27" ry="45" fill="#08260a" opacity="0.36"/><ellipse cx="558.6" cy="1511.8" rx="36" ry="72" fill="#08260a" opacity="0.36"/><ellipse cx="634.9" cy="1517.9" rx="36" ry="19.8" fill="#08260a" opacity="0.36"/><ellipse cx="696.4" cy="1527.4" rx="25.2" ry="50.4" fill="#08260a" opacity="0.36"/><ellipse cx="475.7" cy="1570.9" rx="30.6" ry="43.2" fill="#08260a" opacity="0.36"/><ellipse cx="623.9" cy="1583.9" rx="43.2" ry="28.8" fill="#08260a" opacity="0.36"/><ellipse cx="692.9" cy="1362.4" rx="21.6" ry="10.8" fill="#08260a" opacity="0.36"/><ellipse cx="712.1" cy="1616.7" rx="12.6" ry="28.8" fill="#08260a" opacity="0.36"/></g>
<g filter="url(#eb2)"><ellipse cx="513.5" cy="1380.7" rx="20" ry="31" fill="url(#nd)" opacity="0.9" transform="rotate(15 513.5 1380.7)"/><ellipse cx="643" cy="1430.7" rx="13" ry="21" fill="url(#nb)" opacity="1.0" transform="rotate(-15 643 1430.7)"/><ellipse cx="689.6" cy="1453.5" rx="13" ry="20" fill="url(#nb)" opacity="1.0" transform="rotate(-10 689.6 1453.5)"/><ellipse cx="470.6" cy="1517.7" rx="15" ry="25" fill="url(#nd)" opacity="0.9" transform="rotate(10 470.6 1517.7)"/><ellipse cx="551.7" cy="1511.3" rx="20" ry="40" fill="url(#nd)" opacity="0.9" transform="rotate(15 551.7 1511.3)"/><ellipse cx="626" cy="1510.3" rx="20" ry="11" fill="url(#nb)" opacity="1.0" transform="rotate(-15 626 1510.3)"/><ellipse cx="699" cy="1537.4" rx="14" ry="28" fill="url(#nd)" opacity="0.9" transform="rotate(5 699 1537.4)"/><ellipse cx="470.6" cy="1578.4" rx="17" ry="24" fill="url(#nd)" opacity="0.9"/><ellipse cx="633.7" cy="1579.3" rx="24" ry="16" fill="url(#nd)" opacity="0.9" transform="rotate(-25 633.7 1579.3)"/><ellipse cx="686" cy="1355.7" rx="12" ry="6" fill="url(#nd)" opacity="0.9"/><ellipse cx="703" cy="1622.7" rx="7" ry="16" fill="url(#nd)" opacity="0.9"/></g>
<g filter="url(#eb3)"><path d="M486.5 1411h0M504.2 1422.2h0M591.8 1448.5h0M561 1468.4h0M587.1 1476.8h0" stroke="#49f52a" stroke-width="5" stroke-linecap="round" stroke-opacity="1.0" fill="none"/><path d="M497.7 1412.9h0M499.1 1414.3h0M571.3 1456.3h0M564.8 1462.8h0M590.5 1467.5h0M572.2 1474.9h0M582.5 1494.1h0M566.6 1531.4h0M560.1 1540.2h0" stroke="#49f52a" stroke-width="4" stroke-linecap="round" stroke-opacity="1.0" fill="none"/><path d="M506 1417.1h0" stroke="#49f52a" stroke-width="6" stroke-linecap="round" stroke-opacity="1.0" fill="none"/><path d="M586.2 1451.6h0M575 1451.6h0M591.8 1463.7h0M574.1 1484.2h0M557.3 1544.4h0M546.7 1559.4h0M589.7 1527.5h0M651.1 1520.8h0M625.5 1527h0M626.1 1522.7h0M630.4 1521.2h0M655.9 1514.1h0M642 1516.5h0M647.5 1514.6h0M616.3 1604.4h0M600.9 1607.1h0M604.2 1599h0M609.1 1602h0M609.6 1598.1h0M617.6 1598.7h0M608.7 1604.1h0M629.3 1601.4h0M664.5 1578h0M620.8 1598.6h0M663.3 1586.3h0M662 1573.4h0M653.9 1595.8h0M663.5 1579.5h0" stroke="#49f52a" stroke-width="3" stroke-linecap="round" stroke-opacity="1.0" fill="none"/><path d="M532.1 1570.9h0M584.5 1466h0M570.6 1463.2h0M586.9 1465.3h0M585.8 1468.5h0M643.8 1519.7h0M659.4 1523.9h0M643 1520.8h0M658.9 1516.3h0M627.8 1523.4h0M646.9 1520.1h0M627.8 1526.7h0M620.9 1521.4h0M626 1516.9h0M636.3 1522.5h0M609.1 1525.9h0M626 1523.3h0M637.6 1522.6h0M640 1525.5h0M641.7 1519.6h0M624.4 1527.6h0M623.2 1525.8h0M624.3 1523h0M652.5 1515.9h0M622.8 1529h0M639.6 1522.4h0M657.5 1514.6h0M630.4 1524.4h0M633.1 1524.6h0M653.4 1513.2h0M653.2 1515.9h0M645.4 1521.5h0M656.8 1514.5h0M644 1512.6h0M647.2 1517.3h0M620.1 1597.8h0M619.4 1596.5h0M615.6 1601.2h0M625.2 1589.2h0M594.9 1590.8h0M622.4 1598h0M604.6 1606.2h0M600.9 1597.9h0M599 1600.5h0M599.6 1596.6h0M643.1 1599.6h0M642.1 1600.3h0M641.3 1599.6h0M665.5 1577.8h0M656.4 1593.9h0M644.6 1600.9h0M664.6 1574.2h0M660.7 1567.7h0M663.9 1574.8h0M636.4 1601.2h0M673.1 1387.6h0M703.2 1374.6h0M672.5 1374.5h0M699.8 1382.7h0M682.3 1380.5h0M702.7 1380.9h0M685.9 1392.1h0M664.7 1375.6h0M707.8 1372.4h0M690.2 1377.7h0M690.2 1376.2h0M567.7 1381.1h0" stroke="#49f52a" stroke-width="2" stroke-linecap="round" stroke-opacity="1.0" fill="none"/><path d="M583.4 1473.2h0M595 1506.6h0M579.4 1470.1h0M580.7 1457.7h0M580.1 1466.3h0M581.3 1466.8h0M573.7 1475h0M587.4 1475.1h0M622.8 1520.8h0M630.6 1523.9h0M631.6 1521.6h0M613.7 1523.7h0M624.6 1524h0M594.2 1527.7h0M638.1 1524h0M640.5 1521.1h0M622.4 1521.2h0M624.6 1526.7h0M644 1522.9h0M638.8 1515.7h0M628.8 1527.3h0M631 1520.2h0M651 1518.9h0M645.6 1507.8h0M650.1 1516.8h0M639.8 1503.6h0M645.9 1515.3h0M588.9 1596.3h0M590.7 1600.2h0M617.7 1594.4h0M623 1598.1h0M604.5 1598.3h0M599.3 1605.1h0M620.1 1590.8h0M607.1 1599.5h0M590.1 1614.8h0M608.2 1606.5h0M612.6 1600.6h0M615.8 1600.7h0M618.4 1595.8h0M626.3 1592.7h0M594 1605.3h0M625.9 1592.8h0M600.8 1604h0M605 1596.4h0M619.1 1591.8h0M620.1 1596.2h0M573.2 1601.7h0M585.2 1600.1h0M578.9 1608.5h0M596.9 1591.1h0M616.4 1599.7h0M646.8 1364.4h0M694 1378h0M677.4 1373.7h0M662.9 1372.5h0M665.5 1373.3h0M680.8 1379.8h0M695.9 1377.1h0M688 1384.1h0M672.5 1382.8h0M686.4 1378.2h0M456.9 1607h0M486.7 1617.1h0M465.3 1624.3h0M456.2 1609.2h0M472.8 1620.7h0" stroke="#49f52a" stroke-width="2" stroke-linecap="round" stroke-opacity="0.6" fill="none"/><path d="M577.5 1454.8h0M575 1487.2h0M572.8 1464.4h0M583.9 1477.7h0M575 1471.3h0M577.9 1490.8h0M571.2 1448.5h0M580.4 1484.7h0M640.4 1517.2h0M622.1 1525.5h0M655.6 1518.5h0M639 1517h0M655.5 1519.7h0M649.5 1509h0M634 1511.9h0M611.7 1594.1h0M612.5 1603h0M590.7 1606.1h0M624.2 1586.3h0M678.9 1388.8h0M675.2 1375.6h0M717.8 1366.1h0M683.2 1370.1h0M637.1 1370.4h0M663.2 1388.2h0M685.9 1376.1h0M674.7 1376.5h0M672.2 1371.7h0M684.6 1383h0M685.6 1388h0M554.5 1372.6h0M568.9 1399.1h0M562.7 1393.4h0M565.6 1388h0M564.3 1389.8h0M565 1414.7h0M554.8 1394.4h0" stroke="#49f52a" stroke-width="1" stroke-linecap="round" stroke-opacity="0.6" fill="none"/><path d="M572.3 1466.3h0M569 1446.8h0M591.5 1476.1h0M597.8 1470.6h0M620.8 1521.3h0M669.5 1517.6h0M640.4 1524.9h0M620 1525.1h0M635.6 1520.1h0M648.4 1520.4h0M652.9 1509.6h0M662.5 1568.1h0M630.8 1601h0M663.6 1584.2h0M621.9 1598.6h0M690 1367.5h0M656.5 1358.6h0M673.1 1363.6h0M643.2 1371.6h0M654.9 1379.1h0M704.6 1381.3h0M682.2 1383.4h0M695.4 1362.2h0M668 1360.7h0M691.5 1384.9h0M670.2 1364h0M670 1362.9h0M559.4 1402.8h0M556.5 1380.7h0M571.1 1397.6h0M549.2 1392.7h0M573.1 1392.9h0M556 1387.7h0M557.4 1382.3h0M562.8 1385.6h0M569.5 1379.9h0M555.5 1387.9h0M560.3 1420.7h0M554.6 1393.5h0M556.1 1393.6h0M566.7 1410.8h0M466.3 1607.6h0M455 1622.1h0" stroke="#49f52a" stroke-width="1" stroke-linecap="round" stroke-opacity="1.0" fill="none"/><path d="M589.3 1476.5h0M593.6 1463.3h0M625.3 1515.9h0M613.4 1519.6h0M624 1522.5h0M651.5 1514.3h0M620.5 1522.2h0M632.1 1522.6h0M648.8 1521.2h0M597 1528.8h0M655.4 1516.9h0M642.6 1521.8h0M646.2 1520.8h0M643.4 1521h0M642.7 1515.7h0M640.8 1521h0M642.9 1512.4h0M616.3 1596.3h0M610.9 1606.8h0M622.3 1590.1h0M601.9 1603.3h0M614.2 1592.6h0M596.2 1593.9h0M625.4 1602.1h0M637.3 1591.7h0M602.2 1602.9h0M616.7 1595.7h0M588.9 1611.4h0M620.9 1599.2h0M635.4 1594.2h0M603 1595.3h0M611.1 1588.4h0M663.1 1573h0M659 1590.9h0M623.3 1601.6h0M663.3 1581.5h0M644.7 1596.7h0M658.8 1567.1h0M662.9 1588.2h0M645.4 1598.5h0M662.9 1568.9h0M664.9 1576.3h0M663.5 1576.8h0M663.1 1571.4h0M642.9 1599.9h0M670.7 1387.9h0M675.9 1382.2h0M669.5 1375.9h0M666 1390.1h0M680.8 1372.2h0M681 1371.4h0M658 1362h0M663.1 1382.9h0M688.5 1382.5h0M694.8 1372.4h0M564.1 1378.8h0M563 1384.3h0M466 1618.7h0" stroke="#49f52a" stroke-width="2" stroke-linecap="round" stroke-opacity="0.8" fill="none"/><path d="M577.3 1466h0M555.8 1474.1h0M567.2 1467.1h0M589.5 1485.1h0M633 1519.1h0M632.7 1518.9h0M671.8 1516.6h0M641.6 1514.1h0M645.6 1504.9h0M652 1592.6h0M616.2 1593.7h0M611.6 1591.8h0M626.8 1607.4h0M606.8 1590.3h0M630.8 1601.5h0M656.8 1588.6h0M663.7 1376.1h0M680.4 1369.2h0M708.5 1359.7h0M670.5 1370.9h0M689.9 1384.7h0M657.5 1368.1h0M560.4 1369.3h0M555.6 1382.7h0M558 1396h0M549.8 1376.9h0M550.9 1399.6h0M566 1397.5h0M469.1 1625.2h0M462 1619h0" stroke="#49f52a" stroke-width="1" stroke-linecap="round" stroke-opacity="0.8" fill="none"/><path d="M633.9 1520.1h0M616.8 1519.6h0M628.7 1520.7h0M613.4 1525.7h0M636.4 1524.4h0M626.5 1519.3h0M668.7 1514.2h0M603.3 1527.5h0M634.1 1523.1h0M626.7 1527.6h0M606.5 1523.3h0M601.8 1528.6h0M651.4 1528h0M648.7 1514.4h0M616.4 1596h0M604.7 1595.6h0M618.6 1599.7h0M617.4 1600h0M610 1604.8h0M603.1 1595.3h0M611.4 1593.1h0M643.5 1593h0" stroke="#49f52a" stroke-width="3" stroke-linecap="round" stroke-opacity="0.6" fill="none"/><path d="M653.7 1520.1h0M615.2 1531.1h0M605.2 1523.3h0M635.4 1519.5h0M651.6 1522.4h0M632.3 1520.3h0M630.1 1518.1h0M605.5 1523.5h0M611.8 1524.5h0M647.3 1515.9h0M624.8 1592.2h0M609 1601.9h0M607.9 1593.2h0M615.6 1590.4h0M606.6 1605.7h0M615.8 1599.3h0M659.6 1592.1h0M655.1 1592.4h0M661.3 1583.8h0M665.7 1574.9h0" stroke="#49f52a" stroke-width="3" stroke-linecap="round" stroke-opacity="0.8" fill="none"/><path d="M693.1 1438.4h0M662.8 1365.8h0M595.7 1400.6h0M650.1 1376.6h0M537.8 1604.9h0M571.7 1502.4h0M520 1411.2h0M425.1 1432.6h0M547.1 1364h0M510.4 1465.5h0M427.3 1620.2h0M682.2 1375.5h0M486.1 1440.7h0M516.1 1632.6h0M550 1625h0M643.2 1398.1h0M635.6 1388.7h0M581 1530.2h0M433.8 1505.2h0M601 1607.4h0M590 1567.2h0M432.1 1492.3h0M569.8 1425.1h0M692.6 1468.3h0M575.8 1521.9h0M433.2 1389.8h0M569.6 1591h0M552.2 1565.4h0M637.6 1456.9h0M494.3 1587.5h0M669.4 1504.7h0M653 1628.8h0M524.6 1582.7h0M655.3 1379h0M459 1384.1h0M462.7 1491.2h0M560.1 1377.8h0M519.2 1481h0M539.5 1496h0M425.4 1449.5h0M419.6 1537.7h0M682.5 1408.7h0M690.8 1444.8h0M645.7 1464.9h0M665 1437.8h0M547.7 1516.4h0M649.6 1497.6h0M458.9 1620.9h0M423.3 1439.4h0M683.6 1582h0M465.1 1518.5h0M572.9 1393.1h0M593.1 1438.3h0M423.9 1433.6h0M537.8 1541.3h0M665.7 1531.9h0M435.2 1377.4h0M625.8 1578.3h0M573 1511h0M472 1582.9h0M549.4 1527.1h0M691 1613.2h0M514.8 1576.4h0M543.1 1563.2h0M674.8 1613.7h0M543.1 1631.3h0M566.9 1619.1h0M495.2 1600h0M506.1 1451.4h0M663.6 1368.5h0" stroke="#49f52a" stroke-width="1" stroke-linecap="round" stroke-opacity="0.5" fill="none"/></g>
</g>
<line x1="661.3" y1="1631.7" x2="691" y2="1631.7" stroke="#e6d820" stroke-width="2.4" />
<text x="762" y="1003.7" font-size="55" text-anchor="start" font-weight="bold" font-style="normal" fill="#231f20" >F</text>
<path d="M1103.6 1252.2C1103.4 1254.5 1102.3 1262.2 1102.1 1266.1C1101.9 1269.9 1102.3 1272.2 1102.3 1275.3C1102.4 1278.4 1102.6 1281 1102.6 1284.5C1102.5 1288 1102.3 1292.2 1102.1 1296C1101.9 1299.9 1101.6 1303.7 1101.2 1307.6C1100.8 1311.4 1100.2 1315.3 1099.8 1319.1C1099.4 1322.9 1098.9 1326.8 1098.6 1330.6C1098.4 1334.5 1098.7 1338.7 1098.2 1342.2C1097.6 1345.6 1096.3 1348.7 1095.4 1351.4C1094.5 1354.1 1093.3 1356 1092.6 1358.3C1092 1360.6 1091.4 1362.9 1091.3 1365.2C1091.1 1367.5 1092.4 1370.2 1091.7 1372.1C1091 1374.1 1089 1374.8 1087.1 1376.8C1085.3 1378.7 1082.7 1381.4 1080.7 1383.7C1078.6 1386 1076.2 1388.3 1074.9 1390.6C1073.5 1392.9 1073.2 1394.8 1072.6 1397.5C1071.9 1400.2 1070.8 1403.9 1071 1406.7C1071.2 1409.6 1071.9 1412.5 1073.7 1414.8C1075.5 1417.1 1079.1 1418.8 1081.8 1420.6C1084.5 1422.3 1087.2 1423.6 1089.9 1425.2C1092.6 1426.7 1095.9 1428.3 1098 1429.8C1100 1431.3 1101.4 1432.3 1102.3 1434.4C1103.3 1436.5 1103.4 1441.1 1103.6 1442.5 L1103.8 1442.5C1104 1441.1 1104.2 1436.5 1105.1 1434.4C1106 1432.3 1107.4 1431.3 1109.5 1429.8C1111.6 1428.3 1114.9 1426.7 1117.6 1425.2C1120.2 1423.6 1122.9 1422.3 1125.6 1420.6C1128.3 1418.8 1131.9 1417.1 1133.7 1414.8C1135.5 1412.5 1136.3 1409.6 1136.5 1406.7C1136.7 1403.9 1135.5 1400.2 1134.9 1397.5C1134.2 1394.8 1133.9 1392.9 1132.5 1390.6C1131.2 1388.3 1128.8 1386 1126.8 1383.7C1124.7 1381.4 1122.2 1378.7 1120.3 1376.8C1118.5 1374.8 1116.4 1374.1 1115.7 1372.1C1115 1370.2 1116.3 1367.5 1116.2 1365.2C1116 1362.9 1115.5 1360.6 1114.8 1358.3C1114.1 1356 1112.9 1354.1 1112 1351.4C1111.1 1348.7 1109.8 1345.6 1109.3 1342.2C1108.7 1338.7 1109.1 1334.5 1108.8 1330.6C1108.5 1326.8 1108.1 1322.9 1107.6 1319.1C1107.2 1315.3 1106.6 1311.4 1106.3 1307.6C1105.9 1303.7 1105.6 1299.9 1105.3 1296C1105.1 1292.2 1104.9 1288 1104.9 1284.5C1104.8 1281 1105 1278.4 1105.1 1275.3C1105.2 1272.2 1105.5 1269.9 1105.3 1266.1C1105.1 1262.2 1104.1 1254.5 1103.8 1252.2 Z" fill="#2a1ff7" stroke="#111" stroke-width="1.8" stroke-linejoin="round"/>
<line x1="1103.7" y1="1202.6" x2="1103.7" y2="1254.2" stroke="#111" stroke-width="1.4" />
<line x1="1075.4" y1="1395.2" x2="1133" y2="1395.2" stroke="#111" stroke-width="1.4" stroke-dasharray="7 3"/>
<line x1="1097.3" y1="1369.4" x2="1114.6" y2="1369.4" stroke="#111" stroke-width="1.3" stroke-dasharray="1.3 3.4"/>
<line x1="1073.5" y1="1407.9" x2="1134.6" y2="1407.9" stroke="#111" stroke-width="1.3" stroke-dasharray="1.3 3.4"/>
<path d="M1207.2 1350.2C1207 1351.6 1206.7 1355.8 1206.3 1358.3C1206 1360.8 1205.7 1362.9 1205.2 1365.2C1204.7 1367.5 1204 1370.2 1203.6 1372.1C1203.1 1374.1 1202.8 1374.8 1202.4 1376.8C1202 1378.7 1202 1381.4 1201.3 1383.7C1200.5 1386 1199.3 1388.3 1198 1390.6C1196.8 1392.9 1195.5 1395.4 1193.9 1397.5C1192.3 1399.6 1189.8 1401.5 1188.4 1403.3C1186.9 1405 1185.9 1406.2 1185.1 1407.9C1184.3 1409.6 1184.4 1411.9 1183.5 1413.7C1182.7 1415.4 1181.2 1416.9 1180.1 1418.3C1178.9 1419.6 1177.3 1420.6 1176.4 1421.7C1175.4 1422.9 1174.4 1424 1174.5 1425.2C1174.7 1426.3 1175.6 1427.3 1177.3 1428.6C1179 1430 1181.6 1431.7 1184.7 1433.3C1187.7 1434.8 1192.7 1436.5 1195.7 1437.9C1198.8 1439.2 1201.4 1440.3 1203.1 1441.3C1204.8 1442.4 1205.4 1442.9 1206.1 1444.1C1206.8 1445.2 1207 1447.6 1207.2 1448.2 L1207.4 1448.2C1207.6 1447.6 1207.7 1445.2 1208.4 1444.1C1209.1 1442.9 1209.7 1442.4 1211.4 1441.3C1213.2 1440.3 1215.7 1439.2 1218.8 1437.9C1221.9 1436.5 1226.8 1434.8 1229.9 1433.3C1232.9 1431.7 1235.6 1430 1237.3 1428.6C1238.9 1427.3 1239.9 1426.3 1240 1425.2C1240.2 1424 1239.1 1422.9 1238.2 1421.7C1237.3 1420.6 1235.7 1419.6 1234.5 1418.3C1233.3 1416.9 1231.9 1415.4 1231 1413.7C1230.2 1411.9 1230.2 1409.6 1229.4 1407.9C1228.6 1406.2 1227.6 1405 1226.2 1403.3C1224.7 1401.5 1222.3 1399.6 1220.6 1397.5C1219 1395.4 1217.7 1392.9 1216.5 1390.6C1215.3 1388.3 1214 1386 1213.3 1383.7C1212.5 1381.4 1212.5 1378.7 1212.1 1376.8C1211.7 1374.8 1211.4 1374.1 1211 1372.1C1210.5 1370.2 1209.8 1367.5 1209.3 1365.2C1208.9 1362.9 1208.5 1360.8 1208.2 1358.3C1207.9 1355.8 1207.5 1351.6 1207.4 1350.2 Z" fill="#fb2b14" stroke="#111" stroke-width="1.8" stroke-linejoin="round"/>
<line x1="1207.3" y1="1209.5" x2="1207.3" y2="1352.2" stroke="#111" stroke-width="1.4" />
<line x1="1184.2" y1="1416.7" x2="1231" y2="1416.7" stroke="#111" stroke-width="1.4" stroke-dasharray="7 3"/>
<line x1="1196.4" y1="1404" x2="1219.5" y2="1404" stroke="#111" stroke-width="1.3" stroke-dasharray="1.3 3.4"/>
<line x1="1179.8" y1="1426.3" x2="1236.1" y2="1426.3" stroke="#111" stroke-width="1.3" stroke-dasharray="1.3 3.4"/>
<path d="M1103.7 1183V1162.7H1207.3V1190.4" fill="none" stroke="#111" stroke-width="1.5"/>
<text x="1156.1" y="1163" font-size="52" text-anchor="middle" font-weight="bold" font-style="normal" fill="#111" >****</text>
<line x1="1035" y1="1167.6" x2="1035" y2="1500.5" stroke="#111" stroke-width="2.0" />
<line x1="1034" y1="1499.5" x2="1277" y2="1499.5" stroke="#111" stroke-width="2.0" />
<line x1="1022" y1="1168.5" x2="1035" y2="1168.5" stroke="#111" stroke-width="2.0" />
<text x="1017.5" y="1177.3" font-size="24.5" text-anchor="end" font-weight="bold" font-style="normal" fill="#111" >0.015</text>
<line x1="1022" y1="1278.8" x2="1035" y2="1278.8" stroke="#111" stroke-width="2.0" />
<text x="1017.5" y="1287.6" font-size="24.5" text-anchor="end" font-weight="bold" font-style="normal" fill="#111" >0.010</text>
<line x1="1022" y1="1389.1" x2="1035" y2="1389.1" stroke="#111" stroke-width="2.0" />
<text x="1017.5" y="1397.9" font-size="24.5" text-anchor="end" font-weight="bold" font-style="normal" fill="#111" >0.005</text>
<line x1="1022" y1="1499.4" x2="1035" y2="1499.4" stroke="#111" stroke-width="2.0" />
<text x="1017.5" y="1508.2" font-size="24.5" text-anchor="end" font-weight="bold" font-style="normal" fill="#111" >0.000</text>
<line x1="1103.7" y1="1499.5" x2="1103.7" y2="1512.5" stroke="#111" stroke-width="2.0" />
<line x1="1207.3" y1="1499.5" x2="1207.3" y2="1512.5" stroke="#111" stroke-width="2.0" />
<text x="1095" y="1538" font-size="28" text-anchor="middle" font-weight="bold" font-style="normal" fill="#111" >EMEM</text>
<text x="1215" y="1538" font-size="28" text-anchor="middle" font-weight="bold" font-style="normal" fill="#111" >Plasmax</text>
<text transform="translate(905 1333) rotate(-90)" font-size="27.7" text-anchor="middle" font-weight="bold" fill="#111">BODIPY intensity</text>
<text transform="translate(939.8 1333) rotate(-90)" font-size="27.6" text-anchor="middle" font-weight="bold" fill="#111">per cell (a.u.)</text>
<text x="1387" y="1003.7" font-size="55" text-anchor="start" font-weight="bold" font-style="normal" fill="#231f20" >G</text>
<line x1="1565.4" y1="1043" x2="1565.4" y2="1564.3" stroke="#111" stroke-width="2.2" />
<line x1="1564.3" y1="1563.2" x2="1967" y2="1563.2" stroke="#111" stroke-width="2.2" />
<line x1="1551.4" y1="1563.2" x2="1565.4" y2="1563.2" stroke="#111" stroke-width="2.0" />
<text x="1549" y="1572.5" font-size="25.2" text-anchor="end" font-weight="bold" font-style="normal" fill="#111" >0</text>
<line x1="1558.4" y1="1511.3" x2="1565.4" y2="1511.3" stroke="#111" stroke-width="2.0" />
<line x1="1551.4" y1="1459.4" x2="1565.4" y2="1459.4" stroke="#111" stroke-width="2.0" />
<text x="1549" y="1468.7" font-size="25.2" text-anchor="end" font-weight="bold" font-style="normal" fill="#111" >20</text>
<line x1="1558.4" y1="1407.4" x2="1565.4" y2="1407.4" stroke="#111" stroke-width="2.0" />
<line x1="1551.4" y1="1355.5" x2="1565.4" y2="1355.5" stroke="#111" stroke-width="2.0" />
<text x="1549" y="1364.8" font-size="25.2" text-anchor="end" font-weight="bold" font-style="normal" fill="#111" >40</text>
<line x1="1558.4" y1="1303.6" x2="1565.4" y2="1303.6" stroke="#111" stroke-width="2.0" />
<line x1="1551.4" y1="1251.7" x2="1565.4" y2="1251.7" stroke="#111" stroke-width="2.0" />
<text x="1549" y="1261" font-size="25.2" text-anchor="end" font-weight="bold" font-style="normal" fill="#111" >60</text>
<line x1="1558.4" y1="1199.8" x2="1565.4" y2="1199.8" stroke="#111" stroke-width="2.0" />
<line x1="1551.4" y1="1147.8" x2="1565.4" y2="1147.8" stroke="#111" stroke-width="2.0" />
<text x="1549" y="1157.1" font-size="25.2" text-anchor="end" font-weight="bold" font-style="normal" fill="#111" >80</text>
<line x1="1558.4" y1="1095.9" x2="1565.4" y2="1095.9" stroke="#111" stroke-width="2.0" />
<line x1="1551.4" y1="1044" x2="1565.4" y2="1044" stroke="#111" stroke-width="2.0" />
<text x="1549" y="1053.3" font-size="25.2" text-anchor="end" font-weight="bold" font-style="normal" fill="#111" >100</text>
<line x1="1565.4" y1="1563.2" x2="1565.4" y2="1576" stroke="#111" stroke-width="2.0" />
<text x="1565.4" y="1602" font-size="25.2" text-anchor="middle" font-weight="bold" font-style="normal" fill="#111" >0</text>
<line x1="1644.4" y1="1563.2" x2="1644.4" y2="1576" stroke="#111" stroke-width="2.0" />
<text x="1644.4" y="1602" font-size="25.2" text-anchor="middle" font-weight="bold" font-style="normal" fill="#111" >250</text>
<line x1="1723.4" y1="1563.2" x2="1723.4" y2="1576" stroke="#111" stroke-width="2.0" />
<text x="1723.4" y="1602" font-size="25.2" text-anchor="middle" font-weight="bold" font-style="normal" fill="#111" >500</text>
<line x1="1802.4" y1="1563.2" x2="1802.4" y2="1576" stroke="#111" stroke-width="2.0" />
<text x="1802.4" y="1602" font-size="25.2" text-anchor="middle" font-weight="bold" font-style="normal" fill="#111" >750</text>
<line x1="1881.4" y1="1563.2" x2="1881.4" y2="1576" stroke="#111" stroke-width="2.0" />
<text x="1881.4" y="1602" font-size="25.2" text-anchor="middle" font-weight="bold" font-style="normal" fill="#111" >1000</text>
<line x1="1960.4" y1="1563.2" x2="1960.4" y2="1576" stroke="#111" stroke-width="2.0" />
<text x="1960.4" y="1602" font-size="25.2" text-anchor="middle" font-weight="bold" font-style="normal" fill="#111" >1250</text>
<polyline points="1565.4,1044 1644.4,1087.1 1723.4,1135.4 1802.4,1196.1 1881.4,1317.6 1960.4,1418.9" fill="none" stroke="#fb2b14" stroke-width="1.9"/>
<path d="M1644.4 1068.9V1105.3M1636.9 1068.9H1651.9M1636.9 1105.3H1651.9" stroke="#fb2b14" stroke-width="1.7" fill="none"/>
<path d="M1723.4 1104.7V1166M1715.9 1104.7H1730.9M1715.9 1166H1730.9" stroke="#fb2b14" stroke-width="1.7" fill="none"/>
<path d="M1802.4 1165V1227.3M1794.9 1165H1809.9M1794.9 1227.3H1809.9" stroke="#fb2b14" stroke-width="1.7" fill="none"/>
<path d="M1881.4 1244.4V1390.8M1873.9 1244.4H1888.9M1873.9 1390.8H1888.9" stroke="#fb2b14" stroke-width="1.7" fill="none"/>
<path d="M1960.4 1372.1V1465.6M1952.9 1372.1H1967.9M1952.9 1465.6H1967.9" stroke="#fb2b14" stroke-width="1.7" fill="none"/>
<rect x="1557.9" y="1036.5" width="15" height="15" fill="#fb2b14"/>
<rect x="1636.9" y="1079.6" width="15" height="15" fill="#fb2b14"/>
<rect x="1715.9" y="1127.9" width="15" height="15" fill="#fb2b14"/>
<rect x="1794.9" y="1188.6" width="15" height="15" fill="#fb2b14"/>
<rect x="1873.9" y="1310.1" width="15" height="15" fill="#fb2b14"/>
<rect x="1952.9" y="1411.4" width="15" height="15" fill="#fb2b14"/>
<polyline points="1565.4,1044 1644.4,1143.2 1723.4,1185.2 1802.4,1230.4 1881.4,1505 1960.4,1543" fill="none" stroke="#2a1ff7" stroke-width="1.9"/>
<path d="M1644.4 1129.1V1157.2M1636.9 1129.1H1651.9M1636.9 1157.2H1651.9" stroke="#2a1ff7" stroke-width="1.7" fill="none"/>
<path d="M1723.4 1169.6V1200.8M1715.9 1169.6H1730.9M1715.9 1200.8H1730.9" stroke="#2a1ff7" stroke-width="1.7" fill="none"/>
<path d="M1802.4 1208.6V1252.2M1794.9 1208.6H1809.9M1794.9 1252.2H1809.9" stroke="#2a1ff7" stroke-width="1.7" fill="none"/>
<path d="M1881.4 1483.8V1526.3M1873.9 1483.8H1888.9M1873.9 1526.3H1888.9" stroke="#2a1ff7" stroke-width="1.7" fill="none"/>
<path d="M1960.4 1536.2V1549.7M1952.9 1536.2H1967.9M1952.9 1549.7H1967.9" stroke="#2a1ff7" stroke-width="1.7" fill="none"/>
<circle cx="1565.4" cy="1044" r="7.4" fill="#2a1ff7"/>
<circle cx="1644.4" cy="1143.2" r="7.4" fill="#2a1ff7"/>
<circle cx="1723.4" cy="1185.2" r="7.4" fill="#2a1ff7"/>
<circle cx="1802.4" cy="1230.4" r="7.4" fill="#2a1ff7"/>
<circle cx="1881.4" cy="1505" r="7.4" fill="#2a1ff7"/>
<circle cx="1960.4" cy="1543" r="7.4" fill="#2a1ff7"/>
<text x="1759" y="1637.7" font-size="28" text-anchor="middle" font-weight="bold" font-style="normal" fill="#111" >Ethanol (mM)</text>
<text transform="translate(1500 1309) rotate(-90)" font-size="26.5" text-anchor="middle" font-weight="bold" fill="#111">Cell Viability (%)</text>
<text x="1881.4" y="1235" font-size="26.5" text-anchor="middle" font-weight="bold" font-style="normal" fill="#111" >***</text>
<text x="1960.4" y="1369" font-size="26.5" text-anchor="middle" font-weight="bold" font-style="normal" fill="#111" >*</text>
<line x1="1593.7" y1="1479" x2="1627.6" y2="1479" stroke="#2a1ff7" stroke-width="1.7" />
<circle cx="1610.6" cy="1479" r="6" fill="#2a1ff7"/>
<text x="1642" y="1487.5" font-size="28" text-anchor="start" font-weight="normal" font-style="normal" fill="#111" >EMEM</text>
<line x1="1593.7" y1="1522.2" x2="1627.6" y2="1522.2" stroke="#fb2b14" stroke-width="1.7" />
<rect x="1604.6" y="1516.2" width="12" height="12" fill="#fb2b14"/>
<text x="1642" y="1530.7" font-size="28" text-anchor="start" font-weight="normal" font-style="normal" fill="#111" >Plasmax</text>
</svg>
</body></html>
